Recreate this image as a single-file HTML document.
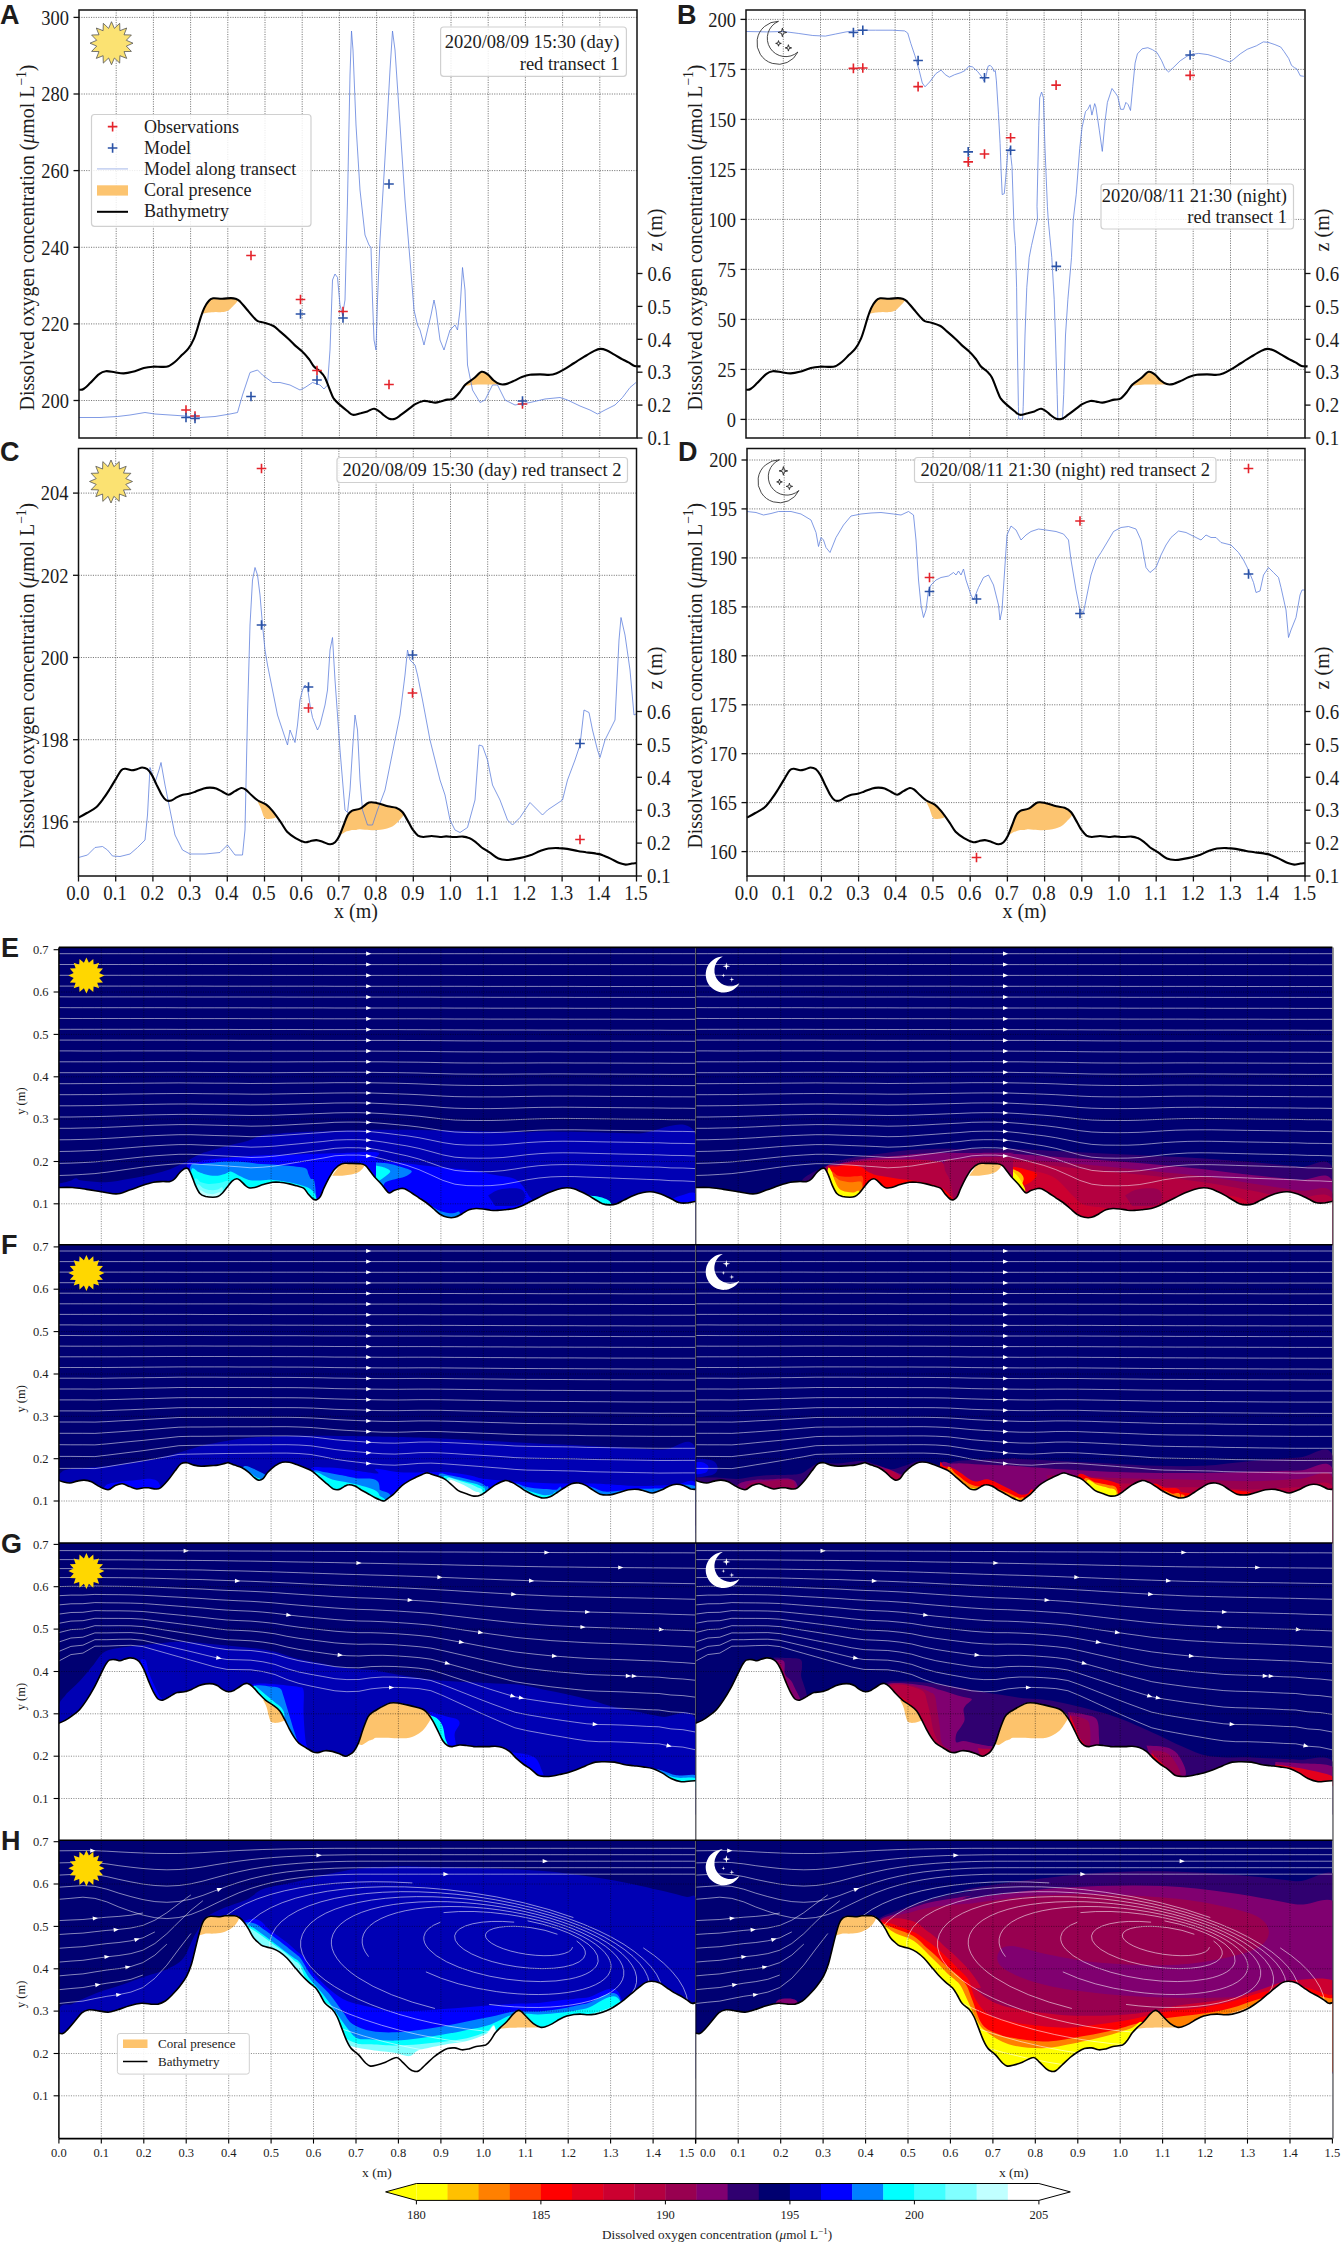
<!DOCTYPE html><html><head><meta charset="utf-8"><style>html,body{margin:0;padding:0;background:#fff;width:1342px;height:2244px;overflow:hidden}svg{display:block}text{fill:#1c1c1c}</style></head><body>
<svg width="1342" height="2244" viewBox="0 0 1342 2244">
<rect width="1342" height="2244" fill="#fff"/>
<g>
<line x1="116.2" y1="10" x2="116.2" y2="438" stroke="#555" stroke-width="0.8" stroke-dasharray="1.1 1.3"/>
<line x1="153.4" y1="10" x2="153.4" y2="438" stroke="#555" stroke-width="0.8" stroke-dasharray="1.1 1.3"/>
<line x1="190.6" y1="10" x2="190.6" y2="438" stroke="#555" stroke-width="0.8" stroke-dasharray="1.1 1.3"/>
<line x1="227.8" y1="10" x2="227.8" y2="438" stroke="#555" stroke-width="0.8" stroke-dasharray="1.1 1.3"/>
<line x1="265" y1="10" x2="265" y2="438" stroke="#555" stroke-width="0.8" stroke-dasharray="1.1 1.3"/>
<line x1="302.2" y1="10" x2="302.2" y2="438" stroke="#555" stroke-width="0.8" stroke-dasharray="1.1 1.3"/>
<line x1="339.4" y1="10" x2="339.4" y2="438" stroke="#555" stroke-width="0.8" stroke-dasharray="1.1 1.3"/>
<line x1="376.6" y1="10" x2="376.6" y2="438" stroke="#555" stroke-width="0.8" stroke-dasharray="1.1 1.3"/>
<line x1="413.8" y1="10" x2="413.8" y2="438" stroke="#555" stroke-width="0.8" stroke-dasharray="1.1 1.3"/>
<line x1="451" y1="10" x2="451" y2="438" stroke="#555" stroke-width="0.8" stroke-dasharray="1.1 1.3"/>
<line x1="488.2" y1="10" x2="488.2" y2="438" stroke="#555" stroke-width="0.8" stroke-dasharray="1.1 1.3"/>
<line x1="525.4" y1="10" x2="525.4" y2="438" stroke="#555" stroke-width="0.8" stroke-dasharray="1.1 1.3"/>
<line x1="562.6" y1="10" x2="562.6" y2="438" stroke="#555" stroke-width="0.8" stroke-dasharray="1.1 1.3"/>
<line x1="599.8" y1="10" x2="599.8" y2="438" stroke="#555" stroke-width="0.8" stroke-dasharray="1.1 1.3"/>
<line x1="79" y1="400.5" x2="637" y2="400.5" stroke="#555" stroke-width="0.8" stroke-dasharray="1.1 1.3"/>
<line x1="79" y1="323.9" x2="637" y2="323.9" stroke="#555" stroke-width="0.8" stroke-dasharray="1.1 1.3"/>
<line x1="79" y1="247.3" x2="637" y2="247.3" stroke="#555" stroke-width="0.8" stroke-dasharray="1.1 1.3"/>
<line x1="79" y1="170.6" x2="637" y2="170.6" stroke="#555" stroke-width="0.8" stroke-dasharray="1.1 1.3"/>
<line x1="79" y1="94" x2="637" y2="94" stroke="#555" stroke-width="0.8" stroke-dasharray="1.1 1.3"/>
<line x1="79" y1="17.4" x2="637" y2="17.4" stroke="#555" stroke-width="0.8" stroke-dasharray="1.1 1.3"/>
<path d="M202,313.7 C202.5,312.6 204,309.2 205.3,307 C206.6,304.8 208.5,301.7 209.8,300.3 C211.1,298.9 211.1,298.8 213.1,298.5 C215.2,298.2 219.1,298.8 222.1,298.7 C225.1,298.7 228.4,298 231,298.3 C233.6,298.5 237.3,299 237.7,300.3 C238.1,301.6 234.9,304.1 233.2,305.9 C231.6,307.6 229.5,309.8 227.7,310.8 C225.8,311.8 224.1,312 222.1,312.1 C220,312.3 217.6,311.8 215.4,311.9 C213.1,312 209.8,312.5 208.7,312.6Z" fill="#fcc470"/>
<path d="M464.5,386.1 C465.4,385.3 467.7,383.1 469.6,381.5 C471.4,379.9 473.6,378.1 475.6,376.5 C477.6,374.8 479.6,372.2 481.6,371.8 C483.7,371.5 485.7,373 487.7,374.4 C489.7,375.9 491.9,378.9 493.7,380.5 C495.6,382.1 499.1,383.4 498.7,384.1 C498.4,384.8 495.2,384.4 491.7,384.5 C488.2,384.6 481.6,384.3 477.6,384.5 C473.6,384.7 469.2,385.3 467.6,385.5Z" fill="#fcc470"/>
<path d="M79,417.5 L100,417.5 L117.5,416.5 L130,415 L145,412.5 L155,414 L170,415 L185,416 L200,417.5 L215,416.5 L230,414 L237.5,412.5 L242.5,395 L250,372.5 L257.5,370 L262.5,375 L272.5,382.5 L280,382.5 L290,385 L300,390 L305,387.5 L312.5,382.5 L320,385 L324,389 L327.5,385 L330,350 L332.5,280 L335,274 L337.5,277.5 L340,305 L342.5,315 L345,300 L347.5,200 L350,75 L351.5,31 L353,50 L356,125 L360,190 L365,235 L369,245 L371,247.5 L372.5,300 L374,340 L376,350 L377.5,300 L380,240 L384,175 L387.5,115 L390,70 L392.5,31 L395,50 L400,125 L405,200 L410,260 L414,310 L417.5,325 L420,330 L424,345 L427.5,330 L431,315 L434,300 L436,310 L440,340 L444,350 L450,330 L455,325 L457.5,330 L460,310 L462.5,267.5 L465,290 L467.5,365 L472.5,390 L480,402.5 L485,400 L492.5,385 L497.5,385 L505,400 L515,405 L530,402.5 L545,399 L560,397.5 L567.5,400 L580,406 L590,410 L597.5,414 L605,410 L615,405 L622.5,397.5 L630,387.5 L636,382.5" fill="none" stroke="#5a7cdc" stroke-width="0.85" stroke-opacity="0.9" stroke-linejoin="round"/>
<path d="M79,389.7 C79.7,389.6 81.6,390.2 83.5,389 C85.3,387.9 87.6,385.5 90.2,383 C92.8,380.5 96.5,376 99.1,374.1 C101.7,372.1 103.2,371.5 105.8,371.2 C108.4,370.9 111.8,371.9 114.8,372.3 C117.7,372.7 120.7,373.5 123.7,373.4 C126.7,373.3 129.3,372.7 132.7,371.8 C136,370.9 140.5,368.9 143.8,368 C147.2,367.2 149.8,366.9 152.8,366.7 C155.8,366.5 159.1,367 161.7,366.9 C164.3,366.8 166.2,367.1 168.4,366.2 C170.7,365.4 172.9,363.6 175.1,361.8 C177.4,359.9 179.6,357.3 181.8,355.1 C184.1,352.8 186.5,351.2 188.5,348.4 C190.6,345.6 192.6,341.7 194.1,338.3 C195.6,334.9 196.4,331.8 197.5,328.2 C198.6,324.7 199.7,320.4 200.8,317.1 C202,313.7 202.9,310.8 204.2,308.1 C205.5,305.4 207.2,302.6 208.7,301 C210.1,299.3 210.9,298.7 213.1,298.3 C215.4,297.9 219.1,298.8 222.1,298.7 C225.1,298.7 228.8,298.1 231,298.1 C233.2,298.1 234,298.2 235.5,298.7 C237,299.3 238.1,299.7 240,301.4 C241.8,303.2 244.4,306.6 246.7,309.2 C248.9,311.8 251.5,315.1 253.4,317.1 C255.2,319 256,320.2 257.8,321.1 C259.7,322 261.9,321.8 264.5,322.7 C267.2,323.5 270.9,324.5 273.5,326 C276.1,327.5 277.6,329.4 280.2,331.6 C282.8,333.8 286.5,337 289.1,339.4 C291.7,341.8 293.6,344.1 295.8,346.1 C298.1,348.2 300.3,349.5 302.5,351.7 C304.8,353.9 307.4,357.1 309.3,359.5 C311.1,362 311.9,364.2 313.7,366.2 C315.6,368.3 318.6,370 320.4,371.8 C322.3,373.7 323.4,374.6 324.9,377.4 C326.4,380.2 327.9,385.1 329.4,388.6 C330.9,392.1 332,395.9 333.8,398.7 C335.7,401.5 338.3,403.3 340.5,405.4 C342.8,407.4 345.2,409.4 347.3,411 C349.3,412.5 350.6,414.4 352.8,414.8 C355.1,415.1 358.2,413.7 360.7,413.2 C363.1,412.6 365.1,412.1 367.4,411.4 C369.6,410.7 371.8,408.5 374.1,408.7 C376.4,408.9 379.6,411.7 381,412.7 C382.5,413.7 381.7,413.7 383.1,414.7 C384.4,415.7 387.1,418 389.1,418.7 C391.1,419.4 393.1,419.4 395.1,418.7 C397.1,418 398.8,416.4 401.2,414.7 C403.5,413 406.9,410.4 409.2,408.6 C411.6,406.9 412.9,405.5 415.3,404.2 C417.6,402.9 421,401.4 423.3,401 C425.6,400.6 427.3,401.3 429.3,401.6 C431.3,401.9 433.4,402.7 435.4,402.6 C437.4,402.5 439.4,401.7 441.4,401.2 C443.4,400.7 445.4,400 447.4,399.6 C449.5,399.2 451.5,399.8 453.5,398.6 C455.5,397.4 457.5,394.9 459.5,392.5 C461.5,390.2 463.2,386.8 465.5,384.5 C467.9,382.2 470.9,380.6 473.6,378.5 C476.3,376.4 479.3,372.5 481.6,371.8 C484,371.2 485.7,373 487.7,374.4 C489.7,375.9 491.7,378.9 493.7,380.5 C495.7,382.1 497.7,383.5 499.8,384.1 C501.8,384.7 503.4,384.6 505.8,384.1 C508.1,383.6 511.2,382.1 513.8,380.9 C516.5,379.7 519.2,378.1 521.9,377.1 C524.6,376.1 526.9,375.3 529.9,374.8 C532.9,374.4 536.6,374.4 540,374.4 C543.3,374.4 547.4,375 550,374.8 C552.7,374.7 553.7,374.3 556.1,373.4 C558.4,372.5 561.1,371.2 564.1,369.4 C567.2,367.7 570.8,365.1 574.2,363 C577.5,360.9 580.9,358.7 584.3,356.7 C587.6,354.7 591.6,352.2 594.3,350.9 C597,349.6 598.3,349 600.3,348.9 C602.4,348.8 604,349.3 606.4,350.3 C608.7,351.3 611.7,353.2 614.4,354.7 C617.1,356.2 620.1,358.1 622.5,359.4 C624.8,360.6 626.5,361.3 628.5,362.4 C630.5,363.5 632.5,365.3 634.5,366 C636.6,366.7 639.6,366.3 640.6,366.4" fill="none" stroke="#000" stroke-width="2.1" stroke-linejoin="round"/>
<path d="M181.2,410H190.8M186,405.2V414.8" stroke="#e4232b" stroke-width="1.6" fill="none"/>
<path d="M190.2,416H199.8M195,411.2V420.8" stroke="#e4232b" stroke-width="1.6" fill="none"/>
<path d="M246.2,255.5H255.8M251,250.7V260.3" stroke="#e4232b" stroke-width="1.6" fill="none"/>
<path d="M295.7,299.5H305.3M300.5,294.7V304.3" stroke="#e4232b" stroke-width="1.6" fill="none"/>
<path d="M312.2,370.5H321.8M317,365.7V375.3" stroke="#e4232b" stroke-width="1.6" fill="none"/>
<path d="M338.2,311.5H347.8M343,306.7V316.3" stroke="#e4232b" stroke-width="1.6" fill="none"/>
<path d="M384.2,384.5H393.8M389,379.7V389.3" stroke="#e4232b" stroke-width="1.6" fill="none"/>
<path d="M517.7,404H527.3M522.5,399.2V408.8" stroke="#e4232b" stroke-width="1.6" fill="none"/>
<path d="M181.2,417.5H190.8M186,412.7V422.3" stroke="#2a52a6" stroke-width="1.6" fill="none"/>
<path d="M190.2,418.5H199.8M195,413.7V423.3" stroke="#2a52a6" stroke-width="1.6" fill="none"/>
<path d="M246.2,396.5H255.8M251,391.7V401.3" stroke="#2a52a6" stroke-width="1.6" fill="none"/>
<path d="M295.7,314H305.3M300.5,309.2V318.8" stroke="#2a52a6" stroke-width="1.6" fill="none"/>
<path d="M312.2,380H321.8M317,375.2V384.8" stroke="#2a52a6" stroke-width="1.6" fill="none"/>
<path d="M338.2,318H347.8M343,313.2V322.8" stroke="#2a52a6" stroke-width="1.6" fill="none"/>
<path d="M384.2,184H393.8M389,179.2V188.8" stroke="#2a52a6" stroke-width="1.6" fill="none"/>
<path d="M517.7,401H527.3M522.5,396.2V405.8" stroke="#2a52a6" stroke-width="1.6" fill="none"/>
<rect x="79" y="10" width="558" height="428" fill="none" stroke="#111" stroke-width="1.5"/>
<line x1="73.5" y1="400.5" x2="79" y2="400.5" stroke="#111" stroke-width="1.3"/>
<text transform="translate(69,407.7) scale(0.9,1)" font-size="20.5" text-anchor="end" style="font-family:'Liberation Serif',serif" >200</text>
<line x1="73.5" y1="323.9" x2="79" y2="323.9" stroke="#111" stroke-width="1.3"/>
<text transform="translate(69,331.1) scale(0.9,1)" font-size="20.5" text-anchor="end" style="font-family:'Liberation Serif',serif" >220</text>
<line x1="73.5" y1="247.3" x2="79" y2="247.3" stroke="#111" stroke-width="1.3"/>
<text transform="translate(69,254.5) scale(0.9,1)" font-size="20.5" text-anchor="end" style="font-family:'Liberation Serif',serif" >240</text>
<line x1="73.5" y1="170.6" x2="79" y2="170.6" stroke="#111" stroke-width="1.3"/>
<text transform="translate(69,177.8) scale(0.9,1)" font-size="20.5" text-anchor="end" style="font-family:'Liberation Serif',serif" >260</text>
<line x1="73.5" y1="94" x2="79" y2="94" stroke="#111" stroke-width="1.3"/>
<text transform="translate(69,101.2) scale(0.9,1)" font-size="20.5" text-anchor="end" style="font-family:'Liberation Serif',serif" >280</text>
<line x1="73.5" y1="17.4" x2="79" y2="17.4" stroke="#111" stroke-width="1.3"/>
<text transform="translate(69,24.6) scale(0.9,1)" font-size="20.5" text-anchor="end" style="font-family:'Liberation Serif',serif" >300</text>
<line x1="637" y1="438" x2="642.5" y2="438" stroke="#111" stroke-width="1.3"/>
<text transform="translate(647.5,445.2) scale(0.92,1)" font-size="20.5" text-anchor="start" style="font-family:'Liberation Serif',serif" >0.1</text>
<line x1="637" y1="405.1" x2="642.5" y2="405.1" stroke="#111" stroke-width="1.3"/>
<text transform="translate(647.5,412.3) scale(0.92,1)" font-size="20.5" text-anchor="start" style="font-family:'Liberation Serif',serif" >0.2</text>
<line x1="637" y1="372.2" x2="642.5" y2="372.2" stroke="#111" stroke-width="1.3"/>
<text transform="translate(647.5,379.4) scale(0.92,1)" font-size="20.5" text-anchor="start" style="font-family:'Liberation Serif',serif" >0.3</text>
<line x1="637" y1="339.3" x2="642.5" y2="339.3" stroke="#111" stroke-width="1.3"/>
<text transform="translate(647.5,346.5) scale(0.92,1)" font-size="20.5" text-anchor="start" style="font-family:'Liberation Serif',serif" >0.4</text>
<line x1="637" y1="306.4" x2="642.5" y2="306.4" stroke="#111" stroke-width="1.3"/>
<text transform="translate(647.5,313.6) scale(0.92,1)" font-size="20.5" text-anchor="start" style="font-family:'Liberation Serif',serif" >0.5</text>
<line x1="637" y1="273.5" x2="642.5" y2="273.5" stroke="#111" stroke-width="1.3"/>
<text transform="translate(647.5,280.7) scale(0.92,1)" font-size="20.5" text-anchor="start" style="font-family:'Liberation Serif',serif" >0.6</text>
<text x="0" y="0" font-size="21" text-anchor="middle" style="font-family:'Liberation Serif',serif" transform="translate(34.2,237.5) rotate(-90) scale(0.944,1)">Dissolved oxygen concentration (<tspan font-style="italic">μ</tspan>mol L<tspan dy="-8.5" font-size="14.5">−1</tspan><tspan dy="8.5">)</tspan></text>
<text x="0" y="0" font-size="20" text-anchor="middle" style="font-family:'Liberation Serif',serif" transform="translate(661.9,230) rotate(-90)">z (m)</text>
</g>
<g>
<line x1="783.3" y1="10" x2="783.3" y2="438" stroke="#555" stroke-width="0.8" stroke-dasharray="1.1 1.3"/>
<line x1="820.5" y1="10" x2="820.5" y2="438" stroke="#555" stroke-width="0.8" stroke-dasharray="1.1 1.3"/>
<line x1="857.8" y1="10" x2="857.8" y2="438" stroke="#555" stroke-width="0.8" stroke-dasharray="1.1 1.3"/>
<line x1="895.1" y1="10" x2="895.1" y2="438" stroke="#555" stroke-width="0.8" stroke-dasharray="1.1 1.3"/>
<line x1="932.3" y1="10" x2="932.3" y2="438" stroke="#555" stroke-width="0.8" stroke-dasharray="1.1 1.3"/>
<line x1="969.6" y1="10" x2="969.6" y2="438" stroke="#555" stroke-width="0.8" stroke-dasharray="1.1 1.3"/>
<line x1="1006.9" y1="10" x2="1006.9" y2="438" stroke="#555" stroke-width="0.8" stroke-dasharray="1.1 1.3"/>
<line x1="1044.1" y1="10" x2="1044.1" y2="438" stroke="#555" stroke-width="0.8" stroke-dasharray="1.1 1.3"/>
<line x1="1081.4" y1="10" x2="1081.4" y2="438" stroke="#555" stroke-width="0.8" stroke-dasharray="1.1 1.3"/>
<line x1="1118.7" y1="10" x2="1118.7" y2="438" stroke="#555" stroke-width="0.8" stroke-dasharray="1.1 1.3"/>
<line x1="1155.9" y1="10" x2="1155.9" y2="438" stroke="#555" stroke-width="0.8" stroke-dasharray="1.1 1.3"/>
<line x1="1193.2" y1="10" x2="1193.2" y2="438" stroke="#555" stroke-width="0.8" stroke-dasharray="1.1 1.3"/>
<line x1="1230.5" y1="10" x2="1230.5" y2="438" stroke="#555" stroke-width="0.8" stroke-dasharray="1.1 1.3"/>
<line x1="1267.7" y1="10" x2="1267.7" y2="438" stroke="#555" stroke-width="0.8" stroke-dasharray="1.1 1.3"/>
<line x1="746" y1="419.4" x2="1305" y2="419.4" stroke="#555" stroke-width="0.8" stroke-dasharray="1.1 1.3"/>
<line x1="746" y1="369.4" x2="1305" y2="369.4" stroke="#555" stroke-width="0.8" stroke-dasharray="1.1 1.3"/>
<line x1="746" y1="319.4" x2="1305" y2="319.4" stroke="#555" stroke-width="0.8" stroke-dasharray="1.1 1.3"/>
<line x1="746" y1="269.4" x2="1305" y2="269.4" stroke="#555" stroke-width="0.8" stroke-dasharray="1.1 1.3"/>
<line x1="746" y1="219.4" x2="1305" y2="219.4" stroke="#555" stroke-width="0.8" stroke-dasharray="1.1 1.3"/>
<line x1="746" y1="169.4" x2="1305" y2="169.4" stroke="#555" stroke-width="0.8" stroke-dasharray="1.1 1.3"/>
<line x1="746" y1="119.4" x2="1305" y2="119.4" stroke="#555" stroke-width="0.8" stroke-dasharray="1.1 1.3"/>
<line x1="746" y1="69.4" x2="1305" y2="69.4" stroke="#555" stroke-width="0.8" stroke-dasharray="1.1 1.3"/>
<line x1="746" y1="19.4" x2="1305" y2="19.4" stroke="#555" stroke-width="0.8" stroke-dasharray="1.1 1.3"/>
<path d="M869,313.7 C869.5,312.6 871,309.2 872.3,307 C873.6,304.8 875.5,301.7 876.8,300.3 C878.1,298.9 878.1,298.8 880.1,298.5 C882.2,298.2 886.1,298.8 889.1,298.7 C892.1,298.7 895.4,298 898,298.3 C900.6,298.5 904.3,299 904.7,300.3 C905.1,301.6 901.9,304.1 900.2,305.9 C898.6,307.6 896.5,309.8 894.7,310.8 C892.8,311.8 891.1,312 889.1,312.1 C887,312.3 884.6,311.8 882.4,311.9 C880.1,312 876.8,312.5 875.7,312.6Z" fill="#fcc470"/>
<path d="M1131.5,386.1 C1132.4,385.3 1134.7,383.1 1136.6,381.5 C1138.4,379.9 1140.6,378.1 1142.6,376.5 C1144.6,374.8 1146.6,372.2 1148.6,371.8 C1150.7,371.5 1152.7,373 1154.7,374.4 C1156.7,375.9 1158.9,378.9 1160.7,380.5 C1162.6,382.1 1166.1,383.4 1165.7,384.1 C1165.4,384.8 1162.2,384.4 1158.7,384.5 C1155.2,384.6 1148.6,384.3 1144.6,384.5 C1140.6,384.7 1136.2,385.3 1134.6,385.5Z" fill="#fcc470"/>
<path d="M746,31.5 L766.9,31.9 L783.6,31.5 L798.2,33.4 L812.8,35.5 L825.3,36.1 L835.7,34 L846.1,31.9 L854.5,30.9 L862.8,30.2 L875.4,30.2 L892.1,30.2 L904.6,30.9 L907.7,33 L910.8,43.4 L915,55.9 L919.2,70.5 L922.3,83 L925,86.8 L929.6,82 L935.9,73.6 L941.1,70.1 L945.3,74.7 L949.4,77.2 L954.6,74.7 L960.9,72.6 L965.1,70.5 L968.8,66.3 L972.4,66.8 L977.6,71.5 L981.8,76.8 L983.9,80.9 L985.9,76.8 L988,66.3 L990.1,65.3 L992.2,67.4 L993.9,71.5 L995.3,70.5 L996.4,80.9 L998.5,114.3 L1000.1,143.5 L1001,168.6 L1002.2,194.6 L1004.3,193.6 L1005.8,176.9 L1007.8,151.9 L1009.9,147.7 L1012,166.5 L1014.1,229.9 L1015.4,245.6 L1016.6,287.3 L1017.2,335 L1018.4,406.5 L1018.7,419 L1022.6,419 L1023.2,406.5 L1025,335 L1026.8,287.3 L1029.2,257.5 L1031.5,245.6 L1037.5,219.3 L1037,206.3 L1038.8,125.5 L1039.7,97.8 L1041.6,92 L1043.4,97.8 L1045,148.6 L1047.4,206.3 L1048.2,219.3 L1051.8,257.5 L1054.2,299.2 L1055.4,335 L1057.2,394.6 L1057.8,419 L1062.5,419 L1063.7,394.6 L1065.5,335 L1067.9,299.2 L1071.5,257.5 L1073.3,219.3 L1076.2,194.8 L1079.7,148.6 L1082,127.8 L1085.5,111.6 L1087.8,109.3 L1090.1,104.7 L1091.9,115.1 L1094.7,103.6 L1095.9,107 L1099.3,130.1 L1102.3,151.4 L1105.1,120.9 L1107.4,102.4 L1112,88.5 L1115.5,93.2 L1117.8,96.6 L1120.6,109.3 L1123.6,109.3 L1125.9,102.4 L1128.2,104.7 L1130.5,110.5 L1132.8,86.2 L1135.1,63.1 L1137.4,53.9 L1142.1,48.8 L1147.8,47.7 L1152.5,49.7 L1157.1,52.7 L1161.7,60.8 L1165.2,68.9 L1168.6,71.9 L1173.2,67.7 L1180.2,60.8 L1187.1,56.2 L1191.7,54.4 L1198.7,53.4 L1207.9,54.6 L1217.1,57.4 L1224.1,60.1 L1229.8,62 L1233.3,59.7 L1240.2,53.9 L1247.2,49.3 L1256.4,45.8 L1263.3,41.9 L1268,42.3 L1274.9,44.6 L1280.7,47 L1284.1,51.6 L1288.7,58.5 L1291.5,65.4 L1294.5,67.7 L1296.8,68.9 L1300.3,75.8 L1303.8,76.3" fill="none" stroke="#5a7cdc" stroke-width="0.85" stroke-opacity="0.9" stroke-linejoin="round"/>
<path d="M746,389.7 C746.7,389.6 748.6,390.2 750.5,389 C752.3,387.9 754.6,385.5 757.2,383 C759.8,380.5 763.5,376 766.1,374.1 C768.7,372.1 770.2,371.5 772.8,371.2 C775.4,370.9 778.8,371.9 781.8,372.3 C784.7,372.7 787.7,373.5 790.7,373.4 C793.7,373.3 796.3,372.7 799.7,371.8 C803,370.9 807.5,368.9 810.8,368 C814.2,367.2 816.8,366.9 819.8,366.7 C822.8,366.5 826.1,367 828.7,366.9 C831.3,366.8 833.2,367.1 835.4,366.2 C837.7,365.4 839.9,363.6 842.1,361.8 C844.4,359.9 846.6,357.3 848.8,355.1 C851.1,352.8 853.5,351.2 855.5,348.4 C857.6,345.6 859.6,341.7 861.1,338.3 C862.6,334.9 863.4,331.8 864.5,328.2 C865.6,324.7 866.7,320.4 867.8,317.1 C869,313.7 869.9,310.8 871.2,308.1 C872.5,305.4 874.2,302.6 875.7,301 C877.1,299.3 877.9,298.7 880.1,298.3 C882.4,297.9 886.1,298.8 889.1,298.7 C892.1,298.7 895.8,298.1 898,298.1 C900.2,298.1 901,298.2 902.5,298.7 C904,299.3 905.1,299.7 907,301.4 C908.8,303.2 911.4,306.6 913.7,309.2 C915.9,311.8 918.5,315.1 920.4,317.1 C922.2,319 923,320.2 924.8,321.1 C926.7,322 928.9,321.8 931.5,322.7 C934.2,323.5 937.9,324.5 940.5,326 C943.1,327.5 944.6,329.4 947.2,331.6 C949.8,333.8 953.5,337 956.1,339.4 C958.7,341.8 960.6,344.1 962.8,346.1 C965.1,348.2 967.3,349.5 969.5,351.7 C971.8,353.9 974.4,357.1 976.3,359.5 C978.1,362 978.9,364.2 980.7,366.2 C982.6,368.3 985.6,370 987.4,371.8 C989.3,373.7 990.4,374.6 991.9,377.4 C993.4,380.2 994.9,385.1 996.4,388.6 C997.9,392.1 999,395.9 1000.8,398.7 C1002.7,401.5 1005.3,403.3 1007.5,405.4 C1009.8,407.4 1012.2,409.4 1014.3,411 C1016.3,412.5 1017.6,414.4 1019.8,414.8 C1022.1,415.1 1025.2,413.7 1027.7,413.2 C1030.1,412.6 1032.1,412.1 1034.4,411.4 C1036.6,410.7 1038.8,408.5 1041.1,408.7 C1043.4,408.9 1046.6,411.7 1048,412.7 C1049.5,413.7 1048.7,413.7 1050.1,414.7 C1051.4,415.7 1054.1,418 1056.1,418.7 C1058.1,419.4 1060.1,419.4 1062.1,418.7 C1064.1,418 1065.8,416.4 1068.2,414.7 C1070.5,413 1073.9,410.4 1076.2,408.6 C1078.6,406.9 1079.9,405.5 1082.3,404.2 C1084.6,402.9 1088,401.4 1090.3,401 C1092.6,400.6 1094.3,401.3 1096.3,401.6 C1098.3,401.9 1100.4,402.7 1102.4,402.6 C1104.4,402.5 1106.4,401.7 1108.4,401.2 C1110.4,400.7 1112.4,400 1114.4,399.6 C1116.5,399.2 1118.5,399.8 1120.5,398.6 C1122.5,397.4 1124.5,394.9 1126.5,392.5 C1128.5,390.2 1130.2,386.8 1132.5,384.5 C1134.9,382.2 1137.9,380.6 1140.6,378.5 C1143.3,376.4 1146.3,372.5 1148.6,371.8 C1151,371.2 1152.7,373 1154.7,374.4 C1156.7,375.9 1158.7,378.9 1160.7,380.5 C1162.7,382.1 1164.7,383.5 1166.8,384.1 C1168.8,384.7 1170.4,384.6 1172.8,384.1 C1175.1,383.6 1178.2,382.1 1180.8,380.9 C1183.5,379.7 1186.2,378.1 1188.9,377.1 C1191.6,376.1 1193.9,375.3 1196.9,374.8 C1199.9,374.4 1203.6,374.4 1207,374.4 C1210.3,374.4 1214.4,375 1217,374.8 C1219.7,374.7 1220.7,374.3 1223.1,373.4 C1225.4,372.5 1228.1,371.2 1231.1,369.4 C1234.2,367.7 1237.8,365.1 1241.2,363 C1244.5,360.9 1247.9,358.7 1251.3,356.7 C1254.6,354.7 1258.6,352.2 1261.3,350.9 C1264,349.6 1265.3,349 1267.3,348.9 C1269.4,348.8 1271,349.3 1273.4,350.3 C1275.7,351.3 1278.7,353.2 1281.4,354.7 C1284.1,356.2 1287.1,358.1 1289.5,359.4 C1291.8,360.6 1293.5,361.3 1295.5,362.4 C1297.5,363.5 1299.5,365.3 1301.5,366 C1303.6,366.7 1306.6,366.3 1307.6,366.4" fill="none" stroke="#000" stroke-width="2.1" stroke-linejoin="round"/>
<path d="M848.6,68.4H858.2M853.4,63.6V73.2" stroke="#e4232b" stroke-width="1.6" fill="none"/>
<path d="M858,68H867.6M862.8,63.2V72.8" stroke="#e4232b" stroke-width="1.6" fill="none"/>
<path d="M913.3,86.6H922.9M918.1,81.8V91.4" stroke="#e4232b" stroke-width="1.6" fill="none"/>
<path d="M963.4,161.9H973M968.2,157.1V166.7" stroke="#e4232b" stroke-width="1.6" fill="none"/>
<path d="M979.7,154H989.3M984.5,149.2V158.8" stroke="#e4232b" stroke-width="1.6" fill="none"/>
<path d="M1005.8,137.7H1015.4M1010.6,132.9V142.5" stroke="#e4232b" stroke-width="1.6" fill="none"/>
<path d="M1051.3,85.1H1060.9M1056.1,80.3V89.9" stroke="#e4232b" stroke-width="1.6" fill="none"/>
<path d="M1185.3,75.4H1194.9M1190.1,70.6V80.2" stroke="#e4232b" stroke-width="1.6" fill="none"/>
<path d="M848.6,32.5H858.2M853.4,27.7V37.3" stroke="#2a52a6" stroke-width="1.6" fill="none"/>
<path d="M858,30.2H867.6M862.8,25.4V35" stroke="#2a52a6" stroke-width="1.6" fill="none"/>
<path d="M913.3,60.5H922.9M918.1,55.7V65.3" stroke="#2a52a6" stroke-width="1.6" fill="none"/>
<path d="M979.7,77.8H989.3M984.5,73V82.6" stroke="#2a52a6" stroke-width="1.6" fill="none"/>
<path d="M963.4,151.9H973M968.2,147.1V156.7" stroke="#2a52a6" stroke-width="1.6" fill="none"/>
<path d="M1005.8,150.2H1015.4M1010.6,145.4V155" stroke="#2a52a6" stroke-width="1.6" fill="none"/>
<path d="M1051.5,266.4H1061.1M1056.3,261.6V271.2" stroke="#2a52a6" stroke-width="1.6" fill="none"/>
<path d="M1185.3,55H1194.9M1190.1,50.2V59.8" stroke="#2a52a6" stroke-width="1.6" fill="none"/>
<rect x="746" y="10" width="559" height="428" fill="none" stroke="#111" stroke-width="1.5"/>
<line x1="740.5" y1="419.4" x2="746" y2="419.4" stroke="#111" stroke-width="1.3"/>
<text transform="translate(736,426.6) scale(0.9,1)" font-size="20.5" text-anchor="end" style="font-family:'Liberation Serif',serif" >0</text>
<line x1="740.5" y1="369.4" x2="746" y2="369.4" stroke="#111" stroke-width="1.3"/>
<text transform="translate(736,376.6) scale(0.9,1)" font-size="20.5" text-anchor="end" style="font-family:'Liberation Serif',serif" >25</text>
<line x1="740.5" y1="319.4" x2="746" y2="319.4" stroke="#111" stroke-width="1.3"/>
<text transform="translate(736,326.6) scale(0.9,1)" font-size="20.5" text-anchor="end" style="font-family:'Liberation Serif',serif" >50</text>
<line x1="740.5" y1="269.4" x2="746" y2="269.4" stroke="#111" stroke-width="1.3"/>
<text transform="translate(736,276.6) scale(0.9,1)" font-size="20.5" text-anchor="end" style="font-family:'Liberation Serif',serif" >75</text>
<line x1="740.5" y1="219.4" x2="746" y2="219.4" stroke="#111" stroke-width="1.3"/>
<text transform="translate(736,226.6) scale(0.9,1)" font-size="20.5" text-anchor="end" style="font-family:'Liberation Serif',serif" >100</text>
<line x1="740.5" y1="169.4" x2="746" y2="169.4" stroke="#111" stroke-width="1.3"/>
<text transform="translate(736,176.6) scale(0.9,1)" font-size="20.5" text-anchor="end" style="font-family:'Liberation Serif',serif" >125</text>
<line x1="740.5" y1="119.4" x2="746" y2="119.4" stroke="#111" stroke-width="1.3"/>
<text transform="translate(736,126.6) scale(0.9,1)" font-size="20.5" text-anchor="end" style="font-family:'Liberation Serif',serif" >150</text>
<line x1="740.5" y1="69.4" x2="746" y2="69.4" stroke="#111" stroke-width="1.3"/>
<text transform="translate(736,76.6) scale(0.9,1)" font-size="20.5" text-anchor="end" style="font-family:'Liberation Serif',serif" >175</text>
<line x1="740.5" y1="19.4" x2="746" y2="19.4" stroke="#111" stroke-width="1.3"/>
<text transform="translate(736,26.6) scale(0.9,1)" font-size="20.5" text-anchor="end" style="font-family:'Liberation Serif',serif" >200</text>
<line x1="1305" y1="438" x2="1310.5" y2="438" stroke="#111" stroke-width="1.3"/>
<text transform="translate(1315.5,445.2) scale(0.92,1)" font-size="20.5" text-anchor="start" style="font-family:'Liberation Serif',serif" >0.1</text>
<line x1="1305" y1="405.1" x2="1310.5" y2="405.1" stroke="#111" stroke-width="1.3"/>
<text transform="translate(1315.5,412.3) scale(0.92,1)" font-size="20.5" text-anchor="start" style="font-family:'Liberation Serif',serif" >0.2</text>
<line x1="1305" y1="372.2" x2="1310.5" y2="372.2" stroke="#111" stroke-width="1.3"/>
<text transform="translate(1315.5,379.4) scale(0.92,1)" font-size="20.5" text-anchor="start" style="font-family:'Liberation Serif',serif" >0.3</text>
<line x1="1305" y1="339.3" x2="1310.5" y2="339.3" stroke="#111" stroke-width="1.3"/>
<text transform="translate(1315.5,346.5) scale(0.92,1)" font-size="20.5" text-anchor="start" style="font-family:'Liberation Serif',serif" >0.4</text>
<line x1="1305" y1="306.4" x2="1310.5" y2="306.4" stroke="#111" stroke-width="1.3"/>
<text transform="translate(1315.5,313.6) scale(0.92,1)" font-size="20.5" text-anchor="start" style="font-family:'Liberation Serif',serif" >0.5</text>
<line x1="1305" y1="273.5" x2="1310.5" y2="273.5" stroke="#111" stroke-width="1.3"/>
<text transform="translate(1315.5,280.7) scale(0.92,1)" font-size="20.5" text-anchor="start" style="font-family:'Liberation Serif',serif" >0.6</text>
<text x="0" y="0" font-size="21" text-anchor="middle" style="font-family:'Liberation Serif',serif" transform="translate(701.6,237.5) rotate(-90) scale(0.944,1)">Dissolved oxygen concentration (<tspan font-style="italic">μ</tspan>mol L<tspan dy="-8.5" font-size="14.5">−1</tspan><tspan dy="8.5">)</tspan></text>
<text x="0" y="0" font-size="20" text-anchor="middle" style="font-family:'Liberation Serif',serif" transform="translate(1329,230) rotate(-90)">z (m)</text>
</g>
<g>
<line x1="115.7" y1="448.5" x2="115.7" y2="876" stroke="#555" stroke-width="0.8" stroke-dasharray="1.1 1.3"/>
<line x1="152.9" y1="448.5" x2="152.9" y2="876" stroke="#555" stroke-width="0.8" stroke-dasharray="1.1 1.3"/>
<line x1="190.1" y1="448.5" x2="190.1" y2="876" stroke="#555" stroke-width="0.8" stroke-dasharray="1.1 1.3"/>
<line x1="227.3" y1="448.5" x2="227.3" y2="876" stroke="#555" stroke-width="0.8" stroke-dasharray="1.1 1.3"/>
<line x1="264.5" y1="448.5" x2="264.5" y2="876" stroke="#555" stroke-width="0.8" stroke-dasharray="1.1 1.3"/>
<line x1="301.7" y1="448.5" x2="301.7" y2="876" stroke="#555" stroke-width="0.8" stroke-dasharray="1.1 1.3"/>
<line x1="338.9" y1="448.5" x2="338.9" y2="876" stroke="#555" stroke-width="0.8" stroke-dasharray="1.1 1.3"/>
<line x1="376.1" y1="448.5" x2="376.1" y2="876" stroke="#555" stroke-width="0.8" stroke-dasharray="1.1 1.3"/>
<line x1="413.3" y1="448.5" x2="413.3" y2="876" stroke="#555" stroke-width="0.8" stroke-dasharray="1.1 1.3"/>
<line x1="450.5" y1="448.5" x2="450.5" y2="876" stroke="#555" stroke-width="0.8" stroke-dasharray="1.1 1.3"/>
<line x1="487.7" y1="448.5" x2="487.7" y2="876" stroke="#555" stroke-width="0.8" stroke-dasharray="1.1 1.3"/>
<line x1="524.9" y1="448.5" x2="524.9" y2="876" stroke="#555" stroke-width="0.8" stroke-dasharray="1.1 1.3"/>
<line x1="562.1" y1="448.5" x2="562.1" y2="876" stroke="#555" stroke-width="0.8" stroke-dasharray="1.1 1.3"/>
<line x1="599.3" y1="448.5" x2="599.3" y2="876" stroke="#555" stroke-width="0.8" stroke-dasharray="1.1 1.3"/>
<line x1="78.5" y1="821.9" x2="636.5" y2="821.9" stroke="#555" stroke-width="0.8" stroke-dasharray="1.1 1.3"/>
<line x1="78.5" y1="739.7" x2="636.5" y2="739.7" stroke="#555" stroke-width="0.8" stroke-dasharray="1.1 1.3"/>
<line x1="78.5" y1="657.5" x2="636.5" y2="657.5" stroke="#555" stroke-width="0.8" stroke-dasharray="1.1 1.3"/>
<line x1="78.5" y1="575.3" x2="636.5" y2="575.3" stroke="#555" stroke-width="0.8" stroke-dasharray="1.1 1.3"/>
<line x1="78.5" y1="493.1" x2="636.5" y2="493.1" stroke="#555" stroke-width="0.8" stroke-dasharray="1.1 1.3"/>
<path d="M257.5,801.5 C258.1,802.8 260,806.2 261.1,808.9 C262.2,811.5 263,815.5 264.2,817.2 C265.4,818.9 266.5,818.9 268.4,818.9 C270.3,818.9 275,818.5 275.7,817.2 C276.4,815.9 274.1,813 272.5,810.9 C271,808.9 267.3,805.7 266.3,804.7Z" fill="#fcc470"/>
<path d="M340.3,834.9 C340.9,833.4 342.3,828.8 343.5,825.5 C344.7,822.2 346.3,817.5 347.7,815.1 C349,812.7 350,811.9 351.8,810.9 C353.6,810 357,809.9 358.5,809.5 C360,809.1 358.9,809.6 360.7,808.4 C362.4,807.3 366.2,803.5 369,802.6 C371.8,801.7 374.2,802.6 377.4,803.2 C380.5,803.8 384.7,805.6 387.8,806.3 C390.9,807.1 393.5,806.5 396.1,807.8 C398.8,809.1 403.1,811.8 403.4,814.1 C403.8,816.3 400.5,819.1 398.2,821.4 C396,823.6 393.4,826.2 389.9,827.6 C386.4,829.1 381.5,829.8 377.4,830.1 C373.2,830.5 368.3,829.9 364.8,829.7 C361.4,829.6 357.6,829.3 356.5,829.3 C355.4,829.3 359.3,829.6 358.5,829.7 C357.7,829.9 354,829.8 351.8,830.1 C349.7,830.5 346.6,831.5 345.6,831.8Z" fill="#fcc470"/>
<path d="M78.5,857.5 L87.5,855 L95,847.5 L102.5,846.5 L107.5,850 L112.5,856 L120,856.5 L130,854 L137.5,847.5 L145,840 L147.5,815 L150,767.5 L152.5,775 L155,782.5 L159,770 L161,762.5 L165,785 L170,810 L175,835 L182.5,850 L190,854 L205,854 L220,852.5 L227.5,845 L235,855 L242.5,855 L245,830 L247.5,715 L250,625 L252.5,580 L255,567.5 L257.5,575 L260,595 L262.5,625 L265,650 L267.5,665 L272.5,690 L277.5,715 L282.5,730 L287.5,745 L290,730 L295,742.5 L297.5,725 L300,700 L302.5,690 L305,685 L307.5,687.5 L310,705 L312.5,717.5 L317.5,730 L320,725 L325,705 L327.5,690 L330,650 L332.5,637.5 L335,680 L340,750 L345,810 L347.5,812.5 L350,790 L352.5,750 L355,715 L357.5,730 L360,780 L362.5,810 L367.5,825 L372.5,825 L377.5,810 L385,790 L395,740 L400,715 L405,675 L407.5,650 L410,660 L415,665 L417.5,675 L422.5,700 L430,740 L435,760 L440,780 L445,795 L450,820 L455,830 L460,832.5 L467.5,827.5 L475,800 L479,745 L482.5,746 L487.5,760 L492.5,785 L500,800 L507.5,820 L512.5,825 L520,817.5 L530,802.5 L537.5,810 L542.5,815 L547.5,810 L555,805 L562.5,800 L567.5,780 L575,760 L580,745 L584,710 L589,712.5 L592.5,730 L597.5,750 L600,757.5 L605,740 L610,730 L615,720 L619,640 L621,617.5 L625,635 L630,670 L634,715 L636,714" fill="none" stroke="#5a7cdc" stroke-width="0.85" stroke-opacity="0.9" stroke-linejoin="round"/>
<path d="M78.5,817.6 C79.9,816.9 83.9,814.8 86.8,813 C89.8,811.3 93.5,809.6 96.2,807.2 C99,804.7 101.3,801.4 103.5,798.4 C105.8,795.4 107.7,792.3 109.8,789 C111.9,785.7 114.1,781.7 116.1,778.6 C118,775.5 119.7,771.9 121.3,770.3 C122.8,768.6 123.7,768.8 125.4,768.8 C127.2,768.8 129.8,770.2 131.7,770.3 C133.6,770.3 135.2,769.7 136.9,769.2 C138.7,768.8 140.4,767.5 142.1,767.5 C143.9,767.5 145.8,768.1 147.4,769.2 C148.9,770.4 150,771.8 151.5,774.4 C153.1,777 155,781.4 156.7,784.9 C158.5,788.3 160.4,792.8 162,795.3 C163.5,797.8 164.6,799.2 166.1,800.1 C167.7,801 169.6,801 171.3,800.5 C173.1,800.1 174.7,798.4 176.6,797.4 C178.5,796.4 180.7,795.3 182.8,794.7 C184.9,794.1 187,794.3 189.1,793.8 C191.2,793.3 192.9,792.6 195.3,791.7 C197.8,790.8 201.3,789.1 203.7,788.4 C206.1,787.7 207.9,787.6 209.9,787.6 C212,787.6 214.1,787.7 216.2,788.4 C218.3,789.1 220.4,790.7 222.5,791.7 C224.6,792.8 226.6,794.8 228.7,794.7 C230.8,794.6 232.9,792.2 235,791.1 C237.1,790 239.5,788.3 241.2,788 C243,787.7 243.7,788.2 245.4,789.4 C247.2,790.7 249.6,793.4 251.7,795.3 C253.8,797.1 255.5,798.9 257.9,800.5 C260.4,802.1 263.8,802.9 266.3,804.7 C268.7,806.4 270.1,808 272.5,810.9 C275,813.9 278.5,818.9 280.9,822.4 C283.3,825.9 284.7,829.2 287.1,831.8 C289.6,834.4 292.5,836.3 295.5,838.1 C298.4,839.8 302.4,841.7 304.9,842.2 C307.3,842.8 308.2,841.5 310.1,841.2 C312,840.8 314.3,840 316.4,840.1 C318.4,840.3 320.4,841.1 322.6,841.8 C324.9,842.5 327.8,844.3 329.9,844.3 C332,844.4 333.6,843.6 335.1,842.2 C336.7,840.8 337.9,838.8 339.3,836 C340.7,833.2 342.1,829 343.5,825.5 C344.9,822.1 346.3,817.5 347.7,815.1 C349,812.7 349.7,812.1 351.8,810.9 C354,809.8 357.8,809.8 360.7,808.4 C363.5,807 366.2,803.5 369,802.6 C371.8,801.7 374.2,802.6 377.4,803.2 C380.5,803.8 384.7,805.6 387.8,806.3 C390.9,807.1 393.7,806.9 396.1,807.8 C398.6,808.7 400.3,809.5 402.4,812 C404.5,814.4 406.9,819.5 408.7,822.4 C410.4,825.4 411.3,827.5 412.8,829.7 C414.4,831.9 416.3,834.3 418,835.6 C419.8,836.8 421,836.9 423.3,837 C425.5,837.1 428.8,836 431.6,836 C434.4,836 437.5,836.9 440,837 C442.4,837.1 443.8,836.4 446.2,836.4 C448.7,836.4 451.8,837 454.6,837 C457.3,837.1 460.5,836.4 462.9,836.6 C465.3,836.8 467.1,837.2 469.2,838.1 C471.3,838.9 473.3,840.3 475.4,841.8 C477.5,843.4 479.3,845.6 481.7,847.5 C484.1,849.3 487.3,850.8 490,852.7 C492.8,854.5 495.6,857.3 498.4,858.5 C501.2,859.7 503.9,859.9 506.7,860 C509.5,860 512.3,859.4 515.1,858.9 C517.9,858.5 520.6,858 523.4,857.3 C526.2,856.6 529,855.8 531.8,854.8 C534.5,853.7 537.3,852 540.1,851 C542.9,850 545.3,849 548.5,848.5 C551.6,848 555.8,848 558.9,848.1 C562,848.1 564.1,848.4 567.2,848.9 C570.4,849.4 574.5,850.4 577.7,851 C580.8,851.6 582.9,851.8 586,852.3 C589.1,852.7 593.7,853.2 596.4,853.7 C599.2,854.2 600.3,854.3 602.7,855.2 C605.1,856 608.3,857.6 611,858.9 C613.8,860.2 617,862.2 619.4,863.1 C621.8,864 623.6,864.5 625.7,864.6 C627.7,864.6 630.1,863.8 631.9,863.5 C633.7,863.3 635.7,863.2 636.5,863.1" fill="none" stroke="#000" stroke-width="2.1" stroke-linejoin="round"/>
<path d="M256.7,468.5H266.3M261.5,463.7V473.3" stroke="#e4232b" stroke-width="1.6" fill="none"/>
<path d="M303.7,708H313.3M308.5,703.2V712.8" stroke="#e4232b" stroke-width="1.6" fill="none"/>
<path d="M407.7,693H417.3M412.5,688.2V697.8" stroke="#e4232b" stroke-width="1.6" fill="none"/>
<path d="M575.2,839.5H584.8M580,834.7V844.3" stroke="#e4232b" stroke-width="1.6" fill="none"/>
<path d="M256.7,625H266.3M261.5,620.2V629.8" stroke="#2a52a6" stroke-width="1.6" fill="none"/>
<path d="M303.7,687H313.3M308.5,682.2V691.8" stroke="#2a52a6" stroke-width="1.6" fill="none"/>
<path d="M407.7,655H417.3M412.5,650.2V659.8" stroke="#2a52a6" stroke-width="1.6" fill="none"/>
<path d="M575.2,743.5H584.8M580,738.7V748.3" stroke="#2a52a6" stroke-width="1.6" fill="none"/>
<rect x="78.5" y="448.5" width="558" height="427.5" fill="none" stroke="#111" stroke-width="1.5"/>
<line x1="73" y1="821.9" x2="78.5" y2="821.9" stroke="#111" stroke-width="1.3"/>
<text transform="translate(68.5,829.1) scale(0.9,1)" font-size="20.5" text-anchor="end" style="font-family:'Liberation Serif',serif" >196</text>
<line x1="73" y1="739.7" x2="78.5" y2="739.7" stroke="#111" stroke-width="1.3"/>
<text transform="translate(68.5,746.9) scale(0.9,1)" font-size="20.5" text-anchor="end" style="font-family:'Liberation Serif',serif" >198</text>
<line x1="73" y1="657.5" x2="78.5" y2="657.5" stroke="#111" stroke-width="1.3"/>
<text transform="translate(68.5,664.7) scale(0.9,1)" font-size="20.5" text-anchor="end" style="font-family:'Liberation Serif',serif" >200</text>
<line x1="73" y1="575.3" x2="78.5" y2="575.3" stroke="#111" stroke-width="1.3"/>
<text transform="translate(68.5,582.5) scale(0.9,1)" font-size="20.5" text-anchor="end" style="font-family:'Liberation Serif',serif" >202</text>
<line x1="73" y1="493.1" x2="78.5" y2="493.1" stroke="#111" stroke-width="1.3"/>
<text transform="translate(68.5,500.3) scale(0.9,1)" font-size="20.5" text-anchor="end" style="font-family:'Liberation Serif',serif" >204</text>
<line x1="636.5" y1="876" x2="642" y2="876" stroke="#111" stroke-width="1.3"/>
<text transform="translate(647,883.2) scale(0.92,1)" font-size="20.5" text-anchor="start" style="font-family:'Liberation Serif',serif" >0.1</text>
<line x1="636.5" y1="843.1" x2="642" y2="843.1" stroke="#111" stroke-width="1.3"/>
<text transform="translate(647,850.3) scale(0.92,1)" font-size="20.5" text-anchor="start" style="font-family:'Liberation Serif',serif" >0.2</text>
<line x1="636.5" y1="810.2" x2="642" y2="810.2" stroke="#111" stroke-width="1.3"/>
<text transform="translate(647,817.4) scale(0.92,1)" font-size="20.5" text-anchor="start" style="font-family:'Liberation Serif',serif" >0.3</text>
<line x1="636.5" y1="777.3" x2="642" y2="777.3" stroke="#111" stroke-width="1.3"/>
<text transform="translate(647,784.5) scale(0.92,1)" font-size="20.5" text-anchor="start" style="font-family:'Liberation Serif',serif" >0.4</text>
<line x1="636.5" y1="744.4" x2="642" y2="744.4" stroke="#111" stroke-width="1.3"/>
<text transform="translate(647,751.6) scale(0.92,1)" font-size="20.5" text-anchor="start" style="font-family:'Liberation Serif',serif" >0.5</text>
<line x1="636.5" y1="711.5" x2="642" y2="711.5" stroke="#111" stroke-width="1.3"/>
<text transform="translate(647,718.7) scale(0.92,1)" font-size="20.5" text-anchor="start" style="font-family:'Liberation Serif',serif" >0.6</text>
<line x1="78.5" y1="876" x2="78.5" y2="881.5" stroke="#111" stroke-width="1.3"/>
<text transform="translate(77.9,900) scale(0.92,1)" font-size="20.5" text-anchor="middle" style="font-family:'Liberation Serif',serif" >0.0</text>
<line x1="115.7" y1="876" x2="115.7" y2="881.5" stroke="#111" stroke-width="1.3"/>
<text transform="translate(115.1,900) scale(0.92,1)" font-size="20.5" text-anchor="middle" style="font-family:'Liberation Serif',serif" >0.1</text>
<line x1="152.9" y1="876" x2="152.9" y2="881.5" stroke="#111" stroke-width="1.3"/>
<text transform="translate(152.3,900) scale(0.92,1)" font-size="20.5" text-anchor="middle" style="font-family:'Liberation Serif',serif" >0.2</text>
<line x1="190.1" y1="876" x2="190.1" y2="881.5" stroke="#111" stroke-width="1.3"/>
<text transform="translate(189.5,900) scale(0.92,1)" font-size="20.5" text-anchor="middle" style="font-family:'Liberation Serif',serif" >0.3</text>
<line x1="227.3" y1="876" x2="227.3" y2="881.5" stroke="#111" stroke-width="1.3"/>
<text transform="translate(226.7,900) scale(0.92,1)" font-size="20.5" text-anchor="middle" style="font-family:'Liberation Serif',serif" >0.4</text>
<line x1="264.5" y1="876" x2="264.5" y2="881.5" stroke="#111" stroke-width="1.3"/>
<text transform="translate(263.9,900) scale(0.92,1)" font-size="20.5" text-anchor="middle" style="font-family:'Liberation Serif',serif" >0.5</text>
<line x1="301.7" y1="876" x2="301.7" y2="881.5" stroke="#111" stroke-width="1.3"/>
<text transform="translate(301.1,900) scale(0.92,1)" font-size="20.5" text-anchor="middle" style="font-family:'Liberation Serif',serif" >0.6</text>
<line x1="338.9" y1="876" x2="338.9" y2="881.5" stroke="#111" stroke-width="1.3"/>
<text transform="translate(338.3,900) scale(0.92,1)" font-size="20.5" text-anchor="middle" style="font-family:'Liberation Serif',serif" >0.7</text>
<line x1="376.1" y1="876" x2="376.1" y2="881.5" stroke="#111" stroke-width="1.3"/>
<text transform="translate(375.5,900) scale(0.92,1)" font-size="20.5" text-anchor="middle" style="font-family:'Liberation Serif',serif" >0.8</text>
<line x1="413.3" y1="876" x2="413.3" y2="881.5" stroke="#111" stroke-width="1.3"/>
<text transform="translate(412.7,900) scale(0.92,1)" font-size="20.5" text-anchor="middle" style="font-family:'Liberation Serif',serif" >0.9</text>
<line x1="450.5" y1="876" x2="450.5" y2="881.5" stroke="#111" stroke-width="1.3"/>
<text transform="translate(449.9,900) scale(0.92,1)" font-size="20.5" text-anchor="middle" style="font-family:'Liberation Serif',serif" >1.0</text>
<line x1="487.7" y1="876" x2="487.7" y2="881.5" stroke="#111" stroke-width="1.3"/>
<text transform="translate(487.1,900) scale(0.92,1)" font-size="20.5" text-anchor="middle" style="font-family:'Liberation Serif',serif" >1.1</text>
<line x1="524.9" y1="876" x2="524.9" y2="881.5" stroke="#111" stroke-width="1.3"/>
<text transform="translate(524.3,900) scale(0.92,1)" font-size="20.5" text-anchor="middle" style="font-family:'Liberation Serif',serif" >1.2</text>
<line x1="562.1" y1="876" x2="562.1" y2="881.5" stroke="#111" stroke-width="1.3"/>
<text transform="translate(561.5,900) scale(0.92,1)" font-size="20.5" text-anchor="middle" style="font-family:'Liberation Serif',serif" >1.3</text>
<line x1="599.3" y1="876" x2="599.3" y2="881.5" stroke="#111" stroke-width="1.3"/>
<text transform="translate(598.7,900) scale(0.92,1)" font-size="20.5" text-anchor="middle" style="font-family:'Liberation Serif',serif" >1.4</text>
<line x1="636.5" y1="876" x2="636.5" y2="881.5" stroke="#111" stroke-width="1.3"/>
<text transform="translate(635.9,900) scale(0.92,1)" font-size="20.5" text-anchor="middle" style="font-family:'Liberation Serif',serif" >1.5</text>
<text x="356" y="918" font-size="20" text-anchor="middle" style="font-family:'Liberation Serif',serif" >x (m)</text>
<text x="0" y="0" font-size="21" text-anchor="middle" style="font-family:'Liberation Serif',serif" transform="translate(34.2,675.7) rotate(-90) scale(0.944,1)">Dissolved oxygen concentration (<tspan font-style="italic">μ</tspan>mol L<tspan dy="-8.5" font-size="14.5">−1</tspan><tspan dy="8.5">)</tspan></text>
<text x="0" y="0" font-size="20" text-anchor="middle" style="font-family:'Liberation Serif',serif" transform="translate(661.9,668) rotate(-90)">z (m)</text>
</g>
<g>
<line x1="784.2" y1="448.5" x2="784.2" y2="876" stroke="#555" stroke-width="0.8" stroke-dasharray="1.1 1.3"/>
<line x1="821.4" y1="448.5" x2="821.4" y2="876" stroke="#555" stroke-width="0.8" stroke-dasharray="1.1 1.3"/>
<line x1="858.6" y1="448.5" x2="858.6" y2="876" stroke="#555" stroke-width="0.8" stroke-dasharray="1.1 1.3"/>
<line x1="895.8" y1="448.5" x2="895.8" y2="876" stroke="#555" stroke-width="0.8" stroke-dasharray="1.1 1.3"/>
<line x1="933" y1="448.5" x2="933" y2="876" stroke="#555" stroke-width="0.8" stroke-dasharray="1.1 1.3"/>
<line x1="970.2" y1="448.5" x2="970.2" y2="876" stroke="#555" stroke-width="0.8" stroke-dasharray="1.1 1.3"/>
<line x1="1007.4" y1="448.5" x2="1007.4" y2="876" stroke="#555" stroke-width="0.8" stroke-dasharray="1.1 1.3"/>
<line x1="1044.6" y1="448.5" x2="1044.6" y2="876" stroke="#555" stroke-width="0.8" stroke-dasharray="1.1 1.3"/>
<line x1="1081.8" y1="448.5" x2="1081.8" y2="876" stroke="#555" stroke-width="0.8" stroke-dasharray="1.1 1.3"/>
<line x1="1119" y1="448.5" x2="1119" y2="876" stroke="#555" stroke-width="0.8" stroke-dasharray="1.1 1.3"/>
<line x1="1156.2" y1="448.5" x2="1156.2" y2="876" stroke="#555" stroke-width="0.8" stroke-dasharray="1.1 1.3"/>
<line x1="1193.4" y1="448.5" x2="1193.4" y2="876" stroke="#555" stroke-width="0.8" stroke-dasharray="1.1 1.3"/>
<line x1="1230.6" y1="448.5" x2="1230.6" y2="876" stroke="#555" stroke-width="0.8" stroke-dasharray="1.1 1.3"/>
<line x1="1267.8" y1="448.5" x2="1267.8" y2="876" stroke="#555" stroke-width="0.8" stroke-dasharray="1.1 1.3"/>
<line x1="747" y1="851.6" x2="1305" y2="851.6" stroke="#555" stroke-width="0.8" stroke-dasharray="1.1 1.3"/>
<line x1="747" y1="802.6" x2="1305" y2="802.6" stroke="#555" stroke-width="0.8" stroke-dasharray="1.1 1.3"/>
<line x1="747" y1="753.7" x2="1305" y2="753.7" stroke="#555" stroke-width="0.8" stroke-dasharray="1.1 1.3"/>
<line x1="747" y1="704.8" x2="1305" y2="704.8" stroke="#555" stroke-width="0.8" stroke-dasharray="1.1 1.3"/>
<line x1="747" y1="655.8" x2="1305" y2="655.8" stroke="#555" stroke-width="0.8" stroke-dasharray="1.1 1.3"/>
<line x1="747" y1="606.9" x2="1305" y2="606.9" stroke="#555" stroke-width="0.8" stroke-dasharray="1.1 1.3"/>
<line x1="747" y1="557.9" x2="1305" y2="557.9" stroke="#555" stroke-width="0.8" stroke-dasharray="1.1 1.3"/>
<line x1="747" y1="508.9" x2="1305" y2="508.9" stroke="#555" stroke-width="0.8" stroke-dasharray="1.1 1.3"/>
<line x1="747" y1="460" x2="1305" y2="460" stroke="#555" stroke-width="0.8" stroke-dasharray="1.1 1.3"/>
<path d="M926,801.5 C926.6,802.8 928.5,806.2 929.6,808.9 C930.7,811.5 931.5,815.5 932.7,817.2 C933.9,818.9 935,818.9 936.9,818.9 C938.8,818.9 943.5,818.5 944.2,817.2 C944.9,815.9 942.6,813 941,810.9 C939.5,808.9 935.8,805.7 934.8,804.7Z" fill="#fcc470"/>
<path d="M1008.8,834.9 C1009.4,833.4 1010.8,828.8 1012,825.5 C1013.2,822.2 1014.8,817.5 1016.2,815.1 C1017.5,812.7 1018.5,811.9 1020.3,810.9 C1022.1,810 1025.5,809.9 1027,809.5 C1028.5,809.1 1027.4,809.6 1029.2,808.4 C1030.9,807.3 1034.7,803.5 1037.5,802.6 C1040.3,801.7 1042.7,802.6 1045.9,803.2 C1049,803.8 1053.2,805.6 1056.3,806.3 C1059.4,807.1 1062,806.5 1064.6,807.8 C1067.3,809.1 1071.6,811.8 1071.9,814.1 C1072.3,816.3 1069,819.1 1066.7,821.4 C1064.5,823.6 1061.9,826.2 1058.4,827.6 C1054.9,829.1 1050,829.8 1045.9,830.1 C1041.7,830.5 1036.8,829.9 1033.3,829.7 C1029.9,829.6 1026.1,829.3 1025,829.3 C1023.9,829.3 1027.8,829.6 1027,829.7 C1026.2,829.9 1022.5,829.8 1020.3,830.1 C1018.2,830.5 1015.1,831.5 1014.1,831.8Z" fill="#fcc470"/>
<path d="M747,511.5 L756,512.5 L763.5,515 L771,513.5 L778.5,511.5 L791,511.5 L801,514 L811,520 L816,532.5 L818.5,546.5 L821,537.5 L823.5,540 L826,547.5 L830,552.5 L836,537.5 L843.5,525 L851,516 L861,514 L871,513 L881,512.5 L893.5,514 L901,515 L908.5,511.5 L913.5,515 L916,540 L918.5,580 L921,605 L923.5,617.5 L926,610 L928.5,590 L931,585 L936,580 L941,577.5 L948.5,576 L953.5,572.5 L956,575 L958.5,571 L961,575 L963.5,569 L966,580 L971,595 L973.5,600 L978.5,587.5 L983.5,577.5 L988.5,575 L993.5,585 L998.5,605 L1000,620 L1002,610 L1005,565 L1007,535 L1011,526 L1016,530 L1021,540 L1026,535 L1031,531.5 L1038.5,529 L1046,530 L1056,531.5 L1063.5,534 L1068.5,540 L1071,560 L1076,590 L1080,610 L1083.5,612.5 L1086,600 L1091,575 L1096,560 L1101,552.5 L1108.5,540 L1113.5,531.5 L1121,527.5 L1128.5,526.5 L1136,529 L1141,540 L1146,567.5 L1150,572.5 L1156,567.5 L1161,555 L1166,545 L1171,537.5 L1178.5,531 L1186,532.5 L1196,537.5 L1201,540 L1206,535 L1211,537.5 L1216,537.5 L1221,542.5 L1231,545 L1238.5,552.5 L1243.5,560 L1248.5,570 L1253.5,582.5 L1256,592.5 L1260,591 L1263.5,575 L1268.5,567.5 L1273.5,572.5 L1278.5,577.5 L1281,587.5 L1286,610 L1288.5,637.5 L1291,630 L1296,617.5 L1300,595 L1302,590 L1305,590" fill="none" stroke="#5a7cdc" stroke-width="0.85" stroke-opacity="0.9" stroke-linejoin="round"/>
<path d="M747,817.6 C748.4,816.9 752.4,814.8 755.3,813 C758.3,811.3 762,809.6 764.7,807.2 C767.5,804.7 769.8,801.4 772,798.4 C774.3,795.4 776.2,792.3 778.3,789 C780.4,785.7 782.6,781.7 784.6,778.6 C786.5,775.5 788.2,771.9 789.8,770.3 C791.3,768.6 792.2,768.8 793.9,768.8 C795.7,768.8 798.3,770.2 800.2,770.3 C802.1,770.3 803.7,769.7 805.4,769.2 C807.2,768.8 808.9,767.5 810.6,767.5 C812.4,767.5 814.3,768.1 815.9,769.2 C817.4,770.4 818.5,771.8 820,774.4 C821.6,777 823.5,781.4 825.2,784.9 C827,788.3 828.9,792.8 830.5,795.3 C832,797.8 833.1,799.2 834.6,800.1 C836.2,801 838.1,801 839.8,800.5 C841.6,800.1 843.2,798.4 845.1,797.4 C847,796.4 849.2,795.3 851.3,794.7 C853.4,794.1 855.5,794.3 857.6,793.8 C859.7,793.3 861.4,792.6 863.8,791.7 C866.3,790.8 869.8,789.1 872.2,788.4 C874.6,787.7 876.4,787.6 878.4,787.6 C880.5,787.6 882.6,787.7 884.7,788.4 C886.8,789.1 888.9,790.7 891,791.7 C893.1,792.8 895.1,794.8 897.2,794.7 C899.3,794.6 901.4,792.2 903.5,791.1 C905.6,790 908,788.3 909.7,788 C911.5,787.7 912.2,788.2 913.9,789.4 C915.7,790.7 918.1,793.4 920.2,795.3 C922.3,797.1 924,798.9 926.4,800.5 C928.9,802.1 932.3,802.9 934.8,804.7 C937.2,806.4 938.6,808 941,810.9 C943.5,813.9 947,818.9 949.4,822.4 C951.8,825.9 953.2,829.2 955.6,831.8 C958.1,834.4 961,836.3 964,838.1 C966.9,839.8 970.9,841.7 973.4,842.2 C975.8,842.8 976.7,841.5 978.6,841.2 C980.5,840.8 982.8,840 984.9,840.1 C986.9,840.3 988.9,841.1 991.1,841.8 C993.4,842.5 996.3,844.3 998.4,844.3 C1000.5,844.4 1002.1,843.6 1003.6,842.2 C1005.2,840.8 1006.4,838.8 1007.8,836 C1009.2,833.2 1010.6,829 1012,825.5 C1013.4,822.1 1014.8,817.5 1016.2,815.1 C1017.5,812.7 1018.2,812.1 1020.3,810.9 C1022.5,809.8 1026.3,809.8 1029.2,808.4 C1032,807 1034.7,803.5 1037.5,802.6 C1040.3,801.7 1042.7,802.6 1045.9,803.2 C1049,803.8 1053.2,805.6 1056.3,806.3 C1059.4,807.1 1062.2,806.9 1064.6,807.8 C1067.1,808.7 1068.8,809.5 1070.9,812 C1073,814.4 1075.4,819.5 1077.2,822.4 C1078.9,825.4 1079.8,827.5 1081.3,829.7 C1082.9,831.9 1084.8,834.3 1086.5,835.6 C1088.3,836.8 1089.5,836.9 1091.8,837 C1094,837.1 1097.3,836 1100.1,836 C1102.9,836 1106,836.9 1108.5,837 C1110.9,837.1 1112.3,836.4 1114.7,836.4 C1117.2,836.4 1120.3,837 1123.1,837 C1125.8,837.1 1129,836.4 1131.4,836.6 C1133.8,836.8 1135.6,837.2 1137.7,838.1 C1139.8,838.9 1141.8,840.3 1143.9,841.8 C1146,843.4 1147.8,845.6 1150.2,847.5 C1152.6,849.3 1155.8,850.8 1158.5,852.7 C1161.3,854.5 1164.1,857.3 1166.9,858.5 C1169.7,859.7 1172.4,859.9 1175.2,860 C1178,860 1180.8,859.4 1183.6,858.9 C1186.4,858.5 1189.1,858 1191.9,857.3 C1194.7,856.6 1197.5,855.8 1200.3,854.8 C1203,853.7 1205.8,852 1208.6,851 C1211.4,850 1213.8,849 1217,848.5 C1220.1,848 1224.3,848 1227.4,848.1 C1230.5,848.1 1232.6,848.4 1235.7,848.9 C1238.9,849.4 1243,850.4 1246.2,851 C1249.3,851.6 1251.4,851.8 1254.5,852.3 C1257.6,852.7 1262.2,853.2 1264.9,853.7 C1267.7,854.2 1268.8,854.3 1271.2,855.2 C1273.6,856 1276.8,857.6 1279.5,858.9 C1282.3,860.2 1285.5,862.2 1287.9,863.1 C1290.3,864 1292.1,864.5 1294.2,864.6 C1296.2,864.6 1298.6,863.8 1300.4,863.5 C1302.2,863.3 1304.2,863.2 1305,863.1" fill="none" stroke="#000" stroke-width="2.1" stroke-linejoin="round"/>
<path d="M924.7,577.5H934.3M929.5,572.7V582.3" stroke="#e4232b" stroke-width="1.6" fill="none"/>
<path d="M971.7,857.5H981.3M976.5,852.7V862.3" stroke="#e4232b" stroke-width="1.6" fill="none"/>
<path d="M1075.2,521H1084.8M1080,516.2V525.8" stroke="#e4232b" stroke-width="1.6" fill="none"/>
<path d="M1243.7,468.5H1253.3M1248.5,463.7V473.3" stroke="#e4232b" stroke-width="1.6" fill="none"/>
<path d="M924.7,591.5H934.3M929.5,586.7V596.3" stroke="#2a52a6" stroke-width="1.6" fill="none"/>
<path d="M971.7,599H981.3M976.5,594.2V603.8" stroke="#2a52a6" stroke-width="1.6" fill="none"/>
<path d="M1075.2,613.5H1084.8M1080,608.7V618.3" stroke="#2a52a6" stroke-width="1.6" fill="none"/>
<path d="M1243.7,574H1253.3M1248.5,569.2V578.8" stroke="#2a52a6" stroke-width="1.6" fill="none"/>
<rect x="747" y="448.5" width="558" height="427.5" fill="none" stroke="#111" stroke-width="1.5"/>
<line x1="741.5" y1="851.6" x2="747" y2="851.6" stroke="#111" stroke-width="1.3"/>
<text transform="translate(737,858.8) scale(0.9,1)" font-size="20.5" text-anchor="end" style="font-family:'Liberation Serif',serif" >160</text>
<line x1="741.5" y1="802.6" x2="747" y2="802.6" stroke="#111" stroke-width="1.3"/>
<text transform="translate(737,809.9) scale(0.9,1)" font-size="20.5" text-anchor="end" style="font-family:'Liberation Serif',serif" >165</text>
<line x1="741.5" y1="753.7" x2="747" y2="753.7" stroke="#111" stroke-width="1.3"/>
<text transform="translate(737,760.9) scale(0.9,1)" font-size="20.5" text-anchor="end" style="font-family:'Liberation Serif',serif" >170</text>
<line x1="741.5" y1="704.8" x2="747" y2="704.8" stroke="#111" stroke-width="1.3"/>
<text transform="translate(737,712) scale(0.9,1)" font-size="20.5" text-anchor="end" style="font-family:'Liberation Serif',serif" >175</text>
<line x1="741.5" y1="655.8" x2="747" y2="655.8" stroke="#111" stroke-width="1.3"/>
<text transform="translate(737,663) scale(0.9,1)" font-size="20.5" text-anchor="end" style="font-family:'Liberation Serif',serif" >180</text>
<line x1="741.5" y1="606.9" x2="747" y2="606.9" stroke="#111" stroke-width="1.3"/>
<text transform="translate(737,614.1) scale(0.9,1)" font-size="20.5" text-anchor="end" style="font-family:'Liberation Serif',serif" >185</text>
<line x1="741.5" y1="557.9" x2="747" y2="557.9" stroke="#111" stroke-width="1.3"/>
<text transform="translate(737,565.1) scale(0.9,1)" font-size="20.5" text-anchor="end" style="font-family:'Liberation Serif',serif" >190</text>
<line x1="741.5" y1="508.9" x2="747" y2="508.9" stroke="#111" stroke-width="1.3"/>
<text transform="translate(737,516.1) scale(0.9,1)" font-size="20.5" text-anchor="end" style="font-family:'Liberation Serif',serif" >195</text>
<line x1="741.5" y1="460" x2="747" y2="460" stroke="#111" stroke-width="1.3"/>
<text transform="translate(737,467.2) scale(0.9,1)" font-size="20.5" text-anchor="end" style="font-family:'Liberation Serif',serif" >200</text>
<line x1="1305" y1="876" x2="1310.5" y2="876" stroke="#111" stroke-width="1.3"/>
<text transform="translate(1315.5,883.2) scale(0.92,1)" font-size="20.5" text-anchor="start" style="font-family:'Liberation Serif',serif" >0.1</text>
<line x1="1305" y1="843.1" x2="1310.5" y2="843.1" stroke="#111" stroke-width="1.3"/>
<text transform="translate(1315.5,850.3) scale(0.92,1)" font-size="20.5" text-anchor="start" style="font-family:'Liberation Serif',serif" >0.2</text>
<line x1="1305" y1="810.2" x2="1310.5" y2="810.2" stroke="#111" stroke-width="1.3"/>
<text transform="translate(1315.5,817.4) scale(0.92,1)" font-size="20.5" text-anchor="start" style="font-family:'Liberation Serif',serif" >0.3</text>
<line x1="1305" y1="777.3" x2="1310.5" y2="777.3" stroke="#111" stroke-width="1.3"/>
<text transform="translate(1315.5,784.5) scale(0.92,1)" font-size="20.5" text-anchor="start" style="font-family:'Liberation Serif',serif" >0.4</text>
<line x1="1305" y1="744.4" x2="1310.5" y2="744.4" stroke="#111" stroke-width="1.3"/>
<text transform="translate(1315.5,751.6) scale(0.92,1)" font-size="20.5" text-anchor="start" style="font-family:'Liberation Serif',serif" >0.5</text>
<line x1="1305" y1="711.5" x2="1310.5" y2="711.5" stroke="#111" stroke-width="1.3"/>
<text transform="translate(1315.5,718.7) scale(0.92,1)" font-size="20.5" text-anchor="start" style="font-family:'Liberation Serif',serif" >0.6</text>
<line x1="747" y1="876" x2="747" y2="881.5" stroke="#111" stroke-width="1.3"/>
<text transform="translate(746.4,900) scale(0.92,1)" font-size="20.5" text-anchor="middle" style="font-family:'Liberation Serif',serif" >0.0</text>
<line x1="784.2" y1="876" x2="784.2" y2="881.5" stroke="#111" stroke-width="1.3"/>
<text transform="translate(783.6,900) scale(0.92,1)" font-size="20.5" text-anchor="middle" style="font-family:'Liberation Serif',serif" >0.1</text>
<line x1="821.4" y1="876" x2="821.4" y2="881.5" stroke="#111" stroke-width="1.3"/>
<text transform="translate(820.8,900) scale(0.92,1)" font-size="20.5" text-anchor="middle" style="font-family:'Liberation Serif',serif" >0.2</text>
<line x1="858.6" y1="876" x2="858.6" y2="881.5" stroke="#111" stroke-width="1.3"/>
<text transform="translate(858,900) scale(0.92,1)" font-size="20.5" text-anchor="middle" style="font-family:'Liberation Serif',serif" >0.3</text>
<line x1="895.8" y1="876" x2="895.8" y2="881.5" stroke="#111" stroke-width="1.3"/>
<text transform="translate(895.2,900) scale(0.92,1)" font-size="20.5" text-anchor="middle" style="font-family:'Liberation Serif',serif" >0.4</text>
<line x1="933" y1="876" x2="933" y2="881.5" stroke="#111" stroke-width="1.3"/>
<text transform="translate(932.4,900) scale(0.92,1)" font-size="20.5" text-anchor="middle" style="font-family:'Liberation Serif',serif" >0.5</text>
<line x1="970.2" y1="876" x2="970.2" y2="881.5" stroke="#111" stroke-width="1.3"/>
<text transform="translate(969.6,900) scale(0.92,1)" font-size="20.5" text-anchor="middle" style="font-family:'Liberation Serif',serif" >0.6</text>
<line x1="1007.4" y1="876" x2="1007.4" y2="881.5" stroke="#111" stroke-width="1.3"/>
<text transform="translate(1006.8,900) scale(0.92,1)" font-size="20.5" text-anchor="middle" style="font-family:'Liberation Serif',serif" >0.7</text>
<line x1="1044.6" y1="876" x2="1044.6" y2="881.5" stroke="#111" stroke-width="1.3"/>
<text transform="translate(1044,900) scale(0.92,1)" font-size="20.5" text-anchor="middle" style="font-family:'Liberation Serif',serif" >0.8</text>
<line x1="1081.8" y1="876" x2="1081.8" y2="881.5" stroke="#111" stroke-width="1.3"/>
<text transform="translate(1081.2,900) scale(0.92,1)" font-size="20.5" text-anchor="middle" style="font-family:'Liberation Serif',serif" >0.9</text>
<line x1="1119" y1="876" x2="1119" y2="881.5" stroke="#111" stroke-width="1.3"/>
<text transform="translate(1118.4,900) scale(0.92,1)" font-size="20.5" text-anchor="middle" style="font-family:'Liberation Serif',serif" >1.0</text>
<line x1="1156.2" y1="876" x2="1156.2" y2="881.5" stroke="#111" stroke-width="1.3"/>
<text transform="translate(1155.6,900) scale(0.92,1)" font-size="20.5" text-anchor="middle" style="font-family:'Liberation Serif',serif" >1.1</text>
<line x1="1193.4" y1="876" x2="1193.4" y2="881.5" stroke="#111" stroke-width="1.3"/>
<text transform="translate(1192.8,900) scale(0.92,1)" font-size="20.5" text-anchor="middle" style="font-family:'Liberation Serif',serif" >1.2</text>
<line x1="1230.6" y1="876" x2="1230.6" y2="881.5" stroke="#111" stroke-width="1.3"/>
<text transform="translate(1230,900) scale(0.92,1)" font-size="20.5" text-anchor="middle" style="font-family:'Liberation Serif',serif" >1.3</text>
<line x1="1267.8" y1="876" x2="1267.8" y2="881.5" stroke="#111" stroke-width="1.3"/>
<text transform="translate(1267.2,900) scale(0.92,1)" font-size="20.5" text-anchor="middle" style="font-family:'Liberation Serif',serif" >1.4</text>
<line x1="1305" y1="876" x2="1305" y2="881.5" stroke="#111" stroke-width="1.3"/>
<text transform="translate(1304.4,900) scale(0.92,1)" font-size="20.5" text-anchor="middle" style="font-family:'Liberation Serif',serif" >1.5</text>
<text x="1024.5" y="918" font-size="20" text-anchor="middle" style="font-family:'Liberation Serif',serif" >x (m)</text>
<text x="0" y="0" font-size="21" text-anchor="middle" style="font-family:'Liberation Serif',serif" transform="translate(701.6,675.7) rotate(-90) scale(0.944,1)">Dissolved oxygen concentration (<tspan font-style="italic">μ</tspan>mol L<tspan dy="-8.5" font-size="14.5">−1</tspan><tspan dy="8.5">)</tspan></text>
<text x="0" y="0" font-size="20" text-anchor="middle" style="font-family:'Liberation Serif',serif" transform="translate(1329,668) rotate(-90)">z (m)</text>
</g>
<text x="0" y="24" font-size="27" font-weight="bold" style="font-family:'Liberation Sans',sans-serif">A</text>
<text x="677" y="24" font-size="27" font-weight="bold" style="font-family:'Liberation Sans',sans-serif">B</text>
<text x="0" y="461" font-size="27" font-weight="bold" style="font-family:'Liberation Sans',sans-serif">C</text>
<text x="678" y="461" font-size="27" font-weight="bold" style="font-family:'Liberation Sans',sans-serif">D</text>
<path d="M111.5,21.7 L114.4,28.4 L119.7,23.3 L119.9,30.7 L126.7,28 L124,34.8 L131.4,35 L126.3,40.3 L133,43.2 L126.3,46.1 L131.4,51.4 L124,51.6 L126.7,58.4 L119.9,55.7 L119.7,63.1 L114.4,58 L111.5,64.7 L108.6,58 L103.3,63.1 L103.1,55.7 L96.3,58.4 L99,51.6 L91.6,51.4 L96.7,46.1 L90,43.2 L96.7,40.3 L91.6,35 L99,34.8 L96.3,28 L103.1,30.7 L103.3,23.3 L108.6,28.4Z" fill="#fbe272" stroke="#555" stroke-width="0.8"/>
<path d="M111,460 L113.9,466.7 L119.2,461.6 L119.4,469 L126.2,466.3 L123.5,473.1 L130.9,473.3 L125.8,478.6 L132.5,481.5 L125.8,484.4 L130.9,489.7 L123.5,489.9 L126.2,496.7 L119.4,494 L119.2,501.4 L113.9,496.3 L111,503 L108.1,496.3 L102.8,501.4 L102.6,494 L95.8,496.7 L98.5,489.9 L91.1,489.7 L96.2,484.4 L89.5,481.5 L96.2,478.6 L91.1,473.3 L98.5,473.1 L95.8,466.3 L102.6,469 L102.8,461.6 L108.1,466.7Z" fill="#fbe272" stroke="#555" stroke-width="0.8"/>
<path d="M778.5,21.3 A21.5,21.5 0 1,0 797.9,52.0 A18.4,18.4 0 1,1 778.5,21.3Z" fill="none" stroke="#333" stroke-width="0.9"/>
<path d="M782.4,28.1 L783.3,31.5 L786.7,32.4 L783.3,33.3 L782.4,36.7 L781.5,33.3 L778.1,32.4 L781.5,31.5Z" fill="none" stroke="#222" stroke-width="0.9"/>
<path d="M778.5,40.6 L779.1,42.8 L781.3,43.4 L779.1,44 L778.5,46.2 L777.9,44 L775.7,43.4 L777.9,42.8Z" fill="none" stroke="#222" stroke-width="0.9"/>
<path d="M788.4,44.7 L789.1,47.2 L791.6,47.9 L789.1,48.6 L788.4,51.1 L787.7,48.6 L785.2,47.9 L787.7,47.2Z" fill="none" stroke="#222" stroke-width="0.9"/>
<path d="M779.5,459.8 A21.5,21.5 0 1,0 798.9,490.5 A18.4,18.4 0 1,1 779.5,459.8Z" fill="none" stroke="#333" stroke-width="0.9"/>
<path d="M783.4,466.6 L784.3,470 L787.7,470.9 L784.3,471.8 L783.4,475.2 L782.5,471.8 L779.1,470.9 L782.5,470Z" fill="none" stroke="#222" stroke-width="0.9"/>
<path d="M779.5,479.1 L780.1,481.3 L782.3,481.9 L780.1,482.5 L779.5,484.7 L778.9,482.5 L776.7,481.9 L778.9,481.3Z" fill="none" stroke="#222" stroke-width="0.9"/>
<path d="M789.4,483.2 L790.1,485.7 L792.6,486.4 L790.1,487.1 L789.4,489.6 L788.7,487.1 L786.2,486.4 L788.7,485.7Z" fill="none" stroke="#222" stroke-width="0.9"/>
<rect x="91.5" y="114.5" width="219.5" height="111.8" rx="3" fill="white" fill-opacity="0.85" stroke="#d0d0d0" stroke-width="1.2"/>
<path d="M107.8,126.6H117.4M112.6,121.8V131.4" stroke="#e4232b" stroke-width="1.6" fill="none"/>
<path d="M107.8,148H117.4M112.6,143.2V152.8" stroke="#2a52a6" stroke-width="1.6" fill="none"/>
<line x1="97" y1="168.9" x2="128" y2="168.9" stroke="#b4c3ec" stroke-width="1.2"/>
<rect x="97" y="185.3" width="31" height="10.3" fill="#fcc470"/>
<line x1="97" y1="211.8" x2="128" y2="211.8" stroke="#000" stroke-width="2"/>
<text transform="translate(143.9,133.2) scale(0.95,1)" font-size="19" text-anchor="start" style="font-family:'Liberation Serif',serif" >Observations</text>
<text transform="translate(143.9,154.2) scale(0.95,1)" font-size="19" text-anchor="start" style="font-family:'Liberation Serif',serif" >Model</text>
<text transform="translate(143.9,175.3) scale(0.95,1)" font-size="19" text-anchor="start" style="font-family:'Liberation Serif',serif" >Model along transect</text>
<text transform="translate(143.9,196.3) scale(0.95,1)" font-size="19" text-anchor="start" style="font-family:'Liberation Serif',serif" >Coral presence</text>
<text transform="translate(143.9,217.4) scale(0.95,1)" font-size="19" text-anchor="start" style="font-family:'Liberation Serif',serif" >Bathymetry</text>
<rect x="440.6" y="27" width="185.8" height="49.3" rx="3" fill="white" fill-opacity="0.85" stroke="#d0d0d0" stroke-width="1.2"/>
<text x="619.4" y="48.2" font-size="18.5" text-anchor="end" style="font-family:'Liberation Serif',serif" >2020/08/09 15:30 (day)</text>
<text x="619.4" y="69.8" font-size="18.5" text-anchor="end" style="font-family:'Liberation Serif',serif" >red transect 1</text>
<rect x="1101" y="184" width="192.5" height="45" rx="3" fill="white" fill-opacity="0.85" stroke="#d0d0d0" stroke-width="1.2"/>
<text x="1287" y="201.5" font-size="18.5" text-anchor="end" style="font-family:'Liberation Serif',serif" >2020/08/11 21:30 (night)</text>
<text x="1287" y="223" font-size="18.5" text-anchor="end" style="font-family:'Liberation Serif',serif" >red transect 1</text>
<rect x="337" y="457.5" width="290.5" height="25" rx="3" fill="white" fill-opacity="0.85" stroke="#d0d0d0" stroke-width="1.2"/>
<text x="621.5" y="476" font-size="18.5" text-anchor="end" style="font-family:'Liberation Serif',serif" >2020/08/09 15:30 (day) red transect 2</text>
<rect x="914.5" y="457.5" width="301.5" height="25" rx="3" fill="white" fill-opacity="0.85" stroke="#d0d0d0" stroke-width="1.2"/>
<text x="1210" y="476" font-size="18.5" text-anchor="end" style="font-family:'Liberation Serif',serif" >2020/08/11 21:30 (night) red transect 2</text>
<defs>
<clipPath id="cpE0"><rect x="58.9" y="947.4" width="636.6" height="297.4"/></clipPath>
<clipPath id="cpE1"><rect x="695.8" y="947.4" width="636.6" height="297.4"/></clipPath>
<clipPath id="cpF0"><rect x="58.9" y="1244.8" width="636.6" height="298.2"/></clipPath>
<clipPath id="cpF1"><rect x="695.8" y="1244.8" width="636.6" height="298.2"/></clipPath>
<clipPath id="cpG0"><rect x="58.9" y="1543" width="636.6" height="297.2"/></clipPath>
<clipPath id="cpG1"><rect x="695.8" y="1543" width="636.6" height="297.2"/></clipPath>
<clipPath id="cpH0"><rect x="58.9" y="1840.2" width="636.6" height="298.4"/></clipPath>
<clipPath id="cpH1"><rect x="695.8" y="1840.2" width="636.6" height="298.4"/></clipPath>
<clipPath id="flE"><path d="M56.9,1187.5 C57.1,1187.5 55.4,1187.5 58,1187.5 C60.6,1187.5 67.5,1187.2 72.3,1187.5 C77.1,1187.8 81.8,1188.7 86.6,1189.4 C91.4,1190.1 96.5,1191.1 100.9,1191.8 C105.3,1192.5 109.7,1193.4 112.8,1193.7 C116,1194 117.2,1194.1 120,1193.5 C122.8,1192.9 126,1191.4 129.5,1190.1 C133.1,1188.9 137.5,1187.2 141.5,1185.8 C145.4,1184.5 149.8,1183 153.4,1182.3 C157,1181.5 160.1,1181.7 162.9,1181.5 C165.7,1181.4 168.1,1182 170.1,1181.5 C172.1,1181.1 173.3,1180.2 174.8,1178.7 C176.4,1177.2 178,1174.4 179.6,1172.7 C181.2,1171.1 183,1169.3 184.4,1168.7 C185.8,1168 186.8,1167.6 188,1168.7 C189.1,1169.7 190.3,1172.4 191.5,1175.1 C192.7,1177.8 193.7,1181.6 195.1,1184.6 C196.5,1187.7 198.1,1191.5 199.9,1193.5 C201.7,1195.5 203.7,1195.9 205.8,1196.6 C208,1197.2 211,1197.3 213,1197.3 C215,1197.3 216.2,1197.3 217.8,1196.6 C219.4,1195.9 220.9,1194.6 222.5,1193 C224.1,1191.4 225.7,1189 227.3,1187 C228.9,1185 230.5,1182.5 232.1,1181.1 C233.7,1179.7 235.4,1178.8 236.8,1178.7 C238.2,1178.6 239,1179.5 240.4,1180.6 C241.8,1181.7 243.8,1184.2 245.2,1185.4 C246.6,1186.6 247.2,1187.4 248.8,1187.7 C250.3,1188.1 252.3,1188 254.7,1187.5 C257.1,1187 260.1,1185.5 263.1,1184.6 C266,1183.8 269.8,1182.7 272.6,1182.3 C275.4,1181.9 277,1182 279.8,1182.3 C282.5,1182.5 286.5,1183.3 289.3,1183.9 C292.1,1184.5 294.1,1185.1 296.5,1185.8 C298.8,1186.6 301.6,1186.8 303.6,1188.2 C305.6,1189.6 306.8,1192.4 308.4,1194.2 C310,1196 311.8,1198 313.1,1199 C314.5,1199.9 315.5,1200.1 316.7,1199.7 C317.9,1199.3 319.1,1198.5 320.3,1196.6 C321.5,1194.7 322.5,1191.2 323.9,1188.2 C325.3,1185.2 326.9,1181.9 328.6,1178.7 C330.4,1175.5 332.4,1171.7 334.6,1169.2 C336.8,1166.6 339.4,1164.6 341.8,1163.7 C344.1,1162.7 345.7,1163.4 348.9,1163.4 C352.1,1163.4 358,1163.3 360.8,1163.7 C363.6,1164 364,1164.3 365.6,1165.6 C367.2,1166.9 368.8,1169.5 370.4,1171.5 C372,1173.5 373.4,1175.5 375.1,1177.5 C376.9,1179.5 379,1181.5 380.8,1183.5 C382.5,1185.4 384.1,1187.8 385.5,1189.4 C386.9,1191 387.7,1192.8 389.1,1193 C390.5,1193.2 392.1,1191.3 393.9,1190.6 C395.7,1189.9 398.1,1189 399.8,1188.7 C401.6,1188.4 402.6,1188 404.6,1188.7 C406.6,1189.4 409.4,1191.5 411.8,1193 C414.2,1194.5 416.5,1196.2 418.9,1197.8 C421.3,1199.4 423.7,1200.7 426.1,1202.5 C428.5,1204.3 430.8,1206.5 433.2,1208.5 C435.6,1210.5 438,1213 440.4,1214.5 C442.8,1215.9 445.2,1216.8 447.5,1217.3 C449.9,1217.8 452.3,1217.9 454.7,1217.3 C457.1,1216.8 459.5,1215.3 461.8,1214 C464.2,1212.7 466.6,1210.6 469,1209.7 C471.4,1208.8 473.8,1208.6 476.1,1208.5 C478.5,1208.4 480.9,1208.7 483.3,1209 C485.7,1209.2 488.1,1209.9 490.5,1210.2 C492.8,1210.4 495.2,1210.5 497.6,1210.4 C500,1210.3 502,1210 504.8,1209.7 C507.5,1209.4 511.5,1209.1 514.3,1208.5 C517.1,1207.9 519.1,1207.1 521.5,1206.1 C523.8,1205.1 525.8,1203.9 528.6,1202.5 C531.4,1201.1 535,1199.4 538.1,1197.8 C541.3,1196.2 544.5,1194.4 547.7,1193 C550.9,1191.6 554,1190.3 557.2,1189.4 C560.4,1188.5 564,1187.9 566.8,1187.7 C569.5,1187.6 571.5,1188 573.9,1188.7 C576.3,1189.4 578.7,1190.7 581.1,1191.8 C583.5,1192.9 585.8,1194.1 588.2,1195.4 C590.6,1196.7 593,1198.3 595.4,1199.7 C597.8,1201.1 600.1,1202.9 602.5,1203.7 C604.9,1204.6 607.3,1204.9 609.7,1204.9 C612.1,1204.9 614.5,1204.5 616.8,1203.7 C619.2,1202.9 621.2,1201.5 624,1200.1 C626.8,1198.8 630.3,1196.7 633.5,1195.4 C636.7,1194.1 640.3,1193.1 643.1,1192.5 C645.8,1191.9 647.8,1191.7 650.2,1191.8 C652.6,1191.9 655,1192.4 657.4,1193 C659.8,1193.6 662.1,1194.4 664.5,1195.4 C666.9,1196.4 669.3,1197.8 671.7,1199 C674.1,1200.1 676.4,1201.9 678.8,1202.5 C681.2,1203.2 683.1,1203.2 686,1203 C688.8,1202.8 694.2,1201.6 696,1201.3 C697.8,1201.1 696.8,1201.3 696.9,1201.3 L698.9,947.4 L56.9,947.4Z"/></clipPath>
<clipPath id="flF"><path d="M56.9,1480.1 C57.1,1480.1 57,1479.9 58,1480.1 C59,1480.4 60.8,1481.3 62.8,1481.8 C64.8,1482.3 67.5,1483.1 69.9,1483 C72.3,1482.9 74.7,1481.6 77.1,1481.1 C79.5,1480.6 81.8,1480 84.2,1480.1 C86.6,1480.3 89,1480.8 91.4,1481.8 C93.8,1482.8 95.8,1484.8 98.5,1486.1 C101.3,1487.4 105.3,1489.8 108.1,1489.7 C110.9,1489.6 112.8,1486.4 115.2,1485.4 C117.6,1484.4 120,1483.5 122.4,1483.7 C124.8,1483.9 127.2,1485.7 129.5,1486.6 C131.9,1487.4 134.3,1488.8 136.7,1489 C139.1,1489.2 141.9,1488 143.8,1487.8 C145.8,1487.6 146.6,1487.6 148.6,1487.8 C150.6,1488 153.8,1489 155.8,1489 C157.8,1489 158.5,1489.2 160.5,1487.8 C162.5,1486.4 165.3,1483.4 167.7,1480.6 C170.1,1477.8 172.7,1473.9 174.8,1471.1 C177,1468.3 178.8,1465.3 180.8,1463.9 C182.8,1462.5 184.6,1462.5 186.8,1462.7 C188.9,1462.9 191.5,1464.5 193.9,1465.1 C196.3,1465.7 198.3,1466.2 201.1,1466.3 C203.9,1466.4 207.8,1465.8 210.6,1465.6 C213.4,1465.4 215.4,1465.5 217.8,1465.1 C220.1,1464.8 223.1,1463.8 224.9,1463.4 C226.7,1463 226.9,1462.4 228.5,1462.7 C230.1,1463 232.3,1464.3 234.5,1465.1 C236.6,1465.9 239.2,1466.3 241.6,1467.5 C244,1468.7 246.8,1470.7 248.8,1472.3 C250.7,1473.9 251.9,1475.7 253.5,1477 C255.1,1478.3 256.7,1479.9 258.3,1480.1 C259.9,1480.4 261.5,1480 263.1,1478.7 C264.7,1477.4 265.8,1474.4 267.8,1472.3 C269.8,1470.1 272.6,1467.5 275,1465.8 C277.4,1464.2 279.8,1462.8 282.1,1462.3 C284.5,1461.7 286.9,1461.9 289.3,1462.3 C291.7,1462.6 293.7,1463.6 296.5,1464.6 C299.2,1465.6 303.2,1467 306,1468.2 C308.8,1469.4 310.8,1470.1 313.1,1471.8 C315.5,1473.5 317.9,1476.2 320.3,1478.2 C322.7,1480.3 325.3,1482.4 327.4,1484.2 C329.6,1486 331.4,1488.1 333.4,1489 C335.4,1489.8 337.6,1489.8 339.4,1489.4 C341.2,1489 342.6,1487.4 344.1,1486.6 C345.7,1485.8 347.1,1484.7 348.9,1484.7 C350.7,1484.6 352.9,1485.3 354.9,1486.1 C356.9,1486.9 358.6,1488.4 360.8,1489.7 C363,1490.9 365.6,1492.4 368,1493.7 C370.4,1495.1 373,1496.7 375.1,1497.8 C377.3,1498.9 379.2,1499.6 380.8,1500.2 C382.3,1500.7 383.2,1501.2 384.3,1500.9 C385.5,1500.6 386.5,1499.5 387.9,1498.5 C389.3,1497.5 391.1,1496.3 392.7,1494.9 C394.3,1493.5 395.9,1491.7 397.5,1490.1 C399.1,1488.6 400.2,1487 402.2,1485.4 C404.2,1483.8 407,1482 409.4,1480.6 C411.8,1479.2 413.8,1478.3 416.5,1477 C419.3,1475.8 423.7,1473.5 426.1,1473 C428.5,1472.5 428.9,1473.4 430.8,1473.9 C432.8,1474.5 435.6,1475.4 438,1476.3 C440.4,1477.2 442.8,1477.9 445.2,1479.4 C447.5,1480.9 450.1,1483.5 452.3,1485.4 C454.5,1487.2 455.9,1489.2 458.3,1490.6 C460.6,1492 464,1492.8 466.6,1493.7 C469.2,1494.6 471.4,1495.9 473.8,1496.1 C476.1,1496.3 478.5,1495.9 480.9,1494.9 C483.3,1493.9 485.7,1491.8 488.1,1490.1 C490.5,1488.5 492.4,1486.5 495.2,1484.9 C498,1483.3 502,1481 504.8,1480.6 C507.5,1480.2 509.5,1481.3 511.9,1482.3 C514.3,1483.3 516.7,1485.1 519.1,1486.6 C521.5,1488.1 523.8,1490 526.2,1491.3 C528.6,1492.7 530.6,1493.8 533.4,1494.9 C536.2,1496 540.1,1497.7 542.9,1498 C545.7,1498.3 547.7,1497.7 550.1,1496.8 C552.5,1495.9 554.8,1494 557.2,1492.5 C559.6,1491 562,1489.2 564.4,1487.8 C566.8,1486.3 569.1,1484.5 571.5,1483.7 C573.9,1482.9 576.3,1482.7 578.7,1483 C581.1,1483.3 583.5,1484.2 585.8,1485.4 C588.2,1486.6 590.6,1488.7 593,1490.1 C595.4,1491.6 597.4,1493.4 600.1,1494.2 C602.9,1495 606.5,1495.2 609.7,1494.9 C612.9,1494.6 616,1493.4 619.2,1492.5 C622.4,1491.7 625.6,1490.2 628.8,1489.7 C631.9,1489.2 635.5,1489.2 638.3,1489.4 C641.1,1489.7 643.1,1490.7 645.4,1491.3 C647.8,1491.9 649.8,1493.3 652.6,1493 C655.4,1492.7 659.4,1490.9 662.1,1489.7 C664.9,1488.5 666.9,1486.8 669.3,1485.9 C671.7,1484.9 674.1,1484.3 676.4,1484.2 C678.8,1484.1 681.2,1484.6 683.6,1485.4 C686,1486.2 688.7,1488.3 690.8,1489 C692.8,1489.6 695,1489.4 696,1489.4 C697,1489.5 696.8,1489.4 696.9,1489.4 L698.9,1244.8 L56.9,1244.8Z"/></clipPath>
<clipPath id="flG"><path d="M56.9,1723.5 C57.1,1723.5 56.6,1724 58,1723.5 C59.4,1723 62.8,1721.7 65.2,1720.4 C67.5,1719.1 69.9,1717.4 72.3,1715.6 C74.7,1713.9 77.1,1712.3 79.5,1709.7 C81.8,1707.1 84.2,1703.7 86.6,1700.1 C89,1696.6 91.4,1692.6 93.8,1688.2 C96.2,1683.9 98.9,1677.9 100.9,1673.9 C102.9,1669.9 104.3,1666.7 105.7,1664.4 C107.1,1662.1 107.7,1660.9 109.3,1660.1 C110.9,1659.3 113.4,1659.5 115.2,1659.6 C117,1659.7 118.4,1660.9 120,1660.8 C121.6,1660.7 123.2,1659.6 124.8,1659.1 C126.4,1658.7 127.9,1658.1 129.5,1657.9 C131.1,1657.8 132.7,1657.8 134.3,1658.4 C135.9,1659 137.5,1659.7 139.1,1661.5 C140.7,1663.3 142.3,1665.9 143.8,1669.2 C145.4,1672.4 147,1677.3 148.6,1681.1 C150.2,1684.8 151.8,1688.8 153.4,1691.8 C155,1694.8 156.6,1697.6 158.1,1699 C159.7,1700.3 161.3,1700.3 162.9,1700.1 C164.5,1700 166.1,1698.6 167.7,1697.8 C169.3,1696.9 170.9,1695.8 172.5,1694.9 C174,1694 175.2,1693 177.2,1692.5 C179.2,1692 182,1692.3 184.4,1691.8 C186.8,1691.3 189.1,1690.4 191.5,1689.4 C193.9,1688.4 196.3,1686.8 198.7,1685.8 C201.1,1684.9 203.5,1684.3 205.8,1683.9 C208.2,1683.6 211,1683.6 213,1683.9 C215,1684.3 216.2,1684.9 217.8,1685.8 C219.4,1686.8 220.7,1688.4 222.5,1689.4 C224.3,1690.4 226.5,1691.7 228.5,1691.8 C230.5,1691.9 232.7,1690.9 234.5,1690.1 C236.2,1689.3 237.6,1688.1 239.2,1687 C240.8,1686 242.6,1684.5 244,1683.9 C245.4,1683.3 246.2,1683.1 247.6,1683.5 C249,1683.9 250.5,1684.7 252.3,1686.3 C254.1,1687.9 256.1,1690.7 258.3,1693 C260.5,1695.3 263.1,1698.2 265.5,1700.1 C267.8,1702.1 270.2,1703.1 272.6,1704.9 C275,1706.7 277.8,1708.5 279.8,1710.9 C281.7,1713.3 282.9,1716.2 284.5,1719.2 C286.1,1722.2 287.7,1725.8 289.3,1728.8 C290.9,1731.7 292.5,1734.7 294.1,1737.1 C295.7,1739.5 296.8,1741.3 298.8,1743.1 C300.8,1744.9 303.6,1746.4 306,1747.8 C308.4,1749.3 311.2,1751.1 313.1,1751.9 C315.1,1752.7 315.9,1752.8 317.9,1752.6 C319.9,1752.4 322.7,1750.9 325.1,1750.7 C327.4,1750.5 329.8,1750.9 332.2,1751.4 C334.6,1751.9 337.2,1753 339.4,1753.8 C341.6,1754.6 343.7,1756 345.3,1756.2 C346.9,1756.4 347.5,1755.8 348.9,1755 C350.3,1754.2 352.1,1753.4 353.7,1751.4 C355.3,1749.4 356.9,1746.8 358.4,1743.1 C360,1739.3 361.6,1733.1 363.2,1728.8 C364.8,1724.4 366.4,1719.6 368,1716.8 C369.6,1714.1 371.4,1713.2 372.8,1712.1 C374.1,1711 374.3,1711.2 376,1710.2 C377.7,1709.2 380.8,1707.3 383.2,1706.1 C385.5,1704.9 387.9,1703.5 390.3,1703 C392.7,1702.5 394.7,1702.7 397.5,1703 C400.2,1703.3 403.8,1704.2 407,1704.9 C410.2,1705.6 413.8,1706.5 416.5,1707.3 C419.3,1708.1 421.7,1708.5 423.7,1709.7 C425.7,1710.9 426.9,1712.5 428.5,1714.5 C430,1716.4 431.6,1718.8 433.2,1721.6 C434.8,1724.4 436.4,1728 438,1731.1 C439.6,1734.3 441.2,1738.3 442.8,1740.7 C444.4,1743.1 445.9,1744.5 447.5,1745.5 C449.1,1746.4 450.3,1746.7 452.3,1746.6 C454.3,1746.6 457.1,1745.2 459.5,1745 C461.8,1744.8 464.2,1745.2 466.6,1745.5 C469,1745.7 471.4,1746.4 473.8,1746.6 C476.1,1746.8 478.5,1746.6 480.9,1746.6 C483.3,1746.6 485.7,1746.7 488.1,1746.6 C490.5,1746.6 492.8,1746.1 495.2,1746.2 C497.6,1746.3 500,1746.5 502.4,1747.4 C504.8,1748.2 507.1,1749.5 509.5,1751.4 C511.9,1753.3 514.3,1756.4 516.7,1758.6 C519.1,1760.8 521.5,1762.7 523.8,1764.5 C526.2,1766.3 528.6,1767.5 531,1769.3 C533.4,1771.1 535.8,1774.1 538.1,1775.3 C540.5,1776.5 542.9,1776.3 545.3,1776.5 C547.7,1776.6 550.1,1776.3 552.5,1776 C554.8,1775.7 557.2,1775.1 559.6,1774.5 C562,1774 564,1773.7 566.8,1772.9 C569.5,1772.1 573.1,1771 576.3,1769.8 C579.5,1768.6 582.7,1767 585.8,1765.7 C589,1764.5 592.2,1762.8 595.4,1762.1 C598.6,1761.5 601.7,1761.7 604.9,1761.7 C608.1,1761.7 611.3,1761.7 614.5,1762.1 C617.6,1762.6 620.8,1763.9 624,1764.5 C627.2,1765.1 630.3,1765.3 633.5,1765.7 C636.7,1766.1 639.9,1766.4 643.1,1766.9 C646.2,1767.4 649.4,1767.6 652.6,1768.6 C655.8,1769.6 659,1771.2 662.1,1772.9 C665.3,1774.6 668.5,1777.4 671.7,1778.8 C674.9,1780.3 678.4,1781.3 681.2,1781.7 C684,1782.1 685.9,1781.4 688.4,1781.2 C690.8,1781.1 694.6,1780.8 696,1780.7 C697.4,1780.7 696.8,1780.7 696.9,1780.7 L698.9,1543 L56.9,1543Z"/></clipPath>
<clipPath id="flH"><path d="M56.9,2033.1 C57.1,2033.1 57,2033.1 58,2033.1 C59,2033.2 61.2,2034.2 62.8,2033.6 C64.4,2033 65.6,2031.6 67.5,2029.6 C69.5,2027.5 72.3,2024 74.7,2021.2 C77.1,2018.4 79.5,2014.8 81.8,2012.9 C84.2,2011 86.6,2010.2 89,2009.8 C91.4,2009.4 93,2010.1 96.2,2010.5 C99.3,2010.9 104.5,2012.3 108.1,2012.2 C111.7,2012 114,2010.8 117.6,2009.8 C121.2,2008.7 125.6,2006.8 129.5,2005.7 C133.5,2004.6 137.9,2003.6 141.5,2003.3 C145,2003.1 148.2,2003.9 151,2004.1 C153.8,2004.2 155.8,2004.6 158.1,2004.1 C160.5,2003.5 162.9,2002.5 165.3,2001 C167.7,1999.4 170.1,1996.9 172.5,1994.5 C174.8,1992.1 177.2,1989.7 179.6,1986.6 C182,1983.5 184.8,1979.7 186.8,1975.9 C188.8,1972.1 190.1,1968.4 191.5,1964 C192.9,1959.6 193.9,1954.5 195.1,1949.7 C196.3,1944.9 197.5,1939.8 198.7,1935.4 C199.9,1931 201.1,1926.3 202.3,1923.5 C203.5,1920.6 204.4,1919.4 205.8,1918.2 C207.2,1917 208.2,1916.5 210.6,1916.3 C213,1916.1 217.8,1916.9 220.1,1916.8 C222.5,1916.7 222.5,1916 224.9,1915.8 C227.3,1915.7 232.1,1915.5 234.5,1915.8 C236.8,1916.1 237.6,1916.4 239.2,1917.5 C240.8,1918.6 242.4,1920.3 244,1922.3 C245.6,1924.3 247.2,1926.8 248.8,1929.4 C250.3,1932 251.9,1935.6 253.5,1937.8 C255.1,1940 256.7,1941.1 258.3,1942.5 C259.9,1943.9 260.7,1945.1 263.1,1946.1 C265.5,1947.1 269.8,1947.5 272.6,1948.5 C275.4,1949.5 277.4,1950.5 279.8,1952.1 C282.1,1953.7 284.5,1955.6 286.9,1958 C289.3,1960.4 291.7,1963.6 294.1,1966.4 C296.5,1969.2 298.8,1972.1 301.2,1974.7 C303.6,1977.3 306,1979.7 308.4,1981.9 C310.8,1984.1 313.5,1985.7 315.5,1987.8 C317.5,1990 318.7,1992.4 320.3,1995 C321.9,1997.6 323.1,2001 325.1,2003.3 C327.1,2005.7 330.2,2007.1 332.2,2009.3 C334.2,2011.5 335.4,2013.3 337,2016.5 C338.6,2019.6 340.2,2024.4 341.8,2028.4 C343.3,2032.3 344.9,2036.9 346.5,2040.3 C348.1,2043.7 349.3,2046.3 351.3,2048.6 C353.3,2051 356.1,2052.2 358.4,2054.6 C360.8,2057 363.6,2061 365.6,2063 C367.6,2064.9 368.6,2065.7 370.4,2066.1 C372.1,2066.4 373.5,2066 376,2065.3 C378.5,2064.7 382.2,2063.5 385.5,2062.2 C388.9,2060.9 393.5,2057.5 396.3,2057.5 C399.1,2057.4 400,2059.9 402.2,2061.8 C404.4,2063.7 407.4,2067.3 409.4,2068.9 C411.4,2070.5 412.6,2071 414.2,2071.3 C415.7,2071.6 416.9,2072 418.9,2070.8 C420.9,2069.6 423.7,2066.4 426.1,2064.1 C428.5,2061.9 430.8,2059.5 433.2,2057.5 C435.6,2055.5 438,2053.7 440.4,2052.2 C442.8,2050.8 445.2,2049.4 447.5,2048.6 C449.9,2047.9 452.3,2047.7 454.7,2047.9 C457.1,2048.1 459.5,2049.7 461.8,2049.8 C464.2,2050 466.6,2049.4 469,2048.9 C471.4,2048.3 473.4,2047.1 476.1,2046.5 C478.9,2045.9 483.3,2046.1 485.7,2045.1 C488.1,2044 488.9,2042.3 490.5,2040.3 C492,2038.3 493.6,2035.2 495.2,2033.1 C496.8,2031.1 498,2029.9 500,2027.9 C502,2025.9 505,2023.5 507.1,2021.2 C509.3,2018.9 511.3,2015.9 513.1,2014.1 C514.9,2012.3 516.5,2010.9 517.9,2010.5 C519.3,2010.1 520.1,2010.7 521.5,2011.7 C522.8,2012.7 524.2,2014.5 526.2,2016.5 C528.2,2018.4 531,2021.8 533.4,2023.6 C535.8,2025.4 538.5,2026.7 540.5,2027.2 C542.5,2027.7 543.3,2027.3 545.3,2026.7 C547.3,2026.1 550.1,2024.8 552.5,2023.6 C554.8,2022.4 557.2,2020.6 559.6,2019.3 C562,2018 564.4,2016.8 566.8,2016 C569.1,2015.2 571.5,2014.9 573.9,2014.5 C576.3,2014.2 578.7,2014 581.1,2014.1 C583.5,2014.1 585.8,2014.8 588.2,2014.8 C590.6,2014.8 593,2014.5 595.4,2014.1 C597.8,2013.6 600.1,2013 602.5,2012.2 C604.9,2011.4 607.3,2010.5 609.7,2009.3 C612.1,2008.1 614.5,2006.6 616.8,2005 C619.2,2003.4 621.6,2001.6 624,1999.8 C626.4,1997.9 628.8,1995.8 631.1,1993.8 C633.5,1991.8 635.9,1989.7 638.3,1987.8 C640.7,1986 643.1,1983.7 645.4,1982.6 C647.8,1981.5 650.2,1981.1 652.6,1981.2 C655,1981.2 657.4,1982 659.8,1983.1 C662.1,1984.2 664.5,1986.2 666.9,1987.8 C669.3,1989.4 671.7,1991.2 674.1,1992.6 C676.4,1994 678.8,1994.8 681.2,1996.2 C683.6,1997.6 686.6,1999.8 688.4,2001 C690.2,2002.1 690.7,2003.1 691.9,2003.3 C693.2,2003.6 695.2,2002.7 696,2002.6 C696.8,2002.5 696.8,2002.6 696.9,2002.6 L698.9,1840.2 L56.9,1840.2Z"/></clipPath>
</defs>
<g clip-path="url(#cpE0)">
<rect x="58.9" y="947.4" width="636.6" height="299.4" fill="#000072"/>
<path d="M58,1183.9 C60,1183.5 66.9,1182 69.9,1181.1 C72.9,1180.1 73.9,1178.3 75.9,1178.2 C77.9,1178.1 76.9,1179.9 81.8,1180.6 C86.8,1181.3 97.7,1182.6 105.7,1182.3 C113.6,1181.9 121.6,1180.1 129.5,1178.7 C137.5,1177.3 146.6,1175.5 153.4,1173.9 C160.1,1172.3 164.9,1171.1 170.1,1169.2 C175.2,1167.2 180.8,1164.3 184.4,1162.5 C188,1160.7 188.8,1159.9 191.5,1158.4 C194.3,1156.9 197.5,1155 201.1,1153.7 C204.6,1152.3 209,1151.3 213,1150.1 C217,1148.9 220.9,1147.6 224.9,1146.5 C228.9,1145.4 232.9,1144.6 236.8,1143.6 C240.8,1142.6 244.8,1141.8 248.8,1140.5 C252.7,1139.2 256.7,1136.8 260.7,1135.8 C264.7,1134.7 266.6,1134.7 272.6,1134.1 C278.6,1133.5 288.5,1132.6 296.5,1132.2 C304.4,1131.8 312.3,1131.8 320.3,1131.5 C328.2,1131.2 334.5,1130.8 344.1,1130.5 C353.8,1130.2 368.7,1129.9 378,1129.8 C387.3,1129.7 388.3,1129.7 399.8,1129.8 C411.4,1129.9 431.6,1130.2 447.5,1130.5 C463.4,1130.8 482.1,1131.2 495.2,1131.5 C508.3,1131.8 518.3,1132.2 526.2,1132.2 C534.2,1132.2 532.2,1131.5 542.9,1131.5 C553.6,1131.5 574.7,1131.9 590.6,1132.2 C606.5,1132.5 620.7,1133 638.3,1133.4 C655.9,1133.8 686.4,1112.3 696,1134.6 C705.6,1156.8 749.3,1244.9 696,1266.9 C642.7,1289 482.3,1266.9 376,1266.9 C269.7,1266.9 111,1266.9 58,1266.9Z" fill="#0000b4"/>
<path d="M186.8,1195.4 C186.8,1190.4 185.2,1171.1 186.8,1165.6 C188.4,1160.1 193.1,1163.4 196.3,1162.5 C199.5,1161.6 201.1,1160.8 205.8,1160.1 C210.6,1159.3 217.8,1158.6 224.9,1157.9 C232.1,1157.3 240.8,1156.6 248.8,1156 C256.7,1155.5 264.7,1155.1 272.6,1154.8 C280.6,1154.6 288.5,1154.6 296.5,1154.4 C304.4,1154.2 312.3,1153.9 320.3,1153.7 C328.2,1153.4 334.5,1153.1 344.1,1152.9 C353.8,1152.7 372.7,1151.3 378,1152.5 C383.3,1153.6 372.4,1157.9 376,1159.6 C379.6,1161.3 391.9,1161.5 399.8,1162.5 C407.8,1163.5 415.7,1164.7 423.7,1165.6 C431.6,1166.5 439.6,1167.2 447.5,1168 C455.5,1168.8 463.4,1169.2 471.4,1170.3 C479.3,1171.5 488.1,1173.7 495.2,1175.1 C502.4,1176.5 509.7,1176.9 514.3,1178.7 C518.9,1180.5 520.3,1183.1 522.6,1185.8 C525,1188.6 526.8,1192.2 528.6,1195.4 C530.4,1198.6 532.6,1197 533.4,1204.9 C534.2,1212.9 559.6,1236.7 533.4,1243.1 C507.1,1249.4 402.2,1243.1 376,1243.1Z" fill="#0000ff"/>
<path d="M488.1,1195.4 C490.1,1194.4 494.8,1190.5 500,1189.4 C505.2,1188.3 514.9,1187.7 519.1,1188.7 C523.2,1189.7 525,1192.7 525,1195.4 C525,1198.1 524,1203.1 519.1,1204.9 C514.1,1206.7 499.2,1205.9 495.2,1206.1Z" fill="#0000b4"/>
<path d="M669.3,1200.1 C671.3,1199.4 676.8,1196.4 681.2,1195.4 C685.7,1194.4 693.5,1190.2 696,1194.2 C698.5,1198.2 700.5,1215.1 696,1219.2 C691.5,1223.4 673.7,1219.2 669.3,1219.2Z" fill="#0000ff"/>
<path d="M190.3,1195.4 C190.3,1190.6 188.6,1172 190.3,1166.8 C192.1,1161.5 197.3,1164.6 201.1,1163.9 C204.8,1163.2 209,1163.1 213,1162.7 C217,1162.3 220.9,1161.7 224.9,1161.5 C228.9,1161.3 232.9,1161.4 236.8,1161.5 C240.8,1161.7 244.8,1162.1 248.8,1162.5 C252.7,1162.9 256.7,1163.6 260.7,1163.9 C264.7,1164.2 268.6,1164.1 272.6,1164.4 C276.6,1164.7 280.6,1165.2 284.5,1165.6 C288.5,1166 292.9,1166.3 296.5,1166.8 C300,1167.2 304,1167.2 306,1168.4 C308,1169.6 307.6,1172.2 308.4,1173.9 C309.2,1175.6 309.8,1177.5 310.8,1178.7 C311.8,1179.9 313.3,1177.5 314.3,1181.1 C315.3,1184.6 316.3,1197 316.7,1200.1Z" fill="#0080ff"/>
<path d="M376,1162.5 C378.4,1162.7 385.5,1163 390.3,1163.9 C395.1,1164.8 401,1166.7 404.6,1168 C408.2,1169.2 411.8,1170.1 411.8,1171.5 C411.8,1173 407.4,1175.5 404.6,1176.8 C401.8,1178.1 398.3,1178.3 395.1,1179.2 C391.9,1180.1 387.9,1180.4 385.5,1182.3 C383.2,1184.2 382.4,1189.2 380.8,1190.6 C379.2,1192 376.8,1190.6 376,1190.6Z" fill="#0080ff"/>
<path d="M416.5,1202.5 C418.5,1202.9 424.5,1203.5 428.5,1204.9 C432.4,1206.3 436.4,1209.5 440.4,1210.9 C444.4,1212.3 449.1,1213.1 452.3,1213.3 C455.5,1213.5 459.1,1210.3 459.5,1212.1 C459.9,1213.9 461.8,1222 454.7,1224 C447.5,1226 422.9,1224 416.5,1224Z" fill="#0080ff"/>
<path d="M191.5,1195.4 C191.5,1191.1 190.3,1173.5 191.5,1169.6 C192.7,1165.7 196.3,1171.2 198.7,1172 C201.1,1172.8 203.1,1173.8 205.8,1174.4 C208.6,1175 212.2,1175.9 215.4,1175.8 C218.6,1175.7 222.3,1174.6 224.9,1173.9 C227.5,1173.2 228.5,1171.2 230.9,1171.5 C233.3,1171.9 236.2,1174.4 239.2,1175.8 C242.2,1177.2 245.2,1179.1 248.8,1179.9 C252.3,1180.7 256.7,1180.6 260.7,1180.6 C264.7,1180.6 268.6,1179.7 272.6,1179.9 C276.6,1180 280.6,1180.9 284.5,1181.5 C288.5,1182.2 292.5,1182.9 296.5,1183.9 C300.4,1185 305.4,1186.2 308.4,1187.7 C311.4,1189.3 312.9,1190.9 314.3,1193 C315.7,1195.1 316.3,1199 316.7,1200.1Z" fill="#00ffff"/>
<path d="M376,1165.6 C377.6,1166 383.2,1167 385.5,1168 C387.9,1169 390.3,1170.1 390.3,1171.5 C390.3,1172.9 387.5,1174.7 385.5,1176.3 C383.6,1177.9 380,1180.3 378.4,1181.1 C376.8,1181.9 376.4,1181.1 376,1181.1Z" fill="#00ffff"/>
<path d="M585.8,1195.4 C587.8,1195.6 593.8,1195.6 597.8,1196.6 C601.7,1197.6 607.7,1199.2 609.7,1201.3 C611.7,1203.5 613.7,1208.3 609.7,1209.7 C605.7,1211.1 589.8,1209.7 585.8,1209.7Z" fill="#00ffff"/>
<path d="M193.9,1195.4 C194.1,1192.6 193.9,1180.9 195.1,1178.7 C196.3,1176.5 198.9,1181.4 201.1,1182.3 C203.3,1183.1 205.8,1183.7 208.2,1183.9 C210.6,1184.1 213,1183.7 215.4,1183.5 C217.8,1183.2 220.7,1182.7 222.5,1182.3 C224.3,1181.9 224.9,1181.1 226.1,1181.1 C227.3,1181.1 229.9,1179.1 229.7,1182.3 C229.5,1185.4 225.7,1197.2 224.9,1200.1Z" fill="#40ffff"/>
<path d="M196.3,1200.1 C196.5,1197.6 196.3,1186.6 197.5,1184.6 C198.7,1182.7 201.3,1187.3 203.5,1188.2 C205.6,1189.1 208.2,1189.9 210.6,1190.1 C213,1190.3 215.8,1189.8 217.8,1189.4 C219.7,1189 221.7,1186 222.5,1187.7 C223.3,1189.5 222.5,1198.1 222.5,1200.1Z" fill="#80ffff"/>
<path d="M198.7,1200.1 C198.9,1198.6 198.7,1191.8 199.9,1190.6 C201.1,1189.4 203.7,1192.4 205.8,1193 C208,1193.6 210.6,1194.3 213,1194.2 C215.4,1194.1 219,1191.5 220.1,1192.5 C221.3,1193.5 220.1,1198.9 220.1,1200.1Z" fill="#c0ffff"/>
<path d="M56.9,1187.5 C57.1,1187.5 55.4,1187.5 58,1187.5 C60.6,1187.5 67.5,1187.2 72.3,1187.5 C77.1,1187.8 81.8,1188.7 86.6,1189.4 C91.4,1190.1 96.5,1191.1 100.9,1191.8 C105.3,1192.5 109.7,1193.4 112.8,1193.7 C116,1194 117.2,1194.1 120,1193.5 C122.8,1192.9 126,1191.4 129.5,1190.1 C133.1,1188.9 137.5,1187.2 141.5,1185.8 C145.4,1184.5 149.8,1183 153.4,1182.3 C157,1181.5 160.1,1181.7 162.9,1181.5 C165.7,1181.4 168.1,1182 170.1,1181.5 C172.1,1181.1 173.3,1180.2 174.8,1178.7 C176.4,1177.2 178,1174.4 179.6,1172.7 C181.2,1171.1 183,1169.3 184.4,1168.7 C185.8,1168 186.8,1167.6 188,1168.7 C189.1,1169.7 190.3,1172.4 191.5,1175.1 C192.7,1177.8 193.7,1181.6 195.1,1184.6 C196.5,1187.7 198.1,1191.5 199.9,1193.5 C201.7,1195.5 203.7,1195.9 205.8,1196.6 C208,1197.2 211,1197.3 213,1197.3 C215,1197.3 216.2,1197.3 217.8,1196.6 C219.4,1195.9 220.9,1194.6 222.5,1193 C224.1,1191.4 225.7,1189 227.3,1187 C228.9,1185 230.5,1182.5 232.1,1181.1 C233.7,1179.7 235.4,1178.8 236.8,1178.7 C238.2,1178.6 239,1179.5 240.4,1180.6 C241.8,1181.7 243.8,1184.2 245.2,1185.4 C246.6,1186.6 247.2,1187.4 248.8,1187.7 C250.3,1188.1 252.3,1188 254.7,1187.5 C257.1,1187 260.1,1185.5 263.1,1184.6 C266,1183.8 269.8,1182.7 272.6,1182.3 C275.4,1181.9 277,1182 279.8,1182.3 C282.5,1182.5 286.5,1183.3 289.3,1183.9 C292.1,1184.5 294.1,1185.1 296.5,1185.8 C298.8,1186.6 301.6,1186.8 303.6,1188.2 C305.6,1189.6 306.8,1192.4 308.4,1194.2 C310,1196 311.8,1198 313.1,1199 C314.5,1199.9 315.5,1200.1 316.7,1199.7 C317.9,1199.3 319.1,1198.5 320.3,1196.6 C321.5,1194.7 322.5,1191.2 323.9,1188.2 C325.3,1185.2 326.9,1181.9 328.6,1178.7 C330.4,1175.5 332.4,1171.7 334.6,1169.2 C336.8,1166.6 339.4,1164.6 341.8,1163.7 C344.1,1162.7 345.7,1163.4 348.9,1163.4 C352.1,1163.4 358,1163.3 360.8,1163.7 C363.6,1164 364,1164.3 365.6,1165.6 C367.2,1166.9 368.8,1169.5 370.4,1171.5 C372,1173.5 373.4,1175.5 375.1,1177.5 C376.9,1179.5 379,1181.5 380.8,1183.5 C382.5,1185.4 384.1,1187.8 385.5,1189.4 C386.9,1191 387.7,1192.8 389.1,1193 C390.5,1193.2 392.1,1191.3 393.9,1190.6 C395.7,1189.9 398.1,1189 399.8,1188.7 C401.6,1188.4 402.6,1188 404.6,1188.7 C406.6,1189.4 409.4,1191.5 411.8,1193 C414.2,1194.5 416.5,1196.2 418.9,1197.8 C421.3,1199.4 423.7,1200.7 426.1,1202.5 C428.5,1204.3 430.8,1206.5 433.2,1208.5 C435.6,1210.5 438,1213 440.4,1214.5 C442.8,1215.9 445.2,1216.8 447.5,1217.3 C449.9,1217.8 452.3,1217.9 454.7,1217.3 C457.1,1216.8 459.5,1215.3 461.8,1214 C464.2,1212.7 466.6,1210.6 469,1209.7 C471.4,1208.8 473.8,1208.6 476.1,1208.5 C478.5,1208.4 480.9,1208.7 483.3,1209 C485.7,1209.2 488.1,1209.9 490.5,1210.2 C492.8,1210.4 495.2,1210.5 497.6,1210.4 C500,1210.3 502,1210 504.8,1209.7 C507.5,1209.4 511.5,1209.1 514.3,1208.5 C517.1,1207.9 519.1,1207.1 521.5,1206.1 C523.8,1205.1 525.8,1203.9 528.6,1202.5 C531.4,1201.1 535,1199.4 538.1,1197.8 C541.3,1196.2 544.5,1194.4 547.7,1193 C550.9,1191.6 554,1190.3 557.2,1189.4 C560.4,1188.5 564,1187.9 566.8,1187.7 C569.5,1187.6 571.5,1188 573.9,1188.7 C576.3,1189.4 578.7,1190.7 581.1,1191.8 C583.5,1192.9 585.8,1194.1 588.2,1195.4 C590.6,1196.7 593,1198.3 595.4,1199.7 C597.8,1201.1 600.1,1202.9 602.5,1203.7 C604.9,1204.6 607.3,1204.9 609.7,1204.9 C612.1,1204.9 614.5,1204.5 616.8,1203.7 C619.2,1202.9 621.2,1201.5 624,1200.1 C626.8,1198.8 630.3,1196.7 633.5,1195.4 C636.7,1194.1 640.3,1193.1 643.1,1192.5 C645.8,1191.9 647.8,1191.7 650.2,1191.8 C652.6,1191.9 655,1192.4 657.4,1193 C659.8,1193.6 662.1,1194.4 664.5,1195.4 C666.9,1196.4 669.3,1197.8 671.7,1199 C674.1,1200.1 676.4,1201.9 678.8,1202.5 C681.2,1203.2 683.1,1203.2 686,1203 C688.8,1202.8 694.2,1201.6 696,1201.3 C697.8,1201.1 696.8,1201.3 696.9,1201.3 L698.9,1249.8 L56.9,1249.8Z" fill="#fff"/>
<path d="M332.2,1175.8 C333,1174.7 335.4,1171.1 337,1169.2 C338.6,1167.2 337.8,1164.8 341.8,1163.9 C345.7,1163 357.1,1163.6 360.8,1163.9 C364.6,1164.2 364.6,1164.3 364.4,1165.6 C364.2,1166.8 361.8,1170.1 359.6,1171.5 C357.5,1173 353.9,1173.8 351.3,1174.4 C348.7,1175 346.5,1175.1 344.1,1175.4 C341.8,1175.6 338.2,1175.7 337,1175.8Z" fill="#fdc36c"/>
<g id="slE" clip-path="url(#flE)">
<g fill="none" stroke="#fff" stroke-opacity="0.62" stroke-width="0.85">
<path d="M58.9,953.7 70.9,953.7 82.9,953.7 94.9,953.7 106.9,953.7 118.9,953.7 130.9,953.7 142.9,953.7 154.9,953.7 166.9,953.7 178.9,953.7 190.9,953.7 202.9,953.7 214.9,953.7 226.9,953.7 238.9,953.7 250.9,953.7 262.9,953.7 274.9,953.7 286.9,953.7 298.9,953.7 310.9,953.7 322.9,953.7 334.9,953.7 346.9,953.7 358.9,953.7 370.9,953.7 382.9,953.7 394.9,953.7 406.9,953.7 418.9,953.7 430.9,953.7 442.9,953.7 454.9,953.7 466.9,953.7 478.9,953.7 490.9,953.7 502.9,953.7 514.9,953.7 526.9,953.7 538.9,953.7 550.9,953.7 562.9,953.7 574.9,953.7 586.9,953.7 598.9,953.7 610.9,953.7 622.9,953.7 634.9,953.7 646.9,953.7 658.9,953.7 670.9,953.7 682.9,953.7 695.5,953.7"/>
<path d="M58.9,964.5 70.9,964.5 82.9,964.5 94.9,964.5 106.9,964.5 118.9,964.5 130.9,964.5 142.9,964.5 154.9,964.5 166.9,964.5 178.9,964.5 190.9,964.5 202.9,964.5 214.9,964.5 226.9,964.5 238.9,964.5 250.9,964.5 262.9,964.5 274.9,964.5 286.9,964.5 298.9,964.5 310.9,964.5 322.9,964.5 334.9,964.6 346.9,964.6 358.9,964.6 370.9,964.6 382.9,964.6 394.9,964.6 406.9,964.6 418.9,964.6 430.9,964.6 442.9,964.6 454.9,964.6 466.9,964.6 478.9,964.6 490.9,964.6 502.9,964.6 514.9,964.6 526.9,964.6 538.9,964.6 550.9,964.6 562.9,964.6 574.9,964.6 586.9,964.6 598.9,964.6 610.9,964.6 622.9,964.6 634.9,964.6 646.9,964.6 658.9,964.6 670.9,964.7 682.9,964.7 695.5,964.7"/>
<path d="M58.9,975.3 70.9,975.3 82.9,975.3 94.9,975.3 106.9,975.3 118.9,975.3 130.9,975.3 142.9,975.3 154.9,975.3 166.9,975.3 178.9,975.3 190.9,975.3 202.9,975.3 214.9,975.3 226.9,975.3 238.9,975.3 250.9,975.4 262.9,975.4 274.9,975.4 286.9,975.4 298.9,975.4 310.9,975.4 322.9,975.4 334.9,975.4 346.9,975.4 358.9,975.4 370.9,975.4 382.9,975.4 394.9,975.4 406.9,975.4 418.9,975.4 430.9,975.4 442.9,975.4 454.9,975.4 466.9,975.5 478.9,975.5 490.9,975.5 502.9,975.5 514.9,975.5 526.9,975.5 538.9,975.5 550.9,975.5 562.9,975.5 574.9,975.5 586.9,975.5 598.9,975.5 610.9,975.6 622.9,975.6 634.9,975.6 646.9,975.6 658.9,975.6 670.9,975.6 682.9,975.6 695.5,975.6"/>
<path d="M58.9,986.1 70.9,986.1 82.9,986.1 94.9,986.1 106.9,986.1 118.9,986.1 130.9,986.1 142.9,986.1 154.9,986.1 166.9,986.1 178.9,986.1 190.9,986.1 202.9,986.1 214.9,986.2 226.9,986.2 238.9,986.2 250.9,986.2 262.9,986.2 274.9,986.2 286.9,986.2 298.9,986.2 310.9,986.2 322.9,986.2 334.9,986.3 346.9,986.3 358.9,986.3 370.9,986.3 382.9,986.3 394.9,986.3 406.9,986.3 418.9,986.3 430.9,986.3 442.9,986.3 454.9,986.3 466.9,986.3 478.9,986.4 490.9,986.4 502.9,986.4 514.9,986.4 526.9,986.4 538.9,986.4 550.9,986.4 562.9,986.4 574.9,986.4 586.9,986.5 598.9,986.5 610.9,986.5 622.9,986.5 634.9,986.5 646.9,986.5 658.9,986.5 670.9,986.5 682.9,986.5 695.5,986.5"/>
<path d="M58.9,996.8 70.9,996.9 82.9,996.9 94.9,996.9 106.9,996.9 118.9,996.9 130.9,996.9 142.9,996.9 154.9,996.9 166.9,996.9 178.9,996.9 190.9,997.0 202.9,997.0 214.9,997.0 226.9,997.0 238.9,997.0 250.9,997.0 262.9,997.0 274.9,997.0 286.9,997.1 298.9,997.1 310.9,997.1 322.9,997.1 334.9,997.1 346.9,997.1 358.9,997.1 370.9,997.1 382.9,997.1 394.9,997.1 406.9,997.1 418.9,997.1 430.9,997.1 442.9,997.2 454.9,997.2 466.9,997.2 478.9,997.2 490.9,997.3 502.9,997.3 514.9,997.3 526.9,997.3 538.9,997.3 550.9,997.3 562.9,997.3 574.9,997.4 586.9,997.4 598.9,997.4 610.9,997.4 622.9,997.4 634.9,997.4 646.9,997.4 658.9,997.4 670.9,997.4 682.9,997.4 695.5,997.4"/>
<path d="M58.9,1007.6 70.9,1007.7 82.9,1007.7 94.9,1007.7 106.9,1007.7 118.9,1007.7 130.9,1007.7 142.9,1007.7 154.9,1007.7 166.9,1007.7 178.9,1007.8 190.9,1007.8 202.9,1007.8 214.9,1007.8 226.9,1007.8 238.9,1007.8 250.9,1007.8 262.9,1007.9 274.9,1007.9 286.9,1007.9 298.9,1007.9 310.9,1007.9 322.9,1007.9 334.9,1008.0 346.9,1008.0 358.9,1008.0 370.9,1008.0 382.9,1008.0 394.9,1008.0 406.9,1008.0 418.9,1008.0 430.9,1008.0 442.9,1008.0 454.9,1008.1 466.9,1008.1 478.9,1008.1 490.9,1008.2 502.9,1008.2 514.9,1008.2 526.9,1008.2 538.9,1008.2 550.9,1008.2 562.9,1008.2 574.9,1008.3 586.9,1008.3 598.9,1008.3 610.9,1008.3 622.9,1008.3 634.9,1008.3 646.9,1008.3 658.9,1008.4 670.9,1008.4 682.9,1008.4 695.5,1008.4"/>
<path d="M58.9,1018.4 70.9,1018.5 82.9,1018.5 94.9,1018.5 106.9,1018.5 118.9,1018.5 130.9,1018.5 142.9,1018.5 154.9,1018.5 166.9,1018.5 178.9,1018.6 190.9,1018.6 202.9,1018.6 214.9,1018.6 226.9,1018.6 238.9,1018.6 250.9,1018.7 262.9,1018.7 274.9,1018.7 286.9,1018.7 298.9,1018.7 310.9,1018.7 322.9,1018.8 334.9,1018.8 346.9,1018.8 358.9,1018.8 370.9,1018.8 382.9,1018.8 394.9,1018.8 406.9,1018.8 418.9,1018.8 430.9,1018.9 442.9,1018.9 454.9,1019.0 466.9,1019.0 478.9,1019.0 490.9,1019.1 502.9,1019.1 514.9,1019.1 526.9,1019.1 538.9,1019.1 550.9,1019.1 562.9,1019.2 574.9,1019.2 586.9,1019.2 598.9,1019.2 610.9,1019.2 622.9,1019.2 634.9,1019.3 646.9,1019.3 658.9,1019.3 670.9,1019.3 682.9,1019.3 695.5,1019.3"/>
<path d="M58.9,1029.3 70.9,1029.3 82.9,1029.3 94.9,1029.3 106.9,1029.3 118.9,1029.3 130.9,1029.3 142.9,1029.3 154.9,1029.3 166.9,1029.3 178.9,1029.4 190.9,1029.4 202.9,1029.4 214.9,1029.4 226.9,1029.4 238.9,1029.5 250.9,1029.5 262.9,1029.5 274.9,1029.5 286.9,1029.5 298.9,1029.5 310.9,1029.6 322.9,1029.6 334.9,1029.6 346.9,1029.6 358.9,1029.6 370.9,1029.6 382.9,1029.6 394.9,1029.6 406.9,1029.7 418.9,1029.7 430.9,1029.8 442.9,1029.8 454.9,1029.9 466.9,1029.9 478.9,1030.0 490.9,1030.0 502.9,1030.0 514.9,1030.0 526.9,1030.0 538.9,1030.1 550.9,1030.1 562.9,1030.1 574.9,1030.1 586.9,1030.1 598.9,1030.1 610.9,1030.2 622.9,1030.2 634.9,1030.2 646.9,1030.2 658.9,1030.2 670.9,1030.3 682.9,1030.3 695.5,1030.3"/>
<path d="M58.9,1040.1 70.9,1040.1 82.9,1040.1 94.9,1040.1 106.9,1040.1 118.9,1040.1 130.9,1040.1 142.9,1040.1 154.9,1040.1 166.9,1040.1 178.9,1040.1 190.9,1040.2 202.9,1040.2 214.9,1040.2 226.9,1040.2 238.9,1040.3 250.9,1040.3 262.9,1040.3 274.9,1040.3 286.9,1040.3 298.9,1040.3 310.9,1040.3 322.9,1040.4 334.9,1040.4 346.9,1040.4 358.9,1040.4 370.9,1040.4 382.9,1040.4 394.9,1040.4 406.9,1040.5 418.9,1040.5 430.9,1040.6 442.9,1040.7 454.9,1040.8 466.9,1040.9 478.9,1040.9 490.9,1041.0 502.9,1041.0 514.9,1041.0 526.9,1041.0 538.9,1041.0 550.9,1041.0 562.9,1041.0 574.9,1041.0 586.9,1041.1 598.9,1041.1 610.9,1041.1 622.9,1041.1 634.9,1041.2 646.9,1041.2 658.9,1041.2 670.9,1041.2 682.9,1041.2 695.5,1041.3"/>
<path d="M58.9,1050.9 70.9,1050.9 82.9,1051.0 94.9,1051.0 106.9,1051.0 118.9,1050.9 130.9,1050.9 142.9,1050.9 154.9,1050.9 166.9,1050.9 178.9,1050.9 190.9,1050.9 202.9,1051.0 214.9,1051.0 226.9,1051.0 238.9,1051.1 250.9,1051.1 262.9,1051.1 274.9,1051.1 286.9,1051.1 298.9,1051.1 310.9,1051.1 322.9,1051.1 334.9,1051.1 346.9,1051.1 358.9,1051.1 370.9,1051.1 382.9,1051.2 394.9,1051.2 406.9,1051.3 418.9,1051.4 430.9,1051.5 442.9,1051.7 454.9,1051.8 466.9,1051.9 478.9,1051.9 490.9,1052.0 502.9,1052.0 514.9,1052.0 526.9,1052.0 538.9,1051.9 550.9,1051.9 562.9,1052.0 574.9,1052.0 586.9,1052.0 598.9,1052.1 610.9,1052.1 622.9,1052.1 634.9,1052.1 646.9,1052.2 658.9,1052.2 670.9,1052.2 682.9,1052.3 695.5,1052.3"/>
<path d="M58.9,1061.8 70.9,1061.8 82.9,1061.8 94.9,1061.8 106.9,1061.8 118.9,1061.7 130.9,1061.7 142.9,1061.7 154.9,1061.6 166.9,1061.6 178.9,1061.6 190.9,1061.6 202.9,1061.7 214.9,1061.7 226.9,1061.8 238.9,1061.9 250.9,1061.9 262.9,1061.9 274.9,1061.9 286.9,1061.9 298.9,1061.8 310.9,1061.8 322.9,1061.8 334.9,1061.7 346.9,1061.7 358.9,1061.7 370.9,1061.8 382.9,1061.8 394.9,1062.0 406.9,1062.1 418.9,1062.2 430.9,1062.4 442.9,1062.7 454.9,1062.9 466.9,1063.0 478.9,1063.0 490.9,1063.1 502.9,1063.1 514.9,1063.0 526.9,1063.0 538.9,1062.9 550.9,1062.9 562.9,1062.9 574.9,1063.0 586.9,1063.0 598.9,1063.0 610.9,1063.1 622.9,1063.1 634.9,1063.2 646.9,1063.2 658.9,1063.2 670.9,1063.3 682.9,1063.3 695.5,1063.3"/>
<path d="M58.9,1072.7 70.9,1072.7 82.9,1072.7 94.9,1072.7 106.9,1072.6 118.9,1072.6 130.9,1072.5 142.9,1072.4 154.9,1072.4 166.9,1072.3 178.9,1072.3 190.9,1072.3 202.9,1072.4 214.9,1072.5 226.9,1072.5 238.9,1072.6 250.9,1072.7 262.9,1072.7 274.9,1072.7 286.9,1072.6 298.9,1072.5 310.9,1072.4 322.9,1072.4 334.9,1072.3 346.9,1072.3 358.9,1072.3 370.9,1072.3 382.9,1072.5 394.9,1072.6 406.9,1072.8 418.9,1073.0 430.9,1073.4 442.9,1073.7 454.9,1074.0 466.9,1074.1 478.9,1074.2 490.9,1074.2 502.9,1074.2 514.9,1074.1 526.9,1074.0 538.9,1074.0 550.9,1073.9 562.9,1073.9 574.9,1074.0 586.9,1074.0 598.9,1074.1 610.9,1074.1 622.9,1074.2 634.9,1074.2 646.9,1074.3 658.9,1074.3 670.9,1074.4 682.9,1074.4 695.5,1074.4"/>
<path d="M58.9,1083.7 70.9,1083.7 82.9,1083.6 94.9,1083.6 106.9,1083.5 118.9,1083.4 130.9,1083.3 142.9,1083.2 154.9,1083.1 166.9,1083.0 178.9,1082.9 190.9,1083.0 202.9,1083.1 214.9,1083.2 226.9,1083.2 238.9,1083.3 250.9,1083.5 262.9,1083.4 274.9,1083.4 286.9,1083.2 298.9,1083.1 310.9,1083.0 322.9,1082.9 334.9,1082.7 346.9,1082.7 358.9,1082.7 370.9,1082.8 382.9,1083.0 394.9,1083.2 406.9,1083.5 418.9,1083.9 430.9,1084.4 442.9,1084.9 454.9,1085.2 466.9,1085.4 478.9,1085.5 490.9,1085.5 502.9,1085.5 514.9,1085.3 526.9,1085.1 538.9,1085.0 550.9,1085.0 562.9,1085.0 574.9,1085.0 586.9,1085.1 598.9,1085.1 610.9,1085.2 622.9,1085.3 634.9,1085.3 646.9,1085.4 658.9,1085.4 670.9,1085.5 682.9,1085.6 695.5,1085.6"/>
<path d="M58.9,1094.7 70.9,1094.7 82.9,1094.6 94.9,1094.6 106.9,1094.4 118.9,1094.2 130.9,1094.0 142.9,1093.9 154.9,1093.7 166.9,1093.6 178.9,1093.5 190.9,1093.5 202.9,1093.7 214.9,1093.8 226.9,1093.9 238.9,1094.0 250.9,1094.2 262.9,1094.2 274.9,1094.0 286.9,1093.8 298.9,1093.6 310.9,1093.4 322.9,1093.2 334.9,1093.0 346.9,1092.9 358.9,1092.9 370.9,1093.0 382.9,1093.4 394.9,1093.8 406.9,1094.2 418.9,1094.7 430.9,1095.4 442.9,1096.1 454.9,1096.6 466.9,1096.8 478.9,1096.9 490.9,1096.9 502.9,1096.9 514.9,1096.6 526.9,1096.4 538.9,1096.2 550.9,1096.1 562.9,1096.1 574.9,1096.1 586.9,1096.2 598.9,1096.3 610.9,1096.4 622.9,1096.4 634.9,1096.5 646.9,1096.6 658.9,1096.7 670.9,1096.8 682.9,1096.8 695.5,1096.9"/>
<path d="M58.9,1105.8 70.9,1105.8 82.9,1105.7 94.9,1105.6 106.9,1105.3 118.9,1105.1 130.9,1104.8 142.9,1104.5 154.9,1104.3 166.9,1104.1 178.9,1104.0 190.9,1104.0 202.9,1104.2 214.9,1104.3 226.9,1104.5 238.9,1104.7 250.9,1104.9 262.9,1104.8 274.9,1104.6 286.9,1104.3 298.9,1104.0 310.9,1103.7 322.9,1103.4 334.9,1103.0 346.9,1102.9 358.9,1102.9 370.9,1103.1 382.9,1103.6 394.9,1104.2 406.9,1104.7 418.9,1105.5 430.9,1106.4 442.9,1107.5 454.9,1108.2 466.9,1108.5 478.9,1108.6 490.9,1108.6 502.9,1108.4 514.9,1108.1 526.9,1107.7 538.9,1107.4 550.9,1107.3 562.9,1107.2 574.9,1107.3 586.9,1107.4 598.9,1107.5 610.9,1107.6 622.9,1107.7 634.9,1107.8 646.9,1107.9 658.9,1108.0 670.9,1108.2 682.9,1108.2 695.5,1108.4"/>
<path d="M58.9,1117.0 70.9,1117.0 82.9,1116.8 94.9,1116.6 106.9,1116.3 118.9,1115.9 130.9,1115.5 142.9,1115.1 154.9,1114.8 166.9,1114.6 178.9,1114.4 190.9,1114.4 202.9,1114.6 214.9,1114.8 226.9,1115.0 238.9,1115.3 250.9,1115.5 262.9,1115.4 274.9,1115.2 286.9,1114.7 298.9,1114.3 310.9,1113.8 322.9,1113.4 334.9,1112.9 346.9,1112.7 358.9,1112.7 370.9,1113.0 382.9,1113.6 394.9,1114.4 406.9,1115.2 418.9,1116.2 430.9,1117.6 442.9,1119.0 454.9,1120.0 466.9,1120.4 478.9,1120.5 490.9,1120.5 502.9,1120.2 514.9,1119.7 526.9,1119.2 538.9,1118.8 550.9,1118.5 562.9,1118.4 574.9,1118.5 586.9,1118.6 598.9,1118.8 610.9,1118.9 622.9,1119.1 634.9,1119.2 646.9,1119.3 658.9,1119.4 670.9,1119.7 682.9,1119.7 695.5,1119.9"/>
<path d="M58.9,1128.3 70.9,1128.3 82.9,1128.0 94.9,1127.8 106.9,1127.3 118.9,1126.8 130.9,1126.2 142.9,1125.7 154.9,1125.2 166.9,1124.9 178.9,1124.6 190.9,1124.6 202.9,1124.9 214.9,1125.2 226.9,1125.5 238.9,1125.8 250.9,1126.2 262.9,1126.0 274.9,1125.6 286.9,1125.0 298.9,1124.3 310.9,1123.7 322.9,1123.1 334.9,1122.3 346.9,1122.1 358.9,1122.1 370.9,1122.5 382.9,1123.4 394.9,1124.5 406.9,1125.6 418.9,1127.0 430.9,1128.8 442.9,1130.7 454.9,1132.0 466.9,1132.5 478.9,1132.7 490.9,1132.6 502.9,1132.3 514.9,1131.6 526.9,1130.8 538.9,1130.2 550.9,1129.9 562.9,1129.8 574.9,1129.8 586.9,1130.0 598.9,1130.2 610.9,1130.4 622.9,1130.5 634.9,1130.7 646.9,1130.9 658.9,1131.0 670.9,1131.4 682.9,1131.4 695.5,1131.7"/>
<path d="M58.9,1139.8 70.9,1139.7 82.9,1139.4 94.9,1139.0 106.9,1138.4 118.9,1137.7 130.9,1136.9 142.9,1136.2 154.9,1135.6 166.9,1135.1 178.9,1134.7 190.9,1134.7 202.9,1135.1 214.9,1135.5 226.9,1135.8 238.9,1136.2 250.9,1136.7 262.9,1136.5 274.9,1135.9 286.9,1135.0 298.9,1134.2 310.9,1133.3 322.9,1132.5 334.9,1131.5 346.9,1131.2 358.9,1131.2 370.9,1131.7 382.9,1132.9 394.9,1134.4 406.9,1135.8 418.9,1137.7 430.9,1140.1 442.9,1142.6 454.9,1144.4 466.9,1145.1 478.9,1145.2 490.9,1145.2 502.9,1144.7 514.9,1143.7 526.9,1142.6 538.9,1141.9 550.9,1141.4 562.9,1141.2 574.9,1141.3 586.9,1141.5 598.9,1141.8 610.9,1142.0 622.9,1142.2 634.9,1142.4 646.9,1142.7 658.9,1142.8 670.9,1143.3 682.9,1143.4 695.5,1143.7"/>
<path d="M58.9,1151.5 70.9,1151.3 82.9,1150.9 94.9,1150.4 106.9,1149.6 118.9,1148.6 130.9,1147.6 142.9,1146.6 154.9,1145.8 166.9,1145.1 178.9,1144.6 190.9,1144.6 202.9,1145.1 214.9,1145.6 226.9,1146.0 238.9,1146.5 250.9,1147.2 262.9,1146.8 274.9,1146.1 286.9,1144.9 298.9,1143.8 310.9,1142.6 322.9,1141.5 334.9,1140.1 346.9,1139.7 358.9,1139.7 370.9,1140.4 382.9,1142.0 394.9,1144.0 406.9,1145.9 418.9,1148.4 430.9,1151.6 442.9,1154.9 454.9,1157.2 466.9,1158.0 478.9,1158.2 490.9,1158.1 502.9,1157.5 514.9,1156.2 526.9,1154.7 538.9,1153.7 550.9,1153.0 562.9,1152.8 574.9,1152.9 586.9,1153.2 598.9,1153.5 610.9,1153.8 622.9,1154.1 634.9,1154.3 646.9,1154.6 658.9,1154.9 670.9,1155.4 682.9,1155.5 695.5,1156.0"/>
<path d="M58.9,1163.4 70.9,1163.1 82.9,1162.6 94.9,1161.9 106.9,1160.8 118.9,1159.5 130.9,1158.2 142.9,1156.9 154.9,1155.8 166.9,1155.0 178.9,1154.3 190.9,1154.3 202.9,1154.9 214.9,1155.5 226.9,1156.1 238.9,1156.7 250.9,1157.5 262.9,1157.1 274.9,1156.1 286.9,1154.6 298.9,1153.1 310.9,1151.5 322.9,1150.0 334.9,1148.3 346.9,1147.7 358.9,1147.8 370.9,1148.6 382.9,1150.7 394.9,1153.3 406.9,1155.8 418.9,1159.0 430.9,1163.1 442.9,1167.4 454.9,1170.4 466.9,1171.5 478.9,1171.7 490.9,1171.6 502.9,1170.7 514.9,1169.0 526.9,1167.1 538.9,1165.7 550.9,1164.9 562.9,1164.6 574.9,1164.7 586.9,1165.0 598.9,1165.4 610.9,1165.8 622.9,1166.1 634.9,1166.5 646.9,1166.9 658.9,1167.1 670.9,1167.9 682.9,1168.0 695.5,1168.6"/>
<path d="M58.9,1175.5 70.9,1175.1 82.9,1174.4 94.9,1173.6 106.9,1172.2 118.9,1170.5 130.9,1168.8 142.9,1167.1 154.9,1165.7 166.9,1164.6 178.9,1163.7 190.9,1163.7 202.9,1164.5 214.9,1165.2 226.9,1166.0 238.9,1166.8 250.9,1167.8 262.9,1167.2 274.9,1166.0 286.9,1164.0 298.9,1162.0 310.9,1160.0 322.9,1158.1 334.9,1155.8 346.9,1155.1 358.9,1155.1 370.9,1156.2 382.9,1159.0 394.9,1162.2 406.9,1165.4 418.9,1169.6 430.9,1174.9 442.9,1180.4 454.9,1184.2 466.9,1185.6 478.9,1185.8 490.9,1185.6 502.9,1184.5 514.9,1182.3 526.9,1179.8 538.9,1178.0 550.9,1176.9 562.9,1176.5 574.9,1176.6 586.9,1177.1 598.9,1177.5 610.9,1178.0 622.9,1178.5 634.9,1178.9 646.9,1179.4 658.9,1179.8 670.9,1180.7 682.9,1180.9 695.5,1181.6"/>
</g>
<path d="M371.3,953.7 L366.1,955.8 L366.1,951.6 Z" fill="#fff"/>
<path d="M371.3,964.6 L366.1,966.6 L366.1,962.5 Z" fill="#fff"/>
<path d="M371.3,975.4 L366.1,977.5 L366.1,973.3 Z" fill="#fff"/>
<path d="M371.3,986.3 L366.1,988.3 L366.1,984.2 Z" fill="#fff"/>
<path d="M371.3,997.1 L366.1,999.2 L366.1,995.0 Z" fill="#fff"/>
<path d="M371.3,1008.0 L366.1,1010.0 L366.1,1005.9 Z" fill="#fff"/>
<path d="M371.3,1018.8 L366.1,1020.9 L366.1,1016.7 Z" fill="#fff"/>
<path d="M371.3,1029.6 L366.1,1031.7 L366.1,1027.5 Z" fill="#fff"/>
<path d="M371.3,1040.4 L366.1,1042.4 L366.1,1038.3 Z" fill="#fff"/>
<path d="M371.3,1051.1 L366.1,1053.2 L366.1,1049.0 Z" fill="#fff"/>
<path d="M371.3,1061.7 L366.1,1063.8 L366.1,1059.7 Z" fill="#fff"/>
<path d="M371.3,1072.3 L366.1,1074.4 L366.1,1070.2 Z" fill="#fff"/>
<path d="M371.3,1082.7 L366.1,1084.8 L366.1,1080.7 Z" fill="#fff"/>
<path d="M371.3,1093.0 L366.1,1095.1 L366.1,1090.9 Z" fill="#fff"/>
<path d="M371.3,1103.1 L366.1,1105.2 L366.1,1101.0 Z" fill="#fff"/>
<path d="M371.3,1112.9 L366.1,1115.0 L366.1,1110.8 Z" fill="#fff"/>
<path d="M371.3,1122.4 L366.1,1124.5 L366.1,1120.3 Z" fill="#fff"/>
<path d="M371.3,1131.6 L366.1,1133.6 L366.1,1129.5 Z" fill="#fff"/>
<path d="M371.3,1140.3 L366.1,1142.3 L366.1,1138.2 Z" fill="#fff"/>
<path d="M371.3,1148.4 L366.1,1150.5 L366.1,1146.4 Z" fill="#fff"/>
<path d="M371.3,1156.0 L366.1,1158.1 L366.1,1153.9 Z" fill="#fff"/>
</g>
<path d="M56.9,1187.5 C57.1,1187.5 55.4,1187.5 58,1187.5 C60.6,1187.5 67.5,1187.2 72.3,1187.5 C77.1,1187.8 81.8,1188.7 86.6,1189.4 C91.4,1190.1 96.5,1191.1 100.9,1191.8 C105.3,1192.5 109.7,1193.4 112.8,1193.7 C116,1194 117.2,1194.1 120,1193.5 C122.8,1192.9 126,1191.4 129.5,1190.1 C133.1,1188.9 137.5,1187.2 141.5,1185.8 C145.4,1184.5 149.8,1183 153.4,1182.3 C157,1181.5 160.1,1181.7 162.9,1181.5 C165.7,1181.4 168.1,1182 170.1,1181.5 C172.1,1181.1 173.3,1180.2 174.8,1178.7 C176.4,1177.2 178,1174.4 179.6,1172.7 C181.2,1171.1 183,1169.3 184.4,1168.7 C185.8,1168 186.8,1167.6 188,1168.7 C189.1,1169.7 190.3,1172.4 191.5,1175.1 C192.7,1177.8 193.7,1181.6 195.1,1184.6 C196.5,1187.7 198.1,1191.5 199.9,1193.5 C201.7,1195.5 203.7,1195.9 205.8,1196.6 C208,1197.2 211,1197.3 213,1197.3 C215,1197.3 216.2,1197.3 217.8,1196.6 C219.4,1195.9 220.9,1194.6 222.5,1193 C224.1,1191.4 225.7,1189 227.3,1187 C228.9,1185 230.5,1182.5 232.1,1181.1 C233.7,1179.7 235.4,1178.8 236.8,1178.7 C238.2,1178.6 239,1179.5 240.4,1180.6 C241.8,1181.7 243.8,1184.2 245.2,1185.4 C246.6,1186.6 247.2,1187.4 248.8,1187.7 C250.3,1188.1 252.3,1188 254.7,1187.5 C257.1,1187 260.1,1185.5 263.1,1184.6 C266,1183.8 269.8,1182.7 272.6,1182.3 C275.4,1181.9 277,1182 279.8,1182.3 C282.5,1182.5 286.5,1183.3 289.3,1183.9 C292.1,1184.5 294.1,1185.1 296.5,1185.8 C298.8,1186.6 301.6,1186.8 303.6,1188.2 C305.6,1189.6 306.8,1192.4 308.4,1194.2 C310,1196 311.8,1198 313.1,1199 C314.5,1199.9 315.5,1200.1 316.7,1199.7 C317.9,1199.3 319.1,1198.5 320.3,1196.6 C321.5,1194.7 322.5,1191.2 323.9,1188.2 C325.3,1185.2 326.9,1181.9 328.6,1178.7 C330.4,1175.5 332.4,1171.7 334.6,1169.2 C336.8,1166.6 339.4,1164.6 341.8,1163.7 C344.1,1162.7 345.7,1163.4 348.9,1163.4 C352.1,1163.4 358,1163.3 360.8,1163.7 C363.6,1164 364,1164.3 365.6,1165.6 C367.2,1166.9 368.8,1169.5 370.4,1171.5 C372,1173.5 373.4,1175.5 375.1,1177.5 C376.9,1179.5 379,1181.5 380.8,1183.5 C382.5,1185.4 384.1,1187.8 385.5,1189.4 C386.9,1191 387.7,1192.8 389.1,1193 C390.5,1193.2 392.1,1191.3 393.9,1190.6 C395.7,1189.9 398.1,1189 399.8,1188.7 C401.6,1188.4 402.6,1188 404.6,1188.7 C406.6,1189.4 409.4,1191.5 411.8,1193 C414.2,1194.5 416.5,1196.2 418.9,1197.8 C421.3,1199.4 423.7,1200.7 426.1,1202.5 C428.5,1204.3 430.8,1206.5 433.2,1208.5 C435.6,1210.5 438,1213 440.4,1214.5 C442.8,1215.9 445.2,1216.8 447.5,1217.3 C449.9,1217.8 452.3,1217.9 454.7,1217.3 C457.1,1216.8 459.5,1215.3 461.8,1214 C464.2,1212.7 466.6,1210.6 469,1209.7 C471.4,1208.8 473.8,1208.6 476.1,1208.5 C478.5,1208.4 480.9,1208.7 483.3,1209 C485.7,1209.2 488.1,1209.9 490.5,1210.2 C492.8,1210.4 495.2,1210.5 497.6,1210.4 C500,1210.3 502,1210 504.8,1209.7 C507.5,1209.4 511.5,1209.1 514.3,1208.5 C517.1,1207.9 519.1,1207.1 521.5,1206.1 C523.8,1205.1 525.8,1203.9 528.6,1202.5 C531.4,1201.1 535,1199.4 538.1,1197.8 C541.3,1196.2 544.5,1194.4 547.7,1193 C550.9,1191.6 554,1190.3 557.2,1189.4 C560.4,1188.5 564,1187.9 566.8,1187.7 C569.5,1187.6 571.5,1188 573.9,1188.7 C576.3,1189.4 578.7,1190.7 581.1,1191.8 C583.5,1192.9 585.8,1194.1 588.2,1195.4 C590.6,1196.7 593,1198.3 595.4,1199.7 C597.8,1201.1 600.1,1202.9 602.5,1203.7 C604.9,1204.6 607.3,1204.9 609.7,1204.9 C612.1,1204.9 614.5,1204.5 616.8,1203.7 C619.2,1202.9 621.2,1201.5 624,1200.1 C626.8,1198.8 630.3,1196.7 633.5,1195.4 C636.7,1194.1 640.3,1193.1 643.1,1192.5 C645.8,1191.9 647.8,1191.7 650.2,1191.8 C652.6,1191.9 655,1192.4 657.4,1193 C659.8,1193.6 662.1,1194.4 664.5,1195.4 C666.9,1196.4 669.3,1197.8 671.7,1199 C674.1,1200.1 676.4,1201.9 678.8,1202.5 C681.2,1203.2 683.1,1203.2 686,1203 C688.8,1202.8 694.2,1201.6 696,1201.3 C697.8,1201.1 696.8,1201.3 696.9,1201.3" fill="none" stroke="#000" stroke-width="1.6"/>
<line x1="101.3" y1="947.4" x2="101.3" y2="1244.8" stroke="#000" stroke-opacity="0.55" stroke-width="0.8" stroke-dasharray="1.1 1.3"/>
<line x1="143.8" y1="947.4" x2="143.8" y2="1244.8" stroke="#000" stroke-opacity="0.55" stroke-width="0.8" stroke-dasharray="1.1 1.3"/>
<line x1="186.2" y1="947.4" x2="186.2" y2="1244.8" stroke="#000" stroke-opacity="0.55" stroke-width="0.8" stroke-dasharray="1.1 1.3"/>
<line x1="228.7" y1="947.4" x2="228.7" y2="1244.8" stroke="#000" stroke-opacity="0.55" stroke-width="0.8" stroke-dasharray="1.1 1.3"/>
<line x1="271.1" y1="947.4" x2="271.1" y2="1244.8" stroke="#000" stroke-opacity="0.55" stroke-width="0.8" stroke-dasharray="1.1 1.3"/>
<line x1="313.5" y1="947.4" x2="313.5" y2="1244.8" stroke="#000" stroke-opacity="0.55" stroke-width="0.8" stroke-dasharray="1.1 1.3"/>
<line x1="356" y1="947.4" x2="356" y2="1244.8" stroke="#000" stroke-opacity="0.55" stroke-width="0.8" stroke-dasharray="1.1 1.3"/>
<line x1="398.4" y1="947.4" x2="398.4" y2="1244.8" stroke="#000" stroke-opacity="0.55" stroke-width="0.8" stroke-dasharray="1.1 1.3"/>
<line x1="440.9" y1="947.4" x2="440.9" y2="1244.8" stroke="#000" stroke-opacity="0.55" stroke-width="0.8" stroke-dasharray="1.1 1.3"/>
<line x1="483.3" y1="947.4" x2="483.3" y2="1244.8" stroke="#000" stroke-opacity="0.55" stroke-width="0.8" stroke-dasharray="1.1 1.3"/>
<line x1="525.7" y1="947.4" x2="525.7" y2="1244.8" stroke="#000" stroke-opacity="0.55" stroke-width="0.8" stroke-dasharray="1.1 1.3"/>
<line x1="568.2" y1="947.4" x2="568.2" y2="1244.8" stroke="#000" stroke-opacity="0.55" stroke-width="0.8" stroke-dasharray="1.1 1.3"/>
<line x1="610.6" y1="947.4" x2="610.6" y2="1244.8" stroke="#000" stroke-opacity="0.55" stroke-width="0.8" stroke-dasharray="1.1 1.3"/>
<line x1="653.1" y1="947.4" x2="653.1" y2="1244.8" stroke="#000" stroke-opacity="0.55" stroke-width="0.8" stroke-dasharray="1.1 1.3"/>
<line x1="58.9" y1="1203.8" x2="695.5" y2="1203.8" stroke="#000" stroke-opacity="0.55" stroke-width="0.8" stroke-dasharray="1.1 1.3"/>
<line x1="58.9" y1="1161.5" x2="695.5" y2="1161.5" stroke="#000" stroke-opacity="0.55" stroke-width="0.8" stroke-dasharray="1.1 1.3"/>
<line x1="58.9" y1="1119.1" x2="695.5" y2="1119.1" stroke="#000" stroke-opacity="0.55" stroke-width="0.8" stroke-dasharray="1.1 1.3"/>
<line x1="58.9" y1="1076.8" x2="695.5" y2="1076.8" stroke="#000" stroke-opacity="0.55" stroke-width="0.8" stroke-dasharray="1.1 1.3"/>
<line x1="58.9" y1="1034.4" x2="695.5" y2="1034.4" stroke="#000" stroke-opacity="0.55" stroke-width="0.8" stroke-dasharray="1.1 1.3"/>
<line x1="58.9" y1="992" x2="695.5" y2="992" stroke="#000" stroke-opacity="0.55" stroke-width="0.8" stroke-dasharray="1.1 1.3"/>
</g>
<g clip-path="url(#cpE1)">
<rect x="695.8" y="947.4" width="636.6" height="299.4" fill="#000072"/>
<path d="M799.9,1195.4 C800.3,1192.8 799.1,1184.3 802.3,1179.9 C805.5,1175.5 814.6,1171.7 819,1169.2 C823.4,1166.6 825.4,1165.8 828.5,1164.4 C831.7,1163 832.5,1162.2 838.1,1160.8 C843.6,1159.4 854,1157.3 861.9,1156 C869.9,1154.7 877.8,1153.9 885.8,1152.9 C893.7,1151.9 901.7,1150.8 909.6,1150.1 C917.6,1149.4 925.5,1149.1 933.5,1148.9 C941.4,1148.7 949.3,1148.9 957.3,1148.9 C965.2,1148.9 971.5,1148.9 981.1,1148.9 C990.8,1148.9 1009.7,1148.9 1015,1148.9 C1020.3,1148.9 1005.4,1148.5 1013,1148.9 C1020.6,1149.3 1044.8,1150.5 1060.7,1151.3 C1076.6,1152.1 1092.5,1152.9 1108.4,1153.7 C1124.3,1154.4 1140.2,1155.2 1156.1,1156 C1172,1156.8 1187.9,1157.4 1203.8,1158.4 C1219.7,1159.4 1235.6,1160.6 1251.5,1162 C1267.3,1163.4 1285.5,1165.6 1299.1,1166.8 C1312.7,1168 1327.4,1152.5 1333,1169.2 C1338.6,1185.8 1386.3,1250.6 1333,1266.9 C1279.7,1283.2 1066.3,1266.9 1013,1266.9Z" fill="#300070"/>
<path d="M821.4,1195.4 C821.8,1191 821,1174.4 823.8,1169.2 C826.5,1163.9 831.7,1165.6 838.1,1163.9 C844.4,1162.2 854,1160.3 861.9,1159.1 C869.9,1157.9 877.8,1157.5 885.8,1156.8 C893.7,1156 901.7,1155 909.6,1154.4 C917.6,1153.7 925.5,1153.2 933.5,1152.9 C941.4,1152.7 949.3,1152.9 957.3,1152.9 C965.2,1152.9 971.5,1152.9 981.1,1152.9 C990.8,1152.9 1009.7,1152.8 1015,1152.9 C1020.3,1153.1 1005.4,1152.9 1013,1153.7 C1020.6,1154.4 1044.8,1156 1060.7,1157.2 C1076.6,1158.4 1092.5,1159.6 1108.4,1160.8 C1124.3,1162 1140.2,1163 1156.1,1164.4 C1172,1165.8 1187.9,1167.4 1203.8,1169.2 C1219.7,1170.9 1235.6,1173.3 1251.5,1175.1 C1267.3,1176.9 1285.5,1178.7 1299.1,1179.9 C1312.7,1181.1 1327.4,1167.8 1333,1182.3 C1338.6,1196.8 1386.3,1252.8 1333,1266.9 C1279.7,1281 1066.3,1266.9 1013,1266.9Z" fill="#800070"/>
<path d="M943,1195.4 C943.2,1189.9 941.8,1168.4 944.2,1162.5 C946.6,1156.5 951.1,1160.5 957.3,1159.6 C963.5,1158.7 971.5,1157.6 981.1,1157.2 C990.8,1156.8 1009.7,1157 1015,1157.2 C1020.3,1157.4 1005.4,1157.5 1013,1158.4 C1020.6,1159.3 1044.8,1161.1 1060.7,1162.5 C1076.6,1163.9 1092.5,1165.3 1108.4,1166.8 C1124.3,1168.3 1140.2,1169.9 1156.1,1171.5 C1172,1173.1 1187.9,1174.3 1203.8,1176.3 C1219.7,1178.3 1235.6,1181.1 1251.5,1183.5 C1267.3,1185.8 1285.5,1188.8 1299.1,1190.6 C1312.7,1192.4 1327.4,1181.5 1333,1194.2 C1338.6,1206.9 1386.3,1254.8 1333,1266.9 C1279.7,1279 1066.3,1266.9 1013,1266.9Z" fill="#980050"/>
<path d="M825,1195.4 C825.2,1190.8 824,1173.1 826.1,1168 C828.3,1162.8 832.1,1165.6 838.1,1164.4 C844,1163.2 854,1161.6 861.9,1160.8 C869.9,1160 877.8,1159.8 885.8,1159.6 C893.7,1159.4 901.7,1159.4 909.6,1159.6 C917.6,1159.8 927.9,1160.2 933.5,1160.8 C939,1161.4 941,1161.4 943,1163.2 C945,1165 944.2,1168.6 945.4,1171.5 C946.6,1174.5 948.8,1176.3 950.1,1181.1 C951.5,1185.8 953.1,1197 953.7,1200.1Z" fill="#b40040"/>
<path d="M1013,1159.6 C1017,1160.2 1028.9,1162 1036.8,1163.2 C1044.8,1164.4 1048.8,1165.4 1060.7,1166.8 C1072.6,1168.2 1092.5,1169.9 1108.4,1171.5 C1124.3,1173.1 1140.2,1174.5 1156.1,1176.3 C1172,1178.1 1187.9,1179.9 1203.8,1182.3 C1219.7,1184.6 1239.5,1188.4 1251.5,1190.6 C1263.4,1192.8 1267.3,1194.2 1275.3,1195.4 C1283.2,1196.6 1289.5,1197 1299.1,1197.8 C1308.8,1198.6 1327.4,1188.6 1333,1200.1 C1338.6,1211.7 1386.3,1255.8 1333,1266.9 C1279.7,1278 1066.3,1266.9 1013,1266.9Z" fill="#b40040"/>
<path d="M1125.1,1195.4 C1127.1,1194.4 1131.8,1190.5 1137,1189.4 C1142.2,1188.3 1151.9,1187.7 1156.1,1188.7 C1160.2,1189.7 1162,1192.7 1162,1195.4 C1162,1198.1 1161,1203.1 1156.1,1204.9 C1151.1,1206.7 1136.2,1205.9 1132.2,1206.1Z" fill="#980050"/>
<path d="M1013,1169.2 C1017,1169.5 1029.7,1169.9 1036.8,1171.5 C1044,1173.1 1050,1174.7 1055.9,1178.7 C1061.9,1182.7 1067.8,1191 1072.6,1195.4 C1077.4,1199.8 1078.6,1202.5 1084.5,1204.9 C1090.5,1207.3 1108.4,1206.5 1108.4,1209.7 C1108.4,1212.9 1100.4,1221.6 1084.5,1224 C1068.6,1226.4 1024.9,1224 1013,1224Z" fill="#cc0030"/>
<path d="M1222.8,1195.4 C1224.8,1195.6 1230.8,1195.6 1234.8,1196.6 C1238.7,1197.6 1244.7,1199.2 1246.7,1201.3 C1248.7,1203.5 1250.7,1208.3 1246.7,1209.7 C1242.7,1211.1 1226.8,1209.7 1222.8,1209.7Z" fill="#cc0030"/>
<path d="M827.3,1195.4 C827.5,1191 826.7,1174 828.5,1169.2 C830.3,1164.3 834.5,1167 838.1,1166.3 C841.6,1165.6 846,1164.7 850,1164.9 C854,1165 859.1,1166.2 861.9,1167.2 C864.7,1168.3 864.7,1169.9 866.7,1171.1 C868.7,1172.3 870.7,1173.4 873.8,1174.4 C877,1175.4 881.8,1176.1 885.8,1176.8 C889.7,1177.5 893.7,1178.1 897.7,1178.7 C901.7,1179.2 905.6,1179.5 909.6,1180.1 C913.6,1180.7 917.6,1181.5 921.5,1182.3 C925.5,1183.1 929.9,1183.8 933.5,1184.9 C937,1186 940.2,1187 943,1188.7 C945.8,1190.5 948.4,1193.5 950.1,1195.4 C951.9,1197.3 953.1,1199.4 953.7,1200.1Z" fill="#ff0000"/>
<path d="M1013,1166.8 C1015,1167.2 1020.9,1168 1024.9,1169.2 C1028.9,1170.3 1035.7,1171.9 1036.8,1173.9 C1038,1175.9 1034.5,1179.1 1032.1,1181.1 C1029.7,1183.1 1025.7,1185 1022.5,1185.8 C1019.4,1186.6 1014.6,1185.8 1013,1185.8Z" fill="#ff0000"/>
<path d="M830.9,1200.1 C830.9,1195.6 829.7,1176.8 830.9,1172.7 C832.1,1168.7 835.3,1175.2 838.1,1175.8 C840.9,1176.5 844.4,1176.7 847.6,1176.8 C850.8,1176.9 854.6,1176.1 857.1,1176.3 C859.7,1176.5 862.3,1174.2 863.1,1178.2 C863.9,1182.2 862.1,1196.5 861.9,1200.1Z" fill="#ff4000"/>
<path d="M832.8,1200.1 C832.8,1196.4 831.6,1180.8 832.8,1177.5 C834.1,1174.2 837.6,1179.8 840.5,1180.6 C843.3,1181.4 847,1182.1 850,1182.3 C853,1182.4 856.4,1181.4 858.3,1181.5 C860.3,1181.7 861.3,1180.4 861.9,1183.5 C862.5,1186.6 861.9,1197.4 861.9,1200.1Z" fill="#ff8000"/>
<path d="M827.3,1200.1 C827.4,1195.1 827.1,1174.5 827.8,1169.6 C828.5,1164.8 830.3,1169.3 831.4,1171.1 C832.5,1172.8 833.2,1176.9 834.5,1179.9 C835.8,1182.8 837.3,1186.7 839.3,1188.7 C841.2,1190.7 844,1191.2 846.4,1191.8 C848.8,1192.4 851.5,1192.6 853.6,1192.5 C855.7,1192.4 857.7,1189.8 859.1,1191.1 C860.4,1192.4 861.4,1198.6 861.9,1200.1Z" fill="#ffff00"/>
<path d="M1013,1169.2 C1014.2,1169.7 1018.4,1171.1 1020.2,1172.7 C1021.9,1174.3 1023.7,1176.5 1023.7,1178.7 C1023.7,1180.9 1021.9,1184.6 1020.2,1185.8 C1018.4,1187 1014.2,1185.8 1013,1185.8Z" fill="#ffc000"/>
<path d="M1013,1171.5 C1013.8,1172.3 1016.2,1174.3 1017.8,1176.3 C1019.4,1178.3 1021.3,1180.9 1022.5,1183.5 C1023.7,1186 1026.5,1190.4 1024.9,1191.8 C1023.3,1193.2 1015,1191.8 1013,1191.8Z" fill="#ffff00"/>
<path d="M693.8,1187.5 C694,1187.5 692.3,1187.5 694.9,1187.5 C697.5,1187.5 704.4,1187.2 709.2,1187.5 C714,1187.8 718.7,1188.7 723.5,1189.4 C728.3,1190.1 733.4,1191.1 737.8,1191.8 C742.2,1192.5 746.6,1193.4 749.7,1193.7 C752.9,1194 754.1,1194.1 756.9,1193.5 C759.7,1192.9 762.9,1191.4 766.4,1190.1 C770,1188.9 774.4,1187.2 778.4,1185.8 C782.3,1184.5 786.7,1183 790.3,1182.3 C793.9,1181.5 797,1181.7 799.8,1181.5 C802.6,1181.4 805,1182 807,1181.5 C809,1181.1 810.2,1180.2 811.7,1178.7 C813.3,1177.2 814.9,1174.4 816.5,1172.7 C818.1,1171.1 819.9,1169.3 821.3,1168.7 C822.7,1168 823.7,1167.6 824.9,1168.7 C826,1169.7 827.2,1172.4 828.4,1175.1 C829.6,1177.8 830.6,1181.6 832,1184.6 C833.4,1187.7 835,1191.5 836.8,1193.5 C838.6,1195.5 840.6,1195.9 842.7,1196.6 C844.9,1197.2 847.9,1197.3 849.9,1197.3 C851.9,1197.3 853.1,1197.3 854.7,1196.6 C856.3,1195.9 857.8,1194.6 859.4,1193 C861,1191.4 862.6,1189 864.2,1187 C865.8,1185 867.4,1182.5 869,1181.1 C870.6,1179.7 872.3,1178.8 873.7,1178.7 C875.1,1178.6 875.9,1179.5 877.3,1180.6 C878.7,1181.7 880.7,1184.2 882.1,1185.4 C883.5,1186.6 884.1,1187.4 885.7,1187.7 C887.2,1188.1 889.2,1188 891.6,1187.5 C894,1187 897,1185.5 900,1184.6 C902.9,1183.8 906.7,1182.7 909.5,1182.3 C912.3,1181.9 913.9,1182 916.7,1182.3 C919.4,1182.5 923.4,1183.3 926.2,1183.9 C929,1184.5 931,1185.1 933.4,1185.8 C935.7,1186.6 938.5,1186.8 940.5,1188.2 C942.5,1189.6 943.7,1192.4 945.3,1194.2 C946.9,1196 948.7,1198 950,1199 C951.4,1199.9 952.4,1200.1 953.6,1199.7 C954.8,1199.3 956,1198.5 957.2,1196.6 C958.4,1194.7 959.4,1191.2 960.8,1188.2 C962.2,1185.2 963.8,1181.9 965.5,1178.7 C967.3,1175.5 969.3,1171.7 971.5,1169.2 C973.7,1166.6 976.3,1164.6 978.7,1163.7 C981,1162.7 982.6,1163.4 985.8,1163.4 C989,1163.4 994.9,1163.3 997.7,1163.7 C1000.5,1164 1000.9,1164.3 1002.5,1165.6 C1004.1,1166.9 1005.7,1169.5 1007.3,1171.5 C1008.9,1173.5 1010.3,1175.5 1012,1177.5 C1013.8,1179.5 1015.9,1181.5 1017.7,1183.5 C1019.4,1185.4 1021,1187.8 1022.4,1189.4 C1023.8,1191 1024.6,1192.8 1026,1193 C1027.4,1193.2 1029,1191.3 1030.8,1190.6 C1032.6,1189.9 1035,1189 1036.7,1188.7 C1038.5,1188.4 1039.5,1188 1041.5,1188.7 C1043.5,1189.4 1046.3,1191.5 1048.7,1193 C1051.1,1194.5 1053.4,1196.2 1055.8,1197.8 C1058.2,1199.4 1060.6,1200.7 1063,1202.5 C1065.4,1204.3 1067.7,1206.5 1070.1,1208.5 C1072.5,1210.5 1074.9,1213 1077.3,1214.5 C1079.7,1215.9 1082.1,1216.8 1084.4,1217.3 C1086.8,1217.8 1089.2,1217.9 1091.6,1217.3 C1094,1216.8 1096.4,1215.3 1098.7,1214 C1101.1,1212.7 1103.5,1210.6 1105.9,1209.7 C1108.3,1208.8 1110.7,1208.6 1113,1208.5 C1115.4,1208.4 1117.8,1208.7 1120.2,1209 C1122.6,1209.2 1125,1209.9 1127.4,1210.2 C1129.7,1210.4 1132.1,1210.5 1134.5,1210.4 C1136.9,1210.3 1138.9,1210 1141.7,1209.7 C1144.4,1209.4 1148.4,1209.1 1151.2,1208.5 C1154,1207.9 1156,1207.1 1158.4,1206.1 C1160.7,1205.1 1162.7,1203.9 1165.5,1202.5 C1168.3,1201.1 1171.9,1199.4 1175,1197.8 C1178.2,1196.2 1181.4,1194.4 1184.6,1193 C1187.8,1191.6 1190.9,1190.3 1194.1,1189.4 C1197.3,1188.5 1200.9,1187.9 1203.7,1187.7 C1206.4,1187.6 1208.4,1188 1210.8,1188.7 C1213.2,1189.4 1215.6,1190.7 1218,1191.8 C1220.4,1192.9 1222.7,1194.1 1225.1,1195.4 C1227.5,1196.7 1229.9,1198.3 1232.3,1199.7 C1234.7,1201.1 1237,1202.9 1239.4,1203.7 C1241.8,1204.6 1244.2,1204.9 1246.6,1204.9 C1249,1204.9 1251.4,1204.5 1253.7,1203.7 C1256.1,1202.9 1258.1,1201.5 1260.9,1200.1 C1263.7,1198.8 1267.2,1196.7 1270.4,1195.4 C1273.6,1194.1 1277.2,1193.1 1280,1192.5 C1282.7,1191.9 1284.7,1191.7 1287.1,1191.8 C1289.5,1191.9 1291.9,1192.4 1294.3,1193 C1296.7,1193.6 1299,1194.4 1301.4,1195.4 C1303.8,1196.4 1306.2,1197.8 1308.6,1199 C1311,1200.1 1313.3,1201.9 1315.7,1202.5 C1318.1,1203.2 1320,1203.2 1322.9,1203 C1325.7,1202.8 1331.1,1201.6 1332.9,1201.3 C1334.7,1201.1 1333.7,1201.3 1333.8,1201.3 L1335.8,1249.8 L693.8,1249.8Z" fill="#fff"/>
<path d="M969.1,1175.8 C969.9,1174.7 972.3,1171.1 973.9,1169.2 C975.5,1167.2 974.7,1164.8 978.7,1163.9 C982.6,1163 994,1163.6 997.7,1163.9 C1001.5,1164.2 1001.5,1164.3 1001.3,1165.6 C1001.1,1166.8 998.7,1170.1 996.5,1171.5 C994.4,1173 990.8,1173.8 988.2,1174.4 C985.6,1175 983.4,1175.1 981,1175.4 C978.7,1175.6 975.1,1175.7 973.9,1175.8Z" fill="#fdc36c"/>
<use href="#slE" transform="translate(636.9,0)"/>
<path d="M693.8,1187.5 C694,1187.5 692.3,1187.5 694.9,1187.5 C697.5,1187.5 704.4,1187.2 709.2,1187.5 C714,1187.8 718.7,1188.7 723.5,1189.4 C728.3,1190.1 733.4,1191.1 737.8,1191.8 C742.2,1192.5 746.6,1193.4 749.7,1193.7 C752.9,1194 754.1,1194.1 756.9,1193.5 C759.7,1192.9 762.9,1191.4 766.4,1190.1 C770,1188.9 774.4,1187.2 778.4,1185.8 C782.3,1184.5 786.7,1183 790.3,1182.3 C793.9,1181.5 797,1181.7 799.8,1181.5 C802.6,1181.4 805,1182 807,1181.5 C809,1181.1 810.2,1180.2 811.7,1178.7 C813.3,1177.2 814.9,1174.4 816.5,1172.7 C818.1,1171.1 819.9,1169.3 821.3,1168.7 C822.7,1168 823.7,1167.6 824.9,1168.7 C826,1169.7 827.2,1172.4 828.4,1175.1 C829.6,1177.8 830.6,1181.6 832,1184.6 C833.4,1187.7 835,1191.5 836.8,1193.5 C838.6,1195.5 840.6,1195.9 842.7,1196.6 C844.9,1197.2 847.9,1197.3 849.9,1197.3 C851.9,1197.3 853.1,1197.3 854.7,1196.6 C856.3,1195.9 857.8,1194.6 859.4,1193 C861,1191.4 862.6,1189 864.2,1187 C865.8,1185 867.4,1182.5 869,1181.1 C870.6,1179.7 872.3,1178.8 873.7,1178.7 C875.1,1178.6 875.9,1179.5 877.3,1180.6 C878.7,1181.7 880.7,1184.2 882.1,1185.4 C883.5,1186.6 884.1,1187.4 885.7,1187.7 C887.2,1188.1 889.2,1188 891.6,1187.5 C894,1187 897,1185.5 900,1184.6 C902.9,1183.8 906.7,1182.7 909.5,1182.3 C912.3,1181.9 913.9,1182 916.7,1182.3 C919.4,1182.5 923.4,1183.3 926.2,1183.9 C929,1184.5 931,1185.1 933.4,1185.8 C935.7,1186.6 938.5,1186.8 940.5,1188.2 C942.5,1189.6 943.7,1192.4 945.3,1194.2 C946.9,1196 948.7,1198 950,1199 C951.4,1199.9 952.4,1200.1 953.6,1199.7 C954.8,1199.3 956,1198.5 957.2,1196.6 C958.4,1194.7 959.4,1191.2 960.8,1188.2 C962.2,1185.2 963.8,1181.9 965.5,1178.7 C967.3,1175.5 969.3,1171.7 971.5,1169.2 C973.7,1166.6 976.3,1164.6 978.7,1163.7 C981,1162.7 982.6,1163.4 985.8,1163.4 C989,1163.4 994.9,1163.3 997.7,1163.7 C1000.5,1164 1000.9,1164.3 1002.5,1165.6 C1004.1,1166.9 1005.7,1169.5 1007.3,1171.5 C1008.9,1173.5 1010.3,1175.5 1012,1177.5 C1013.8,1179.5 1015.9,1181.5 1017.7,1183.5 C1019.4,1185.4 1021,1187.8 1022.4,1189.4 C1023.8,1191 1024.6,1192.8 1026,1193 C1027.4,1193.2 1029,1191.3 1030.8,1190.6 C1032.6,1189.9 1035,1189 1036.7,1188.7 C1038.5,1188.4 1039.5,1188 1041.5,1188.7 C1043.5,1189.4 1046.3,1191.5 1048.7,1193 C1051.1,1194.5 1053.4,1196.2 1055.8,1197.8 C1058.2,1199.4 1060.6,1200.7 1063,1202.5 C1065.4,1204.3 1067.7,1206.5 1070.1,1208.5 C1072.5,1210.5 1074.9,1213 1077.3,1214.5 C1079.7,1215.9 1082.1,1216.8 1084.4,1217.3 C1086.8,1217.8 1089.2,1217.9 1091.6,1217.3 C1094,1216.8 1096.4,1215.3 1098.7,1214 C1101.1,1212.7 1103.5,1210.6 1105.9,1209.7 C1108.3,1208.8 1110.7,1208.6 1113,1208.5 C1115.4,1208.4 1117.8,1208.7 1120.2,1209 C1122.6,1209.2 1125,1209.9 1127.4,1210.2 C1129.7,1210.4 1132.1,1210.5 1134.5,1210.4 C1136.9,1210.3 1138.9,1210 1141.7,1209.7 C1144.4,1209.4 1148.4,1209.1 1151.2,1208.5 C1154,1207.9 1156,1207.1 1158.4,1206.1 C1160.7,1205.1 1162.7,1203.9 1165.5,1202.5 C1168.3,1201.1 1171.9,1199.4 1175,1197.8 C1178.2,1196.2 1181.4,1194.4 1184.6,1193 C1187.8,1191.6 1190.9,1190.3 1194.1,1189.4 C1197.3,1188.5 1200.9,1187.9 1203.7,1187.7 C1206.4,1187.6 1208.4,1188 1210.8,1188.7 C1213.2,1189.4 1215.6,1190.7 1218,1191.8 C1220.4,1192.9 1222.7,1194.1 1225.1,1195.4 C1227.5,1196.7 1229.9,1198.3 1232.3,1199.7 C1234.7,1201.1 1237,1202.9 1239.4,1203.7 C1241.8,1204.6 1244.2,1204.9 1246.6,1204.9 C1249,1204.9 1251.4,1204.5 1253.7,1203.7 C1256.1,1202.9 1258.1,1201.5 1260.9,1200.1 C1263.7,1198.8 1267.2,1196.7 1270.4,1195.4 C1273.6,1194.1 1277.2,1193.1 1280,1192.5 C1282.7,1191.9 1284.7,1191.7 1287.1,1191.8 C1289.5,1191.9 1291.9,1192.4 1294.3,1193 C1296.7,1193.6 1299,1194.4 1301.4,1195.4 C1303.8,1196.4 1306.2,1197.8 1308.6,1199 C1311,1200.1 1313.3,1201.9 1315.7,1202.5 C1318.1,1203.2 1320,1203.2 1322.9,1203 C1325.7,1202.8 1331.1,1201.6 1332.9,1201.3 C1334.7,1201.1 1333.7,1201.3 1333.8,1201.3" fill="none" stroke="#000" stroke-width="1.6"/>
<line x1="738.2" y1="947.4" x2="738.2" y2="1244.8" stroke="#000" stroke-opacity="0.55" stroke-width="0.8" stroke-dasharray="1.1 1.3"/>
<line x1="780.7" y1="947.4" x2="780.7" y2="1244.8" stroke="#000" stroke-opacity="0.55" stroke-width="0.8" stroke-dasharray="1.1 1.3"/>
<line x1="823.1" y1="947.4" x2="823.1" y2="1244.8" stroke="#000" stroke-opacity="0.55" stroke-width="0.8" stroke-dasharray="1.1 1.3"/>
<line x1="865.6" y1="947.4" x2="865.6" y2="1244.8" stroke="#000" stroke-opacity="0.55" stroke-width="0.8" stroke-dasharray="1.1 1.3"/>
<line x1="908" y1="947.4" x2="908" y2="1244.8" stroke="#000" stroke-opacity="0.55" stroke-width="0.8" stroke-dasharray="1.1 1.3"/>
<line x1="950.4" y1="947.4" x2="950.4" y2="1244.8" stroke="#000" stroke-opacity="0.55" stroke-width="0.8" stroke-dasharray="1.1 1.3"/>
<line x1="992.9" y1="947.4" x2="992.9" y2="1244.8" stroke="#000" stroke-opacity="0.55" stroke-width="0.8" stroke-dasharray="1.1 1.3"/>
<line x1="1035.3" y1="947.4" x2="1035.3" y2="1244.8" stroke="#000" stroke-opacity="0.55" stroke-width="0.8" stroke-dasharray="1.1 1.3"/>
<line x1="1077.8" y1="947.4" x2="1077.8" y2="1244.8" stroke="#000" stroke-opacity="0.55" stroke-width="0.8" stroke-dasharray="1.1 1.3"/>
<line x1="1120.2" y1="947.4" x2="1120.2" y2="1244.8" stroke="#000" stroke-opacity="0.55" stroke-width="0.8" stroke-dasharray="1.1 1.3"/>
<line x1="1162.6" y1="947.4" x2="1162.6" y2="1244.8" stroke="#000" stroke-opacity="0.55" stroke-width="0.8" stroke-dasharray="1.1 1.3"/>
<line x1="1205.1" y1="947.4" x2="1205.1" y2="1244.8" stroke="#000" stroke-opacity="0.55" stroke-width="0.8" stroke-dasharray="1.1 1.3"/>
<line x1="1247.5" y1="947.4" x2="1247.5" y2="1244.8" stroke="#000" stroke-opacity="0.55" stroke-width="0.8" stroke-dasharray="1.1 1.3"/>
<line x1="1290" y1="947.4" x2="1290" y2="1244.8" stroke="#000" stroke-opacity="0.55" stroke-width="0.8" stroke-dasharray="1.1 1.3"/>
<line x1="695.8" y1="1203.8" x2="1332.4" y2="1203.8" stroke="#000" stroke-opacity="0.55" stroke-width="0.8" stroke-dasharray="1.1 1.3"/>
<line x1="695.8" y1="1161.5" x2="1332.4" y2="1161.5" stroke="#000" stroke-opacity="0.55" stroke-width="0.8" stroke-dasharray="1.1 1.3"/>
<line x1="695.8" y1="1119.1" x2="1332.4" y2="1119.1" stroke="#000" stroke-opacity="0.55" stroke-width="0.8" stroke-dasharray="1.1 1.3"/>
<line x1="695.8" y1="1076.8" x2="1332.4" y2="1076.8" stroke="#000" stroke-opacity="0.55" stroke-width="0.8" stroke-dasharray="1.1 1.3"/>
<line x1="695.8" y1="1034.4" x2="1332.4" y2="1034.4" stroke="#000" stroke-opacity="0.55" stroke-width="0.8" stroke-dasharray="1.1 1.3"/>
<line x1="695.8" y1="992" x2="1332.4" y2="992" stroke="#000" stroke-opacity="0.55" stroke-width="0.8" stroke-dasharray="1.1 1.3"/>
</g>
<line x1="58.9" y1="947.4" x2="1332.4" y2="947.4" stroke="#000" stroke-width="1.6"/>
<line x1="53.6" y1="1203.8" x2="58.9" y2="1203.8" stroke="#000" stroke-width="1.1"/>
<text x="48.6" y="1208" font-size="12.5" text-anchor="end" style="font-family:'Liberation Serif',serif">0.1</text>
<line x1="53.6" y1="1161.5" x2="58.9" y2="1161.5" stroke="#000" stroke-width="1.1"/>
<text x="48.6" y="1165.7" font-size="12.5" text-anchor="end" style="font-family:'Liberation Serif',serif">0.2</text>
<line x1="53.6" y1="1119.1" x2="58.9" y2="1119.1" stroke="#000" stroke-width="1.1"/>
<text x="48.6" y="1123.3" font-size="12.5" text-anchor="end" style="font-family:'Liberation Serif',serif">0.3</text>
<line x1="53.6" y1="1076.8" x2="58.9" y2="1076.8" stroke="#000" stroke-width="1.1"/>
<text x="48.6" y="1081" font-size="12.5" text-anchor="end" style="font-family:'Liberation Serif',serif">0.4</text>
<line x1="53.6" y1="1034.4" x2="58.9" y2="1034.4" stroke="#000" stroke-width="1.1"/>
<text x="48.6" y="1038.6" font-size="12.5" text-anchor="end" style="font-family:'Liberation Serif',serif">0.5</text>
<line x1="53.6" y1="992" x2="58.9" y2="992" stroke="#000" stroke-width="1.1"/>
<text x="48.6" y="996.2" font-size="12.5" text-anchor="end" style="font-family:'Liberation Serif',serif">0.6</text>
<line x1="53.6" y1="949.7" x2="58.9" y2="949.7" stroke="#000" stroke-width="1.1"/>
<text x="48.6" y="953.9" font-size="12.5" text-anchor="end" style="font-family:'Liberation Serif',serif">0.7</text>
<text x="0" y="0" font-size="12.5" text-anchor="middle" style="font-family:'Liberation Serif',serif" transform="translate(25,1101.1) rotate(-90)">y (m)</text>
<text x="1" y="956.9" font-size="27" font-weight="bold" style="font-family:'Liberation Sans',sans-serif">E</text>
<path d="M86.4,957.5 L88.9,962.8 L93.3,958.9 L93.6,964.7 L99.1,962.8 L97.2,968.3 L103,968.6 L99.1,973 L104.4,975.5 L99.1,978 L103,982.4 L97.2,982.7 L99.1,988.2 L93.6,986.3 L93.3,992.1 L88.9,988.2 L86.4,993.5 L83.9,988.2 L79.5,992.1 L79.2,986.3 L73.7,988.2 L75.6,982.7 L69.8,982.4 L73.7,978 L68.4,975.5 L73.7,973 L69.8,968.6 L75.6,968.3 L73.7,962.8 L79.2,964.7 L79.5,958.9 L83.9,962.8Z" fill="#ffd700"/>
<path d="M722.8,956.5 A18,18 0 1,0 739.4,983.3 A15.8,15.8 0 1,1 722.8,956.5Z" fill="#fff"/><path d="M726.4,962.5 L727.2,965.5 L730.2,966.3 L727.2,967.1 L726.4,970.1 L725.6,967.1 L722.6,966.3 L725.6,965.5Z" fill="#fff"/><path d="M723.4,973.5 L723.8,975.1 L725.4,975.5 L723.8,975.9 L723.4,977.5 L723,975.9 L721.4,975.5 L723,975.1Z" fill="#fff"/><path d="M731.8,977 L732.3,979 L734.3,979.5 L732.3,980 L731.8,982 L731.3,980 L729.3,979.5 L731.3,979Z" fill="#fff"/>
<g clip-path="url(#cpF0)">
<rect x="58.9" y="1244.8" width="636.6" height="300.2" fill="#000072"/>
<path d="M58,1475.8 C59.2,1474.8 61.2,1471.2 65.2,1469.9 C69.1,1468.6 75.1,1468.8 81.8,1468.2 C88.6,1467.6 97.7,1467.2 105.7,1466.3 C113.6,1465.4 121.6,1463.9 129.5,1462.7 C137.5,1461.5 145.4,1460.7 153.4,1459.2 C161.3,1457.6 169.3,1455.4 177.2,1453.2 C185.2,1451 193.1,1448 201.1,1446 C209,1444 217,1442.7 224.9,1441.3 C232.9,1439.9 240.8,1438.5 248.8,1437.7 C256.7,1436.9 264.7,1436.8 272.6,1436.5 C280.6,1436.2 288.5,1435.9 296.5,1435.8 C304.4,1435.7 312.3,1435.7 320.3,1435.8 C328.2,1435.8 334.5,1435.9 344.1,1436 C353.8,1436.1 372.7,1436.4 378,1436.5 C383.3,1436.6 368.4,1436.3 376,1436.5 C383.6,1436.7 407.8,1437.1 423.7,1437.7 C439.6,1438.3 455.5,1439.3 471.4,1440.1 C487.3,1440.9 503.2,1441.7 519.1,1442.5 C535,1443.3 550.9,1444 566.8,1444.8 C582.7,1445.6 598.6,1446.4 614.5,1447.2 C630.3,1448 648.5,1449.2 662.1,1449.6 C675.7,1450 690.4,1431.7 696,1449.6 C701.6,1467.5 749.3,1539 696,1556.9 C642.7,1574.8 482.3,1556.9 376,1556.9 C269.7,1556.9 111,1556.9 58,1556.9Z" fill="#0000b4"/>
<path d="M103.3,1494.9 C103.7,1493.3 102.9,1487.6 105.7,1485.4 C108.5,1483.2 114.8,1482.7 120,1481.8 C125.2,1480.9 131.9,1480.7 136.7,1480.1 C141.5,1479.6 145,1478.4 148.6,1478.7 C152.2,1479 155.8,1479.1 158.1,1481.8 C160.5,1484.5 162.1,1492.7 162.9,1494.9Z" fill="#0000ff"/>
<path d="M306,1485.4 C306.8,1482.6 307.6,1471.7 310.8,1468.7 C313.9,1465.7 319.5,1467.5 325.1,1467.5 C330.6,1467.5 338.6,1468.1 344.1,1468.7 C349.7,1469.3 352.8,1470.3 358.4,1471.1 C364.1,1471.9 375.1,1473.9 378,1473.5 C380.9,1473.1 372.4,1468.9 376,1468.7 C379.6,1468.5 391.9,1471.7 399.8,1472.3 C407.8,1472.9 415.7,1472.3 423.7,1472.3 C431.6,1472.3 439.6,1471.7 447.5,1472.3 C455.5,1472.9 465.4,1474.8 471.4,1475.8 C477.3,1476.9 475.4,1477.7 483.3,1478.7 C491.3,1479.7 507.1,1481 519.1,1481.8 C531,1482.6 542.9,1483.2 554.8,1483.5 C566.8,1483.8 580.7,1483.3 590.6,1483.5 C600.5,1483.7 606.5,1484.3 614.5,1484.7 C622.4,1485.1 628.4,1485.8 638.3,1485.9 C648.2,1485.9 664.4,1485.2 674.1,1484.9 C683.7,1484.6 692.3,1476.2 696,1484.2 C699.7,1492.2 749.3,1524.9 696,1533.1 C642.7,1541.2 429.3,1533.1 376,1533.1Z" fill="#0000ff"/>
<path d="M239.2,1475.8 C240,1474.3 241.6,1467.5 244,1466.3 C246.4,1465.1 250.7,1467.7 253.5,1468.7 C256.3,1469.7 258.7,1471.1 260.7,1472.3 C262.7,1473.5 265.1,1473.7 265.5,1475.8 C265.8,1478 263.5,1483.8 263.1,1485.4Z" fill="#0080ff"/>
<path d="M313.1,1485.4 C313.1,1483 311.2,1473.3 313.1,1471.1 C315.1,1468.9 319.9,1471.5 325.1,1472.3 C330.2,1473.1 339,1474.8 344.1,1475.8 C349.3,1476.8 350.4,1477.2 356.1,1478.2 C361.7,1479.2 374.3,1476.6 378,1481.8 C381.7,1487 378,1504.7 378,1509.2Z" fill="#0080ff"/>
<path d="M376,1504.5 C376,1502.1 374.8,1492.3 376,1490.1 C377.2,1488 380.8,1490.5 383.2,1491.3 C385.5,1492.1 389.1,1492.7 390.3,1494.9 C391.5,1497.1 390.3,1502.9 390.3,1504.5Z" fill="#0080ff"/>
<path d="M246.4,1478.2 C246.8,1477.2 247.2,1472.5 248.8,1472.3 C250.3,1472.1 253.9,1475.8 255.9,1477 C257.9,1478.2 259.9,1478 260.7,1479.4 C261.5,1480.8 260.7,1484.4 260.7,1485.4Z" fill="#00ffff"/>
<path d="M315.5,1485.4 C315.5,1483.2 312.7,1473.3 315.5,1472.3 C318.3,1471.3 325.5,1477.4 332.2,1479.4 C339,1481.4 348.4,1482 356.1,1484.2 C363.7,1486.4 374.3,1488.4 378,1492.5 C381.7,1496.7 378,1506.4 378,1509.2Z" fill="#00ffff"/>
<path d="M376,1504.5 C376,1502.9 374.4,1495.7 376,1494.9 C377.6,1494.1 383.9,1498.1 385.5,1499.7 C387.1,1501.3 385.5,1503.7 385.5,1504.5Z" fill="#00ffff"/>
<path d="M437.2,1483.8 C437.6,1482.2 437.7,1475.2 439.5,1473.7 C441.3,1472.2 444.5,1474.3 447.9,1474.9 C451.3,1475.5 455.8,1476.4 459.8,1477.3 C463.8,1478.2 468.4,1479.4 471.7,1480.3 C475.1,1481.2 477.7,1481.7 480.1,1482.7 C482.5,1483.6 484.6,1485.3 486,1486.2 C487.4,1487.1 488,1484.4 488.4,1488 C488.8,1491.6 497,1504.4 488.4,1507.7 C479.9,1511 445.7,1507.7 437.2,1507.7Z" fill="#0080ff"/>
<path d="M441.9,1483.8 C442.3,1482.6 442.3,1477 444.3,1476.1 C446.3,1475.2 450.3,1477.6 453.8,1478.5 C457.4,1479.4 462.2,1480.6 465.8,1481.5 C469.3,1482.4 472.7,1483.1 475.3,1483.8 C477.9,1484.6 479.7,1485.3 481.3,1486.2 C482.9,1487.1 484.2,1485.6 484.8,1489.2 C485.4,1492.8 492,1504.6 484.8,1507.7 C477.7,1510.8 449.1,1507.7 441.9,1507.7Z" fill="#00ffff"/>
<path d="M445.5,1483.8 C445.9,1482.9 445.5,1478.4 447.9,1477.9 C450.3,1477.4 456.2,1479.9 459.8,1480.9 C463.4,1481.9 466.4,1482.8 469.3,1483.8 C472.3,1484.9 475.5,1486.2 477.7,1487.4 C479.9,1488.6 481.7,1487.6 482.5,1491 C483.3,1494.4 488.6,1504.9 482.5,1507.7 C476.3,1510.5 451.7,1507.7 445.5,1507.7Z" fill="#80ffff"/>
<path d="M449.1,1483.8 C449.3,1483.1 448.5,1479.8 450.3,1479.7 C452.1,1479.6 456.8,1482 459.8,1483.2 C462.8,1484.5 465.6,1486 468.2,1487.4 C470.7,1488.8 473.3,1490.5 475.3,1491.6 C477.3,1492.7 479.3,1491.3 480.1,1494 C480.9,1496.7 485.2,1505.4 480.1,1507.7 C474.9,1510 454.2,1507.7 449.1,1507.7Z" fill="#ffffff"/>
<path d="M513.5,1495.8 C513.9,1493.8 513.9,1485.3 515.8,1483.8 C517.8,1482.4 521.8,1486 525.4,1486.8 C529,1487.6 533.3,1488.2 537.3,1488.6 C541.3,1489 546,1489 549.2,1489.2 C552.4,1489.4 554.4,1490.1 556.4,1489.8 C558.4,1489.5 560.4,1484.4 561.1,1487.4 C561.9,1490.4 569.1,1504.3 561.1,1507.7 C553.2,1511.1 521.4,1507.7 513.5,1507.7Z" fill="#0080ff"/>
<path d="M518.2,1495.8 C518.6,1494.5 518.8,1488.8 520.6,1488 C522.4,1487.2 526.2,1490.1 529,1491 C531.7,1491.9 534.7,1492.7 537.3,1493.4 C539.9,1494.1 542.1,1495 544.5,1495.2 C546.8,1495.4 549.6,1495.1 551.6,1494.6 C553.6,1494.1 555.6,1490 556.4,1492.2 C557.2,1494.4 562.7,1505.1 556.4,1507.7 C550,1510.3 524.6,1507.7 518.2,1507.7Z" fill="#00ffff"/>
<path d="M585.8,1504.5 C585.8,1501.5 583.1,1488.8 585.8,1486.6 C588.6,1484.4 597.8,1490.5 602.5,1491.3 C607.3,1492.1 608.5,1491.7 614.5,1491.3 C620.4,1490.9 630.3,1489.5 638.3,1489 C646.2,1488.4 656.2,1488.8 662.1,1488.2 C668.1,1487.6 668.4,1485.7 674.1,1485.4 C679.7,1485.1 692.3,1483.4 696,1486.6 C699.7,1489.8 696,1501.5 696,1504.5Z" fill="#0080ff"/>
<path d="M56.9,1480.1 C57.1,1480.1 57,1479.9 58,1480.1 C59,1480.4 60.8,1481.3 62.8,1481.8 C64.8,1482.3 67.5,1483.1 69.9,1483 C72.3,1482.9 74.7,1481.6 77.1,1481.1 C79.5,1480.6 81.8,1480 84.2,1480.1 C86.6,1480.3 89,1480.8 91.4,1481.8 C93.8,1482.8 95.8,1484.8 98.5,1486.1 C101.3,1487.4 105.3,1489.8 108.1,1489.7 C110.9,1489.6 112.8,1486.4 115.2,1485.4 C117.6,1484.4 120,1483.5 122.4,1483.7 C124.8,1483.9 127.2,1485.7 129.5,1486.6 C131.9,1487.4 134.3,1488.8 136.7,1489 C139.1,1489.2 141.9,1488 143.8,1487.8 C145.8,1487.6 146.6,1487.6 148.6,1487.8 C150.6,1488 153.8,1489 155.8,1489 C157.8,1489 158.5,1489.2 160.5,1487.8 C162.5,1486.4 165.3,1483.4 167.7,1480.6 C170.1,1477.8 172.7,1473.9 174.8,1471.1 C177,1468.3 178.8,1465.3 180.8,1463.9 C182.8,1462.5 184.6,1462.5 186.8,1462.7 C188.9,1462.9 191.5,1464.5 193.9,1465.1 C196.3,1465.7 198.3,1466.2 201.1,1466.3 C203.9,1466.4 207.8,1465.8 210.6,1465.6 C213.4,1465.4 215.4,1465.5 217.8,1465.1 C220.1,1464.8 223.1,1463.8 224.9,1463.4 C226.7,1463 226.9,1462.4 228.5,1462.7 C230.1,1463 232.3,1464.3 234.5,1465.1 C236.6,1465.9 239.2,1466.3 241.6,1467.5 C244,1468.7 246.8,1470.7 248.8,1472.3 C250.7,1473.9 251.9,1475.7 253.5,1477 C255.1,1478.3 256.7,1479.9 258.3,1480.1 C259.9,1480.4 261.5,1480 263.1,1478.7 C264.7,1477.4 265.8,1474.4 267.8,1472.3 C269.8,1470.1 272.6,1467.5 275,1465.8 C277.4,1464.2 279.8,1462.8 282.1,1462.3 C284.5,1461.7 286.9,1461.9 289.3,1462.3 C291.7,1462.6 293.7,1463.6 296.5,1464.6 C299.2,1465.6 303.2,1467 306,1468.2 C308.8,1469.4 310.8,1470.1 313.1,1471.8 C315.5,1473.5 317.9,1476.2 320.3,1478.2 C322.7,1480.3 325.3,1482.4 327.4,1484.2 C329.6,1486 331.4,1488.1 333.4,1489 C335.4,1489.8 337.6,1489.8 339.4,1489.4 C341.2,1489 342.6,1487.4 344.1,1486.6 C345.7,1485.8 347.1,1484.7 348.9,1484.7 C350.7,1484.6 352.9,1485.3 354.9,1486.1 C356.9,1486.9 358.6,1488.4 360.8,1489.7 C363,1490.9 365.6,1492.4 368,1493.7 C370.4,1495.1 373,1496.7 375.1,1497.8 C377.3,1498.9 379.2,1499.6 380.8,1500.2 C382.3,1500.7 383.2,1501.2 384.3,1500.9 C385.5,1500.6 386.5,1499.5 387.9,1498.5 C389.3,1497.5 391.1,1496.3 392.7,1494.9 C394.3,1493.5 395.9,1491.7 397.5,1490.1 C399.1,1488.6 400.2,1487 402.2,1485.4 C404.2,1483.8 407,1482 409.4,1480.6 C411.8,1479.2 413.8,1478.3 416.5,1477 C419.3,1475.8 423.7,1473.5 426.1,1473 C428.5,1472.5 428.9,1473.4 430.8,1473.9 C432.8,1474.5 435.6,1475.4 438,1476.3 C440.4,1477.2 442.8,1477.9 445.2,1479.4 C447.5,1480.9 450.1,1483.5 452.3,1485.4 C454.5,1487.2 455.9,1489.2 458.3,1490.6 C460.6,1492 464,1492.8 466.6,1493.7 C469.2,1494.6 471.4,1495.9 473.8,1496.1 C476.1,1496.3 478.5,1495.9 480.9,1494.9 C483.3,1493.9 485.7,1491.8 488.1,1490.1 C490.5,1488.5 492.4,1486.5 495.2,1484.9 C498,1483.3 502,1481 504.8,1480.6 C507.5,1480.2 509.5,1481.3 511.9,1482.3 C514.3,1483.3 516.7,1485.1 519.1,1486.6 C521.5,1488.1 523.8,1490 526.2,1491.3 C528.6,1492.7 530.6,1493.8 533.4,1494.9 C536.2,1496 540.1,1497.7 542.9,1498 C545.7,1498.3 547.7,1497.7 550.1,1496.8 C552.5,1495.9 554.8,1494 557.2,1492.5 C559.6,1491 562,1489.2 564.4,1487.8 C566.8,1486.3 569.1,1484.5 571.5,1483.7 C573.9,1482.9 576.3,1482.7 578.7,1483 C581.1,1483.3 583.5,1484.2 585.8,1485.4 C588.2,1486.6 590.6,1488.7 593,1490.1 C595.4,1491.6 597.4,1493.4 600.1,1494.2 C602.9,1495 606.5,1495.2 609.7,1494.9 C612.9,1494.6 616,1493.4 619.2,1492.5 C622.4,1491.7 625.6,1490.2 628.8,1489.7 C631.9,1489.2 635.5,1489.2 638.3,1489.4 C641.1,1489.7 643.1,1490.7 645.4,1491.3 C647.8,1491.9 649.8,1493.3 652.6,1493 C655.4,1492.7 659.4,1490.9 662.1,1489.7 C664.9,1488.5 666.9,1486.8 669.3,1485.9 C671.7,1484.9 674.1,1484.3 676.4,1484.2 C678.8,1484.1 681.2,1484.6 683.6,1485.4 C686,1486.2 688.7,1488.3 690.8,1489 C692.8,1489.6 695,1489.4 696,1489.4 C697,1489.5 696.8,1489.4 696.9,1489.4 L698.9,1548 L56.9,1548Z" fill="#fff"/>
<g id="slF" clip-path="url(#flF)">
<g fill="none" stroke="#fff" stroke-opacity="0.62" stroke-width="0.85">
<path d="M58.9,1251.0 70.9,1251.0 82.9,1251.0 94.9,1251.0 106.9,1251.0 118.9,1251.0 130.9,1251.0 142.9,1251.0 154.9,1251.0 166.9,1251.0 178.9,1251.0 190.9,1251.0 202.9,1251.0 214.9,1251.0 226.9,1251.0 238.9,1251.0 250.9,1251.0 262.9,1251.0 274.9,1251.0 286.9,1251.0 298.9,1251.0 310.9,1251.0 322.9,1251.0 334.9,1251.0 346.9,1251.0 358.9,1251.0 370.9,1251.0 382.9,1251.0 394.9,1251.0 406.9,1251.0 418.9,1251.0 430.9,1251.0 442.9,1251.0 454.9,1251.0 466.9,1251.0 478.9,1251.0 490.9,1251.0 502.9,1251.0 514.9,1251.0 526.9,1251.0 538.9,1251.0 550.9,1251.0 562.9,1251.0 574.9,1251.0 586.9,1251.0 598.9,1251.0 610.9,1251.0 622.9,1251.0 634.9,1251.0 646.9,1251.0 658.9,1251.0 670.9,1251.0 682.9,1251.0 695.5,1251.0"/>
<path d="M58.9,1261.6 70.9,1261.6 82.9,1261.6 94.9,1261.6 106.9,1261.6 118.9,1261.6 130.9,1261.6 142.9,1261.6 154.9,1261.6 166.9,1261.6 178.9,1261.6 190.9,1261.6 202.9,1261.6 214.9,1261.6 226.9,1261.6 238.9,1261.6 250.9,1261.6 262.9,1261.6 274.9,1261.6 286.9,1261.6 298.9,1261.6 310.9,1261.6 322.9,1261.6 334.9,1261.6 346.9,1261.6 358.9,1261.6 370.9,1261.6 382.9,1261.6 394.9,1261.6 406.9,1261.6 418.9,1261.6 430.9,1261.6 442.9,1261.6 454.9,1261.7 466.9,1261.7 478.9,1261.7 490.9,1261.7 502.9,1261.7 514.9,1261.7 526.9,1261.7 538.9,1261.7 550.9,1261.7 562.9,1261.7 574.9,1261.7 586.9,1261.7 598.9,1261.7 610.9,1261.7 622.9,1261.7 634.9,1261.7 646.9,1261.7 658.9,1261.7 670.9,1261.7 682.9,1261.7 695.5,1261.7"/>
<path d="M58.9,1272.1 70.9,1272.1 82.9,1272.1 94.9,1272.1 106.9,1272.1 118.9,1272.1 130.9,1272.1 142.9,1272.1 154.9,1272.1 166.9,1272.1 178.9,1272.2 190.9,1272.2 202.9,1272.2 214.9,1272.2 226.9,1272.2 238.9,1272.2 250.9,1272.2 262.9,1272.2 274.9,1272.2 286.9,1272.2 298.9,1272.2 310.9,1272.2 322.9,1272.2 334.9,1272.3 346.9,1272.3 358.9,1272.3 370.9,1272.3 382.9,1272.3 394.9,1272.3 406.9,1272.3 418.9,1272.3 430.9,1272.3 442.9,1272.3 454.9,1272.3 466.9,1272.3 478.9,1272.3 490.9,1272.3 502.9,1272.3 514.9,1272.3 526.9,1272.3 538.9,1272.3 550.9,1272.4 562.9,1272.4 574.9,1272.4 586.9,1272.4 598.9,1272.4 610.9,1272.4 622.9,1272.4 634.9,1272.4 646.9,1272.4 658.9,1272.4 670.9,1272.4 682.9,1272.4 695.5,1272.4"/>
<path d="M58.9,1282.7 70.9,1282.7 82.9,1282.7 94.9,1282.7 106.9,1282.7 118.9,1282.7 130.9,1282.7 142.9,1282.7 154.9,1282.7 166.9,1282.7 178.9,1282.7 190.9,1282.7 202.9,1282.7 214.9,1282.7 226.9,1282.8 238.9,1282.8 250.9,1282.8 262.9,1282.8 274.9,1282.8 286.9,1282.8 298.9,1282.8 310.9,1282.8 322.9,1282.9 334.9,1282.9 346.9,1282.9 358.9,1282.9 370.9,1282.9 382.9,1282.9 394.9,1282.9 406.9,1282.9 418.9,1282.9 430.9,1282.9 442.9,1282.9 454.9,1282.9 466.9,1282.9 478.9,1282.9 490.9,1283.0 502.9,1283.0 514.9,1283.0 526.9,1283.0 538.9,1283.0 550.9,1283.0 562.9,1283.0 574.9,1283.0 586.9,1283.0 598.9,1283.1 610.9,1283.1 622.9,1283.1 634.9,1283.1 646.9,1283.1 658.9,1283.1 670.9,1283.1 682.9,1283.1 695.5,1283.1"/>
<path d="M58.9,1293.2 70.9,1293.2 82.9,1293.2 94.9,1293.3 106.9,1293.3 118.9,1293.3 130.9,1293.3 142.9,1293.3 154.9,1293.3 166.9,1293.3 178.9,1293.3 190.9,1293.3 202.9,1293.3 214.9,1293.3 226.9,1293.3 238.9,1293.3 250.9,1293.4 262.9,1293.4 274.9,1293.4 286.9,1293.4 298.9,1293.4 310.9,1293.4 322.9,1293.5 334.9,1293.5 346.9,1293.5 358.9,1293.5 370.9,1293.5 382.9,1293.5 394.9,1293.5 406.9,1293.5 418.9,1293.5 430.9,1293.5 442.9,1293.5 454.9,1293.5 466.9,1293.6 478.9,1293.6 490.9,1293.6 502.9,1293.6 514.9,1293.6 526.9,1293.6 538.9,1293.7 550.9,1293.7 562.9,1293.7 574.9,1293.7 586.9,1293.7 598.9,1293.7 610.9,1293.7 622.9,1293.8 634.9,1293.8 646.9,1293.8 658.9,1293.8 670.9,1293.8 682.9,1293.8 695.5,1293.8"/>
<path d="M58.9,1303.8 70.9,1303.8 82.9,1303.8 94.9,1303.8 106.9,1303.8 118.9,1303.8 130.9,1303.8 142.9,1303.8 154.9,1303.9 166.9,1303.9 178.9,1303.9 190.9,1303.9 202.9,1303.9 214.9,1303.9 226.9,1303.9 238.9,1303.9 250.9,1303.9 262.9,1304.0 274.9,1304.0 286.9,1304.0 298.9,1304.0 310.9,1304.0 322.9,1304.1 334.9,1304.1 346.9,1304.1 358.9,1304.1 370.9,1304.1 382.9,1304.1 394.9,1304.1 406.9,1304.1 418.9,1304.1 430.9,1304.1 442.9,1304.2 454.9,1304.2 466.9,1304.2 478.9,1304.2 490.9,1304.2 502.9,1304.3 514.9,1304.3 526.9,1304.3 538.9,1304.3 550.9,1304.3 562.9,1304.4 574.9,1304.4 586.9,1304.4 598.9,1304.4 610.9,1304.4 622.9,1304.4 634.9,1304.5 646.9,1304.5 658.9,1304.5 670.9,1304.5 682.9,1304.5 695.5,1304.5"/>
<path d="M58.9,1314.4 70.9,1314.4 82.9,1314.4 94.9,1314.4 106.9,1314.4 118.9,1314.4 130.9,1314.4 142.9,1314.4 154.9,1314.4 166.9,1314.4 178.9,1314.4 190.9,1314.4 202.9,1314.5 214.9,1314.5 226.9,1314.5 238.9,1314.5 250.9,1314.5 262.9,1314.5 274.9,1314.6 286.9,1314.6 298.9,1314.6 310.9,1314.6 322.9,1314.7 334.9,1314.7 346.9,1314.7 358.9,1314.7 370.9,1314.7 382.9,1314.7 394.9,1314.7 406.9,1314.7 418.9,1314.7 430.9,1314.8 442.9,1314.8 454.9,1314.8 466.9,1314.8 478.9,1314.9 490.9,1314.9 502.9,1314.9 514.9,1314.9 526.9,1315.0 538.9,1315.0 550.9,1315.0 562.9,1315.0 574.9,1315.1 586.9,1315.1 598.9,1315.1 610.9,1315.1 622.9,1315.1 634.9,1315.1 646.9,1315.2 658.9,1315.2 670.9,1315.2 682.9,1315.2 695.5,1315.2"/>
<path d="M58.9,1324.9 70.9,1324.9 82.9,1325.0 94.9,1325.0 106.9,1325.0 118.9,1325.0 130.9,1325.0 142.9,1325.0 154.9,1325.0 166.9,1325.0 178.9,1325.0 190.9,1325.0 202.9,1325.0 214.9,1325.0 226.9,1325.0 238.9,1325.1 250.9,1325.1 262.9,1325.1 274.9,1325.1 286.9,1325.2 298.9,1325.2 310.9,1325.2 322.9,1325.3 334.9,1325.3 346.9,1325.3 358.9,1325.3 370.9,1325.4 382.9,1325.4 394.9,1325.4 406.9,1325.4 418.9,1325.3 430.9,1325.4 442.9,1325.4 454.9,1325.4 466.9,1325.5 478.9,1325.5 490.9,1325.5 502.9,1325.6 514.9,1325.6 526.9,1325.6 538.9,1325.7 550.9,1325.7 562.9,1325.7 574.9,1325.7 586.9,1325.8 598.9,1325.8 610.9,1325.8 622.9,1325.8 634.9,1325.9 646.9,1325.9 658.9,1325.9 670.9,1325.9 682.9,1325.9 695.5,1325.9"/>
<path d="M58.9,1335.5 70.9,1335.5 82.9,1335.6 94.9,1335.6 106.9,1335.6 118.9,1335.6 130.9,1335.6 142.9,1335.5 154.9,1335.5 166.9,1335.5 178.9,1335.5 190.9,1335.5 202.9,1335.5 214.9,1335.6 226.9,1335.6 238.9,1335.6 250.9,1335.6 262.9,1335.6 274.9,1335.7 286.9,1335.7 298.9,1335.7 310.9,1335.8 322.9,1335.9 334.9,1335.9 346.9,1335.9 358.9,1336.0 370.9,1336.0 382.9,1336.0 394.9,1336.0 406.9,1336.0 418.9,1336.0 430.9,1336.0 442.9,1336.0 454.9,1336.1 466.9,1336.1 478.9,1336.2 490.9,1336.2 502.9,1336.2 514.9,1336.3 526.9,1336.3 538.9,1336.4 550.9,1336.4 562.9,1336.4 574.9,1336.4 586.9,1336.5 598.9,1336.5 610.9,1336.5 622.9,1336.6 634.9,1336.6 646.9,1336.6 658.9,1336.6 670.9,1336.6 682.9,1336.6 695.5,1336.7"/>
<path d="M58.9,1346.1 70.9,1346.2 82.9,1346.2 94.9,1346.2 106.9,1346.2 118.9,1346.2 130.9,1346.1 142.9,1346.1 154.9,1346.1 166.9,1346.0 178.9,1346.0 190.9,1346.0 202.9,1346.0 214.9,1346.1 226.9,1346.1 238.9,1346.1 250.9,1346.1 262.9,1346.2 274.9,1346.2 286.9,1346.2 298.9,1346.3 310.9,1346.3 322.9,1346.4 334.9,1346.5 346.9,1346.5 358.9,1346.6 370.9,1346.6 382.9,1346.6 394.9,1346.6 406.9,1346.6 418.9,1346.6 430.9,1346.6 442.9,1346.7 454.9,1346.7 466.9,1346.8 478.9,1346.8 490.9,1346.9 502.9,1346.9 514.9,1347.0 526.9,1347.0 538.9,1347.1 550.9,1347.1 562.9,1347.1 574.9,1347.2 586.9,1347.2 598.9,1347.2 610.9,1347.3 622.9,1347.3 634.9,1347.3 646.9,1347.4 658.9,1347.4 670.9,1347.4 682.9,1347.4 695.5,1347.4"/>
<path d="M58.9,1356.8 70.9,1356.8 82.9,1356.8 94.9,1356.8 106.9,1356.8 118.9,1356.8 130.9,1356.7 142.9,1356.7 154.9,1356.6 166.9,1356.5 178.9,1356.5 190.9,1356.5 202.9,1356.5 214.9,1356.5 226.9,1356.5 238.9,1356.6 250.9,1356.6 262.9,1356.6 274.9,1356.6 286.9,1356.7 298.9,1356.7 310.9,1356.8 322.9,1356.9 334.9,1357.1 346.9,1357.1 358.9,1357.2 370.9,1357.2 382.9,1357.3 394.9,1357.3 406.9,1357.2 418.9,1357.2 430.9,1357.2 442.9,1357.3 454.9,1357.4 466.9,1357.4 478.9,1357.5 490.9,1357.6 502.9,1357.6 514.9,1357.7 526.9,1357.8 538.9,1357.8 550.9,1357.9 562.9,1357.9 574.9,1357.9 586.9,1358.0 598.9,1358.0 610.9,1358.1 622.9,1358.1 634.9,1358.1 646.9,1358.1 658.9,1358.2 670.9,1358.2 682.9,1358.2 695.5,1358.2"/>
<path d="M58.9,1367.5 70.9,1367.5 82.9,1367.5 94.9,1367.5 106.9,1367.5 118.9,1367.4 130.9,1367.3 142.9,1367.2 154.9,1367.1 166.9,1367.0 178.9,1366.9 190.9,1366.9 202.9,1366.9 214.9,1366.9 226.9,1366.9 238.9,1367.0 250.9,1367.0 262.9,1367.0 274.9,1367.0 286.9,1367.1 298.9,1367.1 310.9,1367.2 322.9,1367.4 334.9,1367.6 346.9,1367.7 358.9,1367.8 370.9,1367.8 382.9,1367.9 394.9,1367.9 406.9,1367.9 418.9,1367.8 430.9,1367.8 442.9,1367.9 454.9,1368.0 466.9,1368.1 478.9,1368.2 490.9,1368.3 502.9,1368.4 514.9,1368.5 526.9,1368.5 538.9,1368.6 550.9,1368.6 562.9,1368.7 574.9,1368.7 586.9,1368.8 598.9,1368.8 610.9,1368.9 622.9,1368.9 634.9,1369.0 646.9,1369.0 658.9,1369.0 670.9,1369.0 682.9,1369.1 695.5,1369.1"/>
<path d="M58.9,1378.2 70.9,1378.2 82.9,1378.2 94.9,1378.3 106.9,1378.2 118.9,1378.0 130.9,1377.9 142.9,1377.7 154.9,1377.6 166.9,1377.4 178.9,1377.2 190.9,1377.2 202.9,1377.2 214.9,1377.2 226.9,1377.3 238.9,1377.3 250.9,1377.3 262.9,1377.3 274.9,1377.4 286.9,1377.4 298.9,1377.5 310.9,1377.6 322.9,1377.8 334.9,1378.1 346.9,1378.2 358.9,1378.4 370.9,1378.5 382.9,1378.6 394.9,1378.6 406.9,1378.5 418.9,1378.4 430.9,1378.5 442.9,1378.5 454.9,1378.7 466.9,1378.8 478.9,1378.9 490.9,1379.0 502.9,1379.1 514.9,1379.3 526.9,1379.4 538.9,1379.4 550.9,1379.5 562.9,1379.5 574.9,1379.6 586.9,1379.7 598.9,1379.7 610.9,1379.8 622.9,1379.8 634.9,1379.9 646.9,1379.9 658.9,1379.9 670.9,1380.0 682.9,1380.0 695.5,1380.0"/>
<path d="M58.9,1389.0 70.9,1389.0 82.9,1389.0 94.9,1389.1 106.9,1388.9 118.9,1388.7 130.9,1388.5 142.9,1388.2 154.9,1388.0 166.9,1387.8 178.9,1387.5 190.9,1387.5 202.9,1387.5 214.9,1387.5 226.9,1387.5 238.9,1387.5 250.9,1387.5 262.9,1387.6 274.9,1387.6 286.9,1387.6 298.9,1387.7 310.9,1387.9 322.9,1388.2 334.9,1388.6 346.9,1388.8 358.9,1388.9 370.9,1389.1 382.9,1389.2 394.9,1389.3 406.9,1389.2 418.9,1389.1 430.9,1389.1 442.9,1389.2 454.9,1389.3 466.9,1389.5 478.9,1389.6 490.9,1389.8 502.9,1390.0 514.9,1390.1 526.9,1390.2 538.9,1390.3 550.9,1390.4 562.9,1390.4 574.9,1390.5 586.9,1390.6 598.9,1390.7 610.9,1390.7 622.9,1390.8 634.9,1390.9 646.9,1390.9 658.9,1391.0 670.9,1391.0 682.9,1391.0 695.5,1391.0"/>
<path d="M58.9,1399.9 70.9,1399.9 82.9,1399.9 94.9,1400.0 106.9,1399.7 118.9,1399.4 130.9,1399.0 142.9,1398.7 154.9,1398.4 166.9,1398.0 178.9,1397.7 190.9,1397.6 202.9,1397.6 214.9,1397.6 226.9,1397.6 238.9,1397.6 250.9,1397.6 262.9,1397.6 274.9,1397.7 286.9,1397.7 298.9,1397.8 310.9,1398.0 322.9,1398.5 334.9,1398.9 346.9,1399.2 358.9,1399.5 370.9,1399.7 382.9,1399.9 394.9,1400.0 406.9,1399.9 418.9,1399.7 430.9,1399.7 442.9,1399.8 454.9,1400.0 466.9,1400.2 478.9,1400.4 490.9,1400.6 502.9,1400.8 514.9,1401.1 526.9,1401.2 538.9,1401.3 550.9,1401.4 562.9,1401.5 574.9,1401.5 586.9,1401.7 598.9,1401.7 610.9,1401.8 622.9,1401.9 634.9,1402.0 646.9,1402.0 658.9,1402.1 670.9,1402.1 682.9,1402.1 695.5,1402.1"/>
<path d="M58.9,1410.9 70.9,1410.9 82.9,1410.9 94.9,1411.0 106.9,1410.6 118.9,1410.1 130.9,1409.7 142.9,1409.2 154.9,1408.7 166.9,1408.2 178.9,1407.7 190.9,1407.6 202.9,1407.6 214.9,1407.6 226.9,1407.5 238.9,1407.5 250.9,1407.5 262.9,1407.6 274.9,1407.6 286.9,1407.6 298.9,1407.7 310.9,1408.0 322.9,1408.6 334.9,1409.3 346.9,1409.7 358.9,1410.0 370.9,1410.4 382.9,1410.6 394.9,1410.7 406.9,1410.5 418.9,1410.3 430.9,1410.3 442.9,1410.4 454.9,1410.7 466.9,1411.0 478.9,1411.2 490.9,1411.5 502.9,1411.8 514.9,1412.1 526.9,1412.3 538.9,1412.4 550.9,1412.5 562.9,1412.6 574.9,1412.7 586.9,1412.8 598.9,1412.9 610.9,1413.0 622.9,1413.1 634.9,1413.2 646.9,1413.3 658.9,1413.4 670.9,1413.3 682.9,1413.4 695.5,1413.4"/>
<path d="M58.9,1422.0 70.9,1422.0 82.9,1422.0 94.9,1422.1 106.9,1421.6 118.9,1420.9 130.9,1420.3 142.9,1419.6 154.9,1418.9 166.9,1418.2 178.9,1417.5 190.9,1417.4 202.9,1417.4 214.9,1417.3 226.9,1417.3 238.9,1417.3 250.9,1417.3 262.9,1417.3 274.9,1417.3 286.9,1417.3 298.9,1417.5 310.9,1417.9 322.9,1418.6 334.9,1419.5 346.9,1420.1 358.9,1420.6 370.9,1421.0 382.9,1421.4 394.9,1421.5 406.9,1421.2 418.9,1420.9 430.9,1420.9 442.9,1421.1 454.9,1421.4 466.9,1421.8 478.9,1422.1 490.9,1422.5 502.9,1422.8 514.9,1423.2 526.9,1423.5 538.9,1423.6 550.9,1423.7 562.9,1423.8 574.9,1423.9 586.9,1424.2 598.9,1424.3 610.9,1424.4 622.9,1424.5 634.9,1424.6 646.9,1424.7 658.9,1424.8 670.9,1424.8 682.9,1424.8 695.5,1424.8"/>
<path d="M58.9,1433.3 70.9,1433.3 82.9,1433.3 94.9,1433.4 106.9,1432.6 118.9,1431.8 130.9,1430.9 142.9,1430.0 154.9,1429.1 166.9,1428.1 178.9,1427.2 190.9,1427.0 202.9,1427.0 214.9,1426.9 226.9,1426.8 238.9,1426.8 250.9,1426.8 262.9,1426.8 274.9,1426.7 286.9,1426.7 298.9,1427.0 310.9,1427.5 322.9,1428.5 334.9,1429.6 346.9,1430.4 358.9,1431.0 370.9,1431.7 382.9,1432.2 394.9,1432.3 406.9,1432.0 418.9,1431.5 430.9,1431.4 442.9,1431.7 454.9,1432.2 466.9,1432.6 478.9,1433.1 490.9,1433.5 502.9,1434.0 514.9,1434.5 526.9,1434.8 538.9,1435.0 550.9,1435.1 562.9,1435.2 574.9,1435.4 586.9,1435.7 598.9,1435.8 610.9,1435.9 622.9,1436.1 634.9,1436.2 646.9,1436.3 658.9,1436.4 670.9,1436.4 682.9,1436.4 695.5,1436.4"/>
<path d="M58.9,1444.7 70.9,1444.8 82.9,1444.8 94.9,1444.9 106.9,1443.9 118.9,1442.7 130.9,1441.5 142.9,1440.4 154.9,1439.1 166.9,1437.9 178.9,1436.6 190.9,1436.3 202.9,1436.3 214.9,1436.2 226.9,1436.0 238.9,1436.0 250.9,1436.0 262.9,1435.9 274.9,1435.9 286.9,1435.9 298.9,1436.2 310.9,1436.8 322.9,1438.2 334.9,1439.7 346.9,1440.7 358.9,1441.5 370.9,1442.4 382.9,1443.0 394.9,1443.2 406.9,1442.7 418.9,1442.1 430.9,1442.0 442.9,1442.4 454.9,1442.9 466.9,1443.5 478.9,1444.1 490.9,1444.7 502.9,1445.2 514.9,1446.0 526.9,1446.3 538.9,1446.5 550.9,1446.7 562.9,1446.8 574.9,1447.0 586.9,1447.4 598.9,1447.5 610.9,1447.7 622.9,1447.9 634.9,1448.0 646.9,1448.2 658.9,1448.3 670.9,1448.3 682.9,1448.3 695.5,1448.3"/>
<path d="M58.9,1456.4 70.9,1456.4 82.9,1456.5 94.9,1456.6 106.9,1455.2 118.9,1453.7 130.9,1452.2 142.9,1450.7 154.9,1449.0 166.9,1447.4 178.9,1445.7 190.9,1445.4 202.9,1445.3 214.9,1445.1 226.9,1445.0 238.9,1444.9 250.9,1444.8 262.9,1444.8 274.9,1444.7 286.9,1444.7 298.9,1445.0 310.9,1445.8 322.9,1447.6 334.9,1449.5 346.9,1450.8 358.9,1451.9 370.9,1453.0 382.9,1453.8 394.9,1454.1 406.9,1453.5 418.9,1452.7 430.9,1452.6 442.9,1453.0 454.9,1453.7 466.9,1454.5 478.9,1455.2 490.9,1455.9 502.9,1456.7 514.9,1457.6 526.9,1458.1 538.9,1458.3 550.9,1458.5 562.9,1458.7 574.9,1458.9 586.9,1459.3 598.9,1459.6 610.9,1459.7 622.9,1459.9 634.9,1460.1 646.9,1460.3 658.9,1460.5 670.9,1460.5 682.9,1460.4 695.5,1460.4"/>
<path d="M58.9,1468.4 70.9,1468.4 82.9,1468.4 94.9,1468.6 106.9,1466.8 118.9,1464.8 130.9,1462.9 142.9,1460.9 154.9,1458.8 166.9,1456.7 178.9,1454.4 190.9,1454.1 202.9,1453.9 214.9,1453.7 226.9,1453.5 238.9,1453.4 250.9,1453.3 262.9,1453.2 274.9,1453.1 286.9,1453.1 298.9,1453.5 310.9,1454.5 322.9,1456.7 334.9,1459.2 346.9,1460.9 358.9,1462.3 370.9,1463.7 382.9,1464.8 394.9,1465.2 406.9,1464.4 418.9,1463.4 430.9,1463.1 442.9,1463.7 454.9,1464.6 466.9,1465.5 478.9,1466.4 490.9,1467.4 502.9,1468.3 514.9,1469.4 526.9,1470.1 538.9,1470.3 550.9,1470.5 562.9,1470.8 574.9,1471.0 586.9,1471.6 598.9,1471.9 610.9,1472.1 622.9,1472.3 634.9,1472.6 646.9,1472.8 658.9,1473.1 670.9,1473.0 682.9,1472.9 695.5,1472.9"/>
</g>
<path d="M371.3,1251.0 L366.1,1253.1 L366.1,1248.9 Z" fill="#fff"/>
<path d="M371.3,1261.6 L366.1,1263.7 L366.1,1259.6 Z" fill="#fff"/>
<path d="M371.3,1272.3 L366.1,1274.3 L366.1,1270.2 Z" fill="#fff"/>
<path d="M371.3,1282.9 L366.1,1285.0 L366.1,1280.8 Z" fill="#fff"/>
<path d="M371.3,1293.5 L366.1,1295.6 L366.1,1291.4 Z" fill="#fff"/>
<path d="M371.3,1304.1 L366.1,1306.2 L366.1,1302.0 Z" fill="#fff"/>
<path d="M371.3,1314.7 L366.1,1316.8 L366.1,1312.7 Z" fill="#fff"/>
<path d="M371.3,1325.3 L366.1,1327.4 L366.1,1323.3 Z" fill="#fff"/>
<path d="M371.3,1336.0 L366.1,1338.0 L366.1,1333.9 Z" fill="#fff"/>
<path d="M371.3,1346.6 L366.1,1348.7 L366.1,1344.5 Z" fill="#fff"/>
<path d="M371.3,1357.2 L366.1,1359.3 L366.1,1355.1 Z" fill="#fff"/>
<path d="M371.3,1367.8 L366.1,1369.9 L366.1,1365.7 Z" fill="#fff"/>
<path d="M371.3,1378.4 L366.1,1380.5 L366.1,1376.4 Z" fill="#fff"/>
<path d="M371.3,1389.1 L366.1,1391.2 L366.1,1387.0 Z" fill="#fff"/>
<path d="M371.3,1399.7 L366.1,1401.8 L366.1,1397.6 Z" fill="#fff"/>
<path d="M371.3,1410.3 L366.1,1412.4 L366.1,1408.2 Z" fill="#fff"/>
<path d="M371.3,1420.9 L366.1,1423.0 L366.1,1418.9 Z" fill="#fff"/>
<path d="M371.3,1431.6 L366.1,1433.7 L366.1,1429.5 Z" fill="#fff"/>
<path d="M371.3,1442.2 L366.1,1444.3 L366.1,1440.1 Z" fill="#fff"/>
<path d="M371.3,1452.8 L366.1,1454.9 L366.1,1450.8 Z" fill="#fff"/>
<path d="M371.3,1463.5 L366.1,1465.5 L366.1,1461.4 Z" fill="#fff"/>
</g>
<path d="M56.9,1480.1 C57.1,1480.1 57,1479.9 58,1480.1 C59,1480.4 60.8,1481.3 62.8,1481.8 C64.8,1482.3 67.5,1483.1 69.9,1483 C72.3,1482.9 74.7,1481.6 77.1,1481.1 C79.5,1480.6 81.8,1480 84.2,1480.1 C86.6,1480.3 89,1480.8 91.4,1481.8 C93.8,1482.8 95.8,1484.8 98.5,1486.1 C101.3,1487.4 105.3,1489.8 108.1,1489.7 C110.9,1489.6 112.8,1486.4 115.2,1485.4 C117.6,1484.4 120,1483.5 122.4,1483.7 C124.8,1483.9 127.2,1485.7 129.5,1486.6 C131.9,1487.4 134.3,1488.8 136.7,1489 C139.1,1489.2 141.9,1488 143.8,1487.8 C145.8,1487.6 146.6,1487.6 148.6,1487.8 C150.6,1488 153.8,1489 155.8,1489 C157.8,1489 158.5,1489.2 160.5,1487.8 C162.5,1486.4 165.3,1483.4 167.7,1480.6 C170.1,1477.8 172.7,1473.9 174.8,1471.1 C177,1468.3 178.8,1465.3 180.8,1463.9 C182.8,1462.5 184.6,1462.5 186.8,1462.7 C188.9,1462.9 191.5,1464.5 193.9,1465.1 C196.3,1465.7 198.3,1466.2 201.1,1466.3 C203.9,1466.4 207.8,1465.8 210.6,1465.6 C213.4,1465.4 215.4,1465.5 217.8,1465.1 C220.1,1464.8 223.1,1463.8 224.9,1463.4 C226.7,1463 226.9,1462.4 228.5,1462.7 C230.1,1463 232.3,1464.3 234.5,1465.1 C236.6,1465.9 239.2,1466.3 241.6,1467.5 C244,1468.7 246.8,1470.7 248.8,1472.3 C250.7,1473.9 251.9,1475.7 253.5,1477 C255.1,1478.3 256.7,1479.9 258.3,1480.1 C259.9,1480.4 261.5,1480 263.1,1478.7 C264.7,1477.4 265.8,1474.4 267.8,1472.3 C269.8,1470.1 272.6,1467.5 275,1465.8 C277.4,1464.2 279.8,1462.8 282.1,1462.3 C284.5,1461.7 286.9,1461.9 289.3,1462.3 C291.7,1462.6 293.7,1463.6 296.5,1464.6 C299.2,1465.6 303.2,1467 306,1468.2 C308.8,1469.4 310.8,1470.1 313.1,1471.8 C315.5,1473.5 317.9,1476.2 320.3,1478.2 C322.7,1480.3 325.3,1482.4 327.4,1484.2 C329.6,1486 331.4,1488.1 333.4,1489 C335.4,1489.8 337.6,1489.8 339.4,1489.4 C341.2,1489 342.6,1487.4 344.1,1486.6 C345.7,1485.8 347.1,1484.7 348.9,1484.7 C350.7,1484.6 352.9,1485.3 354.9,1486.1 C356.9,1486.9 358.6,1488.4 360.8,1489.7 C363,1490.9 365.6,1492.4 368,1493.7 C370.4,1495.1 373,1496.7 375.1,1497.8 C377.3,1498.9 379.2,1499.6 380.8,1500.2 C382.3,1500.7 383.2,1501.2 384.3,1500.9 C385.5,1500.6 386.5,1499.5 387.9,1498.5 C389.3,1497.5 391.1,1496.3 392.7,1494.9 C394.3,1493.5 395.9,1491.7 397.5,1490.1 C399.1,1488.6 400.2,1487 402.2,1485.4 C404.2,1483.8 407,1482 409.4,1480.6 C411.8,1479.2 413.8,1478.3 416.5,1477 C419.3,1475.8 423.7,1473.5 426.1,1473 C428.5,1472.5 428.9,1473.4 430.8,1473.9 C432.8,1474.5 435.6,1475.4 438,1476.3 C440.4,1477.2 442.8,1477.9 445.2,1479.4 C447.5,1480.9 450.1,1483.5 452.3,1485.4 C454.5,1487.2 455.9,1489.2 458.3,1490.6 C460.6,1492 464,1492.8 466.6,1493.7 C469.2,1494.6 471.4,1495.9 473.8,1496.1 C476.1,1496.3 478.5,1495.9 480.9,1494.9 C483.3,1493.9 485.7,1491.8 488.1,1490.1 C490.5,1488.5 492.4,1486.5 495.2,1484.9 C498,1483.3 502,1481 504.8,1480.6 C507.5,1480.2 509.5,1481.3 511.9,1482.3 C514.3,1483.3 516.7,1485.1 519.1,1486.6 C521.5,1488.1 523.8,1490 526.2,1491.3 C528.6,1492.7 530.6,1493.8 533.4,1494.9 C536.2,1496 540.1,1497.7 542.9,1498 C545.7,1498.3 547.7,1497.7 550.1,1496.8 C552.5,1495.9 554.8,1494 557.2,1492.5 C559.6,1491 562,1489.2 564.4,1487.8 C566.8,1486.3 569.1,1484.5 571.5,1483.7 C573.9,1482.9 576.3,1482.7 578.7,1483 C581.1,1483.3 583.5,1484.2 585.8,1485.4 C588.2,1486.6 590.6,1488.7 593,1490.1 C595.4,1491.6 597.4,1493.4 600.1,1494.2 C602.9,1495 606.5,1495.2 609.7,1494.9 C612.9,1494.6 616,1493.4 619.2,1492.5 C622.4,1491.7 625.6,1490.2 628.8,1489.7 C631.9,1489.2 635.5,1489.2 638.3,1489.4 C641.1,1489.7 643.1,1490.7 645.4,1491.3 C647.8,1491.9 649.8,1493.3 652.6,1493 C655.4,1492.7 659.4,1490.9 662.1,1489.7 C664.9,1488.5 666.9,1486.8 669.3,1485.9 C671.7,1484.9 674.1,1484.3 676.4,1484.2 C678.8,1484.1 681.2,1484.6 683.6,1485.4 C686,1486.2 688.7,1488.3 690.8,1489 C692.8,1489.6 695,1489.4 696,1489.4 C697,1489.5 696.8,1489.4 696.9,1489.4" fill="none" stroke="#000" stroke-width="1.6"/>
<line x1="101.3" y1="1244.8" x2="101.3" y2="1543" stroke="#000" stroke-opacity="0.55" stroke-width="0.8" stroke-dasharray="1.1 1.3"/>
<line x1="143.8" y1="1244.8" x2="143.8" y2="1543" stroke="#000" stroke-opacity="0.55" stroke-width="0.8" stroke-dasharray="1.1 1.3"/>
<line x1="186.2" y1="1244.8" x2="186.2" y2="1543" stroke="#000" stroke-opacity="0.55" stroke-width="0.8" stroke-dasharray="1.1 1.3"/>
<line x1="228.7" y1="1244.8" x2="228.7" y2="1543" stroke="#000" stroke-opacity="0.55" stroke-width="0.8" stroke-dasharray="1.1 1.3"/>
<line x1="271.1" y1="1244.8" x2="271.1" y2="1543" stroke="#000" stroke-opacity="0.55" stroke-width="0.8" stroke-dasharray="1.1 1.3"/>
<line x1="313.5" y1="1244.8" x2="313.5" y2="1543" stroke="#000" stroke-opacity="0.55" stroke-width="0.8" stroke-dasharray="1.1 1.3"/>
<line x1="356" y1="1244.8" x2="356" y2="1543" stroke="#000" stroke-opacity="0.55" stroke-width="0.8" stroke-dasharray="1.1 1.3"/>
<line x1="398.4" y1="1244.8" x2="398.4" y2="1543" stroke="#000" stroke-opacity="0.55" stroke-width="0.8" stroke-dasharray="1.1 1.3"/>
<line x1="440.9" y1="1244.8" x2="440.9" y2="1543" stroke="#000" stroke-opacity="0.55" stroke-width="0.8" stroke-dasharray="1.1 1.3"/>
<line x1="483.3" y1="1244.8" x2="483.3" y2="1543" stroke="#000" stroke-opacity="0.55" stroke-width="0.8" stroke-dasharray="1.1 1.3"/>
<line x1="525.7" y1="1244.8" x2="525.7" y2="1543" stroke="#000" stroke-opacity="0.55" stroke-width="0.8" stroke-dasharray="1.1 1.3"/>
<line x1="568.2" y1="1244.8" x2="568.2" y2="1543" stroke="#000" stroke-opacity="0.55" stroke-width="0.8" stroke-dasharray="1.1 1.3"/>
<line x1="610.6" y1="1244.8" x2="610.6" y2="1543" stroke="#000" stroke-opacity="0.55" stroke-width="0.8" stroke-dasharray="1.1 1.3"/>
<line x1="653.1" y1="1244.8" x2="653.1" y2="1543" stroke="#000" stroke-opacity="0.55" stroke-width="0.8" stroke-dasharray="1.1 1.3"/>
<line x1="58.9" y1="1501" x2="695.5" y2="1501" stroke="#000" stroke-opacity="0.55" stroke-width="0.8" stroke-dasharray="1.1 1.3"/>
<line x1="58.9" y1="1458.7" x2="695.5" y2="1458.7" stroke="#000" stroke-opacity="0.55" stroke-width="0.8" stroke-dasharray="1.1 1.3"/>
<line x1="58.9" y1="1416.3" x2="695.5" y2="1416.3" stroke="#000" stroke-opacity="0.55" stroke-width="0.8" stroke-dasharray="1.1 1.3"/>
<line x1="58.9" y1="1374" x2="695.5" y2="1374" stroke="#000" stroke-opacity="0.55" stroke-width="0.8" stroke-dasharray="1.1 1.3"/>
<line x1="58.9" y1="1331.6" x2="695.5" y2="1331.6" stroke="#000" stroke-opacity="0.55" stroke-width="0.8" stroke-dasharray="1.1 1.3"/>
<line x1="58.9" y1="1289.2" x2="695.5" y2="1289.2" stroke="#000" stroke-opacity="0.55" stroke-width="0.8" stroke-dasharray="1.1 1.3"/>
</g>
<g clip-path="url(#cpF1)">
<rect x="695.8" y="1244.8" width="636.6" height="300.2" fill="#000072"/>
<path d="M695,1458.6 C696.6,1458.7 701.4,1458.6 704.5,1459.1 C707.7,1459.6 711.9,1460 714.1,1461.5 C716.3,1463 717.7,1466 717.7,1468.2 C717.7,1470.3 716.3,1472.7 714.1,1474.1 C711.9,1475.5 707.7,1475.9 704.5,1476.5 C701.4,1477.1 696.6,1477.5 695,1477.7Z" fill="#0000b4"/>
<path d="M695,1462.2 C696.2,1462.2 700,1461.6 702.2,1462.2 C704.3,1462.8 707.3,1464.2 708.1,1465.8 C708.9,1467.4 708.3,1470.3 706.9,1471.7 C705.5,1473.1 701.8,1473.7 699.8,1474.1 C697.8,1474.5 695.8,1474.1 695,1474.1Z" fill="#0000ff"/>
<path d="M695,1477.7 C699,1477.7 711.7,1477.5 718.8,1477.7 C726,1477.9 732,1479.1 737.9,1478.9 C743.9,1478.7 749.8,1477.1 754.6,1476.5 C759.4,1475.9 760.6,1475.6 766.5,1475.3 C772.5,1475 784.4,1475.2 790.4,1474.8 C796.3,1474.4 799.1,1474 802.3,1472.9 C805.5,1471.8 806.7,1469.7 809.5,1468.2 C812.2,1466.6 814.2,1464.2 819,1463.4 C823.8,1462.6 830.9,1463.8 838.1,1463.4 C845.2,1463 855.6,1460.8 861.9,1461 C868.3,1461.2 871.5,1463.2 876.2,1464.6 C881,1466 885.8,1469.1 890.5,1469.3 C895.3,1469.5 900.1,1467.2 904.8,1465.8 C909.6,1464.4 914.4,1461.4 919.1,1461 C923.9,1460.6 929.5,1462.6 933.5,1463.4 C937.4,1464.2 939,1466.2 943,1465.8 C947,1465.4 950.9,1462 957.3,1461 C963.7,1460 971.5,1460.2 981.1,1459.8 C990.8,1459.4 1009.7,1458.8 1015,1458.6 C1020.3,1458.4 1005.4,1458.2 1013,1458.6 C1020.6,1459 1044.8,1460.2 1060.7,1461 C1076.6,1461.8 1092.5,1462.6 1108.4,1463.4 C1124.3,1464.2 1140.2,1465.4 1156.1,1465.8 C1172,1466.2 1187.9,1466.6 1203.8,1465.8 C1219.7,1465 1235.6,1462.4 1251.5,1461 C1267.3,1459.6 1285.5,1458.2 1299.1,1457.4 C1312.7,1456.6 1327.4,1440.9 1333,1456.2 C1338.6,1471.5 1386.3,1533.7 1333,1549.2 C1279.7,1564.7 1119.3,1553.2 1013,1549.2 C906.7,1545.3 748,1529.4 695,1525.4Z" fill="#300070"/>
<path d="M730.8,1501.5 C732,1498.8 733.9,1488.4 737.9,1484.8 C741.9,1481.3 749.8,1480.9 754.6,1480.1 C759.4,1479.2 760.6,1479.8 766.5,1479.6 C772.5,1479.4 785.2,1477.8 790.4,1478.9 C795.5,1480 796.3,1482.3 797.5,1486 C798.7,1489.8 797.5,1499 797.5,1501.5Z" fill="#800070"/>
<path d="M869.1,1477.7 C869.5,1475.7 868.7,1467.4 871.5,1465.8 C874.2,1464.2 881.4,1467 885.8,1468.2 C890.1,1469.3 894.5,1471.3 897.7,1472.9 C900.9,1474.5 904.8,1474.5 904.8,1477.7 C904.8,1480.9 898.9,1489.6 897.7,1492Z" fill="#800070"/>
<path d="M938.2,1477.7 C939,1475.7 939.8,1468.2 943,1465.8 C946.2,1463.4 950.9,1463.6 957.3,1463.4 C963.7,1463.2 971.5,1464.2 981.1,1464.6 C990.8,1465 1009.7,1465.6 1015,1465.8 C1020.3,1466 1005.4,1465.2 1013,1465.8 C1020.6,1466.4 1044.8,1468.4 1060.7,1469.3 C1076.6,1470.3 1092.5,1471.1 1108.4,1471.7 C1124.3,1472.3 1140.2,1472.7 1156.1,1472.9 C1172,1473.1 1187.9,1473.1 1203.8,1472.9 C1219.7,1472.7 1235.6,1472.1 1251.5,1471.7 C1267.3,1471.3 1285.5,1470.9 1299.1,1470.5 C1312.7,1470.1 1327.4,1456.2 1333,1469.3 C1338.6,1482.5 1386.3,1535.9 1333,1549.2 C1279.7,1562.5 1066.3,1549.2 1013,1549.2Z" fill="#800070"/>
<path d="M742.7,1501.5 C743.5,1498.8 743.5,1488.2 747.5,1484.8 C751.4,1481.5 759.4,1482.1 766.5,1481.3 C773.7,1480.5 785.6,1479.1 790.4,1480.1 C795.1,1481.1 794.4,1483.7 795.1,1487.2 C795.9,1490.8 795.1,1499.2 795.1,1501.5Z" fill="#980050"/>
<path d="M1013,1477.7 C1020.9,1477.3 1044.8,1475.3 1060.7,1475.3 C1076.6,1475.3 1092.5,1477.1 1108.4,1477.7 C1124.3,1478.3 1140.2,1478.5 1156.1,1478.9 C1172,1479.3 1187.9,1479.7 1203.8,1480.1 C1219.7,1480.5 1235.6,1481.5 1251.5,1481.3 C1267.3,1481.1 1285.5,1479.5 1299.1,1478.9 C1312.7,1478.3 1327.4,1466 1333,1477.7 C1338.6,1489.4 1386.3,1537.3 1333,1549.2 C1279.7,1561.1 1066.3,1549.2 1013,1549.2Z" fill="#980050"/>
<path d="M883.4,1477.7 C883.8,1476.3 883.4,1469.9 885.8,1469.3 C888.1,1468.7 894.9,1472.1 897.7,1474.1 C900.5,1476.1 902.5,1478.3 902.5,1481.3 C902.5,1484.2 898.5,1490.2 897.7,1492Z" fill="#b40040"/>
<path d="M945.4,1477.7 C945.8,1476.3 945,1470.5 947.8,1469.3 C950.5,1468.2 957.3,1469.5 962.1,1470.5 C966.8,1471.5 971.2,1473.5 976.4,1475.3 C981.5,1477.1 986.6,1479.9 993.1,1481.3 C999.5,1482.7 1011.3,1479.5 1015,1483.7 C1018.7,1487.8 1015,1502.5 1015,1506.3Z" fill="#b40040"/>
<path d="M1013,1482.5 C1017,1482.3 1028.9,1481.9 1036.8,1481.3 C1044.8,1480.7 1052.7,1478.9 1060.7,1478.9 C1068.6,1478.9 1076.6,1480.5 1084.5,1481.3 C1092.5,1482.1 1100.4,1483.3 1108.4,1483.7 C1116.3,1484 1124.3,1483.3 1132.2,1483.7 C1140.2,1484 1148.1,1485.4 1156.1,1486 C1164,1486.6 1172,1487 1179.9,1487.2 C1187.9,1487.4 1195.8,1487 1203.8,1487.2 C1211.7,1487.4 1219.7,1488 1227.6,1488.4 C1235.6,1488.8 1243.5,1489.6 1251.5,1489.6 C1259.4,1489.6 1267.3,1488.8 1275.3,1488.4 C1283.2,1488 1289.5,1487.4 1299.1,1487.2 C1308.8,1487 1327.4,1476.9 1333,1487.2 C1338.6,1497.6 1386.3,1538.9 1333,1549.2 C1279.7,1559.6 1066.3,1549.2 1013,1549.2Z" fill="#b40040"/>
<path d="M947.8,1477.7 C948.2,1476.7 947.8,1472.3 950.1,1471.7 C952.5,1471.1 958.5,1472.5 962.1,1474.1 C965.6,1475.7 968.4,1479.1 971.6,1481.3 C974.8,1483.5 977.2,1485.8 981.1,1487.2 C985.1,1488.6 989.8,1488.4 995.4,1489.6 C1001.1,1490.8 1011.7,1491.6 1015,1494.4 C1018.3,1497.2 1015,1504.3 1015,1506.3Z" fill="#ff0000"/>
<path d="M1013,1494.4 C1014.2,1494.8 1017.8,1495.6 1020.2,1496.8 C1022.5,1498 1028.5,1500.3 1027.3,1501.5 C1026.1,1502.7 1015.4,1503.5 1013,1503.9Z" fill="#ff0000"/>
<path d="M1079.8,1482.5 C1081.8,1482.3 1086.9,1481.3 1091.7,1481.3 C1096.5,1481.3 1103.6,1481.1 1108.4,1482.5 C1113.1,1483.8 1120.3,1486.4 1120.3,1489.6 C1120.3,1492.8 1110.4,1499.5 1108.4,1501.5Z" fill="#ff0000"/>
<path d="M1156.1,1488.4 C1158.1,1488.4 1164,1487.8 1168,1488.4 C1172,1489 1175.9,1491 1179.9,1492 C1183.9,1493 1191.8,1492.8 1191.8,1494.4 C1191.8,1496 1181.9,1500.3 1179.9,1501.5Z" fill="#ff0000"/>
<path d="M1222.8,1489.6 C1225.6,1489.8 1234.8,1490.2 1239.5,1490.8 C1244.3,1491.4 1249.5,1491.4 1251.5,1493.2 C1253.4,1495 1251.5,1500.1 1251.5,1501.5Z" fill="#ff0000"/>
<path d="M952.5,1480.1 C953.3,1479.5 955.3,1476.3 957.3,1476.5 C959.3,1476.7 962.1,1479.5 964.4,1481.3 C966.8,1483.1 970.8,1485.4 971.6,1487.2 C972.4,1489 969.6,1491.2 969.2,1492Z" fill="#ff8000"/>
<path d="M1160.8,1490.8 C1163.2,1491.2 1171.2,1492.4 1175.1,1493.2 C1179.1,1494 1183.9,1494.2 1184.7,1495.6 C1185.5,1497 1180.7,1500.5 1179.9,1501.5Z" fill="#ff8000"/>
<path d="M947.8,1477.7 C948.2,1476.1 948.6,1469.3 950.1,1468.2 C951.7,1467 954.9,1469.8 957.3,1471 C959.7,1472.2 962.1,1473.8 964.4,1475.3 C966.8,1476.8 969,1478.8 971.6,1480.1 C974.2,1481.3 977.2,1482.3 979.9,1482.9 C982.7,1483.5 986.5,1481.7 988.3,1483.7 C990.1,1485.6 995.8,1492.6 990.7,1494.4 C985.5,1496.2 962.9,1494.4 957.3,1494.4Z" fill="#ff4000"/>
<path d="M951.3,1482.5 C951.5,1480.6 951.2,1472.3 952.5,1471 C953.8,1469.7 957,1473.4 959.2,1474.8 C961.4,1476.3 963.6,1478.1 965.6,1479.6 C967.7,1481.1 969.6,1482.8 971.6,1483.9 C973.6,1485 976,1485.9 977.6,1486.3 C979.2,1486.7 980.5,1484.9 981.1,1486.3 C981.7,1487.6 985.1,1493 981.1,1494.4 C977.2,1495.7 961.3,1494.4 957.3,1494.4Z" fill="#ffff00"/>
<path d="M1082.2,1480.1 C1083.7,1480.5 1088.1,1481.7 1091.7,1482.5 C1095.3,1483.3 1099.6,1484 1103.6,1484.8 C1107.6,1485.6 1113.1,1486 1115.5,1487.2 C1117.9,1488.4 1119.1,1489.6 1117.9,1492 C1116.7,1494.4 1110,1499.9 1108.4,1501.5Z" fill="#ffff00"/>
<path d="M940,1511.5 C940,1503.8 937,1472.7 940,1465 C943,1457.3 948.9,1465.2 957.9,1465.4 C966.8,1465.6 983.2,1465.9 993.7,1466.5 C1004.1,1467 1012.7,1467.5 1020.5,1468.6 C1028.2,1469.7 1035.7,1471 1040.1,1473.1 C1044.6,1475.2 1049.1,1474.7 1047.3,1481.1 C1045.5,1487.5 1032.4,1506.5 1029.4,1511.5Z" fill="#800070"/>
<path d="M940,1511.5 C940,1503.8 939.4,1472.6 940,1465 C940.6,1457.4 941.8,1465.6 943.6,1465.9 C945.4,1466.3 948,1466.1 950.7,1467.2 C953.4,1468.2 956.4,1470.1 959.7,1472.2 C963,1474.3 967.4,1478.2 970.4,1479.7 C973.4,1481.3 974.9,1481.5 977.6,1481.5 C980.2,1481.4 983.5,1479.3 986.5,1479.3 C989.5,1479.4 992.5,1480.8 995.4,1482 C998.4,1483.2 1001.4,1485 1004.4,1486.5 C1007.4,1488 1010.6,1489.6 1013.3,1491 C1016,1492.3 1018.1,1494.1 1020.5,1494.5 C1022.9,1495 1025.5,1494.4 1027.6,1493.7 C1029.7,1492.9 1030.9,1487.1 1033,1490.1 C1035.1,1493.1 1039,1508 1040.1,1511.5Z" fill="#ff0000"/>
<path d="M945.4,1511.5 C945.7,1504.4 945.4,1475.2 947.2,1469 C948.9,1462.7 953.1,1472 956.1,1474 C959.1,1476 962.4,1479.3 965,1481.1 C967.7,1483 969.8,1484.2 972.2,1485.1 C974.6,1486 975.8,1486.1 979.3,1486.5 C982.9,1486.9 988.9,1486.3 993.7,1487.4 C998.4,1488.4 1003.8,1491.1 1008,1492.8 C1012.1,1494.5 1016,1496.7 1018.7,1497.6 C1021.4,1498.5 1023.2,1495.8 1024.1,1498.1 C1024.9,1500.4 1024.1,1509.3 1024.1,1511.5Z" fill="#ff8000"/>
<path d="M959.7,1511.5 C960,1506.9 960,1487.8 961.5,1483.8 C963,1479.8 966.2,1486.6 968.6,1487.4 C971,1488.1 973.7,1487.8 975.8,1488.3 C977.9,1488.7 981.1,1486.2 981.1,1490.1 C981.1,1493.9 976.7,1508 975.8,1511.5Z" fill="#ffff00"/>
<path d="M1013.3,1511.5 C1013.6,1509.3 1013.9,1500 1015.1,1498.1 C1016.3,1496.2 1019,1499.6 1020.5,1500.1 C1022,1500.5 1023.5,1498.9 1024.1,1500.8 C1024.6,1502.7 1024.1,1509.7 1024.1,1511.5Z" fill="#ffff00"/>
<path d="M1075.9,1511.5 C1076.2,1505.6 1075,1481.4 1077.7,1475.8 C1080.4,1470.2 1087.5,1477.3 1092,1477.9 C1096.5,1478.6 1100.7,1478.9 1104.5,1479.7 C1108.4,1480.5 1112.6,1481.2 1115.3,1482.6 C1117.9,1483.9 1120,1483.1 1120.6,1487.9 C1121.2,1492.8 1119.1,1507.6 1118.8,1511.5Z" fill="#ff0000"/>
<path d="M1083.1,1511.5 C1083.2,1506.2 1081.9,1484.5 1084,1479.7 C1086.1,1474.9 1091.6,1481.7 1095.6,1482.6 C1099.6,1483.5 1104.5,1484 1108.1,1485.1 C1111.7,1486.2 1115.3,1484.8 1117,1489.2 C1118.8,1493.6 1118.5,1507.8 1118.8,1511.5Z" fill="#ff8000"/>
<path d="M1085.8,1511.5 C1085.9,1506.5 1084.7,1485.9 1086.6,1481.5 C1088.6,1477.1 1093.8,1484 1097.4,1485.1 C1101,1486.1 1105,1486.9 1108.1,1487.9 C1111.2,1489 1114.7,1487.6 1116.2,1491.5 C1117.6,1495.4 1116.9,1508.2 1117,1511.5Z" fill="#ffff00"/>
<path d="M1151,1511.5 C1151.3,1507.1 1150.4,1488.6 1152.8,1484.7 C1155.2,1480.8 1160.8,1487 1165.3,1487.9 C1169.9,1488.9 1177.6,1486.5 1180,1490.4 C1182.4,1494.4 1180,1508 1180,1511.5Z" fill="#ff0000"/>
<path d="M1161.8,1511.5 C1161.9,1508.2 1160.9,1494.5 1162.7,1491.5 C1164.4,1488.5 1169.6,1493.1 1172.5,1493.7 C1175.4,1494.2 1178.7,1491.6 1180,1494.5 C1181.3,1497.5 1180,1508.7 1180,1511.5Z" fill="#ff8000"/>
<path d="M693.8,1480.1 C694,1480.1 693.9,1479.9 694.9,1480.1 C695.9,1480.4 697.7,1481.3 699.7,1481.8 C701.7,1482.3 704.4,1483.1 706.8,1483 C709.2,1482.9 711.6,1481.6 714,1481.1 C716.4,1480.6 718.7,1480 721.1,1480.1 C723.5,1480.3 725.9,1480.8 728.3,1481.8 C730.7,1482.8 732.7,1484.8 735.4,1486.1 C738.2,1487.4 742.2,1489.8 745,1489.7 C747.8,1489.6 749.7,1486.4 752.1,1485.4 C754.5,1484.4 756.9,1483.5 759.3,1483.7 C761.7,1483.9 764.1,1485.7 766.4,1486.6 C768.8,1487.4 771.2,1488.8 773.6,1489 C776,1489.2 778.8,1488 780.7,1487.8 C782.7,1487.6 783.5,1487.6 785.5,1487.8 C787.5,1488 790.7,1489 792.7,1489 C794.7,1489 795.4,1489.2 797.4,1487.8 C799.4,1486.4 802.2,1483.4 804.6,1480.6 C807,1477.8 809.6,1473.9 811.7,1471.1 C813.9,1468.3 815.7,1465.3 817.7,1463.9 C819.7,1462.5 821.5,1462.5 823.7,1462.7 C825.8,1462.9 828.4,1464.5 830.8,1465.1 C833.2,1465.7 835.2,1466.2 838,1466.3 C840.8,1466.4 844.7,1465.8 847.5,1465.6 C850.3,1465.4 852.3,1465.5 854.7,1465.1 C857,1464.8 860,1463.8 861.8,1463.4 C863.6,1463 863.8,1462.4 865.4,1462.7 C867,1463 869.2,1464.3 871.4,1465.1 C873.5,1465.9 876.1,1466.3 878.5,1467.5 C880.9,1468.7 883.7,1470.7 885.7,1472.3 C887.6,1473.9 888.8,1475.7 890.4,1477 C892,1478.3 893.6,1479.9 895.2,1480.1 C896.8,1480.4 898.4,1480 900,1478.7 C901.6,1477.4 902.7,1474.4 904.7,1472.3 C906.7,1470.1 909.5,1467.5 911.9,1465.8 C914.3,1464.2 916.7,1462.8 919,1462.3 C921.4,1461.7 923.8,1461.9 926.2,1462.3 C928.6,1462.6 930.6,1463.6 933.4,1464.6 C936.1,1465.6 940.1,1467 942.9,1468.2 C945.7,1469.4 947.7,1470.1 950,1471.8 C952.4,1473.5 954.8,1476.2 957.2,1478.2 C959.6,1480.3 962.2,1482.4 964.3,1484.2 C966.5,1486 968.3,1488.1 970.3,1489 C972.3,1489.8 974.5,1489.8 976.3,1489.4 C978.1,1489 979.5,1487.4 981,1486.6 C982.6,1485.8 984,1484.7 985.8,1484.7 C987.6,1484.6 989.8,1485.3 991.8,1486.1 C993.8,1486.9 995.5,1488.4 997.7,1489.7 C999.9,1490.9 1002.5,1492.4 1004.9,1493.7 C1007.3,1495.1 1009.9,1496.7 1012,1497.8 C1014.2,1498.9 1016.1,1499.6 1017.7,1500.2 C1019.2,1500.7 1020.1,1501.2 1021.2,1500.9 C1022.4,1500.6 1023.4,1499.5 1024.8,1498.5 C1026.2,1497.5 1028,1496.3 1029.6,1494.9 C1031.2,1493.5 1032.8,1491.7 1034.4,1490.1 C1036,1488.6 1037.1,1487 1039.1,1485.4 C1041.1,1483.8 1043.9,1482 1046.3,1480.6 C1048.7,1479.2 1050.7,1478.3 1053.4,1477 C1056.2,1475.8 1060.6,1473.5 1063,1473 C1065.4,1472.5 1065.8,1473.4 1067.7,1473.9 C1069.7,1474.5 1072.5,1475.4 1074.9,1476.3 C1077.3,1477.2 1079.7,1477.9 1082.1,1479.4 C1084.4,1480.9 1087,1483.5 1089.2,1485.4 C1091.4,1487.2 1092.8,1489.2 1095.2,1490.6 C1097.5,1492 1100.9,1492.8 1103.5,1493.7 C1106.1,1494.6 1108.3,1495.9 1110.7,1496.1 C1113,1496.3 1115.4,1495.9 1117.8,1494.9 C1120.2,1493.9 1122.6,1491.8 1125,1490.1 C1127.4,1488.5 1129.3,1486.5 1132.1,1484.9 C1134.9,1483.3 1138.9,1481 1141.7,1480.6 C1144.4,1480.2 1146.4,1481.3 1148.8,1482.3 C1151.2,1483.3 1153.6,1485.1 1156,1486.6 C1158.4,1488.1 1160.7,1490 1163.1,1491.3 C1165.5,1492.7 1167.5,1493.8 1170.3,1494.9 C1173.1,1496 1177,1497.7 1179.8,1498 C1182.6,1498.3 1184.6,1497.7 1187,1496.8 C1189.4,1495.9 1191.7,1494 1194.1,1492.5 C1196.5,1491 1198.9,1489.2 1201.3,1487.8 C1203.7,1486.3 1206,1484.5 1208.4,1483.7 C1210.8,1482.9 1213.2,1482.7 1215.6,1483 C1218,1483.3 1220.4,1484.2 1222.7,1485.4 C1225.1,1486.6 1227.5,1488.7 1229.9,1490.1 C1232.3,1491.6 1234.3,1493.4 1237,1494.2 C1239.8,1495 1243.4,1495.2 1246.6,1494.9 C1249.8,1494.6 1252.9,1493.4 1256.1,1492.5 C1259.3,1491.7 1262.5,1490.2 1265.7,1489.7 C1268.8,1489.2 1272.4,1489.2 1275.2,1489.4 C1278,1489.7 1280,1490.7 1282.3,1491.3 C1284.7,1491.9 1286.7,1493.3 1289.5,1493 C1292.3,1492.7 1296.3,1490.9 1299,1489.7 C1301.8,1488.5 1303.8,1486.8 1306.2,1485.9 C1308.6,1484.9 1311,1484.3 1313.3,1484.2 C1315.7,1484.1 1318.1,1484.6 1320.5,1485.4 C1322.9,1486.2 1325.6,1488.3 1327.7,1489 C1329.7,1489.6 1331.9,1489.4 1332.9,1489.4 C1333.9,1489.5 1333.7,1489.4 1333.8,1489.4 L1335.8,1548 L693.8,1548Z" fill="#fff"/>
<use href="#slF" transform="translate(636.9,0)"/>
<path d="M693.8,1480.1 C694,1480.1 693.9,1479.9 694.9,1480.1 C695.9,1480.4 697.7,1481.3 699.7,1481.8 C701.7,1482.3 704.4,1483.1 706.8,1483 C709.2,1482.9 711.6,1481.6 714,1481.1 C716.4,1480.6 718.7,1480 721.1,1480.1 C723.5,1480.3 725.9,1480.8 728.3,1481.8 C730.7,1482.8 732.7,1484.8 735.4,1486.1 C738.2,1487.4 742.2,1489.8 745,1489.7 C747.8,1489.6 749.7,1486.4 752.1,1485.4 C754.5,1484.4 756.9,1483.5 759.3,1483.7 C761.7,1483.9 764.1,1485.7 766.4,1486.6 C768.8,1487.4 771.2,1488.8 773.6,1489 C776,1489.2 778.8,1488 780.7,1487.8 C782.7,1487.6 783.5,1487.6 785.5,1487.8 C787.5,1488 790.7,1489 792.7,1489 C794.7,1489 795.4,1489.2 797.4,1487.8 C799.4,1486.4 802.2,1483.4 804.6,1480.6 C807,1477.8 809.6,1473.9 811.7,1471.1 C813.9,1468.3 815.7,1465.3 817.7,1463.9 C819.7,1462.5 821.5,1462.5 823.7,1462.7 C825.8,1462.9 828.4,1464.5 830.8,1465.1 C833.2,1465.7 835.2,1466.2 838,1466.3 C840.8,1466.4 844.7,1465.8 847.5,1465.6 C850.3,1465.4 852.3,1465.5 854.7,1465.1 C857,1464.8 860,1463.8 861.8,1463.4 C863.6,1463 863.8,1462.4 865.4,1462.7 C867,1463 869.2,1464.3 871.4,1465.1 C873.5,1465.9 876.1,1466.3 878.5,1467.5 C880.9,1468.7 883.7,1470.7 885.7,1472.3 C887.6,1473.9 888.8,1475.7 890.4,1477 C892,1478.3 893.6,1479.9 895.2,1480.1 C896.8,1480.4 898.4,1480 900,1478.7 C901.6,1477.4 902.7,1474.4 904.7,1472.3 C906.7,1470.1 909.5,1467.5 911.9,1465.8 C914.3,1464.2 916.7,1462.8 919,1462.3 C921.4,1461.7 923.8,1461.9 926.2,1462.3 C928.6,1462.6 930.6,1463.6 933.4,1464.6 C936.1,1465.6 940.1,1467 942.9,1468.2 C945.7,1469.4 947.7,1470.1 950,1471.8 C952.4,1473.5 954.8,1476.2 957.2,1478.2 C959.6,1480.3 962.2,1482.4 964.3,1484.2 C966.5,1486 968.3,1488.1 970.3,1489 C972.3,1489.8 974.5,1489.8 976.3,1489.4 C978.1,1489 979.5,1487.4 981,1486.6 C982.6,1485.8 984,1484.7 985.8,1484.7 C987.6,1484.6 989.8,1485.3 991.8,1486.1 C993.8,1486.9 995.5,1488.4 997.7,1489.7 C999.9,1490.9 1002.5,1492.4 1004.9,1493.7 C1007.3,1495.1 1009.9,1496.7 1012,1497.8 C1014.2,1498.9 1016.1,1499.6 1017.7,1500.2 C1019.2,1500.7 1020.1,1501.2 1021.2,1500.9 C1022.4,1500.6 1023.4,1499.5 1024.8,1498.5 C1026.2,1497.5 1028,1496.3 1029.6,1494.9 C1031.2,1493.5 1032.8,1491.7 1034.4,1490.1 C1036,1488.6 1037.1,1487 1039.1,1485.4 C1041.1,1483.8 1043.9,1482 1046.3,1480.6 C1048.7,1479.2 1050.7,1478.3 1053.4,1477 C1056.2,1475.8 1060.6,1473.5 1063,1473 C1065.4,1472.5 1065.8,1473.4 1067.7,1473.9 C1069.7,1474.5 1072.5,1475.4 1074.9,1476.3 C1077.3,1477.2 1079.7,1477.9 1082.1,1479.4 C1084.4,1480.9 1087,1483.5 1089.2,1485.4 C1091.4,1487.2 1092.8,1489.2 1095.2,1490.6 C1097.5,1492 1100.9,1492.8 1103.5,1493.7 C1106.1,1494.6 1108.3,1495.9 1110.7,1496.1 C1113,1496.3 1115.4,1495.9 1117.8,1494.9 C1120.2,1493.9 1122.6,1491.8 1125,1490.1 C1127.4,1488.5 1129.3,1486.5 1132.1,1484.9 C1134.9,1483.3 1138.9,1481 1141.7,1480.6 C1144.4,1480.2 1146.4,1481.3 1148.8,1482.3 C1151.2,1483.3 1153.6,1485.1 1156,1486.6 C1158.4,1488.1 1160.7,1490 1163.1,1491.3 C1165.5,1492.7 1167.5,1493.8 1170.3,1494.9 C1173.1,1496 1177,1497.7 1179.8,1498 C1182.6,1498.3 1184.6,1497.7 1187,1496.8 C1189.4,1495.9 1191.7,1494 1194.1,1492.5 C1196.5,1491 1198.9,1489.2 1201.3,1487.8 C1203.7,1486.3 1206,1484.5 1208.4,1483.7 C1210.8,1482.9 1213.2,1482.7 1215.6,1483 C1218,1483.3 1220.4,1484.2 1222.7,1485.4 C1225.1,1486.6 1227.5,1488.7 1229.9,1490.1 C1232.3,1491.6 1234.3,1493.4 1237,1494.2 C1239.8,1495 1243.4,1495.2 1246.6,1494.9 C1249.8,1494.6 1252.9,1493.4 1256.1,1492.5 C1259.3,1491.7 1262.5,1490.2 1265.7,1489.7 C1268.8,1489.2 1272.4,1489.2 1275.2,1489.4 C1278,1489.7 1280,1490.7 1282.3,1491.3 C1284.7,1491.9 1286.7,1493.3 1289.5,1493 C1292.3,1492.7 1296.3,1490.9 1299,1489.7 C1301.8,1488.5 1303.8,1486.8 1306.2,1485.9 C1308.6,1484.9 1311,1484.3 1313.3,1484.2 C1315.7,1484.1 1318.1,1484.6 1320.5,1485.4 C1322.9,1486.2 1325.6,1488.3 1327.7,1489 C1329.7,1489.6 1331.9,1489.4 1332.9,1489.4 C1333.9,1489.5 1333.7,1489.4 1333.8,1489.4" fill="none" stroke="#000" stroke-width="1.6"/>
<line x1="738.2" y1="1244.8" x2="738.2" y2="1543" stroke="#000" stroke-opacity="0.55" stroke-width="0.8" stroke-dasharray="1.1 1.3"/>
<line x1="780.7" y1="1244.8" x2="780.7" y2="1543" stroke="#000" stroke-opacity="0.55" stroke-width="0.8" stroke-dasharray="1.1 1.3"/>
<line x1="823.1" y1="1244.8" x2="823.1" y2="1543" stroke="#000" stroke-opacity="0.55" stroke-width="0.8" stroke-dasharray="1.1 1.3"/>
<line x1="865.6" y1="1244.8" x2="865.6" y2="1543" stroke="#000" stroke-opacity="0.55" stroke-width="0.8" stroke-dasharray="1.1 1.3"/>
<line x1="908" y1="1244.8" x2="908" y2="1543" stroke="#000" stroke-opacity="0.55" stroke-width="0.8" stroke-dasharray="1.1 1.3"/>
<line x1="950.4" y1="1244.8" x2="950.4" y2="1543" stroke="#000" stroke-opacity="0.55" stroke-width="0.8" stroke-dasharray="1.1 1.3"/>
<line x1="992.9" y1="1244.8" x2="992.9" y2="1543" stroke="#000" stroke-opacity="0.55" stroke-width="0.8" stroke-dasharray="1.1 1.3"/>
<line x1="1035.3" y1="1244.8" x2="1035.3" y2="1543" stroke="#000" stroke-opacity="0.55" stroke-width="0.8" stroke-dasharray="1.1 1.3"/>
<line x1="1077.8" y1="1244.8" x2="1077.8" y2="1543" stroke="#000" stroke-opacity="0.55" stroke-width="0.8" stroke-dasharray="1.1 1.3"/>
<line x1="1120.2" y1="1244.8" x2="1120.2" y2="1543" stroke="#000" stroke-opacity="0.55" stroke-width="0.8" stroke-dasharray="1.1 1.3"/>
<line x1="1162.6" y1="1244.8" x2="1162.6" y2="1543" stroke="#000" stroke-opacity="0.55" stroke-width="0.8" stroke-dasharray="1.1 1.3"/>
<line x1="1205.1" y1="1244.8" x2="1205.1" y2="1543" stroke="#000" stroke-opacity="0.55" stroke-width="0.8" stroke-dasharray="1.1 1.3"/>
<line x1="1247.5" y1="1244.8" x2="1247.5" y2="1543" stroke="#000" stroke-opacity="0.55" stroke-width="0.8" stroke-dasharray="1.1 1.3"/>
<line x1="1290" y1="1244.8" x2="1290" y2="1543" stroke="#000" stroke-opacity="0.55" stroke-width="0.8" stroke-dasharray="1.1 1.3"/>
<line x1="695.8" y1="1501" x2="1332.4" y2="1501" stroke="#000" stroke-opacity="0.55" stroke-width="0.8" stroke-dasharray="1.1 1.3"/>
<line x1="695.8" y1="1458.7" x2="1332.4" y2="1458.7" stroke="#000" stroke-opacity="0.55" stroke-width="0.8" stroke-dasharray="1.1 1.3"/>
<line x1="695.8" y1="1416.3" x2="1332.4" y2="1416.3" stroke="#000" stroke-opacity="0.55" stroke-width="0.8" stroke-dasharray="1.1 1.3"/>
<line x1="695.8" y1="1374" x2="1332.4" y2="1374" stroke="#000" stroke-opacity="0.55" stroke-width="0.8" stroke-dasharray="1.1 1.3"/>
<line x1="695.8" y1="1331.6" x2="1332.4" y2="1331.6" stroke="#000" stroke-opacity="0.55" stroke-width="0.8" stroke-dasharray="1.1 1.3"/>
<line x1="695.8" y1="1289.2" x2="1332.4" y2="1289.2" stroke="#000" stroke-opacity="0.55" stroke-width="0.8" stroke-dasharray="1.1 1.3"/>
</g>
<line x1="58.9" y1="1244.8" x2="1332.4" y2="1244.8" stroke="#000" stroke-width="1.6"/>
<line x1="53.6" y1="1501" x2="58.9" y2="1501" stroke="#000" stroke-width="1.1"/>
<text x="48.6" y="1505.2" font-size="12.5" text-anchor="end" style="font-family:'Liberation Serif',serif">0.1</text>
<line x1="53.6" y1="1458.7" x2="58.9" y2="1458.7" stroke="#000" stroke-width="1.1"/>
<text x="48.6" y="1462.9" font-size="12.5" text-anchor="end" style="font-family:'Liberation Serif',serif">0.2</text>
<line x1="53.6" y1="1416.3" x2="58.9" y2="1416.3" stroke="#000" stroke-width="1.1"/>
<text x="48.6" y="1420.5" font-size="12.5" text-anchor="end" style="font-family:'Liberation Serif',serif">0.3</text>
<line x1="53.6" y1="1374" x2="58.9" y2="1374" stroke="#000" stroke-width="1.1"/>
<text x="48.6" y="1378.2" font-size="12.5" text-anchor="end" style="font-family:'Liberation Serif',serif">0.4</text>
<line x1="53.6" y1="1331.6" x2="58.9" y2="1331.6" stroke="#000" stroke-width="1.1"/>
<text x="48.6" y="1335.8" font-size="12.5" text-anchor="end" style="font-family:'Liberation Serif',serif">0.5</text>
<line x1="53.6" y1="1289.2" x2="58.9" y2="1289.2" stroke="#000" stroke-width="1.1"/>
<text x="48.6" y="1293.4" font-size="12.5" text-anchor="end" style="font-family:'Liberation Serif',serif">0.6</text>
<line x1="53.6" y1="1246.9" x2="58.9" y2="1246.9" stroke="#000" stroke-width="1.1"/>
<text x="48.6" y="1251.1" font-size="12.5" text-anchor="end" style="font-family:'Liberation Serif',serif">0.7</text>
<text x="0" y="0" font-size="12.5" text-anchor="middle" style="font-family:'Liberation Serif',serif" transform="translate(25,1398.9) rotate(-90)">y (m)</text>
<text x="1" y="1254.3" font-size="27" font-weight="bold" style="font-family:'Liberation Sans',sans-serif">F</text>
<path d="M86.4,1254.9 L88.9,1260.2 L93.3,1256.3 L93.6,1262.1 L99.1,1260.2 L97.2,1265.7 L103,1266 L99.1,1270.4 L104.4,1272.9 L99.1,1275.4 L103,1279.8 L97.2,1280.1 L99.1,1285.6 L93.6,1283.7 L93.3,1289.5 L88.9,1285.6 L86.4,1290.9 L83.9,1285.6 L79.5,1289.5 L79.2,1283.7 L73.7,1285.6 L75.6,1280.1 L69.8,1279.8 L73.7,1275.4 L68.4,1272.9 L73.7,1270.4 L69.8,1266 L75.6,1265.7 L73.7,1260.2 L79.2,1262.1 L79.5,1256.3 L83.9,1260.2Z" fill="#ffd700"/>
<path d="M722.8,1253.9 A18,18 0 1,0 739.4,1280.7 A15.8,15.8 0 1,1 722.8,1253.9Z" fill="#fff"/><path d="M726.4,1259.9 L727.2,1262.9 L730.2,1263.7 L727.2,1264.5 L726.4,1267.5 L725.6,1264.5 L722.6,1263.7 L725.6,1262.9Z" fill="#fff"/><path d="M723.4,1270.9 L723.8,1272.5 L725.4,1272.9 L723.8,1273.3 L723.4,1274.9 L723,1273.3 L721.4,1272.9 L723,1272.5Z" fill="#fff"/><path d="M731.8,1274.4 L732.3,1276.4 L734.3,1276.9 L732.3,1277.4 L731.8,1279.4 L731.3,1277.4 L729.3,1276.9 L731.3,1276.4Z" fill="#fff"/>
<g clip-path="url(#cpG0)">
<rect x="58.9" y="1543" width="636.6" height="299.2" fill="#000072"/>
<path d="M58,1743.1 C58,1737.3 56.8,1716.4 58,1708.5 C59.2,1700.5 62.8,1698.8 65.2,1695.4 C67.5,1692 69.5,1691 72.3,1688.2 C75.1,1685.4 78.3,1682.7 81.8,1678.7 C85.4,1674.7 89.8,1669 93.8,1664.4 C97.7,1659.8 99.7,1654.2 105.7,1651.3 C111.7,1648.3 121.6,1647.7 129.5,1646.5 C137.5,1645.3 145.4,1644.9 153.4,1644.1 C161.3,1643.3 169.3,1641.9 177.2,1641.7 C185.2,1641.5 193.1,1642.3 201.1,1642.9 C209,1643.5 217,1644.5 224.9,1645.3 C232.9,1646.1 240.8,1646.7 248.8,1647.7 C256.7,1648.7 264.7,1649.5 272.6,1651.3 C280.6,1653.1 288.5,1656.4 296.5,1658.4 C304.4,1660.4 312.3,1661.6 320.3,1663.2 C328.2,1664.8 334.5,1666.8 344.1,1668 C353.8,1669.2 372.7,1669.9 378,1670.3 C383.3,1670.7 372.4,1669.5 376,1670.3 C379.6,1671.1 391.9,1673.7 399.8,1675.1 C407.8,1676.5 415.7,1677.7 423.7,1678.7 C431.6,1679.7 439.6,1680.5 447.5,1681.1 C455.5,1681.7 463.4,1681.9 471.4,1682.3 C479.3,1682.7 487.3,1683.1 495.2,1683.5 C503.2,1683.9 511.1,1683.7 519.1,1684.6 C527,1685.6 535,1687.8 542.9,1689.4 C550.9,1691 558.8,1692.4 566.8,1694.2 C574.7,1696 582.7,1698 590.6,1700.1 C598.6,1702.3 606.5,1705.3 614.5,1707.3 C622.4,1709.3 630.3,1710.5 638.3,1712.1 C646.2,1713.7 652.5,1715.4 662.1,1716.8 C671.8,1718.2 690.4,1704.1 696,1720.4 C701.6,1736.7 749.3,1798.9 696,1814.6 C642.7,1830.3 482.3,1814.6 376,1814.6 C269.7,1814.6 111,1814.6 58,1814.6Z" fill="#0000b4"/>
<path d="M140.3,1659.6 C141.2,1659.7 144.2,1658.2 145.6,1660.2 C147,1662.2 147.3,1667.7 148.6,1671.5 C149.9,1675.4 151.6,1679.5 153.4,1683.5 C155.2,1687.4 157.8,1692.7 159.3,1695.4 C160.9,1698.1 163.1,1698.7 162.9,1699.6 C162.7,1700.4 159.9,1701.6 158.1,1700.7 C156.4,1699.9 154,1697.1 152.2,1694.2 C150.4,1691.3 148.9,1687.2 147.4,1683.5 C145.9,1679.7 143.9,1673.5 143.2,1671.5Z" fill="#0000ff"/>
<path d="M252.3,1686.3 C252.5,1685.9 251.3,1684.4 253.5,1683.9 C255.7,1683.5 261.5,1683.3 265.5,1683.5 C269.4,1683.6 273.4,1684.3 277.4,1684.6 C281.3,1685 285.7,1685.4 289.3,1685.8 C292.9,1686.2 296.5,1686.2 298.8,1687 C301.2,1687.8 302.8,1686 303.6,1690.6 C304.4,1695.2 303.2,1705.7 303.6,1714.5 C304,1723.2 304.8,1735.9 306,1743.1 C307.2,1750.2 316.3,1755 310.8,1757.4 C305.2,1759.8 279,1757.4 272.6,1757.4Z" fill="#0000ff"/>
<path d="M430.8,1714.5 C430.8,1714.1 428.1,1711.7 430.8,1712.1 C433.6,1712.5 443.2,1715.6 447.5,1716.8 C451.9,1718 455.1,1718 457.1,1719.2 C459.1,1720.4 459.9,1721.6 459.5,1724 C459.1,1726.4 455.5,1729.6 454.7,1733.5 C453.9,1737.5 457.5,1745.5 454.7,1747.8 C451.9,1750.2 440.8,1747.8 438,1747.8Z" fill="#0000ff"/>
<path d="M511.9,1752.6 C512.3,1752.6 511.5,1752.2 514.3,1752.6 C517.1,1753 525,1754 528.6,1755 C532.2,1756 533.8,1756.6 535.8,1758.6 C537.7,1760.6 539.3,1763.1 540.5,1766.9 C541.7,1770.7 546.5,1778.8 542.9,1781.2 C539.3,1783.6 523,1781.2 519.1,1781.2Z" fill="#0000ff"/>
<path d="M252.3,1687 C252.9,1686.8 253.3,1685.5 255.9,1685.4 C258.5,1685.2 263.9,1685.8 267.8,1686.3 C271.8,1686.8 277.2,1686.7 279.8,1688.2 C282.3,1689.7 282.1,1692.2 283.3,1695.4 C284.5,1698.6 285.7,1703.3 286.9,1707.3 C288.1,1711.3 289.3,1715.3 290.5,1719.2 C291.7,1723.2 293.1,1728 294.1,1731.1 C295.1,1734.3 295.7,1735.5 296.5,1738.3 C297.2,1741.1 300.8,1746.2 298.8,1747.8 C296.8,1749.4 286.9,1747.8 284.5,1747.8Z" fill="#0080ff"/>
<path d="M296.5,1745.5 C298.4,1746.2 304.4,1749 308.4,1750.2 C312.3,1751.4 316.3,1752.2 320.3,1752.6 C324.3,1753 328.2,1752 332.2,1752.6 C336.2,1753.2 342.2,1754.6 344.1,1756.2 C346.1,1757.8 352.1,1761.2 344.1,1762.1 C336.2,1763.1 304.4,1762.1 296.5,1762.1Z" fill="#0080ff"/>
<path d="M650.2,1768.1 C652.2,1768.5 657.8,1769.3 662.1,1770.5 C666.5,1771.7 670.8,1774.5 676.4,1775.3 C682.1,1776.1 692.7,1773.5 696,1775.3 C699.3,1777 703.6,1784.2 696,1786 C688.4,1787.8 657.8,1786 650.2,1786Z" fill="#0080ff"/>
<path d="M252.3,1687.7 C252.7,1687.4 253.3,1685.4 254.7,1685.8 C256.1,1686.3 258.5,1688.8 260.7,1690.6 C262.9,1692.4 265.5,1694.6 267.8,1696.6 C270.2,1698.6 272.8,1700.7 275,1702.5 C277.2,1704.3 279.4,1705.3 281,1707.3 C282.5,1709.3 284.3,1711.7 284.5,1714.5 C284.7,1717.2 282.5,1722.4 282.1,1724Z" fill="#00ffff"/>
<path d="M429.7,1715.6 C429.8,1715.6 429.5,1715.1 430.8,1715.6 C432.2,1716.2 436,1717.4 438,1719.2 C440,1721 441.6,1723.2 442.8,1726.4 C444,1729.6 444.4,1735.3 445.2,1738.3 C445.9,1741.3 447.1,1741.9 447.5,1744.3 C447.9,1746.6 449.9,1751.2 447.5,1752.6 C445.2,1754 435.6,1752.6 433.2,1752.6Z" fill="#00ffff"/>
<path d="M662.1,1772.9 C664.5,1773.7 670.8,1776.7 676.4,1777.6 C682.1,1778.6 692.7,1776.6 696,1778.4 C699.3,1780.1 701.6,1786.7 696,1788.4 C690.4,1790 667.8,1788.4 662.1,1788.4Z" fill="#00ffff"/>
<path d="M56.9,1723.5 C57.1,1723.5 56.6,1724 58,1723.5 C59.4,1723 62.8,1721.7 65.2,1720.4 C67.5,1719.1 69.9,1717.4 72.3,1715.6 C74.7,1713.9 77.1,1712.3 79.5,1709.7 C81.8,1707.1 84.2,1703.7 86.6,1700.1 C89,1696.6 91.4,1692.6 93.8,1688.2 C96.2,1683.9 98.9,1677.9 100.9,1673.9 C102.9,1669.9 104.3,1666.7 105.7,1664.4 C107.1,1662.1 107.7,1660.9 109.3,1660.1 C110.9,1659.3 113.4,1659.5 115.2,1659.6 C117,1659.7 118.4,1660.9 120,1660.8 C121.6,1660.7 123.2,1659.6 124.8,1659.1 C126.4,1658.7 127.9,1658.1 129.5,1657.9 C131.1,1657.8 132.7,1657.8 134.3,1658.4 C135.9,1659 137.5,1659.7 139.1,1661.5 C140.7,1663.3 142.3,1665.9 143.8,1669.2 C145.4,1672.4 147,1677.3 148.6,1681.1 C150.2,1684.8 151.8,1688.8 153.4,1691.8 C155,1694.8 156.6,1697.6 158.1,1699 C159.7,1700.3 161.3,1700.3 162.9,1700.1 C164.5,1700 166.1,1698.6 167.7,1697.8 C169.3,1696.9 170.9,1695.8 172.5,1694.9 C174,1694 175.2,1693 177.2,1692.5 C179.2,1692 182,1692.3 184.4,1691.8 C186.8,1691.3 189.1,1690.4 191.5,1689.4 C193.9,1688.4 196.3,1686.8 198.7,1685.8 C201.1,1684.9 203.5,1684.3 205.8,1683.9 C208.2,1683.6 211,1683.6 213,1683.9 C215,1684.3 216.2,1684.9 217.8,1685.8 C219.4,1686.8 220.7,1688.4 222.5,1689.4 C224.3,1690.4 226.5,1691.7 228.5,1691.8 C230.5,1691.9 232.7,1690.9 234.5,1690.1 C236.2,1689.3 237.6,1688.1 239.2,1687 C240.8,1686 242.6,1684.5 244,1683.9 C245.4,1683.3 246.2,1683.1 247.6,1683.5 C249,1683.9 250.5,1684.7 252.3,1686.3 C254.1,1687.9 256.1,1690.7 258.3,1693 C260.5,1695.3 263.1,1698.2 265.5,1700.1 C267.8,1702.1 270.2,1703.1 272.6,1704.9 C275,1706.7 277.8,1708.5 279.8,1710.9 C281.7,1713.3 282.9,1716.2 284.5,1719.2 C286.1,1722.2 287.7,1725.8 289.3,1728.8 C290.9,1731.7 292.5,1734.7 294.1,1737.1 C295.7,1739.5 296.8,1741.3 298.8,1743.1 C300.8,1744.9 303.6,1746.4 306,1747.8 C308.4,1749.3 311.2,1751.1 313.1,1751.9 C315.1,1752.7 315.9,1752.8 317.9,1752.6 C319.9,1752.4 322.7,1750.9 325.1,1750.7 C327.4,1750.5 329.8,1750.9 332.2,1751.4 C334.6,1751.9 337.2,1753 339.4,1753.8 C341.6,1754.6 343.7,1756 345.3,1756.2 C346.9,1756.4 347.5,1755.8 348.9,1755 C350.3,1754.2 352.1,1753.4 353.7,1751.4 C355.3,1749.4 356.9,1746.8 358.4,1743.1 C360,1739.3 361.6,1733.1 363.2,1728.8 C364.8,1724.4 366.4,1719.6 368,1716.8 C369.6,1714.1 371.4,1713.2 372.8,1712.1 C374.1,1711 374.3,1711.2 376,1710.2 C377.7,1709.2 380.8,1707.3 383.2,1706.1 C385.5,1704.9 387.9,1703.5 390.3,1703 C392.7,1702.5 394.7,1702.7 397.5,1703 C400.2,1703.3 403.8,1704.2 407,1704.9 C410.2,1705.6 413.8,1706.5 416.5,1707.3 C419.3,1708.1 421.7,1708.5 423.7,1709.7 C425.7,1710.9 426.9,1712.5 428.5,1714.5 C430,1716.4 431.6,1718.8 433.2,1721.6 C434.8,1724.4 436.4,1728 438,1731.1 C439.6,1734.3 441.2,1738.3 442.8,1740.7 C444.4,1743.1 445.9,1744.5 447.5,1745.5 C449.1,1746.4 450.3,1746.7 452.3,1746.6 C454.3,1746.6 457.1,1745.2 459.5,1745 C461.8,1744.8 464.2,1745.2 466.6,1745.5 C469,1745.7 471.4,1746.4 473.8,1746.6 C476.1,1746.8 478.5,1746.6 480.9,1746.6 C483.3,1746.6 485.7,1746.7 488.1,1746.6 C490.5,1746.6 492.8,1746.1 495.2,1746.2 C497.6,1746.3 500,1746.5 502.4,1747.4 C504.8,1748.2 507.1,1749.5 509.5,1751.4 C511.9,1753.3 514.3,1756.4 516.7,1758.6 C519.1,1760.8 521.5,1762.7 523.8,1764.5 C526.2,1766.3 528.6,1767.5 531,1769.3 C533.4,1771.1 535.8,1774.1 538.1,1775.3 C540.5,1776.5 542.9,1776.3 545.3,1776.5 C547.7,1776.6 550.1,1776.3 552.5,1776 C554.8,1775.7 557.2,1775.1 559.6,1774.5 C562,1774 564,1773.7 566.8,1772.9 C569.5,1772.1 573.1,1771 576.3,1769.8 C579.5,1768.6 582.7,1767 585.8,1765.7 C589,1764.5 592.2,1762.8 595.4,1762.1 C598.6,1761.5 601.7,1761.7 604.9,1761.7 C608.1,1761.7 611.3,1761.7 614.5,1762.1 C617.6,1762.6 620.8,1763.9 624,1764.5 C627.2,1765.1 630.3,1765.3 633.5,1765.7 C636.7,1766.1 639.9,1766.4 643.1,1766.9 C646.2,1767.4 649.4,1767.6 652.6,1768.6 C655.8,1769.6 659,1771.2 662.1,1772.9 C665.3,1774.6 668.5,1777.4 671.7,1778.8 C674.9,1780.3 678.4,1781.3 681.2,1781.7 C684,1782.1 685.9,1781.4 688.4,1781.2 C690.8,1781.1 694.6,1780.8 696,1780.7 C697.4,1780.7 696.8,1780.7 696.9,1780.7 L698.9,1845.2 L56.9,1845.2Z" fill="#fff"/>
<path d="M263.1,1700.1 C263.7,1701.3 265.7,1704.5 266.6,1707.3 C267.6,1710.1 268.2,1714.4 269,1716.8 C269.8,1719.3 270,1721.1 271.4,1722.1 C272.8,1723.1 275.4,1723 277.4,1722.8 C279.4,1722.6 282.1,1721.7 283.3,1721.1 C284.5,1720.5 285.1,1720.9 284.5,1719.2 C283.9,1717.5 281.7,1713.3 279.8,1710.9 C277.8,1708.5 275,1706.7 272.6,1704.9 C270.2,1703.1 266.6,1700.9 265.5,1700.1Z" fill="#fdc36c"/>
<path d="M358,1743.8 C358.6,1744 360.4,1745.4 362,1745 C363.7,1744.5 366.2,1742.1 368,1741.2 C369.8,1740.2 371.4,1740 372.8,1739.5 C374.1,1738.9 373.9,1738.1 376,1737.8 C378.1,1737.5 382,1737.7 385.5,1737.8 C389.1,1737.9 393.5,1738.3 397.5,1738.3 C401.4,1738.3 405.8,1738.6 409.4,1737.8 C413,1737 416.1,1735.4 418.9,1733.5 C421.7,1731.6 424.1,1729.2 426.1,1726.4 C428.1,1723.6 431.2,1719.6 430.8,1716.8 C430.4,1714.1 426.1,1711.3 423.7,1709.7 C421.3,1708.1 419.3,1708.1 416.5,1707.3 C413.8,1706.5 410.2,1705.6 407,1704.9 C403.8,1704.2 400.2,1703.3 397.5,1703 C394.7,1702.7 392.7,1702.5 390.3,1703 C387.9,1703.5 385.5,1704.9 383.2,1706.1 C380.8,1707.3 377.7,1709.2 376,1710.2 C374.3,1711.2 374.1,1711 372.8,1712.1 C371.4,1713.2 369.6,1714.1 368,1716.8 C366.4,1719.6 364.8,1724.4 363.2,1728.8 C361.6,1733.1 359.2,1740.7 358.4,1743.1Z" fill="#fdc36c"/>
<g id="slG" clip-path="url(#flG)">
<g fill="none" stroke="#fff" stroke-opacity="0.62" stroke-width="0.85">
<path d="M58.9,1550.6 70.9,1550.6 82.9,1550.7 94.9,1550.7 106.9,1550.7 118.9,1550.7 130.9,1550.7 142.9,1550.8 154.9,1550.8 166.9,1550.8 178.9,1550.8 190.9,1550.8 202.9,1550.9 214.9,1550.9 226.9,1550.9 238.9,1551.0 250.9,1551.0 262.9,1551.1 274.9,1551.1 286.9,1551.2 298.9,1551.2 310.9,1551.3 322.9,1551.4 334.9,1551.4 346.9,1551.5 358.9,1551.5 370.9,1551.6 382.9,1551.7 394.9,1551.7 406.9,1551.8 418.9,1551.9 430.9,1551.9 442.9,1552.0 454.9,1552.0 466.9,1552.1 478.9,1552.2 490.9,1552.2 502.9,1552.3 514.9,1552.4 526.9,1552.4 538.9,1552.5 550.9,1552.5 562.9,1552.6 574.9,1552.6 586.9,1552.6 598.9,1552.6 610.9,1552.7 622.9,1552.7 634.9,1552.7 646.9,1552.8 658.9,1552.8 670.9,1552.8 682.9,1552.8 695.5,1552.9"/>
<path d="M58.9,1559.6 70.9,1559.6 82.9,1559.7 94.9,1559.7 106.9,1559.8 118.9,1559.8 130.9,1559.9 142.9,1560.0 154.9,1560.1 166.9,1560.2 178.9,1560.3 190.9,1560.4 202.9,1560.5 214.9,1560.6 226.9,1560.8 238.9,1561.0 250.9,1561.1 262.9,1561.3 274.9,1561.5 286.9,1561.8 298.9,1562.0 310.9,1562.2 322.9,1562.4 334.9,1562.6 346.9,1562.9 358.9,1563.1 370.9,1563.3 382.9,1563.5 394.9,1563.8 406.9,1564.0 418.9,1564.2 430.9,1564.5 442.9,1564.7 454.9,1565.0 466.9,1565.3 478.9,1565.5 490.9,1565.8 502.9,1566.0 514.9,1566.3 526.9,1566.5 538.9,1566.7 550.9,1566.9 562.9,1567.0 574.9,1567.1 586.9,1567.3 598.9,1567.4 610.9,1567.5 622.9,1567.6 634.9,1567.7 646.9,1567.8 658.9,1567.9 670.9,1568.0 682.9,1568.1 695.5,1568.2"/>
<path d="M58.9,1568.6 70.9,1568.6 82.9,1568.6 94.9,1568.6 106.9,1568.7 118.9,1568.8 130.9,1569.0 142.9,1569.1 154.9,1569.3 166.9,1569.5 178.9,1569.7 190.9,1569.8 202.9,1570.0 214.9,1570.4 226.9,1570.7 238.9,1570.9 250.9,1571.2 262.9,1571.6 274.9,1571.9 286.9,1572.3 298.9,1572.7 310.9,1573.1 322.9,1573.5 334.9,1573.9 346.9,1574.3 358.9,1574.6 370.9,1575.0 382.9,1575.3 394.9,1575.7 406.9,1576.1 418.9,1576.5 430.9,1577.0 442.9,1577.4 454.9,1577.9 466.9,1578.4 478.9,1578.9 490.9,1579.3 502.9,1579.8 514.9,1580.2 526.9,1580.6 538.9,1581.0 550.9,1581.4 562.9,1581.6 574.9,1581.8 586.9,1582.0 598.9,1582.2 610.9,1582.4 622.9,1582.6 634.9,1582.7 646.9,1582.9 658.9,1583.1 670.9,1583.3 682.9,1583.5 695.5,1583.7"/>
<path d="M58.9,1577.6 70.9,1577.5 82.9,1577.5 94.9,1577.4 106.9,1577.6 118.9,1577.7 130.9,1577.8 142.9,1578.0 154.9,1578.3 166.9,1578.6 178.9,1579.0 190.9,1579.3 202.9,1579.6 214.9,1580.1 226.9,1580.5 238.9,1580.9 250.9,1581.3 262.9,1581.8 274.9,1582.3 286.9,1582.9 298.9,1583.5 310.9,1584.1 322.9,1584.6 334.9,1585.2 346.9,1585.7 358.9,1586.2 370.9,1586.6 382.9,1587.1 394.9,1587.6 406.9,1588.1 418.9,1588.7 430.9,1589.3 442.9,1590.0 454.9,1590.7 466.9,1591.5 478.9,1592.2 490.9,1592.9 502.9,1593.6 514.9,1594.3 526.9,1594.9 538.9,1595.4 550.9,1596.0 562.9,1596.3 574.9,1596.6 586.9,1596.9 598.9,1597.2 610.9,1597.4 622.9,1597.7 634.9,1597.9 646.9,1598.2 658.9,1598.4 670.9,1598.7 682.9,1599.0 695.5,1599.3"/>
<path d="M58.9,1586.6 70.9,1586.3 82.9,1586.4 94.9,1586.0 106.9,1586.2 118.9,1586.3 130.9,1586.5 142.9,1586.8 154.9,1587.2 166.9,1587.7 178.9,1588.2 190.9,1588.6 202.9,1589.1 214.9,1589.8 226.9,1590.4 238.9,1590.8 250.9,1591.3 262.9,1591.9 274.9,1592.6 286.9,1593.5 298.9,1594.3 310.9,1595.1 322.9,1595.8 334.9,1596.6 346.9,1597.2 358.9,1597.8 370.9,1598.2 382.9,1598.7 394.9,1599.3 406.9,1600.0 418.9,1600.7 430.9,1601.5 442.9,1602.5 454.9,1603.5 466.9,1604.5 478.9,1605.6 490.9,1606.6 502.9,1607.5 514.9,1608.5 526.9,1609.3 538.9,1610.0 550.9,1610.7 562.9,1611.1 574.9,1611.6 586.9,1612.0 598.9,1612.3 610.9,1612.6 622.9,1612.9 634.9,1613.2 646.9,1613.5 658.9,1613.8 670.9,1614.3 682.9,1614.6 695.5,1615.0"/>
<path d="M58.9,1595.7 70.9,1595.1 82.9,1595.1 94.9,1594.4 106.9,1594.6 118.9,1594.7 130.9,1594.9 142.9,1595.3 154.9,1595.9 166.9,1596.6 178.9,1597.2 190.9,1597.9 202.9,1598.6 214.9,1599.5 226.9,1600.2 238.9,1600.8 250.9,1601.3 262.9,1602.1 274.9,1603.0 286.9,1604.2 298.9,1605.2 310.9,1606.2 322.9,1607.1 334.9,1608.0 346.9,1608.8 358.9,1609.4 370.9,1609.7 382.9,1610.3 394.9,1610.9 406.9,1611.7 418.9,1612.5 430.9,1613.4 442.9,1614.8 454.9,1616.1 466.9,1617.5 478.9,1618.9 490.9,1620.2 502.9,1621.5 514.9,1622.8 526.9,1623.8 538.9,1624.7 550.9,1625.5 562.9,1626.1 574.9,1626.7 586.9,1627.2 598.9,1627.6 610.9,1628.0 622.9,1628.3 634.9,1628.7 646.9,1629.1 658.9,1629.4 670.9,1630.0 682.9,1630.4 695.5,1631.0"/>
<path d="M58.9,1604.9 70.9,1603.8 82.9,1603.7 94.9,1602.6 106.9,1602.8 118.9,1602.9 130.9,1603.1 142.9,1603.5 154.9,1604.4 166.9,1605.3 178.9,1606.2 190.9,1607.1 202.9,1608.0 214.9,1609.2 226.9,1610.1 238.9,1610.7 250.9,1611.2 262.9,1612.1 274.9,1613.3 286.9,1614.8 298.9,1616.2 310.9,1617.3 322.9,1618.4 334.9,1619.5 346.9,1620.4 358.9,1621.0 370.9,1621.2 382.9,1621.7 394.9,1622.4 406.9,1623.2 418.9,1624.1 430.9,1625.2 442.9,1626.9 454.9,1628.7 466.9,1630.5 478.9,1632.2 490.9,1634.0 502.9,1635.6 514.9,1637.3 526.9,1638.5 538.9,1639.5 550.9,1640.6 562.9,1641.3 574.9,1642.0 586.9,1642.7 598.9,1643.2 610.9,1643.5 622.9,1643.9 634.9,1644.3 646.9,1644.8 658.9,1645.2 670.9,1645.9 682.9,1646.4 695.5,1647.2"/>
<path d="M58.9,1614.1 70.9,1612.5 82.9,1612.3 94.9,1610.6 106.9,1610.8 118.9,1610.8 130.9,1611.0 142.9,1611.5 154.9,1612.7 166.9,1613.9 178.9,1615.0 190.9,1616.2 202.9,1617.4 214.9,1618.8 226.9,1620.0 238.9,1620.6 250.9,1621.1 262.9,1622.2 274.9,1623.5 286.9,1625.5 298.9,1627.2 310.9,1628.6 322.9,1629.9 334.9,1631.2 346.9,1632.1 358.9,1632.7 370.9,1632.7 382.9,1633.1 394.9,1633.7 406.9,1634.5 418.9,1635.5 430.9,1636.8 442.9,1638.9 454.9,1641.1 466.9,1643.3 478.9,1645.6 490.9,1647.8 502.9,1649.9 514.9,1651.9 526.9,1653.3 538.9,1654.6 550.9,1655.8 562.9,1656.7 574.9,1657.6 586.9,1658.4 598.9,1658.9 610.9,1659.3 622.9,1659.7 634.9,1660.2 646.9,1660.7 658.9,1661.1 670.9,1662.0 682.9,1662.6 695.5,1663.6"/>
<path d="M58.9,1623.3 70.9,1621.1 82.9,1620.7 94.9,1618.3 106.9,1618.4 118.9,1618.4 130.9,1618.5 142.9,1619.2 154.9,1620.7 166.9,1622.2 178.9,1623.7 190.9,1625.2 202.9,1626.8 214.9,1628.5 226.9,1629.9 238.9,1630.4 250.9,1631.0 262.9,1632.2 274.9,1633.8 286.9,1636.3 298.9,1638.3 310.9,1639.9 322.9,1641.4 334.9,1642.9 346.9,1643.8 358.9,1644.3 370.9,1644.1 382.9,1644.3 394.9,1644.8 406.9,1645.7 418.9,1646.7 430.9,1648.1 442.9,1650.6 454.9,1653.4 466.9,1656.1 478.9,1658.9 490.9,1661.6 502.9,1664.2 514.9,1666.7 526.9,1668.4 538.9,1669.8 550.9,1671.2 562.9,1672.3 574.9,1673.3 586.9,1674.4 598.9,1674.9 610.9,1675.3 622.9,1675.7 634.9,1676.2 646.9,1676.8 658.9,1677.2 670.9,1678.4 682.9,1679.0 695.5,1680.3"/>
<path d="M58.9,1632.6 70.9,1629.6 82.9,1629.0 94.9,1625.7 106.9,1625.8 118.9,1625.7 130.9,1625.8 142.9,1626.6 154.9,1628.4 166.9,1630.3 178.9,1632.2 190.9,1634.1 202.9,1636.1 214.9,1638.2 226.9,1639.7 238.9,1640.2 250.9,1640.8 262.9,1642.1 274.9,1644.0 286.9,1647.0 298.9,1649.4 310.9,1651.3 322.9,1653.0 334.9,1654.7 346.9,1655.7 358.9,1656.0 370.9,1655.4 382.9,1655.3 394.9,1655.8 406.9,1656.6 418.9,1657.6 430.9,1659.2 442.9,1662.2 454.9,1665.6 466.9,1668.9 478.9,1672.3 490.9,1675.5 502.9,1678.6 514.9,1681.7 526.9,1683.6 538.9,1685.2 550.9,1686.8 562.9,1688.1 574.9,1689.4 586.9,1690.6 598.9,1691.2 610.9,1691.5 622.9,1691.9 634.9,1692.5 646.9,1693.1 658.9,1693.5 670.9,1695.0 682.9,1695.6 695.5,1697.2"/>
<path d="M58.9,1642.0 70.9,1638.0 82.9,1637.2 94.9,1632.9 106.9,1632.9 118.9,1632.7 130.9,1632.6 142.9,1633.6 154.9,1635.9 166.9,1638.2 178.9,1640.6 190.9,1642.9 202.9,1645.3 214.9,1647.8 226.9,1649.6 238.9,1650.1 250.9,1650.5 262.9,1652.0 274.9,1654.2 286.9,1657.8 298.9,1660.7 310.9,1662.8 322.9,1664.7 334.9,1666.6 346.9,1667.6 358.9,1667.8 370.9,1666.6 382.9,1666.3 394.9,1666.5 406.9,1667.2 418.9,1668.2 430.9,1670.0 442.9,1673.6 454.9,1677.6 466.9,1681.5 478.9,1685.6 490.9,1689.5 502.9,1693.2 514.9,1696.8 526.9,1699.0 538.9,1700.8 550.9,1702.6 562.9,1704.1 574.9,1705.7 586.9,1707.1 598.9,1707.7 610.9,1708.0 622.9,1708.4 634.9,1708.9 646.9,1709.6 658.9,1710.0 670.9,1711.8 682.9,1712.5 695.5,1714.4"/>
<path d="M58.9,1651.4 70.9,1646.4 82.9,1645.2 94.9,1639.7 106.9,1639.7 118.9,1639.3 130.9,1639.2 142.9,1640.3 154.9,1643.1 166.9,1645.9 178.9,1648.8 190.9,1651.6 202.9,1654.5 214.9,1657.4 226.9,1659.5 238.9,1659.8 250.9,1660.2 262.9,1661.8 274.9,1664.4 286.9,1668.7 298.9,1672.0 310.9,1674.4 322.9,1676.5 334.9,1678.7 346.9,1679.6 358.9,1679.5 370.9,1677.8 382.9,1677.0 394.9,1677.1 406.9,1677.7 418.9,1678.6 430.9,1680.5 442.9,1684.7 454.9,1689.4 466.9,1694.1 478.9,1698.9 490.9,1703.5 502.9,1707.9 514.9,1712.2 526.9,1714.7 538.9,1716.7 550.9,1718.7 562.9,1720.5 574.9,1722.2 586.9,1723.8 598.9,1724.5 610.9,1724.7 622.9,1725.1 634.9,1725.7 646.9,1726.4 658.9,1726.8 670.9,1728.9 682.9,1729.7 695.5,1732.0"/>
<path d="M58.9,1661.0 70.9,1654.6 82.9,1653.1 94.9,1646.2 106.9,1646.1 118.9,1645.6 130.9,1645.3 142.9,1646.6 154.9,1650.0 166.9,1653.4 178.9,1656.8 190.9,1660.2 202.9,1663.6 214.9,1667.0 226.9,1669.4 238.9,1669.6 250.9,1669.8 262.9,1671.6 274.9,1674.5 286.9,1679.5 298.9,1683.4 310.9,1686.1 322.9,1688.5 334.9,1690.8 346.9,1691.7 358.9,1691.3 370.9,1688.9 382.9,1687.7 394.9,1687.4 406.9,1687.8 418.9,1688.6 430.9,1690.7 442.9,1695.6 454.9,1701.1 466.9,1706.6 478.9,1712.3 490.9,1717.6 502.9,1722.8 514.9,1727.8 526.9,1730.6 538.9,1732.8 550.9,1735.0 562.9,1737.0 574.9,1739.1 586.9,1740.9 598.9,1741.7 610.9,1741.7 622.9,1742.1 634.9,1742.7 646.9,1743.4 658.9,1743.8 670.9,1746.2 682.9,1747.1 695.5,1749.8"/>
</g>
<path d="M188.8,1550.8 L183.6,1552.9 L183.6,1548.7 Z" fill="#fff"/>
<path d="M549.6,1552.5 L544.4,1554.6 L544.4,1550.4 Z" fill="#fff"/>
<path d="M361.6,1563.1 L356.3,1565.1 L356.4,1561.0 Z" fill="#fff"/>
<path d="M623.4,1567.6 L618.2,1569.6 L618.2,1565.5 Z" fill="#fff"/>
<path d="M534.3,1580.9 L529.0,1582.8 L529.1,1578.6 Z" fill="#fff"/>
<path d="M442.6,1577.4 L437.3,1579.3 L437.5,1575.1 Z" fill="#fff"/>
<path d="M240.2,1580.9 L234.9,1582.9 L235.0,1578.7 Z" fill="#fff"/>
<path d="M516.5,1594.4 L511.1,1596.2 L511.4,1592.0 Z" fill="#fff"/>
<path d="M412.9,1600.3 L407.6,1602.1 L407.8,1598.0 Z" fill="#fff"/>
<path d="M590.3,1612.1 L585.0,1614.0 L585.2,1609.9 Z" fill="#fff"/>
<path d="M585.6,1627.2 L580.3,1629.0 L580.5,1624.9 Z" fill="#fff"/>
<path d="M664.1,1629.7 L658.8,1631.5 L659.1,1627.3 Z" fill="#fff"/>
<path d="M291.5,1615.4 L286.1,1616.8 L286.6,1612.7 Z" fill="#fff"/>
<path d="M483.3,1632.9 L477.9,1634.2 L478.5,1630.1 Z" fill="#fff"/>
<path d="M464.2,1642.8 L458.7,1643.9 L459.5,1639.8 Z" fill="#fff"/>
<path d="M557.2,1656.2 L551.9,1657.9 L552.2,1653.8 Z" fill="#fff"/>
<path d="M637.0,1676.3 L631.7,1678.1 L631.9,1674.0 Z" fill="#fff"/>
<path d="M631.0,1676.0 L625.8,1677.9 L625.9,1673.7 Z" fill="#fff"/>
<path d="M342.9,1655.3 L337.5,1657.0 L337.9,1652.8 Z" fill="#fff"/>
<path d="M450.2,1664.2 L444.6,1664.8 L445.7,1660.8 Z" fill="#fff"/>
<path d="M515.5,1697.0 L509.9,1697.5 L511.1,1693.5 Z" fill="#fff"/>
<path d="M524.1,1698.5 L518.6,1699.6 L519.3,1695.5 Z" fill="#fff"/>
<path d="M221.5,1658.6 L216.0,1659.7 L216.7,1655.6 Z" fill="#fff"/>
<path d="M597.9,1724.5 L592.6,1726.3 L592.9,1722.1 Z" fill="#fff"/>
<path d="M394.2,1687.4 L389.1,1689.6 L389.0,1685.5 Z" fill="#fff"/>
<path d="M671.7,1746.4 L666.2,1747.4 L667.1,1743.3 Z" fill="#fff"/>
</g>
<path d="M56.9,1723.5 C57.1,1723.5 56.6,1724 58,1723.5 C59.4,1723 62.8,1721.7 65.2,1720.4 C67.5,1719.1 69.9,1717.4 72.3,1715.6 C74.7,1713.9 77.1,1712.3 79.5,1709.7 C81.8,1707.1 84.2,1703.7 86.6,1700.1 C89,1696.6 91.4,1692.6 93.8,1688.2 C96.2,1683.9 98.9,1677.9 100.9,1673.9 C102.9,1669.9 104.3,1666.7 105.7,1664.4 C107.1,1662.1 107.7,1660.9 109.3,1660.1 C110.9,1659.3 113.4,1659.5 115.2,1659.6 C117,1659.7 118.4,1660.9 120,1660.8 C121.6,1660.7 123.2,1659.6 124.8,1659.1 C126.4,1658.7 127.9,1658.1 129.5,1657.9 C131.1,1657.8 132.7,1657.8 134.3,1658.4 C135.9,1659 137.5,1659.7 139.1,1661.5 C140.7,1663.3 142.3,1665.9 143.8,1669.2 C145.4,1672.4 147,1677.3 148.6,1681.1 C150.2,1684.8 151.8,1688.8 153.4,1691.8 C155,1694.8 156.6,1697.6 158.1,1699 C159.7,1700.3 161.3,1700.3 162.9,1700.1 C164.5,1700 166.1,1698.6 167.7,1697.8 C169.3,1696.9 170.9,1695.8 172.5,1694.9 C174,1694 175.2,1693 177.2,1692.5 C179.2,1692 182,1692.3 184.4,1691.8 C186.8,1691.3 189.1,1690.4 191.5,1689.4 C193.9,1688.4 196.3,1686.8 198.7,1685.8 C201.1,1684.9 203.5,1684.3 205.8,1683.9 C208.2,1683.6 211,1683.6 213,1683.9 C215,1684.3 216.2,1684.9 217.8,1685.8 C219.4,1686.8 220.7,1688.4 222.5,1689.4 C224.3,1690.4 226.5,1691.7 228.5,1691.8 C230.5,1691.9 232.7,1690.9 234.5,1690.1 C236.2,1689.3 237.6,1688.1 239.2,1687 C240.8,1686 242.6,1684.5 244,1683.9 C245.4,1683.3 246.2,1683.1 247.6,1683.5 C249,1683.9 250.5,1684.7 252.3,1686.3 C254.1,1687.9 256.1,1690.7 258.3,1693 C260.5,1695.3 263.1,1698.2 265.5,1700.1 C267.8,1702.1 270.2,1703.1 272.6,1704.9 C275,1706.7 277.8,1708.5 279.8,1710.9 C281.7,1713.3 282.9,1716.2 284.5,1719.2 C286.1,1722.2 287.7,1725.8 289.3,1728.8 C290.9,1731.7 292.5,1734.7 294.1,1737.1 C295.7,1739.5 296.8,1741.3 298.8,1743.1 C300.8,1744.9 303.6,1746.4 306,1747.8 C308.4,1749.3 311.2,1751.1 313.1,1751.9 C315.1,1752.7 315.9,1752.8 317.9,1752.6 C319.9,1752.4 322.7,1750.9 325.1,1750.7 C327.4,1750.5 329.8,1750.9 332.2,1751.4 C334.6,1751.9 337.2,1753 339.4,1753.8 C341.6,1754.6 343.7,1756 345.3,1756.2 C346.9,1756.4 347.5,1755.8 348.9,1755 C350.3,1754.2 352.1,1753.4 353.7,1751.4 C355.3,1749.4 356.9,1746.8 358.4,1743.1 C360,1739.3 361.6,1733.1 363.2,1728.8 C364.8,1724.4 366.4,1719.6 368,1716.8 C369.6,1714.1 371.4,1713.2 372.8,1712.1 C374.1,1711 374.3,1711.2 376,1710.2 C377.7,1709.2 380.8,1707.3 383.2,1706.1 C385.5,1704.9 387.9,1703.5 390.3,1703 C392.7,1702.5 394.7,1702.7 397.5,1703 C400.2,1703.3 403.8,1704.2 407,1704.9 C410.2,1705.6 413.8,1706.5 416.5,1707.3 C419.3,1708.1 421.7,1708.5 423.7,1709.7 C425.7,1710.9 426.9,1712.5 428.5,1714.5 C430,1716.4 431.6,1718.8 433.2,1721.6 C434.8,1724.4 436.4,1728 438,1731.1 C439.6,1734.3 441.2,1738.3 442.8,1740.7 C444.4,1743.1 445.9,1744.5 447.5,1745.5 C449.1,1746.4 450.3,1746.7 452.3,1746.6 C454.3,1746.6 457.1,1745.2 459.5,1745 C461.8,1744.8 464.2,1745.2 466.6,1745.5 C469,1745.7 471.4,1746.4 473.8,1746.6 C476.1,1746.8 478.5,1746.6 480.9,1746.6 C483.3,1746.6 485.7,1746.7 488.1,1746.6 C490.5,1746.6 492.8,1746.1 495.2,1746.2 C497.6,1746.3 500,1746.5 502.4,1747.4 C504.8,1748.2 507.1,1749.5 509.5,1751.4 C511.9,1753.3 514.3,1756.4 516.7,1758.6 C519.1,1760.8 521.5,1762.7 523.8,1764.5 C526.2,1766.3 528.6,1767.5 531,1769.3 C533.4,1771.1 535.8,1774.1 538.1,1775.3 C540.5,1776.5 542.9,1776.3 545.3,1776.5 C547.7,1776.6 550.1,1776.3 552.5,1776 C554.8,1775.7 557.2,1775.1 559.6,1774.5 C562,1774 564,1773.7 566.8,1772.9 C569.5,1772.1 573.1,1771 576.3,1769.8 C579.5,1768.6 582.7,1767 585.8,1765.7 C589,1764.5 592.2,1762.8 595.4,1762.1 C598.6,1761.5 601.7,1761.7 604.9,1761.7 C608.1,1761.7 611.3,1761.7 614.5,1762.1 C617.6,1762.6 620.8,1763.9 624,1764.5 C627.2,1765.1 630.3,1765.3 633.5,1765.7 C636.7,1766.1 639.9,1766.4 643.1,1766.9 C646.2,1767.4 649.4,1767.6 652.6,1768.6 C655.8,1769.6 659,1771.2 662.1,1772.9 C665.3,1774.6 668.5,1777.4 671.7,1778.8 C674.9,1780.3 678.4,1781.3 681.2,1781.7 C684,1782.1 685.9,1781.4 688.4,1781.2 C690.8,1781.1 694.6,1780.8 696,1780.7 C697.4,1780.7 696.8,1780.7 696.9,1780.7" fill="none" stroke="#000" stroke-width="1.6"/>
<line x1="101.3" y1="1543" x2="101.3" y2="1840.2" stroke="#000" stroke-opacity="0.55" stroke-width="0.8" stroke-dasharray="1.1 1.3"/>
<line x1="143.8" y1="1543" x2="143.8" y2="1840.2" stroke="#000" stroke-opacity="0.55" stroke-width="0.8" stroke-dasharray="1.1 1.3"/>
<line x1="186.2" y1="1543" x2="186.2" y2="1840.2" stroke="#000" stroke-opacity="0.55" stroke-width="0.8" stroke-dasharray="1.1 1.3"/>
<line x1="228.7" y1="1543" x2="228.7" y2="1840.2" stroke="#000" stroke-opacity="0.55" stroke-width="0.8" stroke-dasharray="1.1 1.3"/>
<line x1="271.1" y1="1543" x2="271.1" y2="1840.2" stroke="#000" stroke-opacity="0.55" stroke-width="0.8" stroke-dasharray="1.1 1.3"/>
<line x1="313.5" y1="1543" x2="313.5" y2="1840.2" stroke="#000" stroke-opacity="0.55" stroke-width="0.8" stroke-dasharray="1.1 1.3"/>
<line x1="356" y1="1543" x2="356" y2="1840.2" stroke="#000" stroke-opacity="0.55" stroke-width="0.8" stroke-dasharray="1.1 1.3"/>
<line x1="398.4" y1="1543" x2="398.4" y2="1840.2" stroke="#000" stroke-opacity="0.55" stroke-width="0.8" stroke-dasharray="1.1 1.3"/>
<line x1="440.9" y1="1543" x2="440.9" y2="1840.2" stroke="#000" stroke-opacity="0.55" stroke-width="0.8" stroke-dasharray="1.1 1.3"/>
<line x1="483.3" y1="1543" x2="483.3" y2="1840.2" stroke="#000" stroke-opacity="0.55" stroke-width="0.8" stroke-dasharray="1.1 1.3"/>
<line x1="525.7" y1="1543" x2="525.7" y2="1840.2" stroke="#000" stroke-opacity="0.55" stroke-width="0.8" stroke-dasharray="1.1 1.3"/>
<line x1="568.2" y1="1543" x2="568.2" y2="1840.2" stroke="#000" stroke-opacity="0.55" stroke-width="0.8" stroke-dasharray="1.1 1.3"/>
<line x1="610.6" y1="1543" x2="610.6" y2="1840.2" stroke="#000" stroke-opacity="0.55" stroke-width="0.8" stroke-dasharray="1.1 1.3"/>
<line x1="653.1" y1="1543" x2="653.1" y2="1840.2" stroke="#000" stroke-opacity="0.55" stroke-width="0.8" stroke-dasharray="1.1 1.3"/>
<line x1="58.9" y1="1798.5" x2="695.5" y2="1798.5" stroke="#000" stroke-opacity="0.55" stroke-width="0.8" stroke-dasharray="1.1 1.3"/>
<line x1="58.9" y1="1756.2" x2="695.5" y2="1756.2" stroke="#000" stroke-opacity="0.55" stroke-width="0.8" stroke-dasharray="1.1 1.3"/>
<line x1="58.9" y1="1713.8" x2="695.5" y2="1713.8" stroke="#000" stroke-opacity="0.55" stroke-width="0.8" stroke-dasharray="1.1 1.3"/>
<line x1="58.9" y1="1671.5" x2="695.5" y2="1671.5" stroke="#000" stroke-opacity="0.55" stroke-width="0.8" stroke-dasharray="1.1 1.3"/>
<line x1="58.9" y1="1629.1" x2="695.5" y2="1629.1" stroke="#000" stroke-opacity="0.55" stroke-width="0.8" stroke-dasharray="1.1 1.3"/>
<line x1="58.9" y1="1586.7" x2="695.5" y2="1586.7" stroke="#000" stroke-opacity="0.55" stroke-width="0.8" stroke-dasharray="1.1 1.3"/>
</g>
<g clip-path="url(#cpG1)">
<rect x="695.8" y="1543" width="636.6" height="299.2" fill="#000072"/>
<path d="M773.4,1657.4 C775.6,1657.5 782.4,1657.6 786.8,1657.9 C791.3,1658.2 797.7,1657.7 800.2,1659.2 C802.8,1660.7 801.9,1664.1 802,1666.8 C802.2,1669.6 800.8,1672.8 801.1,1675.8 C801.4,1678.7 802.9,1681.7 803.8,1684.7 C804.7,1687.7 806.1,1690.7 806.5,1693.7 C806.9,1696.6 808.6,1701.1 806.5,1702.6 C804.4,1704.1 796.1,1702.6 794,1702.6Z" fill="#300070"/>
<path d="M775.6,1659.7 C777.1,1660 782.6,1659.1 784.1,1661.5 C785.7,1663.8 783.8,1670.7 785,1674 C786.2,1677.3 789.5,1678.5 791.3,1681.1 C793.1,1683.8 794.3,1687.1 795.8,1690.1 C797.3,1693.1 799.5,1696.9 800.2,1699 C801,1701.1 802,1702 800.2,1702.6 C798.5,1703.2 792.5,1706.3 789.5,1702.6 C786.5,1698.9 783.5,1684 782.4,1680.2Z" fill="#800070"/>
<path d="M777,1661.5 C777.7,1662.1 780.1,1662.7 781.5,1665 C782.8,1667.4 783.7,1672 785,1675.8 C786.4,1679.5 788,1683.8 789.5,1687.4 C791,1691 793.2,1694.7 794,1697.2 C794.7,1699.8 795.2,1701.7 794,1702.6 C792.8,1703.5 788,1702.6 786.8,1702.6Z" fill="#980050"/>
<path d="M884.8,1695.8 C885,1693.6 882.8,1685 886,1682.7 C889.1,1680.3 896.9,1681.5 903.8,1681.5 C910.8,1681.5 919.7,1681.9 927.7,1682.7 C935.6,1683.4 943.6,1684.9 951.5,1686.2 C959.5,1687.5 967.4,1689 975.4,1690.4 C983.3,1691.8 991.3,1693.3 999.2,1694.6 C1007.2,1695.9 1016.3,1697.4 1023.1,1698.2 C1029.9,1698.9 1033.7,1698.6 1040,1699.3 C1046.3,1700.1 1049.3,1700 1060.7,1702.5 C1072.1,1705.1 1094.5,1710.1 1108.4,1714.5 C1122.3,1718.8 1132.2,1723.6 1144.1,1728.8 C1156.1,1733.9 1170,1741.1 1179.9,1745.5 C1189.9,1749.8 1195.8,1753 1203.8,1755 C1211.7,1757 1219.7,1757 1227.6,1757.4 C1235.6,1757.8 1243.5,1757.2 1251.5,1757.4 C1259.4,1757.6 1267.3,1758.2 1275.3,1758.6 C1283.2,1759 1289.5,1759.2 1299.1,1759.8 C1308.8,1760.4 1327.4,1753 1333,1762.1 C1338.6,1771.3 1386.3,1805.9 1333,1814.6 C1279.7,1823.3 1088.5,1822.5 1013,1814.6 C937.5,1806.7 902.2,1775.2 880,1767.3Z" fill="#300070"/>
<path d="M886,1695.8 C886.2,1693.9 884.2,1686.5 887.2,1684.4 C890.1,1682.4 897.1,1683 903.8,1683.2 C910.6,1683.5 921.7,1685.1 927.7,1686.2 C933.7,1687.3 935.6,1688.6 939.6,1689.8 C943.6,1691 947.6,1692.2 951.5,1693.4 C955.5,1694.6 960.1,1696 963.5,1697 C966.8,1698 971.4,1698 971.8,1699.3 C972.2,1700.7 967.2,1703.5 965.8,1705.3 C964.5,1707.1 963.7,1707.7 963.5,1710.1 C963.3,1712.5 965,1716.8 964.6,1719.6 C964.3,1722.4 962.5,1724.4 961.1,1726.8 C959.7,1729.2 957.1,1731.3 956.3,1733.9 C955.5,1736.5 955.1,1741.1 956.3,1742.3 C957.5,1743.5 960.3,1740.9 963.5,1741.1 C966.6,1741.3 971.4,1742.7 975.4,1743.5 C979.4,1744.3 984.3,1745 987.3,1745.8 C990.3,1746.6 992.3,1744.6 993.3,1748.2 C994.3,1751.8 1012.1,1764.1 993.3,1767.3 C974.4,1770.5 898.9,1767.3 880,1767.3Z" fill="#800070"/>
<path d="M887.2,1695.8 C887.4,1694 885.6,1687 888.3,1685 C891.1,1683.1 898.3,1683.2 903.8,1683.8 C909.4,1684.4 917.4,1687.2 921.7,1688.6 C926.1,1690 927.9,1691 930.1,1692.2 C932.3,1693.4 933.7,1692.8 934.8,1695.8 C936,1698.7 936.4,1705.1 937.2,1710.1 C938,1715 938.8,1720 939.6,1725.6 C940.4,1731.1 940,1739.1 942,1743.5 C944,1747.8 949.9,1747.8 951.5,1751.8 C953.1,1755.8 963.5,1764.7 951.5,1767.3 C939.6,1769.9 891.9,1767.3 880,1767.3Z" fill="#980050"/>
<path d="M888.3,1695.8 C888.5,1694.1 887,1687.4 889.5,1685.6 C892.1,1683.8 899.5,1684.6 903.8,1685 C908.2,1685.4 912.4,1686.8 915.8,1688 C919.1,1689.2 922.2,1689.9 924.1,1692.2 C926,1694.5 926.1,1698.2 927.1,1701.7 C928.1,1705.3 929,1708.7 930.1,1713.7 C931.2,1718.6 932.1,1726.6 933.7,1731.5 C935.2,1736.5 937.4,1740.3 939.6,1743.5 C941.8,1746.6 945.6,1746.6 946.8,1750.6 C948,1754.6 957.9,1764.5 946.8,1767.3 C935.6,1770.1 891.1,1767.3 880,1767.3Z" fill="#b40040"/>
<path d="M887.2,1691 C887.2,1689.9 886.2,1684.5 887.2,1684.4 C888.1,1684.3 890.9,1688.4 893.1,1690.4 C895.3,1692.4 897.7,1694.4 900.3,1696.4 C902.9,1698.4 906,1700 908.6,1702.3 C911.2,1704.6 913.6,1707.2 915.8,1710.1 C918,1713 919.7,1716 921.7,1719.6 C923.7,1723.2 925.7,1728 927.7,1731.5 C929.7,1735.1 931.3,1738.3 933.7,1741.1 C936,1743.9 939,1746.3 942,1748.2 C945,1750.1 949.9,1749.2 951.5,1752.4 C953.1,1755.6 963.5,1764.8 951.5,1767.3 C939.6,1769.8 891.9,1767.3 880,1767.3Z" fill="#e4001c"/>
<path d="M977.8,1748.2 C979,1748.3 982.7,1748.6 984.9,1748.8 C987.1,1749 989.5,1748.3 990.9,1749.4 C992.3,1750.5 994.9,1753.8 993.3,1755.4 C991.7,1757 983.3,1758.4 981.3,1759Z" fill="#b40040"/>
<path d="M1067.8,1712.1 C1070.6,1712.5 1079.8,1713.3 1084.5,1714.5 C1089.3,1715.6 1094.1,1716 1096.5,1719.2 C1098.8,1722.4 1098.8,1728.8 1098.8,1733.5 C1098.8,1738.3 1100.8,1745.5 1096.5,1747.8 C1092.1,1750.2 1076.6,1747.8 1072.6,1747.8Z" fill="#800070"/>
<path d="M1146.5,1745.5 C1150.1,1745.9 1162.4,1745.9 1168,1747.8 C1173.6,1749.8 1177.1,1752.6 1179.9,1757.4 C1182.7,1762.1 1188.7,1773.3 1184.7,1776.5 C1180.7,1779.6 1160.8,1776.5 1156.1,1776.5Z" fill="#800070"/>
<path d="M1275.3,1762.1 C1279.3,1762.3 1289.5,1762.5 1299.1,1763.3 C1308.8,1764.1 1327.4,1763.1 1333,1766.9 C1338.6,1770.7 1342.6,1782.8 1333,1786 C1323.4,1789.2 1284.9,1786 1275.3,1786Z" fill="#800070"/>
<path d="M1070.2,1715.6 C1072.2,1716 1079,1716.6 1082.2,1718 C1085.3,1719.4 1088.1,1719 1089.3,1724 C1090.5,1729 1091.3,1743.9 1089.3,1747.8 C1087.3,1751.8 1079.4,1747.8 1077.4,1747.8Z" fill="#980050"/>
<path d="M1151.3,1750.2 C1153.7,1750.6 1161.6,1750.6 1165.6,1752.6 C1169.6,1754.6 1172.8,1758.2 1175.1,1762.1 C1177.5,1766.1 1182.3,1774.1 1179.9,1776.5 C1177.5,1778.8 1164,1776.5 1160.8,1776.5Z" fill="#980050"/>
<path d="M1070.2,1714.5 C1071,1716.4 1073.4,1722.4 1075,1726.4 C1076.6,1730.4 1078.2,1735.3 1079.8,1738.3 C1081.4,1741.3 1083.7,1741.9 1084.5,1744.3 C1085.3,1746.6 1086.9,1751.2 1084.5,1752.6 C1082.2,1754 1072.6,1752.6 1070.2,1752.6Z" fill="#e4001c"/>
<path d="M1151.3,1752.6 C1152.9,1754.2 1157.7,1759 1160.8,1762.1 C1164,1765.3 1168,1769.3 1170.4,1771.7 C1172.8,1774.1 1177.5,1775.7 1175.1,1776.5 C1172.8,1777.2 1159.2,1776.5 1156.1,1776.5Z" fill="#e4001c"/>
<path d="M1275.3,1764.5 C1279.3,1765.1 1289.5,1766.1 1299.1,1768.1 C1308.8,1770.1 1327.4,1773.5 1333,1776.5 C1338.6,1779.4 1342.6,1784.4 1333,1786 C1323.4,1787.6 1284.9,1786 1275.3,1786Z" fill="#e4001c"/>
<path d="M693.8,1723.5 C694,1723.5 693.5,1724 694.9,1723.5 C696.3,1723 699.7,1721.7 702.1,1720.4 C704.4,1719.1 706.8,1717.4 709.2,1715.6 C711.6,1713.9 714,1712.3 716.4,1709.7 C718.7,1707.1 721.1,1703.7 723.5,1700.1 C725.9,1696.6 728.3,1692.6 730.7,1688.2 C733.1,1683.9 735.8,1677.9 737.8,1673.9 C739.8,1669.9 741.2,1666.7 742.6,1664.4 C744,1662.1 744.6,1660.9 746.2,1660.1 C747.8,1659.3 750.3,1659.5 752.1,1659.6 C753.9,1659.7 755.3,1660.9 756.9,1660.8 C758.5,1660.7 760.1,1659.6 761.7,1659.1 C763.3,1658.7 764.8,1658.1 766.4,1657.9 C768,1657.8 769.6,1657.8 771.2,1658.4 C772.8,1659 774.4,1659.7 776,1661.5 C777.6,1663.3 779.2,1665.9 780.7,1669.2 C782.3,1672.4 783.9,1677.3 785.5,1681.1 C787.1,1684.8 788.7,1688.8 790.3,1691.8 C791.9,1694.8 793.5,1697.6 795,1699 C796.6,1700.3 798.2,1700.3 799.8,1700.1 C801.4,1700 803,1698.6 804.6,1697.8 C806.2,1696.9 807.8,1695.8 809.4,1694.9 C810.9,1694 812.1,1693 814.1,1692.5 C816.1,1692 818.9,1692.3 821.3,1691.8 C823.7,1691.3 826,1690.4 828.4,1689.4 C830.8,1688.4 833.2,1686.8 835.6,1685.8 C838,1684.9 840.4,1684.3 842.7,1683.9 C845.1,1683.6 847.9,1683.6 849.9,1683.9 C851.9,1684.3 853.1,1684.9 854.7,1685.8 C856.3,1686.8 857.6,1688.4 859.4,1689.4 C861.2,1690.4 863.4,1691.7 865.4,1691.8 C867.4,1691.9 869.6,1690.9 871.4,1690.1 C873.1,1689.3 874.5,1688.1 876.1,1687 C877.7,1686 879.5,1684.5 880.9,1683.9 C882.3,1683.3 883.1,1683.1 884.5,1683.5 C885.9,1683.9 887.4,1684.7 889.2,1686.3 C891,1687.9 893,1690.7 895.2,1693 C897.4,1695.3 900,1698.2 902.4,1700.1 C904.7,1702.1 907.1,1703.1 909.5,1704.9 C911.9,1706.7 914.7,1708.5 916.7,1710.9 C918.6,1713.3 919.8,1716.2 921.4,1719.2 C923,1722.2 924.6,1725.8 926.2,1728.8 C927.8,1731.7 929.4,1734.7 931,1737.1 C932.6,1739.5 933.7,1741.3 935.7,1743.1 C937.7,1744.9 940.5,1746.4 942.9,1747.8 C945.3,1749.3 948.1,1751.1 950,1751.9 C952,1752.7 952.8,1752.8 954.8,1752.6 C956.8,1752.4 959.6,1750.9 962,1750.7 C964.3,1750.5 966.7,1750.9 969.1,1751.4 C971.5,1751.9 974.1,1753 976.3,1753.8 C978.5,1754.6 980.6,1756 982.2,1756.2 C983.8,1756.4 984.4,1755.8 985.8,1755 C987.2,1754.2 989,1753.4 990.6,1751.4 C992.2,1749.4 993.8,1746.8 995.3,1743.1 C996.9,1739.3 998.5,1733.1 1000.1,1728.8 C1001.7,1724.4 1003.3,1719.6 1004.9,1716.8 C1006.5,1714.1 1008.3,1713.2 1009.7,1712.1 C1011,1711 1011.2,1711.2 1012.9,1710.2 C1014.6,1709.2 1017.7,1707.3 1020.1,1706.1 C1022.4,1704.9 1024.8,1703.5 1027.2,1703 C1029.6,1702.5 1031.6,1702.7 1034.4,1703 C1037.1,1703.3 1040.7,1704.2 1043.9,1704.9 C1047.1,1705.6 1050.7,1706.5 1053.4,1707.3 C1056.2,1708.1 1058.6,1708.5 1060.6,1709.7 C1062.6,1710.9 1063.8,1712.5 1065.4,1714.5 C1066.9,1716.4 1068.5,1718.8 1070.1,1721.6 C1071.7,1724.4 1073.3,1728 1074.9,1731.1 C1076.5,1734.3 1078.1,1738.3 1079.7,1740.7 C1081.3,1743.1 1082.8,1744.5 1084.4,1745.5 C1086,1746.4 1087.2,1746.7 1089.2,1746.6 C1091.2,1746.6 1094,1745.2 1096.4,1745 C1098.7,1744.8 1101.1,1745.2 1103.5,1745.5 C1105.9,1745.7 1108.3,1746.4 1110.7,1746.6 C1113,1746.8 1115.4,1746.6 1117.8,1746.6 C1120.2,1746.6 1122.6,1746.7 1125,1746.6 C1127.4,1746.6 1129.7,1746.1 1132.1,1746.2 C1134.5,1746.3 1136.9,1746.5 1139.3,1747.4 C1141.7,1748.2 1144,1749.5 1146.4,1751.4 C1148.8,1753.3 1151.2,1756.4 1153.6,1758.6 C1156,1760.8 1158.4,1762.7 1160.7,1764.5 C1163.1,1766.3 1165.5,1767.5 1167.9,1769.3 C1170.3,1771.1 1172.7,1774.1 1175,1775.3 C1177.4,1776.5 1179.8,1776.3 1182.2,1776.5 C1184.6,1776.6 1187,1776.3 1189.4,1776 C1191.7,1775.7 1194.1,1775.1 1196.5,1774.5 C1198.9,1774 1200.9,1773.7 1203.7,1772.9 C1206.4,1772.1 1210,1771 1213.2,1769.8 C1216.4,1768.6 1219.6,1767 1222.7,1765.7 C1225.9,1764.5 1229.1,1762.8 1232.3,1762.1 C1235.5,1761.5 1238.6,1761.7 1241.8,1761.7 C1245,1761.7 1248.2,1761.7 1251.4,1762.1 C1254.5,1762.6 1257.7,1763.9 1260.9,1764.5 C1264.1,1765.1 1267.2,1765.3 1270.4,1765.7 C1273.6,1766.1 1276.8,1766.4 1280,1766.9 C1283.1,1767.4 1286.3,1767.6 1289.5,1768.6 C1292.7,1769.6 1295.9,1771.2 1299,1772.9 C1302.2,1774.6 1305.4,1777.4 1308.6,1778.8 C1311.8,1780.3 1315.3,1781.3 1318.1,1781.7 C1320.9,1782.1 1322.8,1781.4 1325.3,1781.2 C1327.7,1781.1 1331.5,1780.8 1332.9,1780.7 C1334.3,1780.7 1333.7,1780.7 1333.8,1780.7 L1335.8,1845.2 L693.8,1845.2Z" fill="#fff"/>
<path d="M900,1700.1 C900.6,1701.3 902.6,1704.5 903.5,1707.3 C904.5,1710.1 905.1,1714.4 905.9,1716.8 C906.7,1719.3 906.9,1721.1 908.3,1722.1 C909.7,1723.1 912.3,1723 914.3,1722.8 C916.3,1722.6 919,1721.7 920.2,1721.1 C921.4,1720.5 922,1720.9 921.4,1719.2 C920.8,1717.5 918.6,1713.3 916.7,1710.9 C914.7,1708.5 911.9,1706.7 909.5,1704.9 C907.1,1703.1 903.5,1700.9 902.4,1700.1Z" fill="#fdc36c"/>
<path d="M994.9,1743.8 C995.5,1744 997.3,1745.4 998.9,1745 C1000.6,1744.5 1003.1,1742.1 1004.9,1741.2 C1006.7,1740.2 1008.3,1740 1009.7,1739.5 C1011,1738.9 1010.8,1738.1 1012.9,1737.8 C1015,1737.5 1018.9,1737.7 1022.4,1737.8 C1026,1737.9 1030.4,1738.3 1034.4,1738.3 C1038.3,1738.3 1042.7,1738.6 1046.3,1737.8 C1049.9,1737 1053,1735.4 1055.8,1733.5 C1058.6,1731.6 1061,1729.2 1063,1726.4 C1065,1723.6 1068.1,1719.6 1067.7,1716.8 C1067.3,1714.1 1063,1711.3 1060.6,1709.7 C1058.2,1708.1 1056.2,1708.1 1053.4,1707.3 C1050.7,1706.5 1047.1,1705.6 1043.9,1704.9 C1040.7,1704.2 1037.1,1703.3 1034.4,1703 C1031.6,1702.7 1029.6,1702.5 1027.2,1703 C1024.8,1703.5 1022.4,1704.9 1020.1,1706.1 C1017.7,1707.3 1014.6,1709.2 1012.9,1710.2 C1011.2,1711.2 1011,1711 1009.7,1712.1 C1008.3,1713.2 1006.5,1714.1 1004.9,1716.8 C1003.3,1719.6 1001.7,1724.4 1000.1,1728.8 C998.5,1733.1 996.1,1740.7 995.3,1743.1Z" fill="#fdc36c"/>
<use href="#slG" transform="translate(636.9,0)"/>
<path d="M693.8,1723.5 C694,1723.5 693.5,1724 694.9,1723.5 C696.3,1723 699.7,1721.7 702.1,1720.4 C704.4,1719.1 706.8,1717.4 709.2,1715.6 C711.6,1713.9 714,1712.3 716.4,1709.7 C718.7,1707.1 721.1,1703.7 723.5,1700.1 C725.9,1696.6 728.3,1692.6 730.7,1688.2 C733.1,1683.9 735.8,1677.9 737.8,1673.9 C739.8,1669.9 741.2,1666.7 742.6,1664.4 C744,1662.1 744.6,1660.9 746.2,1660.1 C747.8,1659.3 750.3,1659.5 752.1,1659.6 C753.9,1659.7 755.3,1660.9 756.9,1660.8 C758.5,1660.7 760.1,1659.6 761.7,1659.1 C763.3,1658.7 764.8,1658.1 766.4,1657.9 C768,1657.8 769.6,1657.8 771.2,1658.4 C772.8,1659 774.4,1659.7 776,1661.5 C777.6,1663.3 779.2,1665.9 780.7,1669.2 C782.3,1672.4 783.9,1677.3 785.5,1681.1 C787.1,1684.8 788.7,1688.8 790.3,1691.8 C791.9,1694.8 793.5,1697.6 795,1699 C796.6,1700.3 798.2,1700.3 799.8,1700.1 C801.4,1700 803,1698.6 804.6,1697.8 C806.2,1696.9 807.8,1695.8 809.4,1694.9 C810.9,1694 812.1,1693 814.1,1692.5 C816.1,1692 818.9,1692.3 821.3,1691.8 C823.7,1691.3 826,1690.4 828.4,1689.4 C830.8,1688.4 833.2,1686.8 835.6,1685.8 C838,1684.9 840.4,1684.3 842.7,1683.9 C845.1,1683.6 847.9,1683.6 849.9,1683.9 C851.9,1684.3 853.1,1684.9 854.7,1685.8 C856.3,1686.8 857.6,1688.4 859.4,1689.4 C861.2,1690.4 863.4,1691.7 865.4,1691.8 C867.4,1691.9 869.6,1690.9 871.4,1690.1 C873.1,1689.3 874.5,1688.1 876.1,1687 C877.7,1686 879.5,1684.5 880.9,1683.9 C882.3,1683.3 883.1,1683.1 884.5,1683.5 C885.9,1683.9 887.4,1684.7 889.2,1686.3 C891,1687.9 893,1690.7 895.2,1693 C897.4,1695.3 900,1698.2 902.4,1700.1 C904.7,1702.1 907.1,1703.1 909.5,1704.9 C911.9,1706.7 914.7,1708.5 916.7,1710.9 C918.6,1713.3 919.8,1716.2 921.4,1719.2 C923,1722.2 924.6,1725.8 926.2,1728.8 C927.8,1731.7 929.4,1734.7 931,1737.1 C932.6,1739.5 933.7,1741.3 935.7,1743.1 C937.7,1744.9 940.5,1746.4 942.9,1747.8 C945.3,1749.3 948.1,1751.1 950,1751.9 C952,1752.7 952.8,1752.8 954.8,1752.6 C956.8,1752.4 959.6,1750.9 962,1750.7 C964.3,1750.5 966.7,1750.9 969.1,1751.4 C971.5,1751.9 974.1,1753 976.3,1753.8 C978.5,1754.6 980.6,1756 982.2,1756.2 C983.8,1756.4 984.4,1755.8 985.8,1755 C987.2,1754.2 989,1753.4 990.6,1751.4 C992.2,1749.4 993.8,1746.8 995.3,1743.1 C996.9,1739.3 998.5,1733.1 1000.1,1728.8 C1001.7,1724.4 1003.3,1719.6 1004.9,1716.8 C1006.5,1714.1 1008.3,1713.2 1009.7,1712.1 C1011,1711 1011.2,1711.2 1012.9,1710.2 C1014.6,1709.2 1017.7,1707.3 1020.1,1706.1 C1022.4,1704.9 1024.8,1703.5 1027.2,1703 C1029.6,1702.5 1031.6,1702.7 1034.4,1703 C1037.1,1703.3 1040.7,1704.2 1043.9,1704.9 C1047.1,1705.6 1050.7,1706.5 1053.4,1707.3 C1056.2,1708.1 1058.6,1708.5 1060.6,1709.7 C1062.6,1710.9 1063.8,1712.5 1065.4,1714.5 C1066.9,1716.4 1068.5,1718.8 1070.1,1721.6 C1071.7,1724.4 1073.3,1728 1074.9,1731.1 C1076.5,1734.3 1078.1,1738.3 1079.7,1740.7 C1081.3,1743.1 1082.8,1744.5 1084.4,1745.5 C1086,1746.4 1087.2,1746.7 1089.2,1746.6 C1091.2,1746.6 1094,1745.2 1096.4,1745 C1098.7,1744.8 1101.1,1745.2 1103.5,1745.5 C1105.9,1745.7 1108.3,1746.4 1110.7,1746.6 C1113,1746.8 1115.4,1746.6 1117.8,1746.6 C1120.2,1746.6 1122.6,1746.7 1125,1746.6 C1127.4,1746.6 1129.7,1746.1 1132.1,1746.2 C1134.5,1746.3 1136.9,1746.5 1139.3,1747.4 C1141.7,1748.2 1144,1749.5 1146.4,1751.4 C1148.8,1753.3 1151.2,1756.4 1153.6,1758.6 C1156,1760.8 1158.4,1762.7 1160.7,1764.5 C1163.1,1766.3 1165.5,1767.5 1167.9,1769.3 C1170.3,1771.1 1172.7,1774.1 1175,1775.3 C1177.4,1776.5 1179.8,1776.3 1182.2,1776.5 C1184.6,1776.6 1187,1776.3 1189.4,1776 C1191.7,1775.7 1194.1,1775.1 1196.5,1774.5 C1198.9,1774 1200.9,1773.7 1203.7,1772.9 C1206.4,1772.1 1210,1771 1213.2,1769.8 C1216.4,1768.6 1219.6,1767 1222.7,1765.7 C1225.9,1764.5 1229.1,1762.8 1232.3,1762.1 C1235.5,1761.5 1238.6,1761.7 1241.8,1761.7 C1245,1761.7 1248.2,1761.7 1251.4,1762.1 C1254.5,1762.6 1257.7,1763.9 1260.9,1764.5 C1264.1,1765.1 1267.2,1765.3 1270.4,1765.7 C1273.6,1766.1 1276.8,1766.4 1280,1766.9 C1283.1,1767.4 1286.3,1767.6 1289.5,1768.6 C1292.7,1769.6 1295.9,1771.2 1299,1772.9 C1302.2,1774.6 1305.4,1777.4 1308.6,1778.8 C1311.8,1780.3 1315.3,1781.3 1318.1,1781.7 C1320.9,1782.1 1322.8,1781.4 1325.3,1781.2 C1327.7,1781.1 1331.5,1780.8 1332.9,1780.7 C1334.3,1780.7 1333.7,1780.7 1333.8,1780.7" fill="none" stroke="#000" stroke-width="1.6"/>
<line x1="738.2" y1="1543" x2="738.2" y2="1840.2" stroke="#000" stroke-opacity="0.55" stroke-width="0.8" stroke-dasharray="1.1 1.3"/>
<line x1="780.7" y1="1543" x2="780.7" y2="1840.2" stroke="#000" stroke-opacity="0.55" stroke-width="0.8" stroke-dasharray="1.1 1.3"/>
<line x1="823.1" y1="1543" x2="823.1" y2="1840.2" stroke="#000" stroke-opacity="0.55" stroke-width="0.8" stroke-dasharray="1.1 1.3"/>
<line x1="865.6" y1="1543" x2="865.6" y2="1840.2" stroke="#000" stroke-opacity="0.55" stroke-width="0.8" stroke-dasharray="1.1 1.3"/>
<line x1="908" y1="1543" x2="908" y2="1840.2" stroke="#000" stroke-opacity="0.55" stroke-width="0.8" stroke-dasharray="1.1 1.3"/>
<line x1="950.4" y1="1543" x2="950.4" y2="1840.2" stroke="#000" stroke-opacity="0.55" stroke-width="0.8" stroke-dasharray="1.1 1.3"/>
<line x1="992.9" y1="1543" x2="992.9" y2="1840.2" stroke="#000" stroke-opacity="0.55" stroke-width="0.8" stroke-dasharray="1.1 1.3"/>
<line x1="1035.3" y1="1543" x2="1035.3" y2="1840.2" stroke="#000" stroke-opacity="0.55" stroke-width="0.8" stroke-dasharray="1.1 1.3"/>
<line x1="1077.8" y1="1543" x2="1077.8" y2="1840.2" stroke="#000" stroke-opacity="0.55" stroke-width="0.8" stroke-dasharray="1.1 1.3"/>
<line x1="1120.2" y1="1543" x2="1120.2" y2="1840.2" stroke="#000" stroke-opacity="0.55" stroke-width="0.8" stroke-dasharray="1.1 1.3"/>
<line x1="1162.6" y1="1543" x2="1162.6" y2="1840.2" stroke="#000" stroke-opacity="0.55" stroke-width="0.8" stroke-dasharray="1.1 1.3"/>
<line x1="1205.1" y1="1543" x2="1205.1" y2="1840.2" stroke="#000" stroke-opacity="0.55" stroke-width="0.8" stroke-dasharray="1.1 1.3"/>
<line x1="1247.5" y1="1543" x2="1247.5" y2="1840.2" stroke="#000" stroke-opacity="0.55" stroke-width="0.8" stroke-dasharray="1.1 1.3"/>
<line x1="1290" y1="1543" x2="1290" y2="1840.2" stroke="#000" stroke-opacity="0.55" stroke-width="0.8" stroke-dasharray="1.1 1.3"/>
<line x1="695.8" y1="1798.5" x2="1332.4" y2="1798.5" stroke="#000" stroke-opacity="0.55" stroke-width="0.8" stroke-dasharray="1.1 1.3"/>
<line x1="695.8" y1="1756.2" x2="1332.4" y2="1756.2" stroke="#000" stroke-opacity="0.55" stroke-width="0.8" stroke-dasharray="1.1 1.3"/>
<line x1="695.8" y1="1713.8" x2="1332.4" y2="1713.8" stroke="#000" stroke-opacity="0.55" stroke-width="0.8" stroke-dasharray="1.1 1.3"/>
<line x1="695.8" y1="1671.5" x2="1332.4" y2="1671.5" stroke="#000" stroke-opacity="0.55" stroke-width="0.8" stroke-dasharray="1.1 1.3"/>
<line x1="695.8" y1="1629.1" x2="1332.4" y2="1629.1" stroke="#000" stroke-opacity="0.55" stroke-width="0.8" stroke-dasharray="1.1 1.3"/>
<line x1="695.8" y1="1586.7" x2="1332.4" y2="1586.7" stroke="#000" stroke-opacity="0.55" stroke-width="0.8" stroke-dasharray="1.1 1.3"/>
</g>
<line x1="58.9" y1="1543" x2="1332.4" y2="1543" stroke="#000" stroke-width="1.6"/>
<line x1="53.6" y1="1798.5" x2="58.9" y2="1798.5" stroke="#000" stroke-width="1.1"/>
<text x="48.6" y="1802.7" font-size="12.5" text-anchor="end" style="font-family:'Liberation Serif',serif">0.1</text>
<line x1="53.6" y1="1756.2" x2="58.9" y2="1756.2" stroke="#000" stroke-width="1.1"/>
<text x="48.6" y="1760.4" font-size="12.5" text-anchor="end" style="font-family:'Liberation Serif',serif">0.2</text>
<line x1="53.6" y1="1713.8" x2="58.9" y2="1713.8" stroke="#000" stroke-width="1.1"/>
<text x="48.6" y="1718" font-size="12.5" text-anchor="end" style="font-family:'Liberation Serif',serif">0.3</text>
<line x1="53.6" y1="1671.5" x2="58.9" y2="1671.5" stroke="#000" stroke-width="1.1"/>
<text x="48.6" y="1675.7" font-size="12.5" text-anchor="end" style="font-family:'Liberation Serif',serif">0.4</text>
<line x1="53.6" y1="1629.1" x2="58.9" y2="1629.1" stroke="#000" stroke-width="1.1"/>
<text x="48.6" y="1633.3" font-size="12.5" text-anchor="end" style="font-family:'Liberation Serif',serif">0.5</text>
<line x1="53.6" y1="1586.7" x2="58.9" y2="1586.7" stroke="#000" stroke-width="1.1"/>
<text x="48.6" y="1590.9" font-size="12.5" text-anchor="end" style="font-family:'Liberation Serif',serif">0.6</text>
<line x1="53.6" y1="1544.4" x2="58.9" y2="1544.4" stroke="#000" stroke-width="1.1"/>
<text x="48.6" y="1548.6" font-size="12.5" text-anchor="end" style="font-family:'Liberation Serif',serif">0.7</text>
<text x="0" y="0" font-size="12.5" text-anchor="middle" style="font-family:'Liberation Serif',serif" transform="translate(25,1696.6) rotate(-90)">y (m)</text>
<text x="1" y="1552.5" font-size="27" font-weight="bold" style="font-family:'Liberation Sans',sans-serif">G</text>
<path d="M86.4,1553.1 L88.9,1558.4 L93.3,1554.5 L93.6,1560.3 L99.1,1558.4 L97.2,1563.9 L103,1564.2 L99.1,1568.6 L104.4,1571.1 L99.1,1573.6 L103,1578 L97.2,1578.3 L99.1,1583.8 L93.6,1581.9 L93.3,1587.7 L88.9,1583.8 L86.4,1589.1 L83.9,1583.8 L79.5,1587.7 L79.2,1581.9 L73.7,1583.8 L75.6,1578.3 L69.8,1578 L73.7,1573.6 L68.4,1571.1 L73.7,1568.6 L69.8,1564.2 L75.6,1563.9 L73.7,1558.4 L79.2,1560.3 L79.5,1554.5 L83.9,1558.4Z" fill="#ffd700"/>
<path d="M722.8,1552.1 A18,18 0 1,0 739.4,1578.9 A15.8,15.8 0 1,1 722.8,1552.1Z" fill="#fff"/><path d="M726.4,1558.1 L727.2,1561.1 L730.2,1561.9 L727.2,1562.7 L726.4,1565.7 L725.6,1562.7 L722.6,1561.9 L725.6,1561.1Z" fill="#fff"/><path d="M723.4,1569.1 L723.8,1570.7 L725.4,1571.1 L723.8,1571.5 L723.4,1573.1 L723,1571.5 L721.4,1571.1 L723,1570.7Z" fill="#fff"/><path d="M731.8,1572.6 L732.3,1574.6 L734.3,1575.1 L732.3,1575.6 L731.8,1577.6 L731.3,1575.6 L729.3,1575.1 L731.3,1574.6Z" fill="#fff"/>
<g clip-path="url(#cpH0)">
<rect x="58.9" y="1840.2" width="636.6" height="300.4" fill="#000072"/>
<path d="M58,2078.5 C58,2067.5 55.5,2025.3 58,2012.9 C60.5,2000.4 67.8,2006.5 72.8,2003.8 C77.8,2001.1 82.8,1998.8 87.8,1996.7 C92.8,1994.5 97.9,1992.4 102.8,1990.7 C107.8,1989 112.7,1987.8 117.6,1986.2 C122.5,1984.5 127.4,1982.7 132.4,1980.9 C137.4,1979.2 142.4,1977.3 147.4,1975.7 C152.4,1974 157.5,1973.1 162.4,1971.1 C167.4,1969.2 173.5,1966.2 177.2,1963.8 C180.9,1961.3 182.6,1959.1 184.6,1956.4 C186.6,1953.6 187.6,1950.5 189.1,1947.3 C190.7,1944.1 192.2,1940 193.7,1937 C195.2,1934.1 196.5,1932.2 198.2,1929.4 C199.9,1926.7 201.9,1923.1 203.9,1920.6 C205.9,1918.1 207.1,1916.6 210.1,1914.6 C213.2,1912.6 217.6,1910.6 222.1,1908.7 C226.5,1906.8 232.4,1904.9 236.8,1903.2 C241.3,1901.5 244.8,1900.6 248.8,1898.4 C252.7,1896.2 256.7,1892.1 260.7,1890.1 C264.7,1888.1 266.6,1887.9 272.6,1886.5 C278.6,1885.1 288.5,1883.5 296.5,1881.7 C304.4,1879.9 312.3,1877.6 320.3,1875.8 C328.2,1874 337.8,1872.2 344.1,1871 C350.5,1869.8 352.8,1869.3 358.4,1868.6 C364.1,1867.9 375.1,1867.1 378,1866.9 C380.9,1866.8 372.4,1867.8 376,1867.7 C379.6,1867.5 391.9,1866.4 399.8,1866.2 C407.8,1866.1 411.8,1866.4 423.7,1866.7 C435.6,1867 455.5,1867.7 471.4,1868.1 C487.3,1868.6 503.2,1868.7 519.1,1869.6 C535,1870.4 550.9,1871.6 566.8,1873.4 C582.7,1875.2 598.6,1877.6 614.5,1880.5 C630.3,1883.4 650.2,1888.1 662.1,1890.8 C674.1,1893.5 680.3,1895.5 686,1896.8 C691.6,1898 694.3,1892 696,1898.4 C697.7,1904.9 696,1905.4 696,1935.4 C696,1965.4 749.3,2054.6 696,2078.5 C642.7,2102.3 429.3,2078.5 376,2078.5Z" fill="#0000b4"/>
<path d="M241.6,1925.8 C242,1925 242,1922.3 244,1921.1 C246,1919.9 250.7,1918.7 253.5,1918.7 C256.3,1918.7 258.3,1919.5 260.7,1921.1 C263.1,1922.7 265.1,1925.8 267.8,1928.2 C270.6,1930.6 274.2,1933 277.4,1935.4 C280.6,1937.8 283.7,1940 286.9,1942.5 C290.1,1945.1 293.7,1948.5 296.5,1950.9 C299.2,1953.3 300.6,1953 303.6,1956.8 C306.6,1960.7 309.7,1968.2 314.3,1973.8 C318.9,1979.5 325.4,1986 331,1990.5 C336.6,1995.1 340.9,1998.5 347.7,2001.3 C354.4,2004 363.6,2005.6 371.5,2007.2 C379.5,2008.8 387.4,2010.2 395.4,2010.8 C403.3,2011.4 411.3,2011.1 419.2,2010.8 C427.2,2010.5 435.1,2009.7 443.1,2009.1 C451,2008.5 459,2007.9 466.9,2007.2 C474.9,2006.6 482.8,2005.9 490.8,2005.3 C498.7,2004.7 506.7,2004 514.6,2003.7 C522.6,2003.3 530.5,2003.5 538.5,2002.9 C546.4,2002.3 554.3,2000.9 562.3,2000.1 C570.2,1999.2 576.5,1998.5 586.1,1997.7 C595.8,1996.9 614.4,1979.4 620,1995.3 C625.6,2011.2 673.3,2076.8 620,2093.1 C566.7,2109.4 353.9,2095.5 300,2093.1 C246.1,2090.6 305,2080.9 296.5,2078.5 C287.9,2076 256.7,2078.5 248.8,2078.5Z" fill="#0000ff"/>
<path d="M244,1925.8 C244.4,1925.2 244.4,1922.6 246.4,1922.3 C248.4,1921.9 252.7,1922.5 255.9,1923.9 C259.1,1925.3 262.3,1928.3 265.5,1930.6 C268.6,1932.9 271.8,1935.4 275,1937.8 C278.2,1940.1 281,1942.1 284.5,1944.9 C288.1,1947.7 293.7,1952.1 296.5,1954.5 C299.2,1956.8 298.6,1955.6 301.2,1959.2 C303.8,1962.9 307.4,1970.6 311.9,1976.2 C316.5,1981.8 323.4,1987 328.6,1992.9 C333.8,1998.9 338.9,2006.8 342.9,2012 C346.9,2017.2 347.7,2020.7 352.5,2023.9 C357.2,2027.1 364.4,2029.7 371.5,2031.1 C378.7,2032.5 387.4,2032.5 395.4,2032.3 C403.3,2032.1 411.3,2030.9 419.2,2029.9 C427.2,2028.9 435.1,2027.7 443.1,2026.3 C451,2024.9 459,2023.1 466.9,2021.5 C474.9,2019.9 482.8,2018.4 490.8,2016.8 C498.7,2015.1 506.7,2012.4 514.6,2011.5 C522.6,2010.6 530.5,2012 538.5,2011.5 C546.4,2011 554.3,2009.7 562.3,2008.4 C570.2,2007.1 576.5,2005.2 586.1,2003.7 C595.8,2002.1 614.4,1984 620,1998.9 C625.6,2013.8 673.3,2077.4 620,2093.1 C566.7,2108.8 353.9,2095.5 300,2093.1 C246.1,2090.6 305,2080.9 296.5,2078.5 C287.9,2076 256.7,2078.5 248.8,2078.5Z" fill="#0080ff"/>
<path d="M245.2,1928.2 C245.4,1927.6 244.6,1924.5 246.4,1924.6 C248.2,1924.8 252.7,1927.4 255.9,1929.4 C259.1,1931.4 262.3,1934.2 265.5,1936.6 C268.6,1939 271.8,1941.3 275,1943.7 C278.2,1946.1 281.3,1948.5 284.5,1950.9 C287.7,1953.3 291.5,1956 294.1,1958 C296.6,1960 297.4,1959.4 300,1962.8 C302.6,1966.2 305.6,1973.2 309.5,1978.6 C313.5,1984 319.5,1989.7 323.8,1995.3 C328.2,2000.9 331.8,2006.4 335.8,2012 C339.7,2017.6 344.1,2024.3 347.7,2028.7 C351.3,2033.1 353.3,2036.4 357.2,2038.2 C361.2,2040 365.2,2039 371.5,2039.4 C377.9,2039.8 387.4,2040.8 395.4,2040.6 C403.3,2040.4 411.3,2039.2 419.2,2038.2 C427.2,2037.2 435.1,2036 443.1,2034.6 C451,2033.3 459,2031.6 466.9,2029.9 C474.9,2028.2 482.8,2027.1 490.8,2024.4 C498.7,2021.7 506.7,2015.6 514.6,2013.9 C522.6,2012.2 530.5,2014.6 538.5,2014.4 C546.4,2014.1 554.3,2013.5 562.3,2012.5 C570.2,2011.5 576.5,2010.3 586.1,2008.4 C595.8,2006.6 614.4,1987.2 620,2001.3 C625.6,2015.4 673.3,2077.8 620,2093.1 C566.7,2108.4 353.9,2095.5 300,2093.1 C246.1,2090.6 305,2080.9 296.5,2078.5 C287.9,2076 256.7,2078.5 248.8,2078.5Z" fill="#00ffff"/>
<path d="M247.6,1930.6 C247.8,1930.1 246.6,1927 248.8,1927.7 C250.9,1928.5 256.7,1932.2 260.7,1934.9 C264.7,1937.6 268.6,1940.9 272.6,1943.7 C276.6,1946.6 281,1949.3 284.5,1952.1 C288.1,1954.9 291.5,1958.2 294.1,1960.4 C296.6,1962.6 297.8,1961.6 300,1965.2 C302.2,1968.8 304,1976.8 307.2,1982.2 C310.3,1987.6 315.1,1991.9 319.1,1997.7 C323.1,2003.5 327,2010.4 331,2016.8 C335,2023.1 338.5,2031.4 342.9,2035.8 C347.3,2040.3 352.5,2042.1 357.2,2043.5 C362,2044.9 365.2,2043.9 371.5,2044.2 C377.9,2044.5 387.4,2045.4 395.4,2045.4 C403.3,2045.4 411.3,2044.8 419.2,2044.2 C427.2,2043.6 435.1,2042.8 443.1,2041.8 C451,2040.8 459.8,2039.8 466.9,2038.2 C474.1,2036.6 481.2,2033.9 486,2032.3 C490.8,2030.7 493.9,2018.6 495.5,2028.7 C497.1,2038.8 528.1,2082.3 495.5,2093.1 C462.9,2103.8 333.2,2095.5 300,2093.1 C266.8,2090.6 305,2080.9 296.5,2078.5 C287.9,2076 256.7,2078.5 248.8,2078.5Z" fill="#80ffff"/>
<path d="M328.6,2021.5 C330.6,2024.7 336.6,2036.4 340.5,2040.6 C344.5,2044.8 347.3,2045 352.5,2046.6 C357.6,2048.2 364.4,2049.1 371.5,2050.1 C378.7,2051.2 389,2052 395.4,2053 C401.7,2054 405.7,2056.6 409.7,2056.1 C413.7,2055.6 413.7,2052 419.2,2050.1 C424.8,2048.3 435.1,2046.4 443.1,2044.9 C451,2043.4 459.8,2042.9 466.9,2041.1 C474.1,2039.3 481.2,2035.8 486,2033.9 C490.8,2032.1 493.5,2020 495.5,2029.9 C497.5,2039.7 525.7,2082.5 497.9,2093.1 C470.1,2103.6 356.8,2093.1 328.6,2093.1Z" fill="#ffffff"/>
<path d="M56.9,2033.1 C57.1,2033.1 57,2033.1 58,2033.1 C59,2033.2 61.2,2034.2 62.8,2033.6 C64.4,2033 65.6,2031.6 67.5,2029.6 C69.5,2027.5 72.3,2024 74.7,2021.2 C77.1,2018.4 79.5,2014.8 81.8,2012.9 C84.2,2011 86.6,2010.2 89,2009.8 C91.4,2009.4 93,2010.1 96.2,2010.5 C99.3,2010.9 104.5,2012.3 108.1,2012.2 C111.7,2012 114,2010.8 117.6,2009.8 C121.2,2008.7 125.6,2006.8 129.5,2005.7 C133.5,2004.6 137.9,2003.6 141.5,2003.3 C145,2003.1 148.2,2003.9 151,2004.1 C153.8,2004.2 155.8,2004.6 158.1,2004.1 C160.5,2003.5 162.9,2002.5 165.3,2001 C167.7,1999.4 170.1,1996.9 172.5,1994.5 C174.8,1992.1 177.2,1989.7 179.6,1986.6 C182,1983.5 184.8,1979.7 186.8,1975.9 C188.8,1972.1 190.1,1968.4 191.5,1964 C192.9,1959.6 193.9,1954.5 195.1,1949.7 C196.3,1944.9 197.5,1939.8 198.7,1935.4 C199.9,1931 201.1,1926.3 202.3,1923.5 C203.5,1920.6 204.4,1919.4 205.8,1918.2 C207.2,1917 208.2,1916.5 210.6,1916.3 C213,1916.1 217.8,1916.9 220.1,1916.8 C222.5,1916.7 222.5,1916 224.9,1915.8 C227.3,1915.7 232.1,1915.5 234.5,1915.8 C236.8,1916.1 237.6,1916.4 239.2,1917.5 C240.8,1918.6 242.4,1920.3 244,1922.3 C245.6,1924.3 247.2,1926.8 248.8,1929.4 C250.3,1932 251.9,1935.6 253.5,1937.8 C255.1,1940 256.7,1941.1 258.3,1942.5 C259.9,1943.9 260.7,1945.1 263.1,1946.1 C265.5,1947.1 269.8,1947.5 272.6,1948.5 C275.4,1949.5 277.4,1950.5 279.8,1952.1 C282.1,1953.7 284.5,1955.6 286.9,1958 C289.3,1960.4 291.7,1963.6 294.1,1966.4 C296.5,1969.2 298.8,1972.1 301.2,1974.7 C303.6,1977.3 306,1979.7 308.4,1981.9 C310.8,1984.1 313.5,1985.7 315.5,1987.8 C317.5,1990 318.7,1992.4 320.3,1995 C321.9,1997.6 323.1,2001 325.1,2003.3 C327.1,2005.7 330.2,2007.1 332.2,2009.3 C334.2,2011.5 335.4,2013.3 337,2016.5 C338.6,2019.6 340.2,2024.4 341.8,2028.4 C343.3,2032.3 344.9,2036.9 346.5,2040.3 C348.1,2043.7 349.3,2046.3 351.3,2048.6 C353.3,2051 356.1,2052.2 358.4,2054.6 C360.8,2057 363.6,2061 365.6,2063 C367.6,2064.9 368.6,2065.7 370.4,2066.1 C372.1,2066.4 373.5,2066 376,2065.3 C378.5,2064.7 382.2,2063.5 385.5,2062.2 C388.9,2060.9 393.5,2057.5 396.3,2057.5 C399.1,2057.4 400,2059.9 402.2,2061.8 C404.4,2063.7 407.4,2067.3 409.4,2068.9 C411.4,2070.5 412.6,2071 414.2,2071.3 C415.7,2071.6 416.9,2072 418.9,2070.8 C420.9,2069.6 423.7,2066.4 426.1,2064.1 C428.5,2061.9 430.8,2059.5 433.2,2057.5 C435.6,2055.5 438,2053.7 440.4,2052.2 C442.8,2050.8 445.2,2049.4 447.5,2048.6 C449.9,2047.9 452.3,2047.7 454.7,2047.9 C457.1,2048.1 459.5,2049.7 461.8,2049.8 C464.2,2050 466.6,2049.4 469,2048.9 C471.4,2048.3 473.4,2047.1 476.1,2046.5 C478.9,2045.9 483.3,2046.1 485.7,2045.1 C488.1,2044 488.9,2042.3 490.5,2040.3 C492,2038.3 493.6,2035.2 495.2,2033.1 C496.8,2031.1 498,2029.9 500,2027.9 C502,2025.9 505,2023.5 507.1,2021.2 C509.3,2018.9 511.3,2015.9 513.1,2014.1 C514.9,2012.3 516.5,2010.9 517.9,2010.5 C519.3,2010.1 520.1,2010.7 521.5,2011.7 C522.8,2012.7 524.2,2014.5 526.2,2016.5 C528.2,2018.4 531,2021.8 533.4,2023.6 C535.8,2025.4 538.5,2026.7 540.5,2027.2 C542.5,2027.7 543.3,2027.3 545.3,2026.7 C547.3,2026.1 550.1,2024.8 552.5,2023.6 C554.8,2022.4 557.2,2020.6 559.6,2019.3 C562,2018 564.4,2016.8 566.8,2016 C569.1,2015.2 571.5,2014.9 573.9,2014.5 C576.3,2014.2 578.7,2014 581.1,2014.1 C583.5,2014.1 585.8,2014.8 588.2,2014.8 C590.6,2014.8 593,2014.5 595.4,2014.1 C597.8,2013.6 600.1,2013 602.5,2012.2 C604.9,2011.4 607.3,2010.5 609.7,2009.3 C612.1,2008.1 614.5,2006.6 616.8,2005 C619.2,2003.4 621.6,2001.6 624,1999.8 C626.4,1997.9 628.8,1995.8 631.1,1993.8 C633.5,1991.8 635.9,1989.7 638.3,1987.8 C640.7,1986 643.1,1983.7 645.4,1982.6 C647.8,1981.5 650.2,1981.1 652.6,1981.2 C655,1981.2 657.4,1982 659.8,1983.1 C662.1,1984.2 664.5,1986.2 666.9,1987.8 C669.3,1989.4 671.7,1991.2 674.1,1992.6 C676.4,1994 678.8,1994.8 681.2,1996.2 C683.6,1997.6 686.6,1999.8 688.4,2001 C690.2,2002.1 690.7,2003.1 691.9,2003.3 C693.2,2003.6 695.2,2002.7 696,2002.6 C696.8,2002.5 696.8,2002.6 696.9,2002.6 L698.9,2143.6 L56.9,2143.6Z" fill="#fff"/>
<path d="M198.7,1935.4 C199.3,1933.4 201.1,1926.3 202.3,1923.5 C203.5,1920.6 204.4,1919.4 205.8,1918.2 C207.2,1917 208.2,1916.5 210.6,1916.3 C213,1916.1 217.8,1916.9 220.1,1916.8 C222.5,1916.7 222.5,1916 224.9,1915.8 C227.3,1915.7 232.1,1915.5 234.5,1915.8 C236.8,1916.1 239.2,1915.8 239.2,1917.5 C239.2,1919.2 236.8,1923.5 234.5,1925.8 C232.1,1928.2 228.1,1930.5 224.9,1931.8 C221.7,1933.1 218.6,1933.2 215.4,1933.5 C212.2,1933.8 207.4,1933.5 205.8,1933.5Z" fill="#fdc36c"/>
<path d="M497.6,2028.9 C499.2,2027.6 504.6,2023.7 507.1,2021.2 C509.7,2018.8 511.3,2015.9 513.1,2014.1 C514.9,2012.3 516.5,2010.9 517.9,2010.5 C519.3,2010.1 520.1,2010.7 521.5,2011.7 C522.8,2012.7 524.2,2014.5 526.2,2016.5 C528.2,2018.4 531.4,2021.8 533.4,2023.6 C535.4,2025.4 539.7,2026.5 538.1,2027.2 C536.6,2027.8 528.6,2027.3 523.8,2027.4 C519.1,2027.5 511.9,2027.6 509.5,2027.7Z" fill="#fdc36c"/>
<g id="slH" clip-path="url(#flH)">
<g fill="none" stroke="#fff" stroke-opacity="0.62" stroke-width="0.85">
<path d="M58.9,1850.8 70.9,1850.7 82.9,1850.5 94.9,1850.7 106.9,1851.2 118.9,1851.9 130.9,1852.5 142.9,1853.0 154.9,1853.4 166.9,1853.5 178.9,1853.5 190.9,1853.1 202.9,1852.6 214.9,1851.8 226.9,1851.2 238.9,1850.5 250.9,1850.0 262.9,1849.5 274.9,1849.2 286.9,1848.9 298.9,1848.7 310.9,1848.5 322.9,1848.4 334.9,1848.3 346.9,1848.3 358.9,1848.3 370.9,1848.3 382.9,1848.3 394.9,1848.3 406.9,1848.3 418.9,1848.3 430.9,1848.3 442.9,1848.3 454.9,1848.3 466.9,1848.3 478.9,1848.3 490.9,1848.3 502.9,1848.3 514.9,1848.3 526.9,1848.3 538.9,1848.3 550.9,1848.3 562.9,1848.3 574.9,1848.3 586.9,1848.3 598.9,1848.3 610.9,1848.3 622.9,1848.3 634.9,1848.3 646.9,1848.3 658.9,1848.3 670.9,1848.3 682.9,1848.3 695.5,1848.3"/>
<path d="M58.9,1862.9 70.9,1862.6 82.9,1862.2 94.9,1862.6 106.9,1863.9 118.9,1865.7 130.9,1867.2 142.9,1868.5 154.9,1869.4 166.9,1869.8 178.9,1869.5 190.9,1868.5 202.9,1866.9 214.9,1864.8 226.9,1862.9 238.9,1861.1 250.9,1859.6 262.9,1858.4 274.9,1857.4 286.9,1856.6 298.9,1856.0 310.9,1855.5 322.9,1855.2 334.9,1855.0 346.9,1854.8 358.9,1854.7 370.9,1854.7 382.9,1854.7 394.9,1854.7 406.9,1854.7 418.9,1854.7 430.9,1854.7 442.9,1854.7 454.9,1854.7 466.9,1854.7 478.9,1854.7 490.9,1854.7 502.9,1854.7 514.9,1854.7 526.9,1854.7 538.9,1854.7 550.9,1854.7 562.9,1854.7 574.9,1854.7 586.9,1854.7 598.9,1854.7 610.9,1854.7 622.9,1854.7 634.9,1854.7 646.9,1854.7 658.9,1854.7 670.9,1854.7 682.9,1854.7 695.5,1854.7"/>
<path d="M58.9,1875.1 70.9,1874.5 82.9,1873.9 94.9,1874.5 106.9,1876.6 118.9,1879.4 130.9,1881.9 142.9,1884.1 154.9,1885.5 166.9,1886.1 178.9,1885.5 190.9,1883.8 202.9,1881.1 214.9,1877.8 226.9,1874.6 238.9,1871.7 250.9,1869.2 262.9,1867.2 274.9,1865.5 286.9,1864.3 298.9,1863.3 310.9,1862.5 322.9,1862.0 334.9,1861.6 346.9,1861.3 358.9,1861.2 370.9,1861.2 382.9,1861.2 394.9,1861.2 406.9,1861.2 418.9,1861.2 430.9,1861.2 442.9,1861.2 454.9,1861.2 466.9,1861.2 478.9,1861.2 490.9,1861.2 502.9,1861.2 514.9,1861.2 526.9,1861.2 538.9,1861.2 550.9,1861.2 562.9,1861.2 574.9,1861.2 586.9,1861.2 598.9,1861.2 610.9,1861.2 622.9,1861.2 634.9,1861.2 646.9,1861.2 658.9,1861.2 670.9,1861.2 682.9,1861.2 695.5,1861.2"/>
<path d="M58.9,1887.2 70.9,1886.4 82.9,1885.6 94.9,1886.4 106.9,1889.2 118.9,1893.2 130.9,1896.6 142.9,1899.6 154.9,1901.6 166.9,1902.3 178.9,1901.5 190.9,1899.2 202.9,1895.4 214.9,1890.8 226.9,1886.4 238.9,1882.3 250.9,1878.8 262.9,1876.0 274.9,1873.7 286.9,1871.9 298.9,1870.6 310.9,1869.5 322.9,1868.8 334.9,1868.2 346.9,1867.9 358.9,1867.7 370.9,1867.7 382.9,1867.7 394.9,1867.7 406.9,1867.7 418.9,1867.7 430.9,1867.7 442.9,1867.7 454.9,1867.7 466.9,1867.7 478.9,1867.7 490.9,1867.7 502.9,1867.7 514.9,1867.7 526.9,1867.7 538.9,1867.7 550.9,1867.7 562.9,1867.7 574.9,1867.7 586.9,1867.7 598.9,1867.7 610.9,1867.7 622.9,1867.7 634.9,1867.7 646.9,1867.7 658.9,1867.7 670.9,1867.7 682.9,1867.7 695.5,1867.7"/>
<path d="M58.9,1899.3 70.9,1898.3 82.9,1897.2 94.9,1898.4 106.9,1901.9 118.9,1907.0 130.9,1911.3 142.9,1915.1 154.9,1917.7 166.9,1918.6 178.9,1917.5 190.9,1914.5 202.9,1909.7 214.9,1903.8 226.9,1898.1 238.9,1892.8 250.9,1888.4 262.9,1884.8 274.9,1881.9 286.9,1879.6 298.9,1877.8 310.9,1876.5 322.9,1875.5 334.9,1874.9 346.9,1874.4 358.9,1874.2 370.9,1874.2 382.9,1874.2 394.9,1874.2 406.9,1874.2 418.9,1874.2 430.9,1874.2 442.9,1874.2 454.9,1874.2 466.9,1874.2 478.9,1874.2 490.9,1874.2 502.9,1874.2 514.9,1874.2 526.9,1874.2 538.9,1874.2 550.9,1874.2 562.9,1874.2 574.9,1874.2 586.9,1874.2 598.9,1874.2 610.9,1874.2 622.9,1874.2 634.9,1874.2 646.9,1874.2 658.9,1874.2 670.9,1874.2 682.9,1874.2 695.5,1874.2"/>
<path d="M58.9,1920.6 70.9,1920.0 82.9,1919.5 94.9,1918.3 106.9,1917.2 118.9,1916.4 130.9,1915.2 142.9,1913.0"/>
<path d="M58.9,1934.5 70.9,1933.7 82.9,1933.1 94.9,1931.7 106.9,1930.4 118.9,1929.4 130.9,1928.0 142.9,1925.4 154.9,1920.2 166.9,1912.7 178.9,1903.6 190.9,1894.9"/>
<path d="M58.9,1948.3 70.9,1947.4 82.9,1946.7 94.9,1945.1 106.9,1943.6 118.9,1942.5 130.9,1940.8 142.9,1937.8 154.9,1931.9"/>
<path d="M58.9,1962.1 70.9,1961.1 82.9,1960.3 94.9,1958.5 106.9,1956.8 118.9,1955.5 130.9,1953.6 142.9,1950.2 154.9,1943.5 166.9,1933.7 178.9,1921.8 190.9,1910.3 202.9,1900.7"/>
<path d="M58.9,1975.9 70.9,1974.8 82.9,1973.9 94.9,1971.9 106.9,1970.0 118.9,1968.6 130.9,1966.5 142.9,1962.6 154.9,1955.1 166.9,1944.1"/>
<path d="M58.9,1989.7 70.9,1988.5 82.9,1987.5 94.9,1985.3 106.9,1983.2 118.9,1981.6 130.9,1979.3 142.9,1975.0"/>
<path d="M58.9,2003.5 70.9,2002.2 82.9,2001.1 94.9,1998.6 106.9,1996.3 118.9,1994.6 130.9,1992.1 142.9,1987.5 154.9,1978.3 166.9,1965.1 178.9,1949.0 190.9,1933.5"/>
<ellipse cx="529.0" cy="1941.0" rx="44.0" ry="13.5" transform="rotate(8 529.0 1941.0)" stroke-dasharray="202 44" stroke-dashoffset="30"/>
<ellipse cx="520.0" cy="1945.0" rx="66.0" ry="22.0" transform="rotate(8 520.0 1945.0)" stroke-dasharray="303 66" stroke-dashoffset="92"/>
<ellipse cx="511.0" cy="1949.0" rx="88.0" ry="30.5" transform="rotate(8 511.0 1949.0)" stroke-dasharray="404 88" stroke-dashoffset="184"/>
<ellipse cx="502.0" cy="1953.0" rx="110.0" ry="39.0" transform="rotate(8 502.0 1953.0)" stroke-dasharray="505 110" stroke-dashoffset="308"/>
<ellipse cx="493.0" cy="1957.0" rx="132.0" ry="47.5" transform="rotate(8 493.0 1957.0)" stroke-dasharray="607 132" stroke-dashoffset="461"/>
<ellipse cx="484.0" cy="1961.0" rx="154.0" ry="56.0" transform="rotate(8 484.0 1961.0)" stroke-dasharray="708 154" stroke-dashoffset="646"/>
<ellipse cx="475.0" cy="1965.0" rx="176.0" ry="64.5" transform="rotate(8 475.0 1965.0)" stroke-dasharray="809 176" stroke-dashoffset="862"/>
<ellipse cx="466.0" cy="1969.0" rx="198.0" ry="73.0" transform="rotate(8 466.0 1969.0)" stroke-dasharray="910 198" stroke-dashoffset="1108"/>
<ellipse cx="457.0" cy="1973.0" rx="220.0" ry="81.5" transform="rotate(8 457.0 1973.0)" stroke-dasharray="1011 220" stroke-dashoffset="1386"/>
<ellipse cx="448.0" cy="1977.0" rx="242.0" ry="90.0" transform="rotate(8 448.0 1977.0)" stroke-dasharray="1113 242" stroke-dashoffset="1693"/>
</g>
<path d="M95.5,1850.7 L90.2,1852.7 L90.3,1848.6 Z" fill="#fff"/>
<path d="M321.7,1855.2 L316.5,1857.5 L316.4,1853.3 Z" fill="#fff"/>
<path d="M547.9,1861.2 L542.7,1863.3 L542.7,1859.1 Z" fill="#fff"/>
<path d="M222.2,1888.1 L218.0,1891.9 L216.6,1888.0 Z" fill="#fff"/>
<path d="M448.6,1874.2 L443.4,1876.3 L443.4,1872.1 Z" fill="#fff"/>
<path d="M98.0,1918.0 L93.0,1920.6 L92.6,1916.4 Z" fill="#fff"/>
<path d="M118.9,1929.4 L113.9,1931.9 L113.5,1927.8 Z" fill="#fff"/>
<path d="M139.7,1938.6 L135.1,1941.9 L134.1,1937.9 Z" fill="#fff"/>
<path d="M109.7,1956.5 L104.7,1959.1 L104.3,1955.0 Z" fill="#fff"/>
<path d="M130.6,1966.5 L125.8,1969.5 L125.1,1965.4 Z" fill="#fff"/>
<path d="M100.5,1984.3 L95.7,1987.2 L95.0,1983.1 Z" fill="#fff"/>
<path d="M121.4,1994.3 L116.5,1997.1 L116.0,1992.9 Z" fill="#fff"/>
</g>
<path d="M56.9,2033.1 C57.1,2033.1 57,2033.1 58,2033.1 C59,2033.2 61.2,2034.2 62.8,2033.6 C64.4,2033 65.6,2031.6 67.5,2029.6 C69.5,2027.5 72.3,2024 74.7,2021.2 C77.1,2018.4 79.5,2014.8 81.8,2012.9 C84.2,2011 86.6,2010.2 89,2009.8 C91.4,2009.4 93,2010.1 96.2,2010.5 C99.3,2010.9 104.5,2012.3 108.1,2012.2 C111.7,2012 114,2010.8 117.6,2009.8 C121.2,2008.7 125.6,2006.8 129.5,2005.7 C133.5,2004.6 137.9,2003.6 141.5,2003.3 C145,2003.1 148.2,2003.9 151,2004.1 C153.8,2004.2 155.8,2004.6 158.1,2004.1 C160.5,2003.5 162.9,2002.5 165.3,2001 C167.7,1999.4 170.1,1996.9 172.5,1994.5 C174.8,1992.1 177.2,1989.7 179.6,1986.6 C182,1983.5 184.8,1979.7 186.8,1975.9 C188.8,1972.1 190.1,1968.4 191.5,1964 C192.9,1959.6 193.9,1954.5 195.1,1949.7 C196.3,1944.9 197.5,1939.8 198.7,1935.4 C199.9,1931 201.1,1926.3 202.3,1923.5 C203.5,1920.6 204.4,1919.4 205.8,1918.2 C207.2,1917 208.2,1916.5 210.6,1916.3 C213,1916.1 217.8,1916.9 220.1,1916.8 C222.5,1916.7 222.5,1916 224.9,1915.8 C227.3,1915.7 232.1,1915.5 234.5,1915.8 C236.8,1916.1 237.6,1916.4 239.2,1917.5 C240.8,1918.6 242.4,1920.3 244,1922.3 C245.6,1924.3 247.2,1926.8 248.8,1929.4 C250.3,1932 251.9,1935.6 253.5,1937.8 C255.1,1940 256.7,1941.1 258.3,1942.5 C259.9,1943.9 260.7,1945.1 263.1,1946.1 C265.5,1947.1 269.8,1947.5 272.6,1948.5 C275.4,1949.5 277.4,1950.5 279.8,1952.1 C282.1,1953.7 284.5,1955.6 286.9,1958 C289.3,1960.4 291.7,1963.6 294.1,1966.4 C296.5,1969.2 298.8,1972.1 301.2,1974.7 C303.6,1977.3 306,1979.7 308.4,1981.9 C310.8,1984.1 313.5,1985.7 315.5,1987.8 C317.5,1990 318.7,1992.4 320.3,1995 C321.9,1997.6 323.1,2001 325.1,2003.3 C327.1,2005.7 330.2,2007.1 332.2,2009.3 C334.2,2011.5 335.4,2013.3 337,2016.5 C338.6,2019.6 340.2,2024.4 341.8,2028.4 C343.3,2032.3 344.9,2036.9 346.5,2040.3 C348.1,2043.7 349.3,2046.3 351.3,2048.6 C353.3,2051 356.1,2052.2 358.4,2054.6 C360.8,2057 363.6,2061 365.6,2063 C367.6,2064.9 368.6,2065.7 370.4,2066.1 C372.1,2066.4 373.5,2066 376,2065.3 C378.5,2064.7 382.2,2063.5 385.5,2062.2 C388.9,2060.9 393.5,2057.5 396.3,2057.5 C399.1,2057.4 400,2059.9 402.2,2061.8 C404.4,2063.7 407.4,2067.3 409.4,2068.9 C411.4,2070.5 412.6,2071 414.2,2071.3 C415.7,2071.6 416.9,2072 418.9,2070.8 C420.9,2069.6 423.7,2066.4 426.1,2064.1 C428.5,2061.9 430.8,2059.5 433.2,2057.5 C435.6,2055.5 438,2053.7 440.4,2052.2 C442.8,2050.8 445.2,2049.4 447.5,2048.6 C449.9,2047.9 452.3,2047.7 454.7,2047.9 C457.1,2048.1 459.5,2049.7 461.8,2049.8 C464.2,2050 466.6,2049.4 469,2048.9 C471.4,2048.3 473.4,2047.1 476.1,2046.5 C478.9,2045.9 483.3,2046.1 485.7,2045.1 C488.1,2044 488.9,2042.3 490.5,2040.3 C492,2038.3 493.6,2035.2 495.2,2033.1 C496.8,2031.1 498,2029.9 500,2027.9 C502,2025.9 505,2023.5 507.1,2021.2 C509.3,2018.9 511.3,2015.9 513.1,2014.1 C514.9,2012.3 516.5,2010.9 517.9,2010.5 C519.3,2010.1 520.1,2010.7 521.5,2011.7 C522.8,2012.7 524.2,2014.5 526.2,2016.5 C528.2,2018.4 531,2021.8 533.4,2023.6 C535.8,2025.4 538.5,2026.7 540.5,2027.2 C542.5,2027.7 543.3,2027.3 545.3,2026.7 C547.3,2026.1 550.1,2024.8 552.5,2023.6 C554.8,2022.4 557.2,2020.6 559.6,2019.3 C562,2018 564.4,2016.8 566.8,2016 C569.1,2015.2 571.5,2014.9 573.9,2014.5 C576.3,2014.2 578.7,2014 581.1,2014.1 C583.5,2014.1 585.8,2014.8 588.2,2014.8 C590.6,2014.8 593,2014.5 595.4,2014.1 C597.8,2013.6 600.1,2013 602.5,2012.2 C604.9,2011.4 607.3,2010.5 609.7,2009.3 C612.1,2008.1 614.5,2006.6 616.8,2005 C619.2,2003.4 621.6,2001.6 624,1999.8 C626.4,1997.9 628.8,1995.8 631.1,1993.8 C633.5,1991.8 635.9,1989.7 638.3,1987.8 C640.7,1986 643.1,1983.7 645.4,1982.6 C647.8,1981.5 650.2,1981.1 652.6,1981.2 C655,1981.2 657.4,1982 659.8,1983.1 C662.1,1984.2 664.5,1986.2 666.9,1987.8 C669.3,1989.4 671.7,1991.2 674.1,1992.6 C676.4,1994 678.8,1994.8 681.2,1996.2 C683.6,1997.6 686.6,1999.8 688.4,2001 C690.2,2002.1 690.7,2003.1 691.9,2003.3 C693.2,2003.6 695.2,2002.7 696,2002.6 C696.8,2002.5 696.8,2002.6 696.9,2002.6" fill="none" stroke="#000" stroke-width="1.6"/>
<line x1="101.3" y1="1840.2" x2="101.3" y2="2138.6" stroke="#000" stroke-opacity="0.55" stroke-width="0.8" stroke-dasharray="1.1 1.3"/>
<line x1="143.8" y1="1840.2" x2="143.8" y2="2138.6" stroke="#000" stroke-opacity="0.55" stroke-width="0.8" stroke-dasharray="1.1 1.3"/>
<line x1="186.2" y1="1840.2" x2="186.2" y2="2138.6" stroke="#000" stroke-opacity="0.55" stroke-width="0.8" stroke-dasharray="1.1 1.3"/>
<line x1="228.7" y1="1840.2" x2="228.7" y2="2138.6" stroke="#000" stroke-opacity="0.55" stroke-width="0.8" stroke-dasharray="1.1 1.3"/>
<line x1="271.1" y1="1840.2" x2="271.1" y2="2138.6" stroke="#000" stroke-opacity="0.55" stroke-width="0.8" stroke-dasharray="1.1 1.3"/>
<line x1="313.5" y1="1840.2" x2="313.5" y2="2138.6" stroke="#000" stroke-opacity="0.55" stroke-width="0.8" stroke-dasharray="1.1 1.3"/>
<line x1="356" y1="1840.2" x2="356" y2="2138.6" stroke="#000" stroke-opacity="0.55" stroke-width="0.8" stroke-dasharray="1.1 1.3"/>
<line x1="398.4" y1="1840.2" x2="398.4" y2="2138.6" stroke="#000" stroke-opacity="0.55" stroke-width="0.8" stroke-dasharray="1.1 1.3"/>
<line x1="440.9" y1="1840.2" x2="440.9" y2="2138.6" stroke="#000" stroke-opacity="0.55" stroke-width="0.8" stroke-dasharray="1.1 1.3"/>
<line x1="483.3" y1="1840.2" x2="483.3" y2="2138.6" stroke="#000" stroke-opacity="0.55" stroke-width="0.8" stroke-dasharray="1.1 1.3"/>
<line x1="525.7" y1="1840.2" x2="525.7" y2="2138.6" stroke="#000" stroke-opacity="0.55" stroke-width="0.8" stroke-dasharray="1.1 1.3"/>
<line x1="568.2" y1="1840.2" x2="568.2" y2="2138.6" stroke="#000" stroke-opacity="0.55" stroke-width="0.8" stroke-dasharray="1.1 1.3"/>
<line x1="610.6" y1="1840.2" x2="610.6" y2="2138.6" stroke="#000" stroke-opacity="0.55" stroke-width="0.8" stroke-dasharray="1.1 1.3"/>
<line x1="653.1" y1="1840.2" x2="653.1" y2="2138.6" stroke="#000" stroke-opacity="0.55" stroke-width="0.8" stroke-dasharray="1.1 1.3"/>
<line x1="58.9" y1="2095.8" x2="695.5" y2="2095.8" stroke="#000" stroke-opacity="0.55" stroke-width="0.8" stroke-dasharray="1.1 1.3"/>
<line x1="58.9" y1="2053.5" x2="695.5" y2="2053.5" stroke="#000" stroke-opacity="0.55" stroke-width="0.8" stroke-dasharray="1.1 1.3"/>
<line x1="58.9" y1="2011.1" x2="695.5" y2="2011.1" stroke="#000" stroke-opacity="0.55" stroke-width="0.8" stroke-dasharray="1.1 1.3"/>
<line x1="58.9" y1="1968.8" x2="695.5" y2="1968.8" stroke="#000" stroke-opacity="0.55" stroke-width="0.8" stroke-dasharray="1.1 1.3"/>
<line x1="58.9" y1="1926.4" x2="695.5" y2="1926.4" stroke="#000" stroke-opacity="0.55" stroke-width="0.8" stroke-dasharray="1.1 1.3"/>
<line x1="58.9" y1="1884" x2="695.5" y2="1884" stroke="#000" stroke-opacity="0.55" stroke-width="0.8" stroke-dasharray="1.1 1.3"/>
</g>
<g clip-path="url(#cpH1)">
<rect x="695.8" y="1840.2" width="636.6" height="300.4" fill="#000072"/>
<path d="M773.7,2006.9 C774.5,2005.7 775.7,2001.2 778.5,1999.8 C781.2,1998.4 787.2,1998.2 790.4,1998.6 C793.6,1999 796.3,2000 797.5,2002.1 C798.7,2004.3 801.5,2010.1 797.5,2011.7 C793.6,2013.3 777.7,2011.7 773.7,2011.7Z" fill="#800070"/>
<path d="M878.2,1927.7 C878.4,1926.1 875.8,1921.4 879.3,1918.4 C882.9,1915.4 892.3,1912.6 899.6,1909.8 C907,1907 915.5,1903.8 923.5,1901.5 C931.4,1899.1 939.4,1897.2 947.3,1895.5 C955.3,1893.8 968.1,1892.3 971.1,1891.3 C974.2,1890.3 955.8,1891.4 965.9,1889.4 C976,1887.4 1009.8,1882.3 1031.7,1879.5 C1053.7,1876.8 1075.7,1874.3 1097.6,1872.9 C1119.6,1871.6 1141.5,1871 1163.5,1871.3 C1185.4,1871.6 1207.4,1872.9 1229.4,1874.6 C1251.3,1876.2 1276.5,1879 1295.2,1881.2 C1314,1883.4 1334.2,1856.2 1342,1887.8 C1349.8,1919.3 1420.1,2040.1 1342,2070.6 C1263.9,2101 951.7,2070.6 873.7,2070.6Z" fill="#300070"/>
<path d="M878.7,1927.7 C879.1,1926.2 877.7,1921.4 881.1,1918.9 C884.6,1916.3 892.6,1914.9 899.6,1912.4 C906.7,1910 915.5,1906.3 923.5,1904.1 C931.4,1901.9 939.4,1900.7 947.3,1899.3 C955.3,1897.9 968.1,1895.9 971.1,1895.7 C974.2,1895.6 955.8,1899.5 965.9,1898.6 C976,1897.7 1009.8,1892.5 1031.7,1890.4 C1053.7,1888.3 1075.7,1886.8 1097.6,1886.1 C1119.6,1885.4 1141.5,1885 1163.5,1886.1 C1185.4,1887.2 1207.4,1889.7 1229.4,1892.7 C1251.3,1895.7 1276.5,1900.7 1295.2,1904.2 C1314,1907.8 1334.2,1886.4 1342,1914.1 C1349.8,1941.8 1420.1,2044.5 1342,2070.6 C1263.9,2096.6 951.7,2070.6 873.7,2070.6Z" fill="#800070"/>
<path d="M879.3,1927.7 C879.7,1926.3 879.3,1921.5 881.7,1919.6 C884.1,1917.6 889.7,1917 893.7,1916 C897.6,1915 900.6,1914.8 905.6,1913.6 C910.5,1912.4 916.5,1910.2 923.5,1908.9 C930.4,1907.5 939.4,1906.2 947.3,1905.3 C955.3,1904.4 965.3,1904 971.1,1903.5 C977,1902.9 972.2,1903.2 982.3,1901.9 C992.4,1900.7 1012.5,1897.3 1031.7,1896 C1051,1894.7 1075.7,1894.1 1097.6,1894.3 C1119.6,1894.6 1144.3,1896 1163.5,1897.6 C1182.7,1899.3 1197.5,1901.2 1212.9,1904.2 C1228.3,1907.2 1246.4,1911.1 1255.7,1915.8 C1265,1920.4 1268.9,1926.7 1268.9,1932.2 C1268.9,1937.7 1265,1944 1255.7,1948.7 C1246.4,1953.4 1228.3,1957.5 1212.9,1960.2 C1197.5,1963 1182.7,1964.8 1163.5,1965.2 C1144.3,1965.5 1116.8,1964.3 1097.6,1962.5 C1078.4,1960.8 1062.5,1957.4 1048.2,1954.6 C1033.9,1951.9 1020.2,1946.5 1012,1946.1 C1003.7,1945.6 1000.7,1948.7 998.8,1952 C996.9,1955.3 996.1,1961.3 1000.5,1965.8 C1004.8,1970.3 1014.5,1975.1 1025.2,1979 C1035.9,1982.8 1047.1,1986 1064.7,1988.9 C1082.2,1991.7 1108.6,1994.6 1130.6,1996.1 C1152.5,1997.7 1174.5,1998.1 1196.4,1998.1 C1218.4,1998.1 1243.1,1996.7 1262.3,1996.1 C1281.5,1995.6 1298.4,1994.9 1311.7,1994.8 C1325,1994.7 1336.9,1982.8 1342,1995.5 C1347.1,2008.1 1420.1,2058 1342,2070.6 C1263.9,2083.1 951.7,2070.6 873.7,2070.6Z" fill="#980050"/>
<path d="M879.9,1927.7 C880,1926.5 878.3,1922.3 880.5,1920.8 C882.8,1919.2 889.3,1918.6 893.7,1918.4 C898,1918.2 902.8,1918.8 906.8,1919.6 C910.7,1920.4 914.3,1921.4 917.5,1923.2 C920.7,1924.9 922.9,1927.7 925.8,1930.1 C928.8,1932.4 932.2,1934.4 935.4,1937.2 C938.6,1940 941.7,1943.8 944.9,1946.8 C948.1,1949.7 951.3,1952.1 954.5,1955.1 C957.6,1958.1 961,1961.5 964,1964.6 C967,1967.8 969.6,1970.4 972.3,1974.2 C975.1,1978 980.1,1984.9 980.7,1987.3 C981.3,1989.7 973.8,1986.5 975.8,1988.9 C977.7,1991.2 985.6,1998.1 992.2,2001.4 C998.8,2004.7 1003.2,2006.3 1015.3,2008.6 C1027.4,2010.9 1048.2,2014.1 1064.7,2015.2 C1081.1,2016.3 1100.4,2015.8 1114.1,2015.2 C1127.8,2014.7 1136,2013.6 1147,2011.9 C1158,2010.3 1166.2,2007.5 1180,2005.3 C1193.7,2003.1 1215.6,2001.5 1229.4,1998.8 C1243.1,1996 1251.3,1992 1262.3,1988.9 C1273.3,1985.7 1281.9,1980.1 1295.2,1980 C1308.5,1979.9 1334.2,1973.1 1342,1988.2 C1349.8,2003.3 1420.1,2056.8 1342,2070.6 C1263.9,2084.3 951.7,2070.6 873.7,2070.6Z" fill="#cc0030"/>
<path d="M880.5,1927.7 C880.6,1926.7 879.5,1922.7 881.1,1922 C882.7,1921.2 887,1922.4 890.1,1923.2 C893.2,1924 896.4,1925.5 899.6,1926.7 C902.8,1927.9 906.2,1929.1 909.2,1930.3 C912.1,1931.5 914.7,1932.3 917.5,1933.9 C920.3,1935.5 922.9,1937.7 925.8,1939.9 C928.8,1942 932.2,1944.4 935.4,1947 C938.6,1949.6 941.9,1952.6 944.9,1955.4 C947.9,1958.1 950.5,1960.9 953.3,1963.7 C956,1966.5 959,1969.3 961.6,1972 C964.2,1974.8 966.4,1975.7 968.8,1980.4 C971.1,1985 972.6,1994.2 975.9,1999.9 C979.3,2005.6 983.5,2011 988.9,2014.6 C994.4,2018.1 1001.6,2019.4 1008.7,2021.1 C1015.8,2022.9 1022.4,2024 1031.7,2025.1 C1041.1,2026.2 1053.7,2027.8 1064.7,2027.7 C1075.7,2027.6 1086.6,2025.8 1097.6,2024.4 C1108.6,2023.1 1119.6,2021.6 1130.6,2019.5 C1141.5,2017.4 1152.5,2013.7 1163.5,2011.9 C1174.5,2010.1 1185.4,2010.3 1196.4,2008.6 C1207.4,2007 1218.4,2004.8 1229.4,2002 C1240.3,1999.3 1251.3,1994.9 1262.3,1992.2 C1273.3,1989.4 1284.3,1985.1 1295.2,1985.6 C1306.2,1986 1320.4,1992.7 1328.2,1994.8 C1336,1996.9 1339.7,1985.5 1342,1998.1 C1344.3,2010.7 1420.1,2058.5 1342,2070.6 C1263.9,2082.6 951.7,2070.6 873.7,2070.6Z" fill="#ff0000"/>
<path d="M881.1,1927.7 C881.2,1926.9 880.6,1923.5 881.7,1923.2 C882.8,1922.8 885.5,1924.6 887.7,1925.5 C889.9,1926.4 892.3,1927.5 894.8,1928.5 C897.4,1929.5 900.4,1930.4 903.2,1931.5 C906,1932.6 909,1933.7 911.5,1935.1 C914.1,1936.5 916.3,1937.9 918.7,1939.9 C921.1,1941.8 923.3,1944.6 925.8,1947 C928.4,1949.4 931.4,1951.6 934.2,1954.2 C937,1956.7 939.8,1959.9 942.5,1962.5 C945.3,1965.1 948.3,1967.5 950.9,1969.7 C953.5,1971.8 955.4,1973 958,1975.6 C960.6,1978.2 964,1981.1 966.4,1985.2 C968.8,1989.2 969.7,1993.4 972.3,1999.9 C975,2006.5 977.9,2018.7 982.3,2024.4 C986.8,2030.2 993.3,2032 998.8,2034.3 C1004.3,2036.6 1007,2037.1 1015.3,2038.3 C1023.5,2039.5 1037.2,2041.8 1048.2,2041.6 C1059.2,2041.3 1070.2,2038.5 1081.1,2036.6 C1092.1,2034.7 1104.8,2032.2 1114.1,2030 C1123.4,2027.8 1128.9,2025.4 1137.1,2023.5 C1145.4,2021.5 1153.6,2020 1163.5,2018.5 C1173.4,2017 1185.4,2016.2 1196.4,2014.6 C1207.4,2012.9 1218.4,2011.4 1229.4,2008.6 C1240.3,2005.9 1251.3,2001.1 1262.3,1998.1 C1273.3,1995.1 1284.3,1990.5 1295.2,1990.5 C1306.2,1990.5 1320.4,1996.3 1328.2,1998.1 C1336,1999.9 1339.7,1989.3 1342,2001.4 C1344.3,2013.5 1420.1,2059 1342,2070.6 C1263.9,2082.1 951.7,2070.6 873.7,2070.6Z" fill="#ff8000"/>
<path d="M881.1,1927.7 C881.3,1927.1 881.1,1924.4 882,1924.4 C882.9,1924.3 884.7,1926.1 886.5,1927.3 C888.2,1928.5 890.3,1930.2 892.5,1931.5 C894.6,1932.8 897.2,1934.1 899.6,1935.1 C902,1936.1 904.4,1936.5 906.8,1937.5 C909.2,1938.5 911.5,1939.5 913.9,1941 C916.3,1942.6 918.7,1944.8 921.1,1947 C923.5,1949.2 925.8,1951.8 928.2,1954.2 C930.6,1956.5 933,1958.9 935.4,1961.3 C937.8,1963.7 940.1,1966.1 942.5,1968.5 C944.9,1970.8 947.5,1973.6 949.7,1975.6 C951.9,1977.6 953.7,1978.4 955.6,1980.4 C957.6,1982.4 958.3,1981.3 961.6,1987.5 C965,1993.8 971.7,2010.6 975.8,2017.9 C979.8,2025.1 980.1,2026.6 985.6,2031 C991.1,2035.4 999.4,2041.3 1008.7,2044.2 C1018,2047.1 1030.6,2048.3 1041.6,2048.2 C1052.6,2048 1064.1,2045.1 1074.6,2043.2 C1085,2041.3 1094.9,2039.1 1104.2,2036.6 C1113.5,2034.2 1124,2030.4 1130.6,2028.4 C1137.1,2026.4 1140.4,2017.4 1143.7,2024.4 C1147,2031.5 1195.3,2062.9 1150.3,2070.6 C1105.3,2078.2 919.8,2070.6 873.7,2070.6Z" fill="#ffff00"/>
<path d="M693.8,2033.1 C694,2033.1 693.9,2033.1 694.9,2033.1 C695.9,2033.2 698.1,2034.2 699.7,2033.6 C701.3,2033 702.5,2031.6 704.4,2029.6 C706.4,2027.5 709.2,2024 711.6,2021.2 C714,2018.4 716.4,2014.8 718.7,2012.9 C721.1,2011 723.5,2010.2 725.9,2009.8 C728.3,2009.4 729.9,2010.1 733.1,2010.5 C736.2,2010.9 741.4,2012.3 745,2012.2 C748.6,2012 750.9,2010.8 754.5,2009.8 C758.1,2008.7 762.5,2006.8 766.4,2005.7 C770.4,2004.6 774.8,2003.6 778.4,2003.3 C781.9,2003.1 785.1,2003.9 787.9,2004.1 C790.7,2004.2 792.7,2004.6 795,2004.1 C797.4,2003.5 799.8,2002.5 802.2,2001 C804.6,1999.4 807,1996.9 809.4,1994.5 C811.7,1992.1 814.1,1989.7 816.5,1986.6 C818.9,1983.5 821.7,1979.7 823.7,1975.9 C825.7,1972.1 827,1968.4 828.4,1964 C829.8,1959.6 830.8,1954.5 832,1949.7 C833.2,1944.9 834.4,1939.8 835.6,1935.4 C836.8,1931 838,1926.3 839.2,1923.5 C840.4,1920.6 841.3,1919.4 842.7,1918.2 C844.1,1917 845.1,1916.5 847.5,1916.3 C849.9,1916.1 854.7,1916.9 857,1916.8 C859.4,1916.7 859.4,1916 861.8,1915.8 C864.2,1915.7 869,1915.5 871.4,1915.8 C873.7,1916.1 874.5,1916.4 876.1,1917.5 C877.7,1918.6 879.3,1920.3 880.9,1922.3 C882.5,1924.3 884.1,1926.8 885.7,1929.4 C887.2,1932 888.8,1935.6 890.4,1937.8 C892,1940 893.6,1941.1 895.2,1942.5 C896.8,1943.9 897.6,1945.1 900,1946.1 C902.4,1947.1 906.7,1947.5 909.5,1948.5 C912.3,1949.5 914.3,1950.5 916.7,1952.1 C919,1953.7 921.4,1955.6 923.8,1958 C926.2,1960.4 928.6,1963.6 931,1966.4 C933.4,1969.2 935.7,1972.1 938.1,1974.7 C940.5,1977.3 942.9,1979.7 945.3,1981.9 C947.7,1984.1 950.4,1985.7 952.4,1987.8 C954.4,1990 955.6,1992.4 957.2,1995 C958.8,1997.6 960,2001 962,2003.3 C964,2005.7 967.1,2007.1 969.1,2009.3 C971.1,2011.5 972.3,2013.3 973.9,2016.5 C975.5,2019.6 977.1,2024.4 978.7,2028.4 C980.2,2032.3 981.8,2036.9 983.4,2040.3 C985,2043.7 986.2,2046.3 988.2,2048.6 C990.2,2051 993,2052.2 995.3,2054.6 C997.7,2057 1000.5,2061 1002.5,2063 C1004.5,2064.9 1005.5,2065.7 1007.3,2066.1 C1009,2066.4 1010.4,2066 1012.9,2065.3 C1015.4,2064.7 1019.1,2063.5 1022.4,2062.2 C1025.8,2060.9 1030.4,2057.5 1033.2,2057.5 C1036,2057.4 1036.9,2059.9 1039.1,2061.8 C1041.3,2063.7 1044.3,2067.3 1046.3,2068.9 C1048.3,2070.5 1049.5,2071 1051.1,2071.3 C1052.6,2071.6 1053.8,2072 1055.8,2070.8 C1057.8,2069.6 1060.6,2066.4 1063,2064.1 C1065.4,2061.9 1067.7,2059.5 1070.1,2057.5 C1072.5,2055.5 1074.9,2053.7 1077.3,2052.2 C1079.7,2050.8 1082.1,2049.4 1084.4,2048.6 C1086.8,2047.9 1089.2,2047.7 1091.6,2047.9 C1094,2048.1 1096.4,2049.7 1098.7,2049.8 C1101.1,2050 1103.5,2049.4 1105.9,2048.9 C1108.3,2048.3 1110.3,2047.1 1113,2046.5 C1115.8,2045.9 1120.2,2046.1 1122.6,2045.1 C1125,2044 1125.8,2042.3 1127.4,2040.3 C1128.9,2038.3 1130.5,2035.2 1132.1,2033.1 C1133.7,2031.1 1134.9,2029.9 1136.9,2027.9 C1138.9,2025.9 1141.9,2023.5 1144,2021.2 C1146.2,2018.9 1148.2,2015.9 1150,2014.1 C1151.8,2012.3 1153.4,2010.9 1154.8,2010.5 C1156.2,2010.1 1157,2010.7 1158.4,2011.7 C1159.7,2012.7 1161.1,2014.5 1163.1,2016.5 C1165.1,2018.4 1167.9,2021.8 1170.3,2023.6 C1172.7,2025.4 1175.4,2026.7 1177.4,2027.2 C1179.4,2027.7 1180.2,2027.3 1182.2,2026.7 C1184.2,2026.1 1187,2024.8 1189.4,2023.6 C1191.7,2022.4 1194.1,2020.6 1196.5,2019.3 C1198.9,2018 1201.3,2016.8 1203.7,2016 C1206,2015.2 1208.4,2014.9 1210.8,2014.5 C1213.2,2014.2 1215.6,2014 1218,2014.1 C1220.4,2014.1 1222.7,2014.8 1225.1,2014.8 C1227.5,2014.8 1229.9,2014.5 1232.3,2014.1 C1234.7,2013.6 1237,2013 1239.4,2012.2 C1241.8,2011.4 1244.2,2010.5 1246.6,2009.3 C1249,2008.1 1251.4,2006.6 1253.7,2005 C1256.1,2003.4 1258.5,2001.6 1260.9,1999.8 C1263.3,1997.9 1265.7,1995.8 1268,1993.8 C1270.4,1991.8 1272.8,1989.7 1275.2,1987.8 C1277.6,1986 1280,1983.7 1282.3,1982.6 C1284.7,1981.5 1287.1,1981.1 1289.5,1981.2 C1291.9,1981.2 1294.3,1982 1296.7,1983.1 C1299,1984.2 1301.4,1986.2 1303.8,1987.8 C1306.2,1989.4 1308.6,1991.2 1311,1992.6 C1313.3,1994 1315.7,1994.8 1318.1,1996.2 C1320.5,1997.6 1323.5,1999.8 1325.3,2001 C1327.1,2002.1 1327.6,2003.1 1328.8,2003.3 C1330.1,2003.6 1332.1,2002.7 1332.9,2002.6 C1333.7,2002.5 1333.7,2002.6 1333.8,2002.6 L1335.8,2143.6 L693.8,2143.6Z" fill="#fff"/>
<path d="M835.6,1935.4 C836.2,1933.4 838,1926.3 839.2,1923.5 C840.4,1920.6 841.3,1919.4 842.7,1918.2 C844.1,1917 845.1,1916.5 847.5,1916.3 C849.9,1916.1 854.7,1916.9 857,1916.8 C859.4,1916.7 859.4,1916 861.8,1915.8 C864.2,1915.7 869,1915.5 871.4,1915.8 C873.7,1916.1 876.1,1915.8 876.1,1917.5 C876.1,1919.2 873.7,1923.5 871.4,1925.8 C869,1928.2 865,1930.5 861.8,1931.8 C858.6,1933.1 855.5,1933.2 852.3,1933.5 C849.1,1933.8 844.3,1933.5 842.7,1933.5Z" fill="#fdc36c"/>
<path d="M1134.5,2028.9 C1136.1,2027.6 1141.5,2023.7 1144,2021.2 C1146.6,2018.8 1148.2,2015.9 1150,2014.1 C1151.8,2012.3 1153.4,2010.9 1154.8,2010.5 C1156.2,2010.1 1157,2010.7 1158.4,2011.7 C1159.7,2012.7 1161.1,2014.5 1163.1,2016.5 C1165.1,2018.4 1168.3,2021.8 1170.3,2023.6 C1172.3,2025.4 1176.6,2026.5 1175,2027.2 C1173.5,2027.8 1165.5,2027.3 1160.7,2027.4 C1156,2027.5 1148.8,2027.6 1146.4,2027.7Z" fill="#fdc36c"/>
<use href="#slH" transform="translate(636.9,0)"/>
<path d="M693.8,2033.1 C694,2033.1 693.9,2033.1 694.9,2033.1 C695.9,2033.2 698.1,2034.2 699.7,2033.6 C701.3,2033 702.5,2031.6 704.4,2029.6 C706.4,2027.5 709.2,2024 711.6,2021.2 C714,2018.4 716.4,2014.8 718.7,2012.9 C721.1,2011 723.5,2010.2 725.9,2009.8 C728.3,2009.4 729.9,2010.1 733.1,2010.5 C736.2,2010.9 741.4,2012.3 745,2012.2 C748.6,2012 750.9,2010.8 754.5,2009.8 C758.1,2008.7 762.5,2006.8 766.4,2005.7 C770.4,2004.6 774.8,2003.6 778.4,2003.3 C781.9,2003.1 785.1,2003.9 787.9,2004.1 C790.7,2004.2 792.7,2004.6 795,2004.1 C797.4,2003.5 799.8,2002.5 802.2,2001 C804.6,1999.4 807,1996.9 809.4,1994.5 C811.7,1992.1 814.1,1989.7 816.5,1986.6 C818.9,1983.5 821.7,1979.7 823.7,1975.9 C825.7,1972.1 827,1968.4 828.4,1964 C829.8,1959.6 830.8,1954.5 832,1949.7 C833.2,1944.9 834.4,1939.8 835.6,1935.4 C836.8,1931 838,1926.3 839.2,1923.5 C840.4,1920.6 841.3,1919.4 842.7,1918.2 C844.1,1917 845.1,1916.5 847.5,1916.3 C849.9,1916.1 854.7,1916.9 857,1916.8 C859.4,1916.7 859.4,1916 861.8,1915.8 C864.2,1915.7 869,1915.5 871.4,1915.8 C873.7,1916.1 874.5,1916.4 876.1,1917.5 C877.7,1918.6 879.3,1920.3 880.9,1922.3 C882.5,1924.3 884.1,1926.8 885.7,1929.4 C887.2,1932 888.8,1935.6 890.4,1937.8 C892,1940 893.6,1941.1 895.2,1942.5 C896.8,1943.9 897.6,1945.1 900,1946.1 C902.4,1947.1 906.7,1947.5 909.5,1948.5 C912.3,1949.5 914.3,1950.5 916.7,1952.1 C919,1953.7 921.4,1955.6 923.8,1958 C926.2,1960.4 928.6,1963.6 931,1966.4 C933.4,1969.2 935.7,1972.1 938.1,1974.7 C940.5,1977.3 942.9,1979.7 945.3,1981.9 C947.7,1984.1 950.4,1985.7 952.4,1987.8 C954.4,1990 955.6,1992.4 957.2,1995 C958.8,1997.6 960,2001 962,2003.3 C964,2005.7 967.1,2007.1 969.1,2009.3 C971.1,2011.5 972.3,2013.3 973.9,2016.5 C975.5,2019.6 977.1,2024.4 978.7,2028.4 C980.2,2032.3 981.8,2036.9 983.4,2040.3 C985,2043.7 986.2,2046.3 988.2,2048.6 C990.2,2051 993,2052.2 995.3,2054.6 C997.7,2057 1000.5,2061 1002.5,2063 C1004.5,2064.9 1005.5,2065.7 1007.3,2066.1 C1009,2066.4 1010.4,2066 1012.9,2065.3 C1015.4,2064.7 1019.1,2063.5 1022.4,2062.2 C1025.8,2060.9 1030.4,2057.5 1033.2,2057.5 C1036,2057.4 1036.9,2059.9 1039.1,2061.8 C1041.3,2063.7 1044.3,2067.3 1046.3,2068.9 C1048.3,2070.5 1049.5,2071 1051.1,2071.3 C1052.6,2071.6 1053.8,2072 1055.8,2070.8 C1057.8,2069.6 1060.6,2066.4 1063,2064.1 C1065.4,2061.9 1067.7,2059.5 1070.1,2057.5 C1072.5,2055.5 1074.9,2053.7 1077.3,2052.2 C1079.7,2050.8 1082.1,2049.4 1084.4,2048.6 C1086.8,2047.9 1089.2,2047.7 1091.6,2047.9 C1094,2048.1 1096.4,2049.7 1098.7,2049.8 C1101.1,2050 1103.5,2049.4 1105.9,2048.9 C1108.3,2048.3 1110.3,2047.1 1113,2046.5 C1115.8,2045.9 1120.2,2046.1 1122.6,2045.1 C1125,2044 1125.8,2042.3 1127.4,2040.3 C1128.9,2038.3 1130.5,2035.2 1132.1,2033.1 C1133.7,2031.1 1134.9,2029.9 1136.9,2027.9 C1138.9,2025.9 1141.9,2023.5 1144,2021.2 C1146.2,2018.9 1148.2,2015.9 1150,2014.1 C1151.8,2012.3 1153.4,2010.9 1154.8,2010.5 C1156.2,2010.1 1157,2010.7 1158.4,2011.7 C1159.7,2012.7 1161.1,2014.5 1163.1,2016.5 C1165.1,2018.4 1167.9,2021.8 1170.3,2023.6 C1172.7,2025.4 1175.4,2026.7 1177.4,2027.2 C1179.4,2027.7 1180.2,2027.3 1182.2,2026.7 C1184.2,2026.1 1187,2024.8 1189.4,2023.6 C1191.7,2022.4 1194.1,2020.6 1196.5,2019.3 C1198.9,2018 1201.3,2016.8 1203.7,2016 C1206,2015.2 1208.4,2014.9 1210.8,2014.5 C1213.2,2014.2 1215.6,2014 1218,2014.1 C1220.4,2014.1 1222.7,2014.8 1225.1,2014.8 C1227.5,2014.8 1229.9,2014.5 1232.3,2014.1 C1234.7,2013.6 1237,2013 1239.4,2012.2 C1241.8,2011.4 1244.2,2010.5 1246.6,2009.3 C1249,2008.1 1251.4,2006.6 1253.7,2005 C1256.1,2003.4 1258.5,2001.6 1260.9,1999.8 C1263.3,1997.9 1265.7,1995.8 1268,1993.8 C1270.4,1991.8 1272.8,1989.7 1275.2,1987.8 C1277.6,1986 1280,1983.7 1282.3,1982.6 C1284.7,1981.5 1287.1,1981.1 1289.5,1981.2 C1291.9,1981.2 1294.3,1982 1296.7,1983.1 C1299,1984.2 1301.4,1986.2 1303.8,1987.8 C1306.2,1989.4 1308.6,1991.2 1311,1992.6 C1313.3,1994 1315.7,1994.8 1318.1,1996.2 C1320.5,1997.6 1323.5,1999.8 1325.3,2001 C1327.1,2002.1 1327.6,2003.1 1328.8,2003.3 C1330.1,2003.6 1332.1,2002.7 1332.9,2002.6 C1333.7,2002.5 1333.7,2002.6 1333.8,2002.6" fill="none" stroke="#000" stroke-width="1.6"/>
<line x1="738.2" y1="1840.2" x2="738.2" y2="2138.6" stroke="#000" stroke-opacity="0.55" stroke-width="0.8" stroke-dasharray="1.1 1.3"/>
<line x1="780.7" y1="1840.2" x2="780.7" y2="2138.6" stroke="#000" stroke-opacity="0.55" stroke-width="0.8" stroke-dasharray="1.1 1.3"/>
<line x1="823.1" y1="1840.2" x2="823.1" y2="2138.6" stroke="#000" stroke-opacity="0.55" stroke-width="0.8" stroke-dasharray="1.1 1.3"/>
<line x1="865.6" y1="1840.2" x2="865.6" y2="2138.6" stroke="#000" stroke-opacity="0.55" stroke-width="0.8" stroke-dasharray="1.1 1.3"/>
<line x1="908" y1="1840.2" x2="908" y2="2138.6" stroke="#000" stroke-opacity="0.55" stroke-width="0.8" stroke-dasharray="1.1 1.3"/>
<line x1="950.4" y1="1840.2" x2="950.4" y2="2138.6" stroke="#000" stroke-opacity="0.55" stroke-width="0.8" stroke-dasharray="1.1 1.3"/>
<line x1="992.9" y1="1840.2" x2="992.9" y2="2138.6" stroke="#000" stroke-opacity="0.55" stroke-width="0.8" stroke-dasharray="1.1 1.3"/>
<line x1="1035.3" y1="1840.2" x2="1035.3" y2="2138.6" stroke="#000" stroke-opacity="0.55" stroke-width="0.8" stroke-dasharray="1.1 1.3"/>
<line x1="1077.8" y1="1840.2" x2="1077.8" y2="2138.6" stroke="#000" stroke-opacity="0.55" stroke-width="0.8" stroke-dasharray="1.1 1.3"/>
<line x1="1120.2" y1="1840.2" x2="1120.2" y2="2138.6" stroke="#000" stroke-opacity="0.55" stroke-width="0.8" stroke-dasharray="1.1 1.3"/>
<line x1="1162.6" y1="1840.2" x2="1162.6" y2="2138.6" stroke="#000" stroke-opacity="0.55" stroke-width="0.8" stroke-dasharray="1.1 1.3"/>
<line x1="1205.1" y1="1840.2" x2="1205.1" y2="2138.6" stroke="#000" stroke-opacity="0.55" stroke-width="0.8" stroke-dasharray="1.1 1.3"/>
<line x1="1247.5" y1="1840.2" x2="1247.5" y2="2138.6" stroke="#000" stroke-opacity="0.55" stroke-width="0.8" stroke-dasharray="1.1 1.3"/>
<line x1="1290" y1="1840.2" x2="1290" y2="2138.6" stroke="#000" stroke-opacity="0.55" stroke-width="0.8" stroke-dasharray="1.1 1.3"/>
<line x1="695.8" y1="2095.8" x2="1332.4" y2="2095.8" stroke="#000" stroke-opacity="0.55" stroke-width="0.8" stroke-dasharray="1.1 1.3"/>
<line x1="695.8" y1="2053.5" x2="1332.4" y2="2053.5" stroke="#000" stroke-opacity="0.55" stroke-width="0.8" stroke-dasharray="1.1 1.3"/>
<line x1="695.8" y1="2011.1" x2="1332.4" y2="2011.1" stroke="#000" stroke-opacity="0.55" stroke-width="0.8" stroke-dasharray="1.1 1.3"/>
<line x1="695.8" y1="1968.8" x2="1332.4" y2="1968.8" stroke="#000" stroke-opacity="0.55" stroke-width="0.8" stroke-dasharray="1.1 1.3"/>
<line x1="695.8" y1="1926.4" x2="1332.4" y2="1926.4" stroke="#000" stroke-opacity="0.55" stroke-width="0.8" stroke-dasharray="1.1 1.3"/>
<line x1="695.8" y1="1884" x2="1332.4" y2="1884" stroke="#000" stroke-opacity="0.55" stroke-width="0.8" stroke-dasharray="1.1 1.3"/>
</g>
<line x1="58.9" y1="1840.2" x2="1332.4" y2="1840.2" stroke="#000" stroke-width="1.6"/>
<line x1="53.6" y1="2095.8" x2="58.9" y2="2095.8" stroke="#000" stroke-width="1.1"/>
<text x="48.6" y="2100" font-size="12.5" text-anchor="end" style="font-family:'Liberation Serif',serif">0.1</text>
<line x1="53.6" y1="2053.5" x2="58.9" y2="2053.5" stroke="#000" stroke-width="1.1"/>
<text x="48.6" y="2057.7" font-size="12.5" text-anchor="end" style="font-family:'Liberation Serif',serif">0.2</text>
<line x1="53.6" y1="2011.1" x2="58.9" y2="2011.1" stroke="#000" stroke-width="1.1"/>
<text x="48.6" y="2015.3" font-size="12.5" text-anchor="end" style="font-family:'Liberation Serif',serif">0.3</text>
<line x1="53.6" y1="1968.8" x2="58.9" y2="1968.8" stroke="#000" stroke-width="1.1"/>
<text x="48.6" y="1973" font-size="12.5" text-anchor="end" style="font-family:'Liberation Serif',serif">0.4</text>
<line x1="53.6" y1="1926.4" x2="58.9" y2="1926.4" stroke="#000" stroke-width="1.1"/>
<text x="48.6" y="1930.6" font-size="12.5" text-anchor="end" style="font-family:'Liberation Serif',serif">0.5</text>
<line x1="53.6" y1="1884" x2="58.9" y2="1884" stroke="#000" stroke-width="1.1"/>
<text x="48.6" y="1888.2" font-size="12.5" text-anchor="end" style="font-family:'Liberation Serif',serif">0.6</text>
<line x1="53.6" y1="1841.7" x2="58.9" y2="1841.7" stroke="#000" stroke-width="1.1"/>
<text x="48.6" y="1845.9" font-size="12.5" text-anchor="end" style="font-family:'Liberation Serif',serif">0.7</text>
<text x="0" y="0" font-size="12.5" text-anchor="middle" style="font-family:'Liberation Serif',serif" transform="translate(25,1994.4) rotate(-90)">y (m)</text>
<text x="1" y="1849.7" font-size="27" font-weight="bold" style="font-family:'Liberation Sans',sans-serif">H</text>
<path d="M86.4,1850.3 L88.9,1855.6 L93.3,1851.7 L93.6,1857.5 L99.1,1855.6 L97.2,1861.1 L103,1861.4 L99.1,1865.8 L104.4,1868.3 L99.1,1870.8 L103,1875.2 L97.2,1875.5 L99.1,1881 L93.6,1879.1 L93.3,1884.9 L88.9,1881 L86.4,1886.3 L83.9,1881 L79.5,1884.9 L79.2,1879.1 L73.7,1881 L75.6,1875.5 L69.8,1875.2 L73.7,1870.8 L68.4,1868.3 L73.7,1865.8 L69.8,1861.4 L75.6,1861.1 L73.7,1855.6 L79.2,1857.5 L79.5,1851.7 L83.9,1855.6Z" fill="#ffd700"/>
<path d="M722.8,1849.3 A18,18 0 1,0 739.4,1876.1 A15.8,15.8 0 1,1 722.8,1849.3Z" fill="#fff"/><path d="M726.4,1855.3 L727.2,1858.3 L730.2,1859.1 L727.2,1859.9 L726.4,1862.9 L725.6,1859.9 L722.6,1859.1 L725.6,1858.3Z" fill="#fff"/><path d="M723.4,1866.3 L723.8,1867.9 L725.4,1868.3 L723.8,1868.7 L723.4,1870.3 L723,1868.7 L721.4,1868.3 L723,1867.9Z" fill="#fff"/><path d="M731.8,1869.8 L732.3,1871.8 L734.3,1872.3 L732.3,1872.8 L731.8,1874.8 L731.3,1872.8 L729.3,1872.3 L731.3,1871.8Z" fill="#fff"/>
<rect x="117.4" y="2033.5" width="131.9" height="40.6" rx="2.5" fill="#fff" fill-opacity="0.9" stroke="#d0d0d0" stroke-width="1"/>
<rect x="123" y="2039.5" width="24.5" height="8.5" fill="#fdc36c"/>
<line x1="123" y1="2061.5" x2="147.5" y2="2061.5" stroke="#000" stroke-width="1.5"/>
<text x="158" y="2048" font-size="13" style="font-family:'Liberation Serif',serif">Coral presence</text>
<text x="158" y="2065.5" font-size="13" style="font-family:'Liberation Serif',serif">Bathymetry</text>
<line x1="58.9" y1="947.4" x2="58.9" y2="2138.6" stroke="#000" stroke-width="1.5"/>
<line x1="695.8" y1="947.4" x2="695.8" y2="2138.6" stroke="#000" stroke-opacity="0.55" stroke-width="1.5"/>
<line x1="1333" y1="947.4" x2="1333" y2="2138.6" stroke="#000" stroke-opacity="0.55" stroke-width="1.5"/>
<line x1="58.9" y1="2138.6" x2="1332.4" y2="2138.6" stroke="#000" stroke-width="1.6"/>
<line x1="58.9" y1="2138.6" x2="58.9" y2="2143.6" stroke="#000" stroke-width="1.1"/>
<text x="58.9" y="2157.4" font-size="12.5" text-anchor="middle" style="font-family:'Liberation Serif',serif">0.0</text>
<line x1="101.3" y1="2138.6" x2="101.3" y2="2143.6" stroke="#000" stroke-width="1.1"/>
<text x="101.3" y="2157.4" font-size="12.5" text-anchor="middle" style="font-family:'Liberation Serif',serif">0.1</text>
<line x1="143.8" y1="2138.6" x2="143.8" y2="2143.6" stroke="#000" stroke-width="1.1"/>
<text x="143.8" y="2157.4" font-size="12.5" text-anchor="middle" style="font-family:'Liberation Serif',serif">0.2</text>
<line x1="186.2" y1="2138.6" x2="186.2" y2="2143.6" stroke="#000" stroke-width="1.1"/>
<text x="186.2" y="2157.4" font-size="12.5" text-anchor="middle" style="font-family:'Liberation Serif',serif">0.3</text>
<line x1="228.7" y1="2138.6" x2="228.7" y2="2143.6" stroke="#000" stroke-width="1.1"/>
<text x="228.7" y="2157.4" font-size="12.5" text-anchor="middle" style="font-family:'Liberation Serif',serif">0.4</text>
<line x1="271.1" y1="2138.6" x2="271.1" y2="2143.6" stroke="#000" stroke-width="1.1"/>
<text x="271.1" y="2157.4" font-size="12.5" text-anchor="middle" style="font-family:'Liberation Serif',serif">0.5</text>
<line x1="313.5" y1="2138.6" x2="313.5" y2="2143.6" stroke="#000" stroke-width="1.1"/>
<text x="313.5" y="2157.4" font-size="12.5" text-anchor="middle" style="font-family:'Liberation Serif',serif">0.6</text>
<line x1="356" y1="2138.6" x2="356" y2="2143.6" stroke="#000" stroke-width="1.1"/>
<text x="356" y="2157.4" font-size="12.5" text-anchor="middle" style="font-family:'Liberation Serif',serif">0.7</text>
<line x1="398.4" y1="2138.6" x2="398.4" y2="2143.6" stroke="#000" stroke-width="1.1"/>
<text x="398.4" y="2157.4" font-size="12.5" text-anchor="middle" style="font-family:'Liberation Serif',serif">0.8</text>
<line x1="440.9" y1="2138.6" x2="440.9" y2="2143.6" stroke="#000" stroke-width="1.1"/>
<text x="440.9" y="2157.4" font-size="12.5" text-anchor="middle" style="font-family:'Liberation Serif',serif">0.9</text>
<line x1="483.3" y1="2138.6" x2="483.3" y2="2143.6" stroke="#000" stroke-width="1.1"/>
<text x="483.3" y="2157.4" font-size="12.5" text-anchor="middle" style="font-family:'Liberation Serif',serif">1.0</text>
<line x1="525.7" y1="2138.6" x2="525.7" y2="2143.6" stroke="#000" stroke-width="1.1"/>
<text x="525.7" y="2157.4" font-size="12.5" text-anchor="middle" style="font-family:'Liberation Serif',serif">1.1</text>
<line x1="568.2" y1="2138.6" x2="568.2" y2="2143.6" stroke="#000" stroke-width="1.1"/>
<text x="568.2" y="2157.4" font-size="12.5" text-anchor="middle" style="font-family:'Liberation Serif',serif">1.2</text>
<line x1="610.6" y1="2138.6" x2="610.6" y2="2143.6" stroke="#000" stroke-width="1.1"/>
<text x="610.6" y="2157.4" font-size="12.5" text-anchor="middle" style="font-family:'Liberation Serif',serif">1.3</text>
<line x1="653.1" y1="2138.6" x2="653.1" y2="2143.6" stroke="#000" stroke-width="1.1"/>
<text x="653.1" y="2157.4" font-size="12.5" text-anchor="middle" style="font-family:'Liberation Serif',serif">1.4</text>
<line x1="695.5" y1="2138.6" x2="695.5" y2="2143.6" stroke="#000" stroke-width="1.1"/>
<text x="686.5" y="2157.4" font-size="12.5" text-anchor="middle" style="font-family:'Liberation Serif',serif">1.5</text>
<text x="376.9" y="2176.5" font-size="13.5" text-anchor="middle" style="font-family:'Liberation Serif',serif">x (m)</text>
<line x1="695.8" y1="2138.6" x2="695.8" y2="2143.6" stroke="#000" stroke-width="1.1"/>
<text x="707.8" y="2157.4" font-size="12.5" text-anchor="middle" style="font-family:'Liberation Serif',serif">0.0</text>
<line x1="738.2" y1="2138.6" x2="738.2" y2="2143.6" stroke="#000" stroke-width="1.1"/>
<text x="738.2" y="2157.4" font-size="12.5" text-anchor="middle" style="font-family:'Liberation Serif',serif">0.1</text>
<line x1="780.7" y1="2138.6" x2="780.7" y2="2143.6" stroke="#000" stroke-width="1.1"/>
<text x="780.7" y="2157.4" font-size="12.5" text-anchor="middle" style="font-family:'Liberation Serif',serif">0.2</text>
<line x1="823.1" y1="2138.6" x2="823.1" y2="2143.6" stroke="#000" stroke-width="1.1"/>
<text x="823.1" y="2157.4" font-size="12.5" text-anchor="middle" style="font-family:'Liberation Serif',serif">0.3</text>
<line x1="865.6" y1="2138.6" x2="865.6" y2="2143.6" stroke="#000" stroke-width="1.1"/>
<text x="865.6" y="2157.4" font-size="12.5" text-anchor="middle" style="font-family:'Liberation Serif',serif">0.4</text>
<line x1="908" y1="2138.6" x2="908" y2="2143.6" stroke="#000" stroke-width="1.1"/>
<text x="908" y="2157.4" font-size="12.5" text-anchor="middle" style="font-family:'Liberation Serif',serif">0.5</text>
<line x1="950.4" y1="2138.6" x2="950.4" y2="2143.6" stroke="#000" stroke-width="1.1"/>
<text x="950.4" y="2157.4" font-size="12.5" text-anchor="middle" style="font-family:'Liberation Serif',serif">0.6</text>
<line x1="992.9" y1="2138.6" x2="992.9" y2="2143.6" stroke="#000" stroke-width="1.1"/>
<text x="992.9" y="2157.4" font-size="12.5" text-anchor="middle" style="font-family:'Liberation Serif',serif">0.7</text>
<line x1="1035.3" y1="2138.6" x2="1035.3" y2="2143.6" stroke="#000" stroke-width="1.1"/>
<text x="1035.3" y="2157.4" font-size="12.5" text-anchor="middle" style="font-family:'Liberation Serif',serif">0.8</text>
<line x1="1077.8" y1="2138.6" x2="1077.8" y2="2143.6" stroke="#000" stroke-width="1.1"/>
<text x="1077.8" y="2157.4" font-size="12.5" text-anchor="middle" style="font-family:'Liberation Serif',serif">0.9</text>
<line x1="1120.2" y1="2138.6" x2="1120.2" y2="2143.6" stroke="#000" stroke-width="1.1"/>
<text x="1120.2" y="2157.4" font-size="12.5" text-anchor="middle" style="font-family:'Liberation Serif',serif">1.0</text>
<line x1="1162.6" y1="2138.6" x2="1162.6" y2="2143.6" stroke="#000" stroke-width="1.1"/>
<text x="1162.6" y="2157.4" font-size="12.5" text-anchor="middle" style="font-family:'Liberation Serif',serif">1.1</text>
<line x1="1205.1" y1="2138.6" x2="1205.1" y2="2143.6" stroke="#000" stroke-width="1.1"/>
<text x="1205.1" y="2157.4" font-size="12.5" text-anchor="middle" style="font-family:'Liberation Serif',serif">1.2</text>
<line x1="1247.5" y1="2138.6" x2="1247.5" y2="2143.6" stroke="#000" stroke-width="1.1"/>
<text x="1247.5" y="2157.4" font-size="12.5" text-anchor="middle" style="font-family:'Liberation Serif',serif">1.3</text>
<line x1="1290" y1="2138.6" x2="1290" y2="2143.6" stroke="#000" stroke-width="1.1"/>
<text x="1290" y="2157.4" font-size="12.5" text-anchor="middle" style="font-family:'Liberation Serif',serif">1.4</text>
<line x1="1332.4" y1="2138.6" x2="1332.4" y2="2143.6" stroke="#000" stroke-width="1.1"/>
<text x="1332.4" y="2157.4" font-size="12.5" text-anchor="middle" style="font-family:'Liberation Serif',serif">1.5</text>
<text x="1013.8" y="2176.5" font-size="13.5" text-anchor="middle" style="font-family:'Liberation Serif',serif">x (m)</text>
<rect x="416.4" y="2183.5" width="31.5" height="16.9" fill="#ffff00"/>
<rect x="447.5" y="2183.5" width="31.5" height="16.9" fill="#ffc000"/>
<rect x="478.6" y="2183.5" width="31.5" height="16.9" fill="#ff8000"/>
<rect x="509.8" y="2183.5" width="31.5" height="16.9" fill="#ff4000"/>
<rect x="540.9" y="2183.5" width="31.5" height="16.9" fill="#ff0000"/>
<rect x="572" y="2183.5" width="31.5" height="16.9" fill="#e4001c"/>
<rect x="603.1" y="2183.5" width="31.5" height="16.9" fill="#cc0030"/>
<rect x="634.3" y="2183.5" width="31.5" height="16.9" fill="#b40040"/>
<rect x="665.4" y="2183.5" width="31.5" height="16.9" fill="#980050"/>
<rect x="696.5" y="2183.5" width="31.5" height="16.9" fill="#800070"/>
<rect x="727.6" y="2183.5" width="31.5" height="16.9" fill="#300070"/>
<rect x="758.8" y="2183.5" width="31.5" height="16.9" fill="#000070"/>
<rect x="789.9" y="2183.5" width="31.5" height="16.9" fill="#0000b4"/>
<rect x="821" y="2183.5" width="31.5" height="16.9" fill="#0000ff"/>
<rect x="852.1" y="2183.5" width="31.5" height="16.9" fill="#0080ff"/>
<rect x="883.3" y="2183.5" width="31.5" height="16.9" fill="#00ffff"/>
<rect x="914.4" y="2183.5" width="31.5" height="16.9" fill="#40ffff"/>
<rect x="945.5" y="2183.5" width="31.5" height="16.9" fill="#80ffff"/>
<rect x="976.6" y="2183.5" width="31.5" height="16.9" fill="#c0ffff"/>
<rect x="1007.8" y="2183.5" width="31.5" height="16.9" fill="#ffffff"/>
<path d="M416.4,2183.5 L385.6,2191.9 L416.4,2200.4 Z" fill="#ffff00"/>
<path d="M1038.9,2183.5 L1070.3,2191.9 L1038.9,2200.4 Z" fill="#fff"/>
<path d="M416.4,2183.5 L1038.9,2183.5 L1070.3,2191.9 L1038.9,2200.4 L416.4,2200.4 L385.6,2191.9 Z" fill="none" stroke="#000" stroke-width="1"/>
<line x1="416.4" y1="2200.4" x2="416.4" y2="2204.4" stroke="#000" stroke-width="1"/>
<text x="416.4" y="2219" font-size="12.5" text-anchor="middle" style="font-family:'Liberation Serif',serif">180</text>
<line x1="540.9" y1="2200.4" x2="540.9" y2="2204.4" stroke="#000" stroke-width="1"/>
<text x="540.9" y="2219" font-size="12.5" text-anchor="middle" style="font-family:'Liberation Serif',serif">185</text>
<line x1="665.4" y1="2200.4" x2="665.4" y2="2204.4" stroke="#000" stroke-width="1"/>
<text x="665.4" y="2219" font-size="12.5" text-anchor="middle" style="font-family:'Liberation Serif',serif">190</text>
<line x1="789.9" y1="2200.4" x2="789.9" y2="2204.4" stroke="#000" stroke-width="1"/>
<text x="789.9" y="2219" font-size="12.5" text-anchor="middle" style="font-family:'Liberation Serif',serif">195</text>
<line x1="914.4" y1="2200.4" x2="914.4" y2="2204.4" stroke="#000" stroke-width="1"/>
<text x="914.4" y="2219" font-size="12.5" text-anchor="middle" style="font-family:'Liberation Serif',serif">200</text>
<line x1="1038.9" y1="2200.4" x2="1038.9" y2="2204.4" stroke="#000" stroke-width="1"/>
<text x="1038.9" y="2219" font-size="12.5" text-anchor="middle" style="font-family:'Liberation Serif',serif">205</text>
<text x="717" y="2238.5" font-size="13.2" text-anchor="middle" style="font-family:'Liberation Serif',serif">Dissolved oxygen concentration (<tspan font-style="italic">μ</tspan>mol L<tspan dy="-5" font-size="9">−1</tspan><tspan dy="5">)</tspan></text>
</svg></body></html>
